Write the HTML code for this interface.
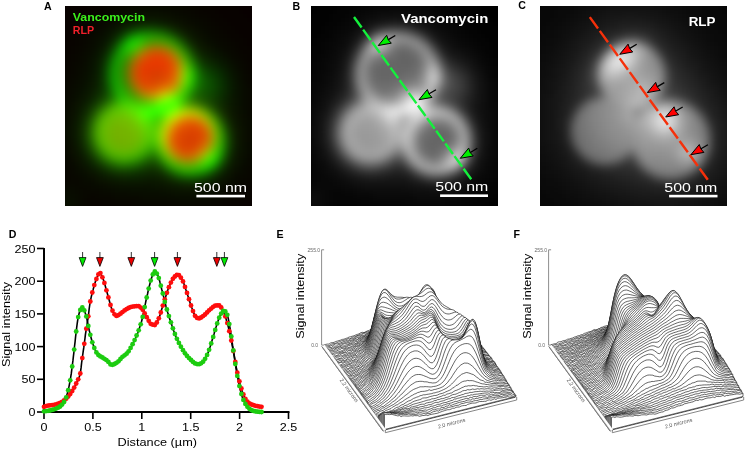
<!DOCTYPE html><html><head><meta charset="utf-8"><style>html,body{margin:0;padding:0;background:#fff;width:750px;height:450px;overflow:hidden}svg{display:block}</style></head><body>
<svg width="750" height="450" viewBox="0 0 750 450">
<defs><filter id="bl" x="-5%" y="-5%" width="110%" height="110%" color-interpolation-filters="sRGB"><feGaussianBlur stdDeviation="2.6"/></filter></defs>
<rect width="750" height="450" fill="#fff"/>
<svg x="65" y="6" width="187" height="200" viewBox="0 0 187 200" overflow="hidden"><rect width="187" height="200" fill="#000"/><g filter="url(#bl)"><path fill="#080000" d="M-8 -8h204v4h-204zM-8 -4h204v4h-204zM-8 0h204v4h-204zM-8 4h204v4h-204zM-8 8h84v4h-84zM108 8h88v4h-88zM-8 12h72v4h-72zM120 12h76v4h-76zM-8 16h64v4h-64zM128 16h68v4h-68zM-8 20h60v4h-60zM132 20h64v4h-64zM-8 24h56v4h-56zM136 24h60v4h-60zM-8 28h52v4h-52zM140 28h56v4h-56zM-8 32h52v4h-52zM140 32h56v4h-56zM-8 36h48v4h-48zM144 36h52v4h-52zM-8 40h44v4h-44zM148 40h48v4h-48zM-8 44h44v4h-44zM148 44h48v4h-48zM-8 48h44v4h-44zM148 48h48v4h-48zM-8 52h40v4h-40zM152 52h44v4h-44zM-8 56h40v4h-40zM152 56h44v4h-44zM-8 60h40v4h-40zM152 60h44v4h-44zM-8 64h40v4h-40zM152 64h44v4h-44zM-8 68h36v4h-36zM152 68h44v4h-44zM-8 72h36v4h-36zM156 72h40v4h-40zM-8 76h32v4h-32zM156 76h40v4h-40zM-8 80h32v4h-32zM160 80h36v4h-36zM-8 84h28v4h-28zM164 84h32v4h-32zM-8 88h24v4h-24zM168 88h28v4h-28zM-8 92h20v4h-20zM172 92h24v4h-24zM-8 96h16v4h-16zM172 96h24v4h-24zM-8 100h16v4h-16zM176 100h20v4h-20zM-8 104h12v4h-12zM176 104h20v4h-20zM-8 108h12v4h-12zM180 108h16v4h-16zM-8 112h12v4h-12zM180 112h16v4h-16zM-8 116h12v4h-12zM180 116h16v4h-16zM-8 120h12v4h-12zM180 120h16v4h-16zM-8 124h12v4h-12zM184 124h12v4h-12zM-8 128h12v4h-12zM184 128h12v4h-12zM-8 132h12v4h-12zM184 132h12v4h-12zM-8 136h12v4h-12zM180 136h16v4h-16zM-8 140h12v4h-12zM180 140h16v4h-16zM-8 144h12v4h-12zM180 144h16v4h-16zM-8 148h16v4h-16zM180 148h16v4h-16zM-8 152h16v4h-16zM176 152h20v4h-20zM-8 156h20v4h-20zM176 156h20v4h-20zM-8 160h24v4h-24zM172 160h24v4h-24zM-8 164h28v4h-28zM172 164h24v4h-24zM-8 168h32v4h-32zM168 168h28v4h-28zM-8 172h36v4h-36zM164 172h32v4h-32zM-8 176h44v4h-44zM160 176h36v4h-36zM-8 180h100v4h-100zM152 180h44v4h-44zM-8 184h112v4h-112zM144 184h52v4h-52zM-8 188h204v4h-204zM-8 192h204v4h-204zM-8 196h204v4h-204zM-8 200h204v4h-204zM-8 204h204v4h-204z"/><path fill="#0a0000" d="M76 8h32v4h-32zM64 12h56v4h-56zM56 16h16v4h-16zM112 16h16v4h-16zM52 20h12v4h-12zM120 20h12v4h-12zM48 24h12v4h-12zM124 24h12v4h-12zM44 28h12v4h-12zM128 28h12v4h-12zM44 32h8v4h-8zM132 32h8v4h-8zM40 36h8v4h-8zM136 36h8v4h-8zM36 40h8v4h-8zM140 40h8v4h-8zM36 44h8v4h-8zM140 44h8v4h-8zM36 48h8v4h-8zM140 48h8v4h-8zM32 52h8v4h-8zM144 52h8v4h-8zM32 56h8v4h-8zM144 56h8v4h-8zM32 60h8v4h-8zM144 60h8v4h-8zM32 64h8v4h-8zM144 64h8v4h-8zM28 68h12v4h-12zM144 68h8v4h-8zM28 72h8v4h-8zM148 72h8v4h-8zM24 76h12v4h-12zM148 76h8v4h-8zM24 80h8v4h-8zM152 80h8v4h-8zM20 84h8v4h-8zM152 84h12v4h-12zM16 88h8v4h-8zM156 88h12v4h-12zM12 92h12v4h-12zM160 92h12v4h-12zM8 96h12v4h-12zM164 96h8v4h-8zM8 100h8v4h-8zM168 100h8v4h-8zM4 104h12v4h-12zM168 104h8v4h-8zM4 108h8v4h-8zM172 108h8v4h-8zM4 112h8v4h-8zM172 112h8v4h-8zM4 116h8v4h-8zM172 116h8v4h-8zM4 120h8v4h-8zM176 120h4v4h-4zM4 124h8v4h-8zM176 124h8v4h-8zM4 128h8v4h-8zM176 128h8v4h-8zM4 132h8v4h-8zM176 132h8v4h-8zM4 136h8v4h-8zM176 136h4v4h-4zM4 140h8v4h-8zM172 140h8v4h-8zM4 144h12v4h-12zM172 144h8v4h-8zM8 148h8v4h-8zM172 148h8v4h-8zM8 152h12v4h-12zM168 152h8v4h-8zM12 156h12v4h-12zM168 156h8v4h-8zM16 160h12v4h-12zM164 160h8v4h-8zM20 164h12v4h-12zM160 164h12v4h-12zM24 168h16v4h-16zM156 168h12v4h-12zM28 172h28v4h-28zM60 172h32v4h-32zM152 172h12v4h-12zM36 176h64v4h-64zM144 176h16v4h-16zM92 180h24v4h-24zM128 180h24v4h-24zM104 184h40v4h-40z"/><path fill="#0c0000" d="M72 16h40v4h-40zM64 20h8v4h-8zM112 20h8v4h-8zM60 24h4v4h-4zM120 24h4v4h-4zM56 28h4v4h-4zM124 28h4v4h-4zM52 32h4v4h-4zM128 32h4v4h-4zM48 36h4v4h-4zM132 36h4v4h-4zM44 40h8v4h-8zM132 40h8v4h-8zM44 44h4v4h-4zM136 44h4v4h-4zM44 48h4v4h-4zM136 48h4v4h-4zM40 52h4v4h-4zM140 52h4v4h-4zM40 56h4v4h-4zM140 56h4v4h-4zM40 60h4v4h-4zM140 60h4v4h-4zM40 64h4v4h-4zM140 64h4v4h-4zM40 68h4v4h-4zM140 68h4v4h-4zM36 72h4v4h-4zM144 72h4v4h-4zM36 76h4v4h-4zM144 76h4v4h-4zM32 80h8v4h-8zM144 80h8v4h-8zM28 84h8v4h-8zM148 84h4v4h-4zM24 88h8v4h-8zM152 88h4v4h-4zM24 92h4v4h-4zM156 92h4v4h-4zM20 96h4v4h-4zM160 96h4v4h-4zM16 100h4v4h-4zM164 100h4v4h-4zM16 104h4v4h-4zM164 104h4v4h-4zM12 108h4v4h-4zM168 108h4v4h-4zM12 112h4v4h-4zM168 112h4v4h-4zM12 116h4v4h-4zM168 116h4v4h-4zM172 120h4v4h-4zM172 124h4v4h-4zM172 128h4v4h-4zM12 132h4v4h-4zM172 132h4v4h-4zM12 136h4v4h-4zM172 136h4v4h-4zM12 140h4v4h-4zM168 140h4v4h-4zM16 144h4v4h-4zM168 144h4v4h-4zM16 148h4v4h-4zM168 148h4v4h-4zM20 152h4v4h-4zM164 152h4v4h-4zM24 156h4v4h-4zM164 156h4v4h-4zM28 160h4v4h-4zM160 160h4v4h-4zM32 164h8v4h-8zM156 164h4v4h-4zM40 168h12v4h-12zM64 168h28v4h-28zM152 168h4v4h-4zM56 172h4v4h-4zM92 172h8v4h-8zM144 172h8v4h-8zM100 176h16v4h-16zM128 176h16v4h-16zM116 180h12v4h-12z"/><path fill="#0e0000" d="M72 20h8v4h-8zM104 20h8v4h-8zM64 24h8v4h-8zM112 24h8v4h-8zM60 28h4v4h-4zM120 28h4v4h-4zM56 32h4v4h-4zM124 32h4v4h-4zM52 36h4v4h-4zM128 36h4v4h-4zM48 44h4v4h-4zM132 44h4v4h-4zM44 52h4v4h-4zM136 52h4v4h-4zM44 56h4v4h-4zM136 56h4v4h-4zM136 60h4v4h-4zM40 72h4v4h-4zM140 72h4v4h-4zM40 76h4v4h-4zM140 76h4v4h-4zM40 80h4v4h-4zM140 80h4v4h-4zM36 84h4v4h-4zM144 84h4v4h-4zM32 88h4v4h-4zM148 88h4v4h-4zM28 92h4v4h-4zM152 92h4v4h-4zM24 96h4v4h-4zM156 96h4v4h-4zM20 100h4v4h-4zM160 100h4v4h-4zM16 108h4v4h-4zM164 108h4v4h-4zM164 112h4v4h-4zM12 120h4v4h-4zM168 120h4v4h-4zM12 124h4v4h-4zM168 124h4v4h-4zM12 128h4v4h-4zM168 128h4v4h-4zM168 132h4v4h-4zM168 136h4v4h-4zM16 140h4v4h-4zM164 144h4v4h-4zM20 148h4v4h-4zM164 148h4v4h-4zM24 152h4v4h-4zM28 156h4v4h-4zM160 156h4v4h-4zM32 160h4v4h-4zM156 160h4v4h-4zM40 164h4v4h-4zM72 164h20v4h-20zM152 164h4v4h-4zM52 168h12v4h-12zM92 168h8v4h-8zM144 168h8v4h-8zM100 172h8v4h-8zM136 172h8v4h-8zM116 176h12v4h-12z"/><path fill="#100000" d="M80 20h24v4h-24zM72 24h4v4h-4zM108 24h4v4h-4zM64 28h4v4h-4zM116 28h4v4h-4zM60 32h4v4h-4zM120 32h4v4h-4zM56 36h4v4h-4zM124 36h4v4h-4zM52 40h4v4h-4zM128 40h4v4h-4zM48 48h4v4h-4zM132 48h4v4h-4zM44 60h4v4h-4zM44 64h4v4h-4zM136 64h4v4h-4zM44 68h4v4h-4zM136 68h4v4h-4zM44 72h4v4h-4zM136 72h4v4h-4zM44 76h4v4h-4zM136 76h4v4h-4zM40 84h4v4h-4zM140 84h4v4h-4zM144 88h4v4h-4zM148 92h4v4h-4zM152 96h4v4h-4zM156 100h4v4h-4zM20 104h4v4h-4zM160 104h4v4h-4zM16 112h4v4h-4zM16 116h4v4h-4zM164 116h4v4h-4zM16 132h4v4h-4zM16 136h4v4h-4zM164 140h4v4h-4zM20 144h4v4h-4zM160 152h4v4h-4zM156 156h4v4h-4zM36 160h4v4h-4zM84 160h4v4h-4zM152 160h4v4h-4zM44 164h8v4h-8zM64 164h8v4h-8zM92 164h4v4h-4zM148 164h4v4h-4zM100 168h4v4h-4zM140 168h4v4h-4zM108 172h28v4h-28z"/><path fill="#120000" d="M76 24h4v4h-4zM104 24h4v4h-4zM68 28h4v4h-4zM112 28h4v4h-4zM52 44h4v4h-4zM128 44h4v4h-4zM48 52h4v4h-4zM132 52h4v4h-4zM48 56h4v4h-4zM132 56h4v4h-4zM44 80h4v4h-4zM136 80h4v4h-4zM136 84h4v4h-4zM36 88h4v4h-4zM140 88h4v4h-4zM32 92h4v4h-4zM28 96h4v4h-4zM24 100h4v4h-4zM20 108h4v4h-4zM160 108h4v4h-4zM16 120h4v4h-4zM164 120h4v4h-4zM16 124h4v4h-4zM164 124h4v4h-4zM16 128h4v4h-4zM164 128h4v4h-4zM164 132h4v4h-4zM164 136h4v4h-4zM20 140h4v4h-4zM24 148h4v4h-4zM160 148h4v4h-4zM28 152h4v4h-4zM32 156h4v4h-4zM40 160h4v4h-4zM76 160h8v4h-8zM88 160h4v4h-4zM52 164h12v4h-12zM96 164h4v4h-4zM144 164h4v4h-4zM104 168h4v4h-4zM136 168h4v4h-4z"/><path fill="#140000" d="M80 24h4v4h-4zM100 24h4v4h-4zM64 32h4v4h-4zM116 32h4v4h-4zM60 36h4v4h-4zM120 36h4v4h-4zM56 40h4v4h-4zM124 40h4v4h-4zM52 48h4v4h-4zM128 48h4v4h-4zM48 60h4v4h-4zM132 60h4v4h-4zM48 64h4v4h-4zM132 64h4v4h-4zM48 68h4v4h-4zM132 68h4v4h-4zM48 72h4v4h-4zM132 72h4v4h-4zM48 76h4v4h-4zM132 76h4v4h-4zM44 84h4v4h-4zM40 88h4v4h-4zM144 92h4v4h-4zM148 96h4v4h-4zM152 100h4v4h-4zM156 104h4v4h-4zM160 112h4v4h-4zM160 144h4v4h-4zM156 152h4v4h-4zM152 156h4v4h-4zM72 160h4v4h-4zM92 160h4v4h-4zM148 160h4v4h-4zM108 168h4v4h-4zM132 168h4v4h-4z"/><path fill="#160000" d="M84 24h16v4h-16zM72 28h4v4h-4zM108 28h4v4h-4zM48 80h4v4h-4zM132 80h4v4h-4zM132 84h4v4h-4zM136 88h4v4h-4zM36 92h4v4h-4zM24 104h4v4h-4zM20 112h4v4h-4zM160 116h4v4h-4zM20 136h4v4h-4zM160 140h4v4h-4zM24 144h4v4h-4zM36 156h4v4h-4zM80 156h12v4h-12zM44 160h4v4h-4zM68 160h4v4h-4zM100 164h4v4h-4zM140 164h4v4h-4zM112 168h4v4h-4zM128 168h4v4h-4z"/><path fill="#180000" d="M56 44h4v4h-4zM124 44h4v4h-4zM52 52h4v4h-4zM128 52h4v4h-4zM48 84h4v4h-4zM44 88h4v4h-4zM140 92h4v4h-4zM32 96h4v4h-4zM28 100h4v4h-4zM156 108h4v4h-4zM20 116h4v4h-4zM160 120h4v4h-4zM20 132h4v4h-4zM160 136h4v4h-4zM28 148h4v4h-4zM156 148h4v4h-4zM32 152h4v4h-4zM76 156h4v4h-4zM48 160h4v4h-4zM64 160h4v4h-4zM96 160h4v4h-4zM104 164h4v4h-4zM116 168h12v4h-12z"/><path fill="#1a0000" d="M76 28h4v4h-4zM104 28h4v4h-4zM68 32h4v4h-4zM112 32h4v4h-4zM132 88h4v4h-4zM144 96h4v4h-4zM152 104h4v4h-4zM24 108h4v4h-4zM20 120h4v4h-4zM20 124h4v4h-4zM160 124h4v4h-4zM20 128h4v4h-4zM160 132h4v4h-4zM24 140h4v4h-4zM152 152h4v4h-4zM40 156h4v4h-4zM92 156h4v4h-4zM52 160h12v4h-12zM144 160h4v4h-4zM136 164h4v4h-4z"/><path fill="#1c0000" d="M64 36h4v4h-4zM116 36h4v4h-4zM60 40h4v4h-4zM120 40h4v4h-4zM52 56h4v4h-4zM128 56h4v4h-4zM52 76h4v4h-4zM128 76h4v4h-4zM52 80h4v4h-4zM128 80h4v4h-4zM52 84h4v4h-4zM128 84h4v4h-4zM40 92h4v4h-4zM148 100h4v4h-4zM156 112h4v4h-4zM160 128h4v4h-4zM156 144h4v4h-4zM84 152h8v4h-8zM72 156h4v4h-4zM148 156h4v4h-4z"/><path fill="#1e0000" d="M80 28h4v4h-4zM100 28h4v4h-4zM52 60h4v4h-4zM128 60h4v4h-4zM52 72h4v4h-4zM128 72h4v4h-4zM48 88h4v4h-4zM136 92h4v4h-4zM80 152h4v4h-4zM100 160h4v4h-4zM108 164h4v4h-4z"/><path fill="#200000" d="M56 48h4v4h-4zM124 48h4v4h-4zM52 64h4v4h-4zM128 64h4v4h-4zM52 68h4v4h-4zM128 68h4v4h-4zM128 88h4v4h-4zM36 96h4v4h-4zM28 104h4v4h-4zM24 112h4v4h-4zM24 136h4v4h-4zM28 144h4v4h-4zM32 148h4v4h-4zM36 152h4v4h-4zM44 156h4v4h-4zM68 156h4v4h-4zM132 164h4v4h-4z"/><path fill="#220000" d="M84 28h4v4h-4zM96 28h4v4h-4zM72 32h4v4h-4zM108 32h4v4h-4zM52 88h4v4h-4zM44 92h4v4h-4zM32 100h4v4h-4zM156 116h4v4h-4zM156 140h4v4h-4zM76 152h4v4h-4zM96 156h4v4h-4zM140 160h4v4h-4zM112 164h4v4h-4z"/><path fill="#240000" d="M88 28h8v4h-8zM124 84h4v4h-4zM132 92h4v4h-4zM140 96h4v4h-4zM152 108h4v4h-4zM24 116h4v4h-4zM24 132h4v4h-4zM84 148h4v4h-4zM152 148h4v4h-4zM92 152h4v4h-4zM48 156h4v4h-4zM64 156h4v4h-4zM128 164h4v4h-4z"/><path fill="#260000" d="M68 36h4v4h-4zM112 36h4v4h-4zM60 44h4v4h-4zM120 44h4v4h-4zM56 52h4v4h-4zM124 52h4v4h-4zM56 84h4v4h-4zM124 88h4v4h-4zM88 148h4v4h-4zM144 156h4v4h-4zM116 164h4v4h-4z"/><path fill="#280000" d="M64 40h4v4h-4zM116 40h4v4h-4zM56 80h4v4h-4zM124 80h4v4h-4zM56 88h4v4h-4zM48 92h4v4h-4zM40 96h4v4h-4zM144 100h4v4h-4zM148 104h4v4h-4zM28 108h4v4h-4zM24 120h4v4h-4zM156 120h4v4h-4zM24 124h4v4h-4zM24 128h4v4h-4zM156 136h4v4h-4zM28 140h4v4h-4zM80 148h4v4h-4zM40 152h4v4h-4zM148 152h4v4h-4zM52 156h12v4h-12zM104 160h4v4h-4zM120 164h8v4h-8z"/><path fill="#2a0000" d="M76 32h4v4h-4zM104 32h4v4h-4zM72 152h4v4h-4z"/><path fill="#2c0000" d="M128 92h4v4h-4zM36 100h4v4h-4zM32 104h4v4h-4zM156 124h4v4h-4zM156 132h4v4h-4zM32 144h4v4h-4zM36 148h4v4h-4zM136 160h4v4h-4z"/><path fill="#2e0000" d="M56 56h4v4h-4zM124 56h4v4h-4zM56 76h4v4h-4zM124 76h4v4h-4zM52 92h4v4h-4zM136 96h4v4h-4zM156 128h4v4h-4zM84 144h4v4h-4zM152 144h4v4h-4z"/><path fill="#300000" d="M120 88h4v4h-4zM28 112h4v4h-4zM152 112h4v4h-4zM28 136h4v4h-4zM76 148h4v4h-4zM44 152h4v4h-4zM68 152h4v4h-4zM100 156h4v4h-4z"/><path fill="#320000" d="M60 88h4v4h-4zM56 92h4v4h-4zM124 92h4v4h-4zM44 96h4v4h-4zM88 144h4v4h-4zM92 148h4v4h-4zM108 160h4v4h-4z"/><path fill="#340000" d="M80 32h4v4h-4zM100 32h4v4h-4zM60 48h4v4h-4zM120 48h4v4h-4zM56 60h4v4h-4zM124 60h4v4h-4zM56 72h4v4h-4zM124 72h4v4h-4zM120 84h4v4h-4zM80 144h4v4h-4zM96 152h4v4h-4z"/><path fill="#360000" d="M72 36h4v4h-4zM108 36h4v4h-4zM56 68h4v4h-4zM124 68h4v4h-4zM60 84h4v4h-4zM28 116h4v4h-4zM28 132h4v4h-4zM48 152h4v4h-4zM64 152h4v4h-4zM140 156h4v4h-4zM132 160h4v4h-4z"/><path fill="#380000" d="M56 64h4v4h-4zM124 64h4v4h-4zM60 92h4v4h-4zM120 92h4v4h-4zM40 100h4v4h-4zM140 100h4v4h-4zM88 104h4v4h-4zM32 108h4v4h-4zM32 140h4v4h-4zM40 148h4v4h-4zM148 148h4v4h-4z"/><path fill="#3a0000" d="M48 96h4v4h-4zM132 96h4v4h-4zM36 104h4v4h-4zM84 104h4v4h-4zM88 108h4v4h-4zM148 108h4v4h-4zM28 120h4v4h-4zM28 128h4v4h-4zM84 140h4v4h-4zM36 144h4v4h-4zM72 148h4v4h-4zM52 152h4v4h-4zM60 152h4v4h-4z"/><path fill="#3c0000" d="M84 32h4v4h-4zM96 32h4v4h-4zM64 44h4v4h-4zM116 44h4v4h-4zM92 104h4v4h-4zM144 104h4v4h-4zM152 116h4v4h-4zM28 124h4v4h-4zM152 140h4v4h-4zM56 152h4v4h-4zM144 152h4v4h-4zM112 160h4v4h-4z"/><path fill="#3e0000" d="M68 40h4v4h-4zM112 40h4v4h-4zM64 92h4v4h-4zM84 108h4v4h-4z"/><path fill="#400000" d="M88 32h8v4h-8zM60 80h4v4h-4zM120 80h4v4h-4zM116 88h4v4h-4zM116 92h4v4h-4zM52 96h4v4h-4zM88 140h4v4h-4zM76 144h4v4h-4zM128 160h4v4h-4z"/><path fill="#420000" d="M60 52h4v4h-4zM120 52h4v4h-4zM64 88h4v4h-4zM84 100h8v4h-8zM80 104h4v4h-4zM92 108h4v4h-4zM32 112h4v4h-4zM88 112h4v4h-4zM32 136h4v4h-4zM80 140h4v4h-4zM44 148h4v4h-4zM104 156h4v4h-4z"/><path fill="#440000" d="M56 96h8v4h-8zM44 100h4v4h-4zM80 100h4v4h-4zM92 100h4v4h-4zM84 112h4v4h-4zM68 148h4v4h-4zM116 160h4v4h-4z"/><path fill="#460000" d="M64 96h4v4h-4zM128 96h4v4h-4zM76 100h4v4h-4zM84 136h4v4h-4zM92 144h4v4h-4zM124 160h4v4h-4z"/><path fill="#480000" d="M76 36h4v4h-4zM104 36h4v4h-4zM68 92h4v4h-4zM68 96h4v4h-4zM96 100h4v4h-4zM40 104h4v4h-4zM96 104h4v4h-4zM36 108h4v4h-4zM80 108h4v4h-4zM152 120h4v4h-4zM152 136h4v4h-4zM36 140h4v4h-4zM40 144h4v4h-4zM120 160h4v4h-4z"/><path fill="#4a0000" d="M72 96h4v4h-4zM32 116h4v4h-4zM32 132h4v4h-4zM48 148h4v4h-4zM64 148h4v4h-4zM100 152h4v4h-4zM136 156h4v4h-4z"/><path fill="#4c0000" d="M60 76h4v4h-4zM112 92h4v4h-4zM48 100h4v4h-4zM72 100h4v4h-4zM136 100h4v4h-4zM76 104h4v4h-4zM72 144h4v4h-4zM96 148h4v4h-4z"/><path fill="#4e0000" d="M120 76h4v4h-4zM124 96h4v4h-4zM148 112h4v4h-4zM84 116h8v4h-8zM32 120h4v4h-4zM32 128h4v4h-4zM80 136h4v4h-4zM88 136h4v4h-4zM76 140h4v4h-4zM148 144h4v4h-4zM52 148h4v4h-4zM60 148h4v4h-4z"/><path fill="#500000" d="M64 84h4v4h-4zM116 84h4v4h-4zM76 96h4v4h-4zM68 100h4v4h-4zM100 100h4v4h-4zM80 112h4v4h-4zM92 112h4v4h-4zM32 124h4v4h-4zM152 124h4v4h-4zM84 132h4v4h-4zM152 132h4v4h-4zM56 148h4v4h-4z"/><path fill="#520000" d="M60 56h4v4h-4zM120 56h4v4h-4zM120 96h4v4h-4zM52 100h4v4h-4zM152 128h4v4h-4z"/><path fill="#540000" d="M64 48h4v4h-4zM116 48h4v4h-4zM108 96h12v4h-12zM64 100h4v4h-4zM44 104h4v4h-4zM72 104h4v4h-4zM76 108h4v4h-4zM36 112h4v4h-4zM84 120h4v4h-4zM36 136h4v4h-4zM44 144h4v4h-4zM108 156h4v4h-4z"/><path fill="#560000" d="M80 96h4v4h-4zM104 96h4v4h-4zM56 100h8v4h-8zM40 108h4v4h-4zM84 128h4v4h-4zM40 140h4v4h-4zM68 144h4v4h-4zM140 152h4v4h-4z"/><path fill="#580000" d="M80 36h4v4h-4zM100 36h4v4h-4zM72 40h4v4h-4zM108 40h4v4h-4zM60 72h4v4h-4zM120 72h4v4h-4zM68 88h4v4h-4zM72 92h4v4h-4zM140 104h4v4h-4zM96 108h4v4h-4zM144 108h4v4h-4zM80 116h4v4h-4zM88 120h4v4h-4zM84 124h4v4h-4zM80 132h4v4h-4zM88 132h4v4h-4zM144 148h4v4h-4z"/><path fill="#5a0000" d="M112 88h4v4h-4zM108 92h4v4h-4zM100 96h4v4h-4zM104 100h4v4h-4zM36 116h4v4h-4zM36 132h4v4h-4zM76 136h4v4h-4zM72 140h4v4h-4zM92 140h4v4h-4zM48 144h4v4h-4z"/><path fill="#5c0000" d="M68 44h4v4h-4zM112 44h4v4h-4zM60 60h4v4h-4zM120 60h4v4h-4zM84 96h4v4h-4zM48 104h4v4h-4zM68 104h4v4h-4zM100 104h4v4h-4zM80 120h4v4h-4zM80 128h4v4h-4zM64 144h4v4h-4zM132 156h4v4h-4z"/><path fill="#5e0000" d="M96 96h4v4h-4zM76 112h4v4h-4zM36 120h4v4h-4zM80 124h4v4h-4zM88 124h4v4h-4zM36 128h4v4h-4zM88 128h4v4h-4zM52 144h4v4h-4z"/><path fill="#600000" d="M60 64h4v4h-4zM120 64h4v4h-4zM60 68h4v4h-4zM120 68h4v4h-4zM88 96h4v4h-4zM132 100h4v4h-4zM52 104h4v4h-4zM44 108h4v4h-4zM72 108h4v4h-4zM40 112h4v4h-4zM36 124h4v4h-4zM40 136h4v4h-4zM44 140h4v4h-4zM56 144h8v4h-8z"/><path fill="#620000" d="M92 96h4v4h-4zM64 104h4v4h-4zM92 116h4v4h-4zM76 132h4v4h-4zM68 140h4v4h-4z"/><path fill="#640000" d="M64 80h4v4h-4zM116 80h4v4h-4zM56 104h8v4h-8zM76 116h4v4h-4zM148 116h4v4h-4zM72 136h4v4h-4zM148 140h4v4h-4zM112 156h4v4h-4z"/><path fill="#660000" d="M84 36h4v4h-4zM96 36h4v4h-4zM48 108h4v4h-4zM68 108h4v4h-4zM40 116h4v4h-4zM76 128h4v4h-4zM40 132h4v4h-4zM48 140h4v4h-4zM96 144h4v4h-4zM104 152h4v4h-4z"/><path fill="#680000" d="M108 100h4v4h-4zM44 112h4v4h-4zM72 112h4v4h-4zM76 120h4v4h-4zM76 124h4v4h-4zM40 128h4v4h-4zM44 136h4v4h-4zM64 140h4v4h-4z"/><path fill="#6a0000" d="M76 92h4v4h-4zM52 108h4v4h-4zM64 108h4v4h-4zM40 120h4v4h-4zM40 124h4v4h-4zM72 132h4v4h-4zM68 136h4v4h-4zM92 136h4v4h-4zM52 140h12v4h-12z"/><path fill="#6c0000" d="M88 36h8v4h-8zM64 52h4v4h-4zM116 52h4v4h-4zM104 92h4v4h-4zM56 108h8v4h-8zM44 116h4v4h-4zM72 116h4v4h-4zM44 132h4v4h-4zM48 136h4v4h-4zM100 148h4v4h-4zM128 156h4v4h-4z"/><path fill="#6e0000" d="M48 112h4v4h-4zM68 112h4v4h-4zM44 120h4v4h-4zM72 120h4v4h-4zM44 128h4v4h-4zM72 128h4v4h-4zM52 136h4v4h-4zM64 136h4v4h-4z"/><path fill="#700000" d="M128 100h4v4h-4zM52 112h4v4h-4zM64 112h4v4h-4zM96 112h4v4h-4zM48 116h4v4h-4zM68 116h4v4h-4zM92 120h4v4h-4zM44 124h4v4h-4zM72 124h4v4h-4zM48 132h4v4h-4zM68 132h4v4h-4zM56 136h8v4h-8zM116 156h4v4h-4z"/><path fill="#720000" d="M76 40h4v4h-4zM104 40h4v4h-4zM68 84h4v4h-4zM56 112h8v4h-8zM52 116h4v4h-4zM64 116h4v4h-4zM48 120h4v4h-4zM68 120h4v4h-4zM48 124h4v4h-4zM68 124h4v4h-4zM48 128h4v4h-4zM68 128h4v4h-4zM52 132h16v4h-16zM136 152h4v4h-4z"/><path fill="#740000" d="M112 84h4v4h-4zM72 88h4v4h-4zM112 100h4v4h-4zM104 104h4v4h-4zM136 104h4v4h-4zM56 116h8v4h-8zM52 120h16v4h-16zM148 120h4v4h-4zM52 124h16v4h-16zM52 128h16v4h-16zM148 136h4v4h-4zM124 156h4v4h-4z"/><path fill="#760000" d="M108 88h4v4h-4zM144 112h4v4h-4zM144 144h4v4h-4zM120 156h4v4h-4z"/><path fill="#780000" d="M100 108h4v4h-4zM92 132h4v4h-4z"/><path fill="#7a0000" d="M64 76h4v4h-4zM116 76h4v4h-4zM80 92h4v4h-4zM124 100h4v4h-4zM92 124h4v4h-4z"/><path fill="#7c0000" d="M68 48h4v4h-4zM112 48h4v4h-4zM100 92h4v4h-4zM116 100h4v4h-4zM140 108h4v4h-4zM92 128h4v4h-4zM140 148h4v4h-4z"/><path fill="#7e0000" d="M72 44h4v4h-4zM108 44h4v4h-4zM120 100h4v4h-4z"/><path fill="#810000" d="M64 56h4v4h-4zM116 56h4v4h-4zM148 124h4v4h-4zM148 132h4v4h-4zM96 140h4v4h-4zM108 152h4v4h-4z"/><path fill="#850000" d="M148 128h4v4h-4z"/><path fill="#870000" d="M84 92h4v4h-4zM96 116h4v4h-4z"/><path fill="#890000" d="M80 40h4v4h-4zM100 40h4v4h-4zM96 92h4v4h-4z"/><path fill="#8b0000" d="M64 72h4v4h-4zM116 72h4v4h-4zM132 152h4v4h-4z"/><path fill="#8d0000" d="M108 104h4v4h-4z"/><path fill="#8f0000" d="M64 60h4v4h-4zM116 60h4v4h-4zM88 92h8v4h-8zM132 104h4v4h-4zM100 144h4v4h-4zM104 148h4v4h-4z"/><path fill="#910000" d="M68 80h4v4h-4zM112 80h4v4h-4zM76 88h4v4h-4zM104 88h4v4h-4zM144 116h4v4h-4zM144 140h4v4h-4z"/><path fill="#930000" d="M64 68h4v4h-4zM116 68h4v4h-4z"/><path fill="#950000" d="M64 64h4v4h-4zM116 64h4v4h-4zM96 136h4v4h-4zM112 152h4v4h-4z"/><path fill="#970000" d="M72 84h4v4h-4zM100 112h4v4h-4z"/><path fill="#990000" d="M84 40h4v4h-4zM96 40h4v4h-4zM108 84h4v4h-4zM104 108h4v4h-4zM96 120h4v4h-4z"/><path fill="#9b0000" d="M68 52h4v4h-4zM112 52h4v4h-4zM136 148h4v4h-4zM128 152h4v4h-4z"/><path fill="#9d0000" d="M140 144h4v4h-4z"/><path fill="#9f0000" d="M76 44h4v4h-4zM104 44h4v4h-4zM112 104h4v4h-4zM136 108h4v4h-4zM140 112h4v4h-4z"/><path fill="#a10000" d="M88 40h8v4h-8zM128 104h4v4h-4zM116 152h4v4h-4z"/><path fill="#a30000" d="M96 132h4v4h-4zM144 136h4v4h-4z"/><path fill="#a50000" d="M72 48h4v4h-4zM108 48h4v4h-4zM80 88h4v4h-4zM144 120h4v4h-4zM96 124h4v4h-4zM124 152h4v4h-4z"/><path fill="#a70000" d="M68 76h4v4h-4zM112 76h4v4h-4zM100 88h4v4h-4zM96 128h4v4h-4zM120 152h4v4h-4z"/><path fill="#a90000" d="M100 140h4v4h-4z"/><path fill="#ab0000" d="M116 104h4v4h-4zM124 104h4v4h-4zM108 148h4v4h-4z"/><path fill="#ad0000" d="M120 104h4v4h-4z"/><path fill="#af0000" d="M68 56h4v4h-4zM112 56h4v4h-4zM100 116h4v4h-4zM144 124h4v4h-4zM144 132h4v4h-4z"/><path fill="#b10000" d="M144 128h4v4h-4zM104 144h4v4h-4z"/><path fill="#b30000" d="M84 88h4v4h-4zM108 108h4v4h-4zM132 148h4v4h-4z"/><path fill="#b50000" d="M80 44h4v4h-4zM100 44h4v4h-4zM72 80h4v4h-4zM108 80h4v4h-4zM76 84h4v4h-4zM104 84h4v4h-4zM96 88h4v4h-4zM132 108h4v4h-4z"/><path fill="#b70000" d="M68 72h4v4h-4zM112 72h4v4h-4zM104 112h4v4h-4zM140 116h4v4h-4zM140 140h4v4h-4z"/><path fill="#b90000" d="M88 88h4v4h-4z"/><path fill="#bb0000" d="M68 60h4v4h-4zM112 60h4v4h-4zM92 88h4v4h-4zM136 144h4v4h-4zM112 148h4v4h-4z"/><path fill="#bd0000" d="M136 112h4v4h-4zM100 136h4v4h-4z"/><path fill="#bf0000" d="M72 52h4v4h-4zM108 52h4v4h-4zM68 68h4v4h-4zM112 68h4v4h-4zM100 120h4v4h-4z"/><path fill="#c10000" d="M76 48h4v4h-4zM104 48h4v4h-4zM68 64h4v4h-4zM112 64h4v4h-4zM128 148h4v4h-4z"/><path fill="#c30000" d="M84 44h4v4h-4zM96 44h4v4h-4zM112 108h4v4h-4z"/><path fill="#c50000" d="M128 108h4v4h-4zM140 136h4v4h-4zM116 148h4v4h-4z"/><path fill="#c70000" d="M80 84h4v4h-4zM100 84h4v4h-4zM140 120h4v4h-4zM100 124h4v4h-4zM100 132h4v4h-4zM104 140h4v4h-4zM108 144h4v4h-4zM124 148h4v4h-4z"/><path fill="#c90000" d="M88 44h8v4h-8zM72 76h4v4h-4zM108 76h4v4h-4zM120 148h4v4h-4z"/><path fill="#cb0000" d="M104 116h4v4h-4zM100 128h4v4h-4zM132 144h4v4h-4z"/><path fill="#cd0000" d="M76 80h4v4h-4zM104 80h4v4h-4zM116 108h4v4h-4zM124 108h4v4h-4zM108 112h4v4h-4zM140 124h4v4h-4zM140 132h4v4h-4zM136 140h4v4h-4z"/><path fill="#cf0000" d="M72 56h4v4h-4zM108 56h4v4h-4zM120 108h4v4h-4zM132 112h4v4h-4zM136 116h4v4h-4zM140 128h4v4h-4z"/><path fill="#d10000" d="M84 84h4v4h-4zM96 84h4v4h-4zM112 144h4v4h-4z"/><path fill="#d30000" d="M80 48h4v4h-4zM100 48h4v4h-4zM72 72h4v4h-4zM108 72h4v4h-4zM104 136h4v4h-4zM128 144h4v4h-4z"/><path fill="#d50000" d="M88 84h8v4h-8zM136 136h4v4h-4zM108 140h4v4h-4z"/><path fill="#d70000" d="M76 52h4v4h-4zM104 52h4v4h-4zM72 60h4v4h-4zM108 60h4v4h-4zM104 120h4v4h-4zM136 120h4v4h-4zM132 140h4v4h-4zM116 144h12v4h-12z"/><path fill="#d90000" d="M72 64h4v4h-4zM108 64h4v4h-4zM72 68h4v4h-4zM108 68h4v4h-4zM76 76h4v4h-4zM104 76h4v4h-4zM80 80h4v4h-4zM100 80h4v4h-4zM112 112h4v4h-4zM128 112h4v4h-4zM120 128h8v4h-8zM104 132h4v4h-4zM120 132h12v4h-12zM136 132h4v4h-4zM120 136h12v4h-12zM128 140h4v4h-4z"/><path fill="#db0000" d="M84 48h4v4h-4zM96 48h4v4h-4zM88 68h8v4h-8zM88 72h8v4h-8zM108 116h4v4h-4zM132 116h4v4h-4zM104 124h4v4h-4zM136 124h4v4h-4zM128 128h4v4h-4zM136 128h4v4h-4zM116 132h4v4h-4zM132 132h4v4h-4zM116 136h4v4h-4zM132 136h4v4h-4zM112 140h16v4h-16z"/><path fill="#dd0000" d="M88 64h8v4h-8zM84 68h4v4h-4zM96 68h4v4h-4zM84 72h4v4h-4zM96 72h4v4h-4zM88 76h8v4h-8zM84 80h16v4h-16zM116 112h4v4h-4zM124 112h4v4h-4zM120 124h16v4h-16zM104 128h4v4h-4zM116 128h4v4h-4zM132 128h4v4h-4zM108 136h8v4h-8z"/><path fill="#df0000" d="M88 48h8v4h-8zM76 56h4v4h-4zM104 56h4v4h-4zM84 64h4v4h-4zM96 64h4v4h-4zM76 72h4v4h-4zM104 72h4v4h-4zM80 76h8v4h-8zM96 76h8v4h-8zM120 112h4v4h-4zM128 116h4v4h-4zM124 120h12v4h-12zM116 124h4v4h-4zM112 128h4v4h-4zM108 132h8v4h-8z"/><path fill="#e10000" d="M80 52h4v4h-4zM100 52h4v4h-4zM76 68h8v4h-8zM100 68h8v4h-8zM80 72h4v4h-4zM100 72h4v4h-4zM112 116h4v4h-4zM124 116h4v4h-4zM108 120h4v4h-4zM120 120h4v4h-4zM112 124h4v4h-4zM108 128h4v4h-4z"/><path fill="#e30000" d="M76 60h4v4h-4zM84 60h16v4h-16zM104 60h4v4h-4zM76 64h8v4h-8zM100 64h8v4h-8zM116 116h8v4h-8zM112 120h8v4h-8zM108 124h4v4h-4z"/><path fill="#e50000" d="M84 52h4v4h-4zM96 52h4v4h-4zM80 56h4v4h-4zM100 56h4v4h-4zM80 60h4v4h-4zM100 60h4v4h-4z"/><path fill="#e70000" d="M88 52h8v4h-8zM84 56h16v4h-16z"/></g><g filter="url(#bl)" style="mix-blend-mode:screen"><path fill="#000000" d="M-8 -8h16v4h-16zM164 -8h32v4h-32zM-8 -4h16v4h-16zM168 -4h28v4h-28zM-8 0h12v4h-12zM172 0h24v4h-24zM-8 4h8v4h-8zM176 4h20v4h-20zM-8 8h4v4h-4zM180 8h16v4h-16zM-8 12h4v4h-4zM184 12h12v4h-12zM188 16h8v4h-8zM192 20h4v4h-4zM192 24h4v4h-4z"/><path fill="#000200" d="M8 -8h28v4h-28zM136 -8h28v4h-28zM8 -4h24v4h-24zM144 -4h24v4h-24zM4 0h20v4h-20zM148 0h24v4h-24zM0 4h24v4h-24zM152 4h24v4h-24zM-4 8h24v4h-24zM156 8h24v4h-24zM-4 12h20v4h-20zM160 12h24v4h-24zM-8 16h20v4h-20zM164 16h24v4h-24zM-8 20h16v4h-16zM168 20h24v4h-24zM-8 24h16v4h-16zM172 24h20v4h-20zM-8 28h12v4h-12zM176 28h20v4h-20zM-8 32h12v4h-12zM180 32h16v4h-16zM-8 36h8v4h-8zM180 36h16v4h-16zM-8 40h8v4h-8zM184 40h12v4h-12zM-8 44h4v4h-4zM188 44h8v4h-8zM-8 48h4v4h-4zM188 48h8v4h-8zM-8 52h4v4h-4zM192 52h4v4h-4zM192 56h4v4h-4zM192 180h4v4h-4zM188 184h8v4h-8zM188 188h8v4h-8zM184 192h12v4h-12zM176 196h20v4h-20zM172 200h24v4h-24zM168 204h28v4h-28z"/><path fill="#000400" d="M36 -8h16v4h-16zM116 -8h20v4h-20zM32 -4h16v4h-16zM124 -4h20v4h-20zM24 0h16v4h-16zM132 0h16v4h-16zM24 4h12v4h-12zM136 4h16v4h-16zM20 8h12v4h-12zM144 8h12v4h-12zM16 12h12v4h-12zM148 12h12v4h-12zM12 16h12v4h-12zM152 16h12v4h-12zM8 20h12v4h-12zM156 20h12v4h-12zM8 24h8v4h-8zM160 24h12v4h-12zM4 28h12v4h-12zM164 28h12v4h-12zM4 32h8v4h-8zM168 32h12v4h-12zM0 36h12v4h-12zM172 36h8v4h-8zM0 40h8v4h-8zM172 40h12v4h-12zM-4 44h12v4h-12zM176 44h12v4h-12zM-4 48h8v4h-8zM180 48h8v4h-8zM-4 52h8v4h-8zM180 52h12v4h-12zM-8 56h12v4h-12zM184 56h8v4h-8zM-8 60h8v4h-8zM184 60h12v4h-12zM-8 64h8v4h-8zM188 64h8v4h-8zM-8 68h4v4h-4zM188 68h8v4h-8zM-8 72h4v4h-4zM188 72h8v4h-8zM-8 76h4v4h-4zM192 76h4v4h-4zM192 80h4v4h-4zM192 84h4v4h-4zM192 88h4v4h-4zM192 160h4v4h-4zM-8 164h4v4h-4zM192 164h4v4h-4zM-8 168h4v4h-4zM188 168h8v4h-8zM188 172h8v4h-8zM184 176h12v4h-12zM180 180h12v4h-12zM176 184h12v4h-12zM172 188h16v4h-16zM168 192h16v4h-16zM28 196h8v4h-8zM160 196h16v4h-16zM24 200h28v4h-28zM156 200h16v4h-16zM20 204h60v4h-60zM144 204h24v4h-24z"/><path fill="#000600" d="M52 -8h64v4h-64zM48 -4h12v4h-12zM108 -4h16v4h-16zM40 0h12v4h-12zM120 0h12v4h-12zM36 4h8v4h-8zM128 4h8v4h-8zM32 8h8v4h-8zM132 8h12v4h-12zM28 12h8v4h-8zM140 12h8v4h-8zM24 16h8v4h-8zM144 16h8v4h-8zM20 20h8v4h-8zM148 20h8v4h-8zM16 24h8v4h-8zM152 24h8v4h-8zM16 28h8v4h-8zM156 28h8v4h-8zM12 32h8v4h-8zM160 32h8v4h-8zM12 36h8v4h-8zM164 36h8v4h-8zM8 40h8v4h-8zM168 40h4v4h-4zM8 44h8v4h-8zM172 44h4v4h-4zM4 48h8v4h-8zM172 48h8v4h-8zM4 52h8v4h-8zM176 52h4v4h-4zM4 56h4v4h-4zM180 56h4v4h-4zM0 60h8v4h-8zM180 60h4v4h-4zM0 64h8v4h-8zM180 64h8v4h-8zM-4 68h8v4h-8zM184 68h4v4h-4zM-4 72h8v4h-8zM184 72h4v4h-4zM-4 76h4v4h-4zM184 76h8v4h-8zM-8 80h8v4h-8zM188 80h4v4h-4zM-8 84h8v4h-8zM188 84h4v4h-4zM-8 88h4v4h-4zM188 88h4v4h-4zM-8 92h4v4h-4zM188 92h8v4h-8zM-8 96h4v4h-4zM188 96h8v4h-8zM-8 100h4v4h-4zM188 100h8v4h-8zM192 104h4v4h-4zM192 108h4v4h-4zM192 112h4v4h-4zM192 116h4v4h-4zM192 120h4v4h-4zM192 124h4v4h-4zM192 128h4v4h-4zM192 132h4v4h-4zM192 136h4v4h-4zM192 140h4v4h-4zM-8 144h4v4h-4zM192 144h4v4h-4zM-8 148h4v4h-4zM192 148h4v4h-4zM-8 152h4v4h-4zM188 152h8v4h-8zM-8 156h8v4h-8zM188 156h8v4h-8zM-8 160h8v4h-8zM188 160h4v4h-4zM-4 164h8v4h-8zM184 164h8v4h-8zM-4 168h8v4h-8zM184 168h4v4h-4zM-8 172h12v4h-12zM180 172h8v4h-8zM-8 176h8v4h-8zM176 176h8v4h-8zM172 180h8v4h-8zM168 184h8v4h-8zM24 188h8v4h-8zM164 188h8v4h-8zM20 192h28v4h-28zM156 192h12v4h-12zM20 196h8v4h-8zM36 196h32v4h-32zM148 196h12v4h-12zM16 200h8v4h-8zM52 200h52v4h-52zM128 200h28v4h-28zM12 204h8v4h-8zM80 204h64v4h-64z"/><path fill="#000800" d="M60 -4h48v4h-48zM52 0h12v4h-12zM104 0h16v4h-16zM44 4h12v4h-12zM116 4h12v4h-12zM40 8h8v4h-8zM124 8h8v4h-8zM36 12h8v4h-8zM132 12h8v4h-8zM32 16h8v4h-8zM136 16h8v4h-8zM28 20h8v4h-8zM140 20h8v4h-8zM24 24h8v4h-8zM144 24h8v4h-8zM24 28h4v4h-4zM148 28h8v4h-8zM20 32h4v4h-4zM152 32h8v4h-8zM20 36h4v4h-4zM156 36h8v4h-8zM16 40h4v4h-4zM160 40h8v4h-8zM16 44h4v4h-4zM164 44h8v4h-8zM12 48h4v4h-4zM168 48h4v4h-4zM12 52h4v4h-4zM172 52h4v4h-4zM8 56h8v4h-8zM176 56h4v4h-4zM8 60h4v4h-4zM176 60h4v4h-4zM8 64h4v4h-4zM4 68h8v4h-8zM180 68h4v4h-4zM4 72h4v4h-4zM180 72h4v4h-4zM0 76h8v4h-8zM180 76h4v4h-4zM0 80h4v4h-4zM184 80h4v4h-4zM0 84h4v4h-4zM184 84h4v4h-4zM-4 88h8v4h-8zM184 88h4v4h-4zM-4 92h4v4h-4zM184 92h4v4h-4zM-4 96h4v4h-4zM184 96h4v4h-4zM-4 100h4v4h-4zM184 100h4v4h-4zM-8 104h4v4h-4zM184 104h8v4h-8zM-8 108h4v4h-4zM184 108h8v4h-8zM-8 112h4v4h-4zM188 112h4v4h-4zM-8 116h4v4h-4zM188 116h4v4h-4zM-8 120h4v4h-4zM188 120h4v4h-4zM-8 124h4v4h-4zM188 124h4v4h-4zM-8 128h4v4h-4zM188 128h4v4h-4zM-8 132h4v4h-4zM188 132h4v4h-4zM-8 136h4v4h-4zM188 136h4v4h-4zM-8 140h8v4h-8zM188 140h4v4h-4zM-4 144h4v4h-4zM188 144h4v4h-4zM-4 148h4v4h-4zM184 148h8v4h-8zM-4 152h8v4h-8zM184 152h4v4h-4zM0 156h4v4h-4zM184 156h4v4h-4zM0 160h8v4h-8zM180 160h8v4h-8zM4 164h4v4h-4zM180 164h4v4h-4zM4 168h8v4h-8zM176 168h8v4h-8zM4 172h12v4h-12zM172 172h8v4h-8zM0 176h16v4h-16zM172 176h4v4h-4zM-8 180h8v4h-8zM12 180h12v4h-12zM168 180h4v4h-4zM-8 184h4v4h-4zM16 184h20v4h-20zM160 184h8v4h-8zM16 188h8v4h-8zM32 188h16v4h-16zM156 188h8v4h-8zM16 192h4v4h-4zM48 192h28v4h-28zM144 192h12v4h-12zM16 196h4v4h-4zM68 196h80v4h-80zM12 200h4v4h-4zM104 200h24v4h-24zM-8 204h8v4h-8zM8 204h4v4h-4z"/><path fill="#000a00" d="M64 0h40v4h-40zM56 4h8v4h-8zM108 4h8v4h-8zM48 8h4v4h-4zM116 8h8v4h-8zM44 12h4v4h-4zM124 12h8v4h-8zM40 16h4v4h-4zM128 16h8v4h-8zM36 20h4v4h-4zM136 20h4v4h-4zM32 24h4v4h-4zM140 24h4v4h-4zM28 28h4v4h-4zM144 28h4v4h-4zM24 32h4v4h-4zM148 32h4v4h-4zM24 36h4v4h-4zM152 36h4v4h-4zM20 40h4v4h-4zM156 40h4v4h-4zM20 44h4v4h-4zM160 44h4v4h-4zM16 48h4v4h-4zM164 48h4v4h-4zM16 52h4v4h-4zM168 52h4v4h-4zM16 56h4v4h-4zM172 56h4v4h-4zM12 60h4v4h-4zM172 60h4v4h-4zM12 64h4v4h-4zM176 64h4v4h-4zM12 68h4v4h-4zM176 68h4v4h-4zM8 72h4v4h-4zM176 72h4v4h-4zM8 76h4v4h-4zM4 80h4v4h-4zM180 80h4v4h-4zM4 84h4v4h-4zM180 84h4v4h-4zM4 88h4v4h-4zM180 88h4v4h-4zM0 92h4v4h-4zM180 92h4v4h-4zM0 96h4v4h-4zM180 96h4v4h-4zM0 100h4v4h-4zM180 100h4v4h-4zM-4 104h4v4h-4zM180 104h4v4h-4zM-4 108h4v4h-4zM180 108h4v4h-4zM-4 112h4v4h-4zM184 112h4v4h-4zM-4 116h4v4h-4zM184 116h4v4h-4zM-4 120h4v4h-4zM184 120h4v4h-4zM-4 124h4v4h-4zM184 124h4v4h-4zM-4 128h4v4h-4zM184 128h4v4h-4zM-4 132h4v4h-4zM184 132h4v4h-4zM-4 136h4v4h-4zM184 136h4v4h-4zM184 140h4v4h-4zM0 144h4v4h-4zM184 144h4v4h-4zM0 148h4v4h-4zM4 152h4v4h-4zM180 152h4v4h-4zM4 156h4v4h-4zM180 156h4v4h-4zM8 160h4v4h-4zM176 160h4v4h-4zM8 164h4v4h-4zM176 164h4v4h-4zM12 168h4v4h-4zM172 168h4v4h-4zM16 172h4v4h-4zM168 172h4v4h-4zM16 176h12v4h-12zM164 176h8v4h-8zM0 180h12v4h-12zM24 180h12v4h-12zM160 180h8v4h-8zM-4 184h4v4h-4zM8 184h8v4h-8zM36 184h12v4h-12zM156 184h4v4h-4zM-8 188h4v4h-4zM12 188h4v4h-4zM48 188h28v4h-28zM144 188h12v4h-12zM-8 192h4v4h-4zM12 192h4v4h-4zM76 192h36v4h-36zM128 192h16v4h-16zM-8 196h4v4h-4zM12 196h4v4h-4zM-8 200h4v4h-4zM8 200h4v4h-4zM0 204h8v4h-8z"/><path fill="#000c00" d="M64 4h12v4h-12zM96 4h12v4h-12zM52 8h8v4h-8zM108 8h8v4h-8zM48 12h4v4h-4zM120 12h4v4h-4zM44 16h4v4h-4zM124 16h4v4h-4zM40 20h4v4h-4zM132 20h4v4h-4zM36 24h4v4h-4zM136 24h4v4h-4zM32 28h4v4h-4zM140 28h4v4h-4zM28 32h4v4h-4zM144 32h4v4h-4zM28 36h4v4h-4zM148 36h4v4h-4zM24 40h4v4h-4zM152 40h4v4h-4zM24 44h4v4h-4zM156 44h4v4h-4zM20 48h4v4h-4zM20 52h4v4h-4zM164 52h4v4h-4zM168 56h4v4h-4zM16 60h4v4h-4zM16 64h4v4h-4zM172 64h4v4h-4zM12 72h4v4h-4zM12 76h4v4h-4zM176 76h4v4h-4zM8 80h4v4h-4zM176 80h4v4h-4zM8 84h4v4h-4zM176 84h4v4h-4zM176 88h4v4h-4zM4 92h4v4h-4zM176 92h4v4h-4zM4 96h4v4h-4zM176 96h4v4h-4zM176 100h4v4h-4zM0 104h4v4h-4zM0 108h4v4h-4zM0 112h4v4h-4zM180 112h4v4h-4zM0 116h4v4h-4zM180 116h4v4h-4zM180 120h4v4h-4zM180 124h4v4h-4zM180 128h4v4h-4zM0 132h4v4h-4zM180 132h4v4h-4zM0 136h4v4h-4zM180 136h4v4h-4zM0 140h4v4h-4zM180 140h4v4h-4zM180 144h4v4h-4zM4 148h4v4h-4zM180 148h4v4h-4zM8 156h4v4h-4zM176 156h4v4h-4zM12 164h4v4h-4zM172 164h4v4h-4zM16 168h4v4h-4zM168 168h4v4h-4zM20 172h8v4h-8zM28 176h4v4h-4zM160 176h4v4h-4zM36 180h8v4h-8zM156 180h4v4h-4zM0 184h8v4h-8zM48 184h16v4h-16zM148 184h8v4h-8zM-4 188h16v4h-16zM76 188h28v4h-28zM136 188h8v4h-8zM-4 192h4v4h-4zM8 192h4v4h-4zM112 192h16v4h-16zM-4 196h4v4h-4zM8 196h4v4h-4zM-4 200h12v4h-12z"/><path fill="#000e00" d="M76 4h20v4h-20zM60 8h4v4h-4zM104 8h4v4h-4zM52 12h4v4h-4zM112 12h8v4h-8zM120 16h4v4h-4zM128 20h4v4h-4zM132 24h4v4h-4zM36 28h4v4h-4zM136 28h4v4h-4zM32 32h4v4h-4zM140 32h4v4h-4zM144 36h4v4h-4zM28 40h4v4h-4zM148 40h4v4h-4zM24 48h4v4h-4zM160 48h4v4h-4zM20 56h4v4h-4zM20 60h4v4h-4zM168 60h4v4h-4zM20 64h4v4h-4zM16 68h4v4h-4zM172 68h4v4h-4zM16 72h4v4h-4zM172 72h4v4h-4zM16 76h4v4h-4zM12 80h4v4h-4zM12 84h4v4h-4zM8 88h4v4h-4zM8 92h4v4h-4zM4 100h4v4h-4zM4 104h4v4h-4zM176 104h4v4h-4zM176 108h4v4h-4zM176 112h4v4h-4zM176 116h4v4h-4zM0 120h4v4h-4zM0 124h4v4h-4zM0 128h4v4h-4zM4 140h4v4h-4zM4 144h4v4h-4zM176 148h4v4h-4zM8 152h4v4h-4zM176 152h4v4h-4zM12 160h4v4h-4zM172 160h4v4h-4zM16 164h4v4h-4zM168 164h4v4h-4zM20 168h4v4h-4zM28 172h4v4h-4zM164 172h4v4h-4zM32 176h8v4h-8zM44 180h8v4h-8zM152 180h4v4h-4zM64 184h32v4h-32zM144 184h4v4h-4zM104 188h32v4h-32zM0 192h8v4h-8zM0 196h8v4h-8z"/><path fill="#001000" d="M64 8h8v4h-8zM96 8h8v4h-8zM56 12h4v4h-4zM108 12h4v4h-4zM48 16h4v4h-4zM116 16h4v4h-4zM44 20h4v4h-4zM124 20h4v4h-4zM40 24h4v4h-4zM128 24h4v4h-4zM132 28h4v4h-4zM136 32h4v4h-4zM32 36h4v4h-4zM140 36h4v4h-4zM28 44h4v4h-4zM152 44h4v4h-4zM156 48h4v4h-4zM24 52h4v4h-4zM160 52h4v4h-4zM24 56h4v4h-4zM164 56h4v4h-4zM168 64h4v4h-4zM20 68h4v4h-4zM20 72h4v4h-4zM172 76h4v4h-4zM16 80h4v4h-4zM172 80h4v4h-4zM172 84h4v4h-4zM12 88h4v4h-4zM172 88h4v4h-4zM172 92h4v4h-4zM8 96h4v4h-4zM172 96h4v4h-4zM172 100h4v4h-4zM172 104h4v4h-4zM4 108h4v4h-4zM172 108h4v4h-4zM4 112h4v4h-4zM176 120h4v4h-4zM176 124h4v4h-4zM176 128h4v4h-4zM4 132h4v4h-4zM176 132h4v4h-4zM4 136h4v4h-4zM176 136h4v4h-4zM176 140h4v4h-4zM176 144h4v4h-4zM8 148h4v4h-4zM12 156h4v4h-4zM172 156h4v4h-4zM16 160h4v4h-4zM20 164h4v4h-4zM24 168h4v4h-4zM164 168h4v4h-4zM160 172h4v4h-4zM40 176h4v4h-4zM156 176h4v4h-4zM52 180h32v4h-32zM148 180h4v4h-4zM96 184h12v4h-12zM136 184h8v4h-8z"/><path fill="#001200" d="M72 8h24v4h-24zM60 12h4v4h-4zM104 12h4v4h-4zM52 16h4v4h-4zM120 20h4v4h-4zM40 28h4v4h-4zM36 32h4v4h-4zM32 40h4v4h-4zM144 40h4v4h-4zM148 44h4v4h-4zM28 48h4v4h-4zM24 60h4v4h-4zM164 60h4v4h-4zM24 64h4v4h-4zM168 68h4v4h-4zM20 76h4v4h-4zM16 84h4v4h-4zM12 92h4v4h-4zM8 100h4v4h-4zM8 104h4v4h-4zM172 112h4v4h-4zM4 116h4v4h-4zM4 120h4v4h-4zM4 124h4v4h-4zM4 128h4v4h-4zM8 144h4v4h-4zM172 148h4v4h-4zM12 152h4v4h-4zM172 152h4v4h-4zM168 160h4v4h-4zM28 168h4v4h-4zM32 172h4v4h-4zM44 176h4v4h-4zM152 176h4v4h-4zM84 180h16v4h-16zM144 180h4v4h-4zM108 184h28v4h-28z"/><path fill="#001400" d="M64 12h4v4h-4zM100 12h4v4h-4zM112 16h4v4h-4zM48 20h4v4h-4zM44 24h4v4h-4zM124 24h4v4h-4zM128 28h4v4h-4zM132 32h4v4h-4zM36 36h4v4h-4zM136 36h4v4h-4zM140 40h4v4h-4zM152 48h4v4h-4zM28 52h4v4h-4zM156 52h4v4h-4zM160 56h4v4h-4zM24 68h4v4h-4zM168 72h4v4h-4zM168 76h4v4h-4zM20 80h4v4h-4zM168 84h4v4h-4zM16 88h4v4h-4zM168 88h4v4h-4zM168 92h4v4h-4zM12 96h4v4h-4zM168 96h4v4h-4zM168 100h4v4h-4zM168 104h4v4h-4zM8 108h4v4h-4zM172 116h4v4h-4zM172 120h4v4h-4zM8 140h4v4h-4zM172 144h4v4h-4zM12 148h4v4h-4zM16 156h4v4h-4zM168 156h4v4h-4zM20 160h4v4h-4zM24 164h4v4h-4zM164 164h4v4h-4zM160 168h4v4h-4zM36 172h4v4h-4zM156 172h4v4h-4zM48 176h8v4h-8zM80 176h8v4h-8zM100 180h4v4h-4zM140 180h4v4h-4z"/><path fill="#001600" d="M96 12h4v4h-4zM56 16h4v4h-4zM108 16h4v4h-4zM116 20h4v4h-4zM32 44h4v4h-4zM144 44h4v4h-4zM148 48h4v4h-4zM28 56h4v4h-4zM164 64h4v4h-4zM24 72h4v4h-4zM24 76h4v4h-4zM168 80h4v4h-4zM20 84h4v4h-4zM16 92h4v4h-4zM12 100h4v4h-4zM168 108h4v4h-4zM8 112h4v4h-4zM172 124h4v4h-4zM172 128h4v4h-4zM172 132h4v4h-4zM8 136h4v4h-4zM172 136h4v4h-4zM172 140h4v4h-4zM32 168h4v4h-4zM40 172h4v4h-4zM56 176h24v4h-24zM88 176h8v4h-8zM148 176h4v4h-4zM104 180h8v4h-8zM136 180h4v4h-4z"/><path fill="#001800" d="M68 12h8v4h-8zM92 12h4v4h-4zM52 20h4v4h-4zM120 24h4v4h-4zM40 32h4v4h-4zM132 36h4v4h-4zM36 40h4v4h-4zM136 40h4v4h-4zM32 48h4v4h-4zM152 52h4v4h-4zM156 56h4v4h-4zM28 60h4v4h-4zM160 60h4v4h-4zM28 64h4v4h-4zM164 68h4v4h-4zM24 80h4v4h-4zM20 88h4v4h-4zM164 96h4v4h-4zM168 112h4v4h-4zM8 116h4v4h-4zM8 120h4v4h-4zM8 124h4v4h-4zM8 128h4v4h-4zM8 132h4v4h-4zM12 144h4v4h-4zM16 152h4v4h-4zM168 152h4v4h-4zM164 160h4v4h-4zM28 164h4v4h-4zM44 172h4v4h-4zM152 172h4v4h-4zM96 176h4v4h-4zM112 180h4v4h-4zM132 180h4v4h-4z"/><path fill="#001a00" d="M76 12h16v4h-16zM60 16h4v4h-4zM104 16h4v4h-4zM48 24h4v4h-4zM44 28h4v4h-4zM124 28h4v4h-4zM128 32h4v4h-4zM140 44h4v4h-4zM144 48h4v4h-4zM28 68h4v4h-4zM28 72h4v4h-4zM164 72h4v4h-4zM164 88h4v4h-4zM164 92h4v4h-4zM16 96h4v4h-4zM164 100h4v4h-4zM12 104h4v4h-4zM164 104h4v4h-4zM168 116h4v4h-4zM168 148h4v4h-4zM20 156h4v4h-4zM24 160h4v4h-4zM160 164h4v4h-4zM36 168h4v4h-4zM156 168h4v4h-4zM48 172h4v4h-4zM80 172h12v4h-12zM100 176h4v4h-4zM144 176h4v4h-4zM116 180h16v4h-16z"/><path fill="#001c00" d="M112 20h4v4h-4zM32 52h4v4h-4zM148 52h4v4h-4zM160 64h4v4h-4zM28 76h4v4h-4zM164 76h4v4h-4zM164 80h4v4h-4zM24 84h4v4h-4zM164 84h4v4h-4zM20 92h4v4h-4zM12 108h4v4h-4zM164 108h4v4h-4zM168 120h4v4h-4zM12 140h4v4h-4zM16 148h4v4h-4zM52 172h4v4h-4zM72 172h8v4h-8zM92 172h4v4h-4zM104 176h4v4h-4z"/><path fill="#001e00" d="M100 16h4v4h-4zM40 36h4v4h-4zM36 44h4v4h-4zM136 44h4v4h-4zM32 56h4v4h-4zM152 56h4v4h-4zM156 60h4v4h-4zM28 80h4v4h-4zM24 88h4v4h-4zM16 100h4v4h-4zM12 112h4v4h-4zM12 136h4v4h-4zM168 144h4v4h-4zM164 156h4v4h-4zM32 164h4v4h-4zM40 168h4v4h-4zM56 172h16v4h-16zM96 172h4v4h-4zM140 176h4v4h-4z"/><path fill="#002000" d="M64 16h4v4h-4zM56 20h4v4h-4zM116 24h4v4h-4zM44 32h4v4h-4zM132 40h4v4h-4zM140 48h4v4h-4zM32 60h4v4h-4zM160 68h4v4h-4zM160 92h4v4h-4zM160 96h4v4h-4zM160 100h4v4h-4zM164 112h4v4h-4zM12 116h4v4h-4zM168 124h4v4h-4zM168 128h4v4h-4zM12 132h4v4h-4zM168 140h4v4h-4zM20 152h4v4h-4zM28 160h4v4h-4zM84 168h4v4h-4zM148 172h4v4h-4zM108 176h4v4h-4z"/><path fill="#002200" d="M96 16h4v4h-4zM108 20h4v4h-4zM120 28h4v4h-4zM124 32h4v4h-4zM128 36h4v4h-4zM144 52h4v4h-4zM32 64h4v4h-4zM160 72h4v4h-4zM28 84h4v4h-4zM160 88h4v4h-4zM20 96h4v4h-4zM16 104h4v4h-4zM160 104h4v4h-4zM12 120h4v4h-4zM12 124h4v4h-4zM12 128h4v4h-4zM168 132h4v4h-4zM168 136h4v4h-4zM16 144h4v4h-4zM24 156h4v4h-4zM160 160h4v4h-4zM44 168h4v4h-4zM80 168h4v4h-4zM88 168h4v4h-4zM136 176h4v4h-4z"/><path fill="#002400" d="M68 16h4v4h-4zM52 24h4v4h-4zM48 28h4v4h-4zM40 40h4v4h-4zM36 48h4v4h-4zM148 56h4v4h-4zM152 60h4v4h-4zM156 64h4v4h-4zM32 68h4v4h-4zM160 76h4v4h-4zM160 80h4v4h-4zM160 84h4v4h-4zM24 92h4v4h-4zM164 152h4v4h-4zM36 164h4v4h-4zM76 168h4v4h-4zM92 168h4v4h-4zM152 168h4v4h-4zM100 172h4v4h-4zM112 176h4v4h-4z"/><path fill="#002600" d="M72 16h4v4h-4zM92 16h4v4h-4zM136 48h4v4h-4zM32 72h4v4h-4zM32 76h4v4h-4zM16 108h4v4h-4zM164 116h4v4h-4zM16 140h4v4h-4zM20 148h4v4h-4zM156 164h4v4h-4zM48 168h4v4h-4zM72 168h4v4h-4zM116 176h4v4h-4zM132 176h4v4h-4z"/><path fill="#002800" d="M60 20h4v4h-4zM112 24h4v4h-4zM132 44h4v4h-4zM140 52h4v4h-4zM156 68h4v4h-4zM32 80h4v4h-4zM28 88h4v4h-4zM156 92h4v4h-4zM156 96h4v4h-4zM20 100h4v4h-4zM160 108h4v4h-4zM32 160h4v4h-4zM52 168h4v4h-4zM68 168h4v4h-4zM144 172h4v4h-4zM120 176h4v4h-4zM128 176h4v4h-4z"/><path fill="#002a00" d="M76 16h16v4h-16zM104 20h4v4h-4zM36 52h4v4h-4zM144 56h4v4h-4zM156 88h4v4h-4zM156 100h4v4h-4zM164 148h4v4h-4zM24 152h4v4h-4zM40 164h4v4h-4zM84 164h4v4h-4zM56 168h12v4h-12zM96 168h4v4h-4zM104 172h4v4h-4zM124 176h4v4h-4z"/><path fill="#002c00" d="M44 36h4v4h-4zM128 40h4v4h-4zM148 60h4v4h-4zM152 64h4v4h-4zM156 72h4v4h-4zM32 84h4v4h-4zM156 84h4v4h-4zM24 96h4v4h-4zM16 112h4v4h-4zM164 120h4v4h-4zM16 136h4v4h-4zM28 156h4v4h-4zM80 164h4v4h-4zM88 164h4v4h-4z"/><path fill="#002e00" d="M116 28h4v4h-4zM124 36h4v4h-4zM40 44h4v4h-4zM36 56h4v4h-4zM156 76h4v4h-4zM156 80h4v4h-4zM28 92h4v4h-4zM20 104h4v4h-4zM160 156h4v4h-4z"/><path fill="#003000" d="M120 32h4v4h-4zM136 52h4v4h-4zM140 56h4v4h-4zM156 104h4v4h-4zM16 116h4v4h-4zM16 132h4v4h-4zM20 144h4v4h-4zM164 144h4v4h-4zM76 164h4v4h-4zM92 164h4v4h-4zM148 168h4v4h-4zM140 172h4v4h-4z"/><path fill="#003200" d="M64 20h4v4h-4zM100 20h4v4h-4zM56 24h4v4h-4zM48 32h4v4h-4zM144 60h4v4h-4zM152 68h4v4h-4zM32 88h4v4h-4zM152 92h4v4h-4zM152 96h4v4h-4zM160 112h4v4h-4zM16 120h4v4h-4zM16 124h4v4h-4zM164 124h4v4h-4zM16 128h4v4h-4zM36 160h4v4h-4zM44 164h4v4h-4zM108 172h4v4h-4z"/><path fill="#003400" d="M108 24h4v4h-4zM52 28h4v4h-4zM132 48h4v4h-4zM36 60h4v4h-4zM148 64h4v4h-4zM152 88h4v4h-4zM72 164h4v4h-4zM100 168h4v4h-4z"/><path fill="#003600" d="M36 64h4v4h-4zM152 72h4v4h-4zM152 84h4v4h-4zM24 100h4v4h-4zM152 100h4v4h-4zM20 108h4v4h-4zM164 128h4v4h-4zM164 140h4v4h-4zM24 148h4v4h-4zM156 160h4v4h-4zM152 164h4v4h-4z"/><path fill="#003800" d="M44 40h4v4h-4zM40 48h4v4h-4zM36 68h4v4h-4zM36 72h4v4h-4zM36 76h4v4h-4zM152 76h4v4h-4zM36 80h4v4h-4zM152 80h4v4h-4zM164 132h4v4h-4zM164 136h4v4h-4zM20 140h4v4h-4zM28 152h4v4h-4zM32 156h4v4h-4zM84 160h8v4h-8zM48 164h4v4h-4zM68 164h4v4h-4zM136 172h4v4h-4z"/><path fill="#003a00" d="M68 20h4v4h-4zM96 20h4v4h-4zM128 44h4v4h-4zM84 56h12v4h-12zM80 60h16v4h-16zM80 64h8v4h-8zM148 68h4v4h-4zM36 84h4v4h-4zM148 92h4v4h-4zM28 96h4v4h-4zM160 152h4v4h-4zM80 160h4v4h-4zM112 172h4v4h-4z"/><path fill="#003c00" d="M88 52h8v4h-8zM96 56h4v4h-4zM136 56h4v4h-4zM96 60h4v4h-4zM140 60h4v4h-4zM88 64h8v4h-8zM144 64h4v4h-4zM148 88h4v4h-4zM32 92h4v4h-4zM156 108h4v4h-4zM160 116h4v4h-4zM52 164h4v4h-4zM64 164h4v4h-4zM96 164h4v4h-4z"/><path fill="#003e00" d="M112 28h4v4h-4zM84 52h4v4h-4zM80 56h4v4h-4zM76 60h4v4h-4zM76 64h4v4h-4zM80 68h12v4h-12zM148 96h4v4h-4zM20 112h4v4h-4zM40 160h4v4h-4zM56 164h8v4h-8z"/><path fill="#004000" d="M92 20h4v4h-4zM124 40h4v4h-4zM96 52h4v4h-4zM96 64h4v4h-4zM76 68h4v4h-4zM92 68h4v4h-4zM148 72h4v4h-4zM148 84h4v4h-4zM36 88h4v4h-4zM24 104h4v4h-4zM124 128h4v4h-4zM120 132h8v4h-8zM20 136h4v4h-4zM104 168h4v4h-4zM144 168h4v4h-4zM116 172h4v4h-4zM132 172h4v4h-4z"/><path fill="#004200" d="M72 20h4v4h-4zM60 24h4v4h-4zM104 24h4v4h-4zM40 52h4v4h-4zM132 52h4v4h-4zM100 56h4v4h-4zM100 60h4v4h-4zM80 72h8v4h-8zM148 76h4v4h-4zM148 80h4v4h-4zM120 128h4v4h-4zM128 128h4v4h-4zM128 132h4v4h-4zM120 136h8v4h-8zM24 144h4v4h-4zM76 160h4v4h-4zM92 160h4v4h-4z"/><path fill="#004400" d="M88 20h4v4h-4zM116 32h4v4h-4zM48 36h4v4h-4zM120 36h4v4h-4zM76 56h4v4h-4zM100 64h4v4h-4zM96 68h4v4h-4zM144 68h4v4h-4zM76 72h4v4h-4zM88 72h4v4h-4zM144 92h4v4h-4zM152 104h4v4h-4zM20 116h4v4h-4zM124 124h8v4h-8zM116 132h4v4h-4zM116 136h4v4h-4zM120 172h4v4h-4zM128 172h4v4h-4z"/><path fill="#004600" d="M76 20h4v4h-4zM88 48h8v4h-8zM80 52h4v4h-4zM72 64h4v4h-4zM140 64h4v4h-4zM144 88h4v4h-4zM120 124h4v4h-4zM116 128h4v4h-4zM132 128h4v4h-4zM20 132h4v4h-4zM128 136h4v4h-4zM120 140h4v4h-4zM36 156h4v4h-4zM124 172h4v4h-4z"/><path fill="#004800" d="M80 20h8v4h-8zM44 44h4v4h-4zM100 52h4v4h-4zM136 60h4v4h-4zM72 68h4v4h-4zM92 72h4v4h-4zM144 84h4v4h-4zM28 100h4v4h-4zM148 100h4v4h-4zM20 120h4v4h-4zM160 120h4v4h-4zM132 124h4v4h-4zM132 132h4v4h-4zM124 140h4v4h-4zM160 148h4v4h-4zM84 156h4v4h-4zM44 160h4v4h-4z"/><path fill="#004a00" d="M56 28h4v4h-4zM52 32h4v4h-4zM128 48h4v4h-4zM72 60h4v4h-4zM100 68h4v4h-4zM144 72h4v4h-4zM80 76h8v4h-8zM32 96h4v4h-4zM144 96h4v4h-4zM124 120h4v4h-4zM20 124h4v4h-4zM116 124h4v4h-4zM20 128h4v4h-4zM112 132h4v4h-4zM116 140h4v4h-4zM28 148h4v4h-4zM156 156h4v4h-4zM72 160h4v4h-4z"/><path fill="#004c00" d="M84 48h4v4h-4zM96 48h4v4h-4zM40 56h4v4h-4zM96 72h4v4h-4zM144 76h4v4h-4zM144 80h4v4h-4zM36 92h4v4h-4zM24 108h4v4h-4zM156 112h4v4h-4zM128 120h4v4h-4zM112 128h4v4h-4zM112 136h4v4h-4zM32 152h4v4h-4zM88 156h4v4h-4zM148 164h4v4h-4z"/><path fill="#004e00" d="M104 60h4v4h-4zM140 68h4v4h-4zM72 72h4v4h-4zM76 76h4v4h-4zM88 76h4v4h-4zM140 88h4v4h-4zM140 92h4v4h-4zM120 120h4v4h-4zM100 164h4v4h-4z"/><path fill="#005000" d="M100 24h4v4h-4zM104 56h4v4h-4zM104 64h4v4h-4zM40 84h4v4h-4zM140 84h4v4h-4zM132 136h4v4h-4zM24 140h4v4h-4zM128 140h4v4h-4zM80 156h4v4h-4zM48 160h4v4h-4zM108 168h4v4h-4zM140 168h4v4h-4z"/><path fill="#005200" d="M64 24h4v4h-4zM108 28h4v4h-4zM76 52h4v4h-4zM72 56h4v4h-4zM132 56h4v4h-4zM40 60h4v4h-4zM40 80h4v4h-4zM160 124h4v4h-4zM136 128h4v4h-4zM120 144h4v4h-4zM160 144h4v4h-4zM68 160h4v4h-4zM152 160h4v4h-4z"/><path fill="#005400" d="M124 44h4v4h-4zM136 64h4v4h-4zM100 72h4v4h-4zM140 72h4v4h-4zM40 76h4v4h-4zM92 76h4v4h-4zM140 80h4v4h-4zM40 88h4v4h-4zM116 120h4v4h-4zM132 120h4v4h-4zM112 124h4v4h-4zM112 140h4v4h-4z"/><path fill="#005600" d="M80 48h4v4h-4zM100 48h4v4h-4zM68 64h4v4h-4zM140 76h4v4h-4zM136 88h4v4h-4zM152 108h4v4h-4zM136 124h4v4h-4zM136 132h4v4h-4zM116 144h4v4h-4zM124 144h4v4h-4zM40 156h4v4h-4zM96 160h4v4h-4z"/><path fill="#005800" d="M48 40h4v4h-4zM44 48h4v4h-4zM40 64h4v4h-4zM40 68h4v4h-4zM68 68h4v4h-4zM104 68h4v4h-4zM40 72h4v4h-4zM136 84h4v4h-4zM136 92h4v4h-4zM28 104h4v4h-4zM24 112h4v4h-4zM52 160h4v4h-4zM64 160h4v4h-4z"/><path fill="#005a00" d="M112 32h4v4h-4zM88 44h8v4h-8zM104 52h4v4h-4zM68 60h4v4h-4zM72 76h4v4h-4zM80 80h8v4h-8zM140 96h4v4h-4zM160 128h4v4h-4zM108 132h4v4h-4zM24 136h4v4h-4zM160 140h4v4h-4zM76 156h4v4h-4zM92 156h4v4h-4zM56 160h8v4h-8z"/><path fill="#005c00" d="M96 24h4v4h-4zM120 40h4v4h-4zM96 76h4v4h-4zM144 100h4v4h-4zM148 104h4v4h-4zM124 116h4v4h-4zM108 136h4v4h-4zM28 144h4v4h-4z"/><path fill="#005e00" d="M116 36h4v4h-4zM128 52h4v4h-4zM136 68h4v4h-4zM68 72h4v4h-4zM76 80h4v4h-4zM136 80h4v4h-4zM32 100h4v4h-4zM128 116h4v4h-4zM156 116h4v4h-4zM108 128h4v4h-4zM160 132h4v4h-4zM160 136h4v4h-4zM112 168h4v4h-4zM136 168h4v4h-4z"/><path fill="#006000" d="M84 44h4v4h-4zM96 44h4v4h-4zM88 80h4v4h-4zM132 88h4v4h-4zM40 92h4v4h-4zM36 96h4v4h-4zM120 116h4v4h-4zM132 140h4v4h-4zM36 152h4v4h-4zM84 152h4v4h-4zM156 152h4v4h-4z"/><path fill="#006200" d="M68 24h4v4h-4zM72 52h4v4h-4zM132 60h4v4h-4zM104 72h4v4h-4zM136 72h4v4h-4zM136 76h4v4h-4zM24 116h4v4h-4zM112 120h4v4h-4zM136 136h4v4h-4zM128 144h4v4h-4zM32 148h4v4h-4zM88 152h4v4h-4zM104 164h4v4h-4z"/><path fill="#006400" d="M92 24h4v4h-4zM104 28h4v4h-4zM68 56h4v4h-4zM132 92h4v4h-4zM24 132h4v4h-4zM112 144h4v4h-4zM44 156h4v4h-4z"/><path fill="#006600" d="M60 28h4v4h-4zM52 36h4v4h-4zM76 48h4v4h-4zM44 52h4v4h-4zM100 76h4v4h-4zM132 84h4v4h-4zM136 120h4v4h-4zM72 156h4v4h-4zM144 164h4v4h-4z"/><path fill="#006800" d="M108 60h4v4h-4zM136 96h4v4h-4zM28 108h4v4h-4zM24 120h4v4h-4zM108 124h4v4h-4zM108 140h4v4h-4zM120 148h4v4h-4zM80 152h4v4h-4zM116 168h4v4h-4zM132 168h4v4h-4z"/><path fill="#006a00" d="M88 24h4v4h-4zM104 48h4v4h-4zM124 48h4v4h-4zM108 56h4v4h-4zM64 64h4v4h-4zM108 64h4v4h-4zM64 68h4v4h-4zM68 76h4v4h-4zM72 80h4v4h-4zM116 116h4v4h-4zM132 116h4v4h-4zM24 124h4v4h-4zM24 128h4v4h-4zM140 128h4v4h-4z"/><path fill="#006c00" d="M72 24h4v4h-4zM56 32h4v4h-4zM48 44h4v4h-4zM100 44h4v4h-4zM64 60h4v4h-4zM92 80h4v4h-4zM28 140h4v4h-4z"/><path fill="#006e00" d="M84 24h4v4h-4zM80 44h4v4h-4zM132 80h4v4h-4zM152 112h4v4h-4zM140 132h4v4h-4zM116 148h4v4h-4zM124 148h4v4h-4zM120 168h4v4h-4zM128 168h4v4h-4z"/><path fill="#007000" d="M76 24h8v4h-8zM44 56h4v4h-4zM132 64h4v4h-4zM64 72h4v4h-4zM44 84h4v4h-4zM44 88h4v4h-4zM128 88h4v4h-4zM156 120h4v4h-4zM140 124h4v4h-4zM48 156h4v4h-4zM68 156h4v4h-4zM100 160h4v4h-4z"/><path fill="#007200" d="M108 32h4v4h-4zM88 40h4v4h-4zM108 52h4v4h-4zM128 56h4v4h-4zM108 68h4v4h-4zM80 84h4v4h-4zM128 92h4v4h-4zM140 100h4v4h-4zM152 156h4v4h-4zM124 168h4v4h-4z"/><path fill="#007400" d="M100 28h4v4h-4zM92 40h4v4h-4zM120 44h4v4h-4zM68 52h4v4h-4zM64 56h4v4h-4zM104 76h4v4h-4zM44 80h4v4h-4zM84 84h4v4h-4zM32 104h4v4h-4zM156 148h4v4h-4zM40 152h4v4h-4zM96 156h4v4h-4zM148 160h4v4h-4z"/><path fill="#007600" d="M132 76h4v4h-4zM68 80h4v4h-4zM76 84h4v4h-4zM40 96h4v4h-4zM132 96h4v4h-4zM36 100h4v4h-4zM136 140h4v4h-4zM76 152h4v4h-4zM92 152h4v4h-4z"/><path fill="#007800" d="M112 36h4v4h-4zM116 40h4v4h-4zM44 60h4v4h-4zM132 68h4v4h-4zM64 76h4v4h-4zM96 80h4v4h-4zM44 92h4v4h-4zM144 104h4v4h-4zM148 108h4v4h-4zM28 112h4v4h-4zM104 132h4v4h-4zM32 144h4v4h-4zM132 144h4v4h-4zM64 156h4v4h-4zM108 164h4v4h-4z"/><path fill="#007a00" d="M84 40h4v4h-4zM96 40h4v4h-4zM72 48h4v4h-4zM60 64h4v4h-4zM60 68h4v4h-4zM132 72h4v4h-4zM44 76h4v4h-4zM128 84h4v4h-4zM108 144h4v4h-4zM36 148h4v4h-4zM84 148h4v4h-4zM52 156h4v4h-4z"/><path fill="#007c00" d="M48 48h4v4h-4zM60 60h4v4h-4zM44 64h4v4h-4zM108 72h4v4h-4zM124 112h4v4h-4zM108 120h4v4h-4zM28 136h4v4h-4zM104 136h4v4h-4zM140 136h4v4h-4zM88 148h4v4h-4zM112 148h4v4h-4zM128 148h4v4h-4zM60 156h4v4h-4z"/><path fill="#007e00" d="M96 28h4v4h-4zM52 40h4v4h-4zM104 44h4v4h-4zM44 68h4v4h-4zM44 72h4v4h-4zM60 72h4v4h-4zM72 84h4v4h-4zM88 84h4v4h-4zM112 116h4v4h-4zM136 116h4v4h-4zM156 124h4v4h-4zM104 128h4v4h-4zM56 156h4v4h-4zM140 164h4v4h-4z"/><path fill="#008100" d="M64 28h4v4h-4zM76 44h4v4h-4zM108 48h4v4h-4zM124 52h4v4h-4zM120 112h4v4h-4zM128 112h4v4h-4zM140 120h4v4h-4z"/><path fill="#008300" d="M104 32h4v4h-4zM60 56h4v4h-4zM156 144h4v4h-4z"/><path fill="#008500" d="M100 40h4v4h-4zM64 52h4v4h-4zM64 80h4v4h-4zM100 80h4v4h-4zM28 116h4v4h-4zM152 116h4v4h-4zM80 148h4v4h-4zM44 152h4v4h-4zM120 152h4v4h-4z"/><path fill="#008700" d="M92 28h4v4h-4zM128 60h4v4h-4zM60 76h4v4h-4zM68 84h4v4h-4zM128 96h4v4h-4zM136 100h4v4h-4zM32 108h4v4h-4zM156 128h4v4h-4zM28 132h4v4h-4zM72 152h4v4h-4zM112 164h4v4h-4z"/><path fill="#008900" d="M80 40h4v4h-4zM48 52h4v4h-4zM56 64h4v4h-4zM124 92h4v4h-4zM104 140h4v4h-4zM124 152h4v4h-4zM104 160h4v4h-4z"/><path fill="#008b00" d="M88 36h8v4h-8zM108 36h4v4h-4zM120 48h4v4h-4zM112 56h4v4h-4zM56 60h4v4h-4zM56 68h4v4h-4zM128 80h4v4h-4zM132 112h4v4h-4zM28 120h4v4h-4zM104 124h4v4h-4zM144 128h4v4h-4zM156 132h4v4h-4zM32 140h4v4h-4zM156 140h4v4h-4zM116 152h4v4h-4z"/><path fill="#008d00" d="M88 28h4v4h-4zM100 32h4v4h-4zM56 36h4v4h-4zM112 40h4v4h-4zM116 44h4v4h-4zM68 48h4v4h-4zM112 60h4v4h-4zM108 76h4v4h-4zM124 88h4v4h-4zM44 96h4v4h-4zM28 128h4v4h-4zM144 132h4v4h-4zM156 136h4v4h-4z"/><path fill="#008f00" d="M60 32h4v4h-4zM96 36h4v4h-4zM104 40h4v4h-4zM52 44h4v4h-4zM108 44h4v4h-4zM112 52h4v4h-4zM48 56h4v4h-4zM56 72h4v4h-4zM92 84h4v4h-4zM48 88h4v4h-4zM40 100h4v4h-4zM36 104h4v4h-4zM116 112h4v4h-4zM28 124h4v4h-4zM136 164h4v4h-4z"/><path fill="#009100" d="M84 28h4v4h-4zM84 36h4v4h-4zM60 52h4v4h-4zM56 56h4v4h-4zM112 64h4v4h-4zM60 80h4v4h-4zM48 84h4v4h-4zM76 88h8v4h-8zM148 112h4v4h-4zM144 124h4v4h-4zM40 148h4v4h-4zM108 148h4v4h-4zM48 152h4v4h-4zM68 152h4v4h-4zM152 152h4v4h-4zM100 156h4v4h-4z"/><path fill="#009300" d="M68 28h4v4h-4zM96 32h4v4h-4zM100 36h8v4h-8zM48 60h4v4h-4zM104 80h4v4h-4zM64 84h4v4h-4zM140 104h4v4h-4zM140 140h4v4h-4zM36 144h4v4h-4zM136 144h4v4h-4zM92 148h4v4h-4zM132 148h4v4h-4zM96 152h4v4h-4zM116 164h4v4h-4z"/><path fill="#009500" d="M92 32h4v4h-4zM108 40h4v4h-4zM112 48h4v4h-4zM48 64h4v4h-4zM56 76h4v4h-4zM48 80h4v4h-4zM72 88h4v4h-4zM48 92h4v4h-4zM144 108h4v4h-4zM152 120h4v4h-4zM84 144h4v4h-4zM76 148h4v4h-4zM112 152h4v4h-4z"/><path fill="#009700" d="M80 28h4v4h-4zM88 32h4v4h-4zM72 44h4v4h-4zM112 44h4v4h-4zM124 56h4v4h-4zM52 60h4v4h-4zM52 64h4v4h-4zM128 64h4v4h-4zM48 68h8v4h-8zM48 72h4v4h-4zM48 76h4v4h-4zM128 76h4v4h-4zM84 88h4v4h-4zM124 96h4v4h-4zM132 100h4v4h-4zM32 112h4v4h-4zM140 116h4v4h-4zM88 144h4v4h-4zM104 144h4v4h-4zM128 152h4v4h-4zM144 160h4v4h-4zM132 164h4v4h-4z"/><path fill="#009900" d="M52 48h4v4h-4zM64 48h4v4h-4zM56 52h4v4h-4zM52 56h4v4h-4zM112 68h4v4h-4zM144 136h4v4h-4zM52 152h4v4h-4zM64 152h4v4h-4zM120 164h4v4h-4z"/><path fill="#009b00" d="M72 28h8v4h-8zM76 40h4v4h-4zM116 48h4v4h-4zM52 52h4v4h-4zM52 72h4v4h-4zM124 84h4v4h-4zM68 88h4v4h-4zM136 112h4v4h-4zM108 116h4v4h-4zM32 136h4v4h-4zM108 160h4v4h-4zM124 164h8v4h-8z"/><path fill="#009d00" d="M84 32h4v4h-4zM80 36h4v4h-4zM120 52h4v4h-4zM144 120h4v4h-4zM56 152h8v4h-8zM148 156h4v4h-4z"/><path fill="#009f00" d="M128 68h4v4h-4zM128 72h4v4h-4zM52 76h4v4h-4zM56 80h4v4h-4zM60 84h4v4h-4zM96 84h4v4h-4zM152 124h4v4h-4zM80 144h4v4h-4zM44 148h4v4h-4zM120 156h4v4h-4z"/><path fill="#00a100" d="M56 40h4v4h-4zM60 48h4v4h-4zM116 52h4v4h-4zM112 72h4v4h-4zM148 116h4v4h-4zM104 120h4v4h-4zM72 148h4v4h-4z"/><path fill="#00a300" d="M56 48h4v4h-4zM52 80h4v4h-4zM88 88h4v4h-4zM48 96h4v4h-4zM44 100h4v4h-4zM128 100h4v4h-4zM136 104h4v4h-4zM36 108h4v4h-4zM124 108h4v4h-4zM32 116h4v4h-4zM32 132h4v4h-4zM100 132h4v4h-4zM36 140h4v4h-4zM116 156h4v4h-4zM124 156h4v4h-4z"/><path fill="#00a500" d="M80 32h4v4h-4zM64 88h4v4h-4zM40 104h4v4h-4zM128 108h4v4h-4zM112 112h4v4h-4zM144 112h4v4h-4zM148 124h4v4h-4zM148 128h8v4h-8zM100 136h4v4h-4zM40 144h4v4h-4zM108 152h4v4h-4zM104 156h4v4h-4zM112 160h4v4h-4z"/><path fill="#00a700" d="M68 44h4v4h-4zM116 56h4v4h-4zM108 80h4v4h-4zM52 84h4v4h-4zM120 92h4v4h-4zM140 108h4v4h-4zM140 112h4v4h-4zM144 116h4v4h-4zM32 120h4v4h-4zM148 120h4v4h-4zM148 132h4v4h-4zM104 148h4v4h-4zM152 148h4v4h-4zM112 156h4v4h-4z"/><path fill="#00a900" d="M56 44h4v4h-4zM56 84h4v4h-4zM52 88h4v4h-4zM132 108h4v4h-4zM32 124h4v4h-4zM32 128h4v4h-4zM100 128h4v4h-4zM152 132h4v4h-4zM92 144h4v4h-4zM48 148h4v4h-4zM68 148h4v4h-4zM96 148h4v4h-4zM100 152h4v4h-4zM116 160h4v4h-4z"/><path fill="#00ab00" d="M64 32h4v4h-4zM124 60h4v4h-4zM124 80h4v4h-4zM120 108h4v4h-4zM84 140h4v4h-4zM100 140h4v4h-4zM76 144h4v4h-4zM132 152h4v4h-4zM108 156h4v4h-4zM128 156h4v4h-4zM120 160h4v4h-4z"/><path fill="#00ad00" d="M120 56h4v4h-4zM112 76h4v4h-4zM120 88h4v4h-4zM76 92h4v4h-4zM120 96h4v4h-4zM132 104h4v4h-4zM136 108h4v4h-4zM152 136h4v4h-4zM88 140h4v4h-4zM144 140h4v4h-4zM52 148h4v4h-4zM64 148h4v4h-4zM104 152h4v4h-4zM124 160h4v4h-4zM140 160h4v4h-4z"/><path fill="#00af00" d="M60 36h4v4h-4zM76 36h4v4h-4zM72 40h4v4h-4zM116 60h4v4h-4zM100 84h4v4h-4zM60 88h4v4h-4zM52 92h4v4h-4zM72 92h4v4h-4zM124 100h4v4h-4zM36 112h4v4h-4zM36 136h4v4h-4zM148 136h4v4h-4zM44 144h4v4h-4zM140 144h4v4h-4zM152 144h4v4h-4zM56 148h8v4h-8zM136 148h4v4h-4z"/><path fill="#00b100" d="M76 32h4v4h-4zM64 44h4v4h-4zM80 92h4v4h-4zM48 128h8v4h-8zM48 132h12v4h-12zM52 136h8v4h-8zM40 140h4v4h-4zM80 140h4v4h-4zM152 140h4v4h-4zM72 144h4v4h-4zM100 144h4v4h-4zM128 160h4v4h-4z"/><path fill="#00b300" d="M60 44h4v4h-4zM56 88h4v4h-4zM68 92h4v4h-4zM128 104h4v4h-4zM40 108h4v4h-4zM48 120h8v4h-8zM48 124h12v4h-12zM100 124h4v4h-4zM44 128h4v4h-4zM56 128h8v4h-8zM36 132h4v4h-4zM60 132h4v4h-4zM48 136h4v4h-4zM60 136h8v4h-8zM52 140h12v4h-12zM48 144h4v4h-4zM100 148h4v4h-4z"/><path fill="#00b500" d="M48 100h4v4h-4zM44 104h4v4h-4zM36 116h4v4h-4zM56 120h4v4h-4zM44 124h4v4h-4zM60 124h4v4h-4zM36 128h4v4h-4zM64 128h4v4h-4zM44 132h4v4h-4zM64 132h4v4h-4zM40 136h8v4h-8zM44 140h8v4h-8zM64 140h4v4h-4zM52 144h20v4h-20z"/><path fill="#00b700" d="M116 64h4v4h-4zM92 88h4v4h-4zM52 96h4v4h-4zM48 116h8v4h-8zM36 120h4v4h-4zM44 120h4v4h-4zM60 120h4v4h-4zM36 124h8v4h-8zM64 124h4v4h-4zM40 128h4v4h-4zM40 132h4v4h-4zM68 132h4v4h-4zM68 136h4v4h-4zM68 140h4v4h-4zM76 140h4v4h-4zM96 144h4v4h-4zM132 160h8v4h-8z"/><path fill="#00b900" d="M68 32h4v4h-4zM104 84h4v4h-4zM120 84h4v4h-4zM84 92h4v4h-4zM124 104h4v4h-4zM116 108h4v4h-4zM40 112h4v4h-4zM44 116h4v4h-4zM56 116h4v4h-4zM40 120h4v4h-4zM68 128h4v4h-4zM72 140h4v4h-4z"/><path fill="#00bb00" d="M72 32h4v4h-4zM60 40h4v4h-4zM124 76h4v4h-4zM112 80h4v4h-4zM64 92h4v4h-4zM44 108h4v4h-4zM44 112h12v4h-12zM40 116h4v4h-4zM60 116h4v4h-4zM104 116h4v4h-4zM64 120h4v4h-4zM68 124h4v4h-4zM72 132h4v4h-4zM72 136h4v4h-4zM84 136h4v4h-4zM92 140h4v4h-4zM148 140h4v4h-4zM132 156h4v4h-4z"/><path fill="#00bd00" d="M120 60h4v4h-4zM124 64h4v4h-4zM56 92h4v4h-4zM56 112h4v4h-4zM72 128h4v4h-4zM80 136h4v4h-4zM96 140h4v4h-4zM148 152h4v4h-4z"/><path fill="#00bf00" d="M72 36h4v4h-4zM68 40h4v4h-4zM116 68h4v4h-4zM120 100h4v4h-4zM48 104h4v4h-4zM48 108h4v4h-4zM64 116h4v4h-4zM76 136h4v4h-4zM88 136h4v4h-4zM144 156h4v4h-4z"/><path fill="#00c100" d="M60 92h4v4h-4zM52 100h4v4h-4zM52 108h4v4h-4zM60 112h4v4h-4zM108 112h4v4h-4zM68 120h4v4h-4zM100 120h4v4h-4zM72 124h4v4h-4zM76 132h4v4h-4zM96 136h4v4h-4z"/><path fill="#00c300" d="M64 40h4v4h-4zM108 84h4v4h-4zM120 104h4v4h-4zM56 108h4v4h-4zM144 144h4v4h-4zM136 152h4v4h-4z"/><path fill="#00c500" d="M64 36h4v4h-4zM124 68h4v4h-4zM116 72h4v4h-4zM124 72h4v4h-4zM120 80h4v4h-4zM52 104h4v4h-4zM76 128h4v4h-4zM80 132h8v4h-8zM96 132h4v4h-4zM92 136h4v4h-4z"/><path fill="#00c700" d="M116 76h4v4h-4zM88 92h4v4h-4zM116 92h4v4h-4zM56 96h4v4h-4zM64 112h4v4h-4zM68 116h4v4h-4zM72 120h4v4h-4zM148 144h4v4h-4z"/><path fill="#00c900" d="M68 36h4v4h-4zM120 64h4v4h-4zM116 80h4v4h-4zM116 88h4v4h-4zM116 96h4v4h-4zM56 104h4v4h-4zM60 108h4v4h-4zM76 124h4v4h-4zM80 128h4v4h-4zM96 128h4v4h-4zM88 132h4v4h-4zM140 148h4v4h-4zM136 156h4v4h-4z"/><path fill="#00cb00" d="M112 84h8v4h-8zM96 88h4v4h-4zM72 96h4v4h-4zM56 100h4v4h-4zM84 128h4v4h-4zM148 148h4v4h-4z"/><path fill="#00cd00" d="M60 96h4v4h-4zM68 96h4v4h-4zM76 96h4v4h-4zM112 108h4v4h-4zM96 124h4v4h-4zM88 128h4v4h-4zM92 132h4v4h-4zM140 156h4v4h-4z"/><path fill="#00cf00" d="M120 76h4v4h-4zM64 96h4v4h-4zM92 116h4v4h-4zM88 120h4v4h-4zM80 124h12v4h-12z"/><path fill="#00d100" d="M80 96h4v4h-4zM116 100h4v4h-4zM60 104h4v4h-4zM116 104h4v4h-4zM64 108h4v4h-4zM68 112h4v4h-4zM72 116h4v4h-4zM88 116h4v4h-4zM100 116h4v4h-4zM76 120h4v4h-4zM92 120h8v4h-8zM92 128h4v4h-4z"/><path fill="#00d300" d="M120 68h4v4h-4zM120 72h4v4h-4zM60 100h4v4h-4zM84 120h4v4h-4zM92 124h4v4h-4z"/><path fill="#00d500" d="M92 112h4v4h-4zM96 116h4v4h-4zM80 120h4v4h-4zM144 148h4v4h-4zM140 152h8v4h-8z"/><path fill="#00d700" d="M104 112h4v4h-4z"/><path fill="#00d900" d="M100 88h4v4h-4zM112 88h4v4h-4zM84 96h4v4h-4zM64 100h4v4h-4zM64 104h4v4h-4zM88 112h4v4h-4zM84 116h4v4h-4z"/><path fill="#00db00" d="M92 92h4v4h-4zM68 108h4v4h-4zM96 112h4v4h-4zM76 116h4v4h-4z"/><path fill="#00dd00" d="M72 112h4v4h-4zM80 116h4v4h-4z"/><path fill="#00df00" d="M68 100h4v4h-4z"/><path fill="#00e100" d="M104 88h8v4h-8zM108 108h4v4h-4zM100 112h4v4h-4z"/><path fill="#00e300" d="M112 92h4v4h-4zM72 100h4v4h-4zM68 104h4v4h-4zM112 104h4v4h-4zM84 112h4v4h-4z"/><path fill="#00e500" d="M88 96h4v4h-4zM92 108h4v4h-4z"/><path fill="#00e700" d="M112 96h4v4h-4zM76 112h4v4h-4z"/><path fill="#00e900" d="M76 100h4v4h-4zM112 100h4v4h-4zM72 108h4v4h-4zM88 108h4v4h-4zM96 108h4v4h-4zM80 112h4v4h-4z"/><path fill="#00ed00" d="M96 92h4v4h-4zM80 100h4v4h-4zM72 104h4v4h-4z"/><path fill="#00ef00" d="M100 108h8v4h-8z"/><path fill="#00f100" d="M84 100h4v4h-4zM84 108h4v4h-4z"/><path fill="#00f300" d="M76 108h4v4h-4z"/><path fill="#00f500" d="M108 92h4v4h-4zM92 96h4v4h-4zM76 104h4v4h-4zM108 104h4v4h-4z"/><path fill="#00f700" d="M88 100h4v4h-4zM80 108h4v4h-4z"/><path fill="#00f900" d="M88 104h8v4h-8z"/><path fill="#00fb00" d="M100 92h4v4h-4zM80 104h8v4h-8z"/><path fill="#00fd00" d="M104 92h4v4h-4zM108 96h4v4h-4zM108 100h4v4h-4zM96 104h4v4h-4z"/><path fill="#00ff00" d="M96 96h12v4h-12zM92 100h16v4h-16zM100 104h8v4h-8z"/></g></svg>
<text x="72.8" y="21.2" font-size="11.6" font-weight="bold" fill="#3cf01c" textLength="72.2" lengthAdjust="spacingAndGlyphs" font-family='"Liberation Sans", sans-serif'>Vancomycin</text>
<text x="72.8" y="33.5" font-size="11.6" font-weight="bold" fill="#f0202a" textLength="21.4" lengthAdjust="spacingAndGlyphs" font-family='"Liberation Sans", sans-serif'>RLP</text>
<rect x="196.4" y="194.8" width="48.6" height="2.6" fill="#fff"/><text x="247" y="192" text-anchor="end" font-size="13.6" fill="#fff" textLength="53" lengthAdjust="spacingAndGlyphs" font-family='"Liberation Sans", sans-serif'>500 nm</text>
<svg x="311" y="6" width="187" height="200" viewBox="0 0 187 200" overflow="hidden"><rect width="187" height="200" fill="#000"/><g filter="url(#bl)"><path fill="#000000" d="M-8 -8h20v4h-20zM160 -8h36v4h-36zM-8 -4h16v4h-16zM164 -4h32v4h-32zM-8 0h12v4h-12zM168 0h28v4h-28zM-8 4h12v4h-12zM172 4h24v4h-24zM-8 8h8v4h-8zM176 8h20v4h-20zM-8 12h4v4h-4zM180 12h16v4h-16zM-8 16h4v4h-4zM184 16h12v4h-12zM188 20h8v4h-8zM192 24h4v4h-4zM192 28h4v4h-4zM192 204h4v4h-4z"/><path fill="#020202" d="M12 -8h28v4h-28zM132 -8h28v4h-28zM8 -4h28v4h-28zM140 -4h24v4h-24zM4 0h24v4h-24zM144 0h24v4h-24zM4 4h20v4h-20zM148 4h24v4h-24zM0 8h20v4h-20zM152 8h24v4h-24zM-4 12h24v4h-24zM156 12h24v4h-24zM-4 16h20v4h-20zM160 16h24v4h-24zM-8 20h20v4h-20zM164 20h24v4h-24zM-8 24h20v4h-20zM168 24h24v4h-24zM-8 28h16v4h-16zM172 28h20v4h-20zM-8 32h12v4h-12zM176 32h20v4h-20zM-8 36h12v4h-12zM180 36h16v4h-16zM-8 40h8v4h-8zM180 40h16v4h-16zM-8 44h8v4h-8zM184 44h12v4h-12zM-8 48h8v4h-8zM184 48h12v4h-12zM-8 52h4v4h-4zM188 52h8v4h-8zM-8 56h4v4h-4zM188 56h8v4h-8zM192 60h4v4h-4zM192 64h4v4h-4zM192 176h4v4h-4zM192 180h4v4h-4zM188 184h8v4h-8zM184 188h12v4h-12zM180 192h16v4h-16zM176 196h20v4h-20zM168 200h28v4h-28zM28 204h8v4h-8zM164 204h28v4h-28z"/><path fill="#040404" d="M40 -8h20v4h-20zM108 -8h24v4h-24zM36 -4h16v4h-16zM120 -4h20v4h-20zM28 0h16v4h-16zM128 0h16v4h-16zM24 4h16v4h-16zM132 4h16v4h-16zM20 8h16v4h-16zM140 8h12v4h-12zM20 12h12v4h-12zM144 12h12v4h-12zM16 16h12v4h-12zM148 16h12v4h-12zM12 20h12v4h-12zM152 20h12v4h-12zM12 24h8v4h-8zM156 24h12v4h-12zM8 28h12v4h-12zM160 28h12v4h-12zM4 32h12v4h-12zM164 32h12v4h-12zM4 36h8v4h-8zM168 36h12v4h-12zM0 40h12v4h-12zM172 40h8v4h-8zM0 44h12v4h-12zM172 44h12v4h-12zM0 48h8v4h-8zM176 48h8v4h-8zM-4 52h12v4h-12zM180 52h8v4h-8zM-4 56h8v4h-8zM180 56h8v4h-8zM-8 60h12v4h-12zM184 60h8v4h-8zM-8 64h12v4h-12zM184 64h8v4h-8zM-8 68h8v4h-8zM184 68h12v4h-12zM-8 72h8v4h-8zM188 72h8v4h-8zM-8 76h4v4h-4zM188 76h8v4h-8zM-8 80h4v4h-4zM188 80h8v4h-8zM-8 84h4v4h-4zM192 84h4v4h-4zM192 88h4v4h-4zM192 92h4v4h-4zM192 96h4v4h-4zM192 100h4v4h-4zM192 152h4v4h-4zM-8 156h4v4h-4zM192 156h4v4h-4zM-8 160h4v4h-4zM192 160h4v4h-4zM-8 164h8v4h-8zM188 164h8v4h-8zM-8 168h8v4h-8zM188 168h8v4h-8zM-8 172h4v4h-4zM184 172h12v4h-12zM180 176h12v4h-12zM176 180h16v4h-16zM172 184h16v4h-16zM168 188h16v4h-16zM164 192h16v4h-16zM24 196h24v4h-24zM156 196h20v4h-20zM20 200h48v4h-48zM148 200h20v4h-20zM16 204h12v4h-12zM36 204h68v4h-68zM132 204h32v4h-32z"/><path fill="#060606" d="M60 -8h48v4h-48zM52 -4h20v4h-20zM96 -4h24v4h-24zM44 0h16v4h-16zM112 0h16v4h-16zM40 4h12v4h-12zM120 4h12v4h-12zM36 8h8v4h-8zM128 8h12v4h-12zM32 12h8v4h-8zM132 12h12v4h-12zM28 16h8v4h-8zM140 16h8v4h-8zM24 20h8v4h-8zM144 20h8v4h-8zM20 24h8v4h-8zM148 24h8v4h-8zM20 28h4v4h-4zM152 28h8v4h-8zM16 32h8v4h-8zM156 32h8v4h-8zM12 36h8v4h-8zM160 36h8v4h-8zM12 40h8v4h-8zM164 40h8v4h-8zM12 44h4v4h-4zM168 44h4v4h-4zM8 48h8v4h-8zM172 48h4v4h-4zM8 52h4v4h-4zM172 52h8v4h-8zM4 56h8v4h-8zM176 56h4v4h-4zM4 60h8v4h-8zM176 60h8v4h-8zM4 64h4v4h-4zM180 64h4v4h-4zM0 68h8v4h-8zM180 68h4v4h-4zM0 72h8v4h-8zM180 72h8v4h-8zM-4 76h8v4h-8zM184 76h4v4h-4zM-4 80h8v4h-8zM184 80h4v4h-4zM-4 84h4v4h-4zM184 84h8v4h-8zM-8 88h8v4h-8zM184 88h8v4h-8zM-8 92h8v4h-8zM184 92h8v4h-8zM-8 96h4v4h-4zM188 96h4v4h-4zM-8 100h4v4h-4zM188 100h4v4h-4zM-8 104h4v4h-4zM188 104h8v4h-8zM-8 108h4v4h-4zM188 108h8v4h-8zM-8 112h4v4h-4zM188 112h8v4h-8zM-8 116h4v4h-4zM188 116h8v4h-8zM188 120h8v4h-8zM188 124h8v4h-8zM-8 128h4v4h-4zM192 128h4v4h-4zM-8 132h4v4h-4zM192 132h4v4h-4zM-8 136h4v4h-4zM188 136h8v4h-8zM-8 140h4v4h-4zM188 140h8v4h-8zM-8 144h4v4h-4zM188 144h8v4h-8zM-8 148h8v4h-8zM188 148h8v4h-8zM-8 152h8v4h-8zM188 152h4v4h-4zM-4 156h8v4h-8zM184 156h8v4h-8zM-4 160h8v4h-8zM184 160h8v4h-8zM0 164h8v4h-8zM180 164h8v4h-8zM0 168h8v4h-8zM180 168h8v4h-8zM-4 172h12v4h-12zM176 172h8v4h-8zM-8 176h12v4h-12zM172 176h8v4h-8zM-8 180h4v4h-4zM168 180h8v4h-8zM20 184h12v4h-12zM164 184h8v4h-8zM20 188h24v4h-24zM156 188h12v4h-12zM20 192h40v4h-40zM148 192h16v4h-16zM16 196h8v4h-8zM48 196h44v4h-44zM136 196h20v4h-20zM16 200h4v4h-4zM68 200h80v4h-80zM-8 204h4v4h-4zM12 204h4v4h-4zM104 204h28v4h-28z"/><path fill="#080808" d="M72 -4h24v4h-24zM60 0h52v4h-52zM52 4h12v4h-12zM108 4h12v4h-12zM44 8h8v4h-8zM116 8h12v4h-12zM40 12h8v4h-8zM124 12h8v4h-8zM36 16h8v4h-8zM132 16h8v4h-8zM32 20h8v4h-8zM136 20h8v4h-8zM28 24h8v4h-8zM140 24h8v4h-8zM24 28h8v4h-8zM144 28h8v4h-8zM24 32h4v4h-4zM148 32h8v4h-8zM20 36h8v4h-8zM152 36h8v4h-8zM20 40h4v4h-4zM160 40h4v4h-4zM16 44h8v4h-8zM164 44h4v4h-4zM16 48h4v4h-4zM168 48h4v4h-4zM12 52h8v4h-8zM168 52h4v4h-4zM12 56h4v4h-4zM172 56h4v4h-4zM12 60h4v4h-4zM8 64h8v4h-8zM176 64h4v4h-4zM8 68h4v4h-4zM176 68h4v4h-4zM8 72h4v4h-4zM4 76h8v4h-8zM180 76h4v4h-4zM4 80h4v4h-4zM180 80h4v4h-4zM0 84h8v4h-8zM180 84h4v4h-4zM0 88h4v4h-4zM180 88h4v4h-4zM0 92h4v4h-4zM180 92h4v4h-4zM-4 96h8v4h-8zM180 96h8v4h-8zM-4 100h4v4h-4zM180 100h8v4h-8zM-4 104h4v4h-4zM184 104h4v4h-4zM-4 108h4v4h-4zM184 108h4v4h-4zM-4 112h4v4h-4zM184 112h4v4h-4zM-4 116h4v4h-4zM184 116h4v4h-4zM-8 120h8v4h-8zM184 120h4v4h-4zM-8 124h8v4h-8zM184 124h4v4h-4zM-4 128h4v4h-4zM184 128h8v4h-8zM-4 132h4v4h-4zM184 132h8v4h-8zM-4 136h4v4h-4zM184 136h4v4h-4zM-4 140h4v4h-4zM184 140h4v4h-4zM-4 144h8v4h-8zM184 144h4v4h-4zM0 148h4v4h-4zM184 148h4v4h-4zM0 152h4v4h-4zM180 152h8v4h-8zM4 156h4v4h-4zM180 156h4v4h-4zM4 160h4v4h-4zM176 160h8v4h-8zM8 164h4v4h-4zM176 164h4v4h-4zM8 168h8v4h-8zM172 168h8v4h-8zM8 172h12v4h-12zM168 172h8v4h-8zM4 176h20v4h-20zM168 176h4v4h-4zM-4 180h36v4h-36zM160 180h8v4h-8zM-8 184h4v4h-4zM12 184h8v4h-8zM32 184h12v4h-12zM156 184h8v4h-8zM-8 188h4v4h-4zM12 188h8v4h-8zM44 188h20v4h-20zM148 188h8v4h-8zM12 192h8v4h-8zM60 192h44v4h-44zM132 192h16v4h-16zM12 196h4v4h-4zM92 196h44v4h-44zM-8 200h4v4h-4zM12 200h4v4h-4zM-4 204h16v4h-16z"/><path fill="#0a0a0a" d="M64 4h16v4h-16zM92 4h16v4h-16zM52 8h8v4h-8zM108 8h8v4h-8zM48 12h4v4h-4zM116 12h8v4h-8zM44 16h4v4h-4zM124 16h8v4h-8zM40 20h4v4h-4zM128 20h8v4h-8zM36 24h4v4h-4zM136 24h4v4h-4zM32 28h4v4h-4zM140 28h4v4h-4zM28 32h4v4h-4zM144 32h4v4h-4zM28 36h4v4h-4zM148 36h4v4h-4zM24 40h4v4h-4zM152 40h8v4h-8zM24 44h4v4h-4zM160 44h4v4h-4zM20 48h4v4h-4zM164 48h4v4h-4zM20 52h4v4h-4zM16 56h4v4h-4zM168 56h4v4h-4zM16 60h4v4h-4zM172 60h4v4h-4zM16 64h4v4h-4zM172 64h4v4h-4zM12 68h4v4h-4zM12 72h4v4h-4zM176 72h4v4h-4zM12 76h4v4h-4zM176 76h4v4h-4zM8 80h4v4h-4zM176 80h4v4h-4zM8 84h4v4h-4zM176 84h4v4h-4zM4 88h4v4h-4zM176 88h4v4h-4zM4 92h4v4h-4zM176 92h4v4h-4zM4 96h4v4h-4zM176 96h4v4h-4zM0 100h4v4h-4zM176 100h4v4h-4zM0 104h4v4h-4zM180 104h4v4h-4zM0 108h4v4h-4zM180 108h4v4h-4zM0 112h4v4h-4zM180 112h4v4h-4zM0 116h4v4h-4zM180 116h4v4h-4zM180 120h4v4h-4zM180 124h4v4h-4zM180 128h4v4h-4zM0 132h4v4h-4zM180 132h4v4h-4zM0 136h4v4h-4zM180 136h4v4h-4zM0 140h4v4h-4zM180 140h4v4h-4zM180 144h4v4h-4zM4 148h4v4h-4zM180 148h4v4h-4zM4 152h4v4h-4zM176 152h4v4h-4zM8 156h4v4h-4zM176 156h4v4h-4zM8 160h8v4h-8zM12 164h4v4h-4zM172 164h4v4h-4zM16 168h4v4h-4zM168 168h4v4h-4zM20 172h8v4h-8zM164 172h4v4h-4zM24 176h8v4h-8zM160 176h8v4h-8zM32 180h12v4h-12zM156 180h4v4h-4zM-4 184h16v4h-16zM44 184h16v4h-16zM148 184h8v4h-8zM-4 188h4v4h-4zM8 188h4v4h-4zM64 188h40v4h-40zM132 188h16v4h-16zM-8 192h4v4h-4zM8 192h4v4h-4zM104 192h28v4h-28zM-8 196h4v4h-4zM8 196h4v4h-4zM-4 200h16v4h-16z"/><path fill="#0c0c0c" d="M80 4h12v4h-12zM60 8h8v4h-8zM100 8h8v4h-8zM52 12h4v4h-4zM112 12h4v4h-4zM48 16h4v4h-4zM120 16h4v4h-4zM44 20h4v4h-4zM124 20h4v4h-4zM40 24h4v4h-4zM132 24h4v4h-4zM36 28h4v4h-4zM136 28h4v4h-4zM32 32h4v4h-4zM140 32h4v4h-4zM32 36h4v4h-4zM144 36h4v4h-4zM28 40h4v4h-4zM148 40h4v4h-4zM156 44h4v4h-4zM24 48h4v4h-4zM160 48h4v4h-4zM24 52h4v4h-4zM164 52h4v4h-4zM20 56h4v4h-4zM20 60h4v4h-4zM168 60h4v4h-4zM20 64h4v4h-4zM16 68h4v4h-4zM172 68h4v4h-4zM16 72h4v4h-4zM172 72h4v4h-4zM16 76h4v4h-4zM12 80h4v4h-4zM12 84h4v4h-4zM8 88h4v4h-4zM8 92h4v4h-4zM4 100h4v4h-4zM4 104h4v4h-4zM176 104h4v4h-4zM176 108h4v4h-4zM176 112h4v4h-4zM176 116h4v4h-4zM0 120h4v4h-4zM176 120h4v4h-4zM0 124h4v4h-4zM0 128h4v4h-4zM4 140h4v4h-4zM176 140h4v4h-4zM4 144h4v4h-4zM176 144h4v4h-4zM176 148h4v4h-4zM8 152h4v4h-4zM12 156h4v4h-4zM172 156h4v4h-4zM172 160h4v4h-4zM16 164h4v4h-4zM168 164h4v4h-4zM20 168h4v4h-4zM164 168h4v4h-4zM28 172h4v4h-4zM160 172h4v4h-4zM32 176h8v4h-8zM156 176h4v4h-4zM44 180h8v4h-8zM148 180h8v4h-8zM60 184h40v4h-40zM140 184h8v4h-8zM0 188h8v4h-8zM104 188h28v4h-28zM-4 192h12v4h-12zM-4 196h12v4h-12z"/><path fill="#0e0e0e" d="M68 8h32v4h-32zM56 12h8v4h-8zM108 12h4v4h-4zM52 16h4v4h-4zM116 16h4v4h-4zM120 20h4v4h-4zM128 24h4v4h-4zM132 28h4v4h-4zM36 32h4v4h-4zM136 32h4v4h-4zM140 36h4v4h-4zM32 40h4v4h-4zM144 40h4v4h-4zM28 44h4v4h-4zM152 44h4v4h-4zM28 48h4v4h-4zM156 48h4v4h-4zM160 52h4v4h-4zM24 56h4v4h-4zM164 56h4v4h-4zM24 60h4v4h-4zM168 64h4v4h-4zM20 68h4v4h-4zM20 72h4v4h-4zM172 76h4v4h-4zM16 80h4v4h-4zM172 80h4v4h-4zM172 84h4v4h-4zM12 88h4v4h-4zM172 88h4v4h-4zM172 92h4v4h-4zM8 96h4v4h-4zM172 96h4v4h-4zM8 100h4v4h-4zM172 100h4v4h-4zM172 104h4v4h-4zM4 108h4v4h-4zM172 108h4v4h-4zM4 112h4v4h-4zM172 112h4v4h-4zM4 116h4v4h-4zM4 120h4v4h-4zM4 124h4v4h-4zM176 124h4v4h-4zM4 128h4v4h-4zM176 128h4v4h-4zM4 132h4v4h-4zM176 132h4v4h-4zM4 136h4v4h-4zM176 136h4v4h-4zM8 144h4v4h-4zM8 148h4v4h-4zM12 152h4v4h-4zM172 152h4v4h-4zM16 160h4v4h-4zM168 160h4v4h-4zM20 164h4v4h-4zM24 168h4v4h-4zM32 172h4v4h-4zM40 176h4v4h-4zM152 176h4v4h-4zM52 180h40v4h-40zM144 180h4v4h-4zM100 184h20v4h-20zM124 184h16v4h-16z"/><path fill="#101010" d="M64 12h4v4h-4zM100 12h8v4h-8zM112 16h4v4h-4zM48 20h4v4h-4zM44 24h4v4h-4zM124 24h4v4h-4zM40 28h4v4h-4zM128 28h4v4h-4zM132 32h4v4h-4zM36 36h4v4h-4zM136 36h4v4h-4zM140 40h4v4h-4zM32 44h4v4h-4zM148 44h4v4h-4zM152 48h4v4h-4zM28 52h4v4h-4zM164 60h4v4h-4zM24 64h4v4h-4zM24 68h4v4h-4zM168 68h4v4h-4zM20 76h4v4h-4zM20 80h4v4h-4zM16 84h4v4h-4zM16 88h4v4h-4zM12 92h4v4h-4zM12 96h4v4h-4zM168 96h4v4h-4zM168 100h4v4h-4zM8 104h4v4h-4zM168 104h4v4h-4zM172 116h4v4h-4zM172 120h4v4h-4zM8 140h4v4h-4zM172 144h4v4h-4zM172 148h4v4h-4zM16 156h4v4h-4zM168 156h4v4h-4zM20 160h4v4h-4zM24 164h4v4h-4zM164 164h4v4h-4zM28 168h4v4h-4zM160 168h4v4h-4zM36 172h4v4h-4zM156 172h4v4h-4zM44 176h8v4h-8zM92 180h12v4h-12zM140 180h4v4h-4zM120 184h4v4h-4z"/><path fill="#121212" d="M68 12h4v4h-4zM96 12h4v4h-4zM56 16h4v4h-4zM108 16h4v4h-4zM116 20h4v4h-4zM40 32h4v4h-4zM144 44h4v4h-4zM156 52h4v4h-4zM28 56h4v4h-4zM160 56h4v4h-4zM28 60h4v4h-4zM164 64h4v4h-4zM24 72h4v4h-4zM168 72h4v4h-4zM24 76h4v4h-4zM168 76h4v4h-4zM168 80h4v4h-4zM20 84h4v4h-4zM168 84h4v4h-4zM168 88h4v4h-4zM16 92h4v4h-4zM168 92h4v4h-4zM12 100h4v4h-4zM8 108h4v4h-4zM168 108h4v4h-4zM8 112h4v4h-4zM172 124h4v4h-4zM172 128h4v4h-4zM172 132h4v4h-4zM8 136h4v4h-4zM172 136h4v4h-4zM172 140h4v4h-4zM12 148h4v4h-4zM168 152h4v4h-4zM32 168h4v4h-4zM40 172h4v4h-4zM52 176h44v4h-44zM148 176h4v4h-4zM104 180h8v4h-8zM136 180h4v4h-4z"/><path fill="#141414" d="M72 12h8v4h-8zM88 12h8v4h-8zM52 20h4v4h-4zM48 24h4v4h-4zM120 24h4v4h-4zM44 28h4v4h-4zM124 28h4v4h-4zM128 32h4v4h-4zM132 36h4v4h-4zM36 40h4v4h-4zM136 40h4v4h-4zM140 44h4v4h-4zM32 48h4v4h-4zM148 48h4v4h-4zM152 52h4v4h-4zM160 60h4v4h-4zM28 64h4v4h-4zM24 80h4v4h-4zM20 88h4v4h-4zM164 96h4v4h-4zM164 100h4v4h-4zM12 104h4v4h-4zM168 112h4v4h-4zM8 116h4v4h-4zM168 116h4v4h-4zM8 120h4v4h-4zM8 124h4v4h-4zM8 128h4v4h-4zM8 132h4v4h-4zM12 144h4v4h-4zM16 152h4v4h-4zM164 160h4v4h-4zM28 164h4v4h-4zM44 172h4v4h-4zM152 172h4v4h-4zM96 176h4v4h-4zM144 176h4v4h-4zM112 180h8v4h-8zM128 180h8v4h-8z"/><path fill="#161616" d="M80 12h8v4h-8zM60 16h4v4h-4zM104 16h4v4h-4zM112 20h4v4h-4zM144 48h4v4h-4zM32 52h4v4h-4zM156 56h4v4h-4zM28 68h4v4h-4zM164 68h4v4h-4zM28 72h4v4h-4zM164 72h4v4h-4zM24 84h4v4h-4zM164 88h4v4h-4zM164 92h4v4h-4zM16 96h4v4h-4zM164 104h4v4h-4zM12 140h4v4h-4zM168 148h4v4h-4zM20 156h4v4h-4zM24 160h4v4h-4zM160 164h4v4h-4zM36 168h4v4h-4zM156 168h4v4h-4zM48 172h4v4h-4zM76 172h20v4h-20zM100 176h4v4h-4zM120 180h8v4h-8z"/><path fill="#181818" d="M40 36h4v4h-4zM36 44h4v4h-4zM136 44h4v4h-4zM148 52h4v4h-4zM32 56h4v4h-4zM160 64h4v4h-4zM28 76h4v4h-4zM164 76h4v4h-4zM28 80h4v4h-4zM164 80h4v4h-4zM164 84h4v4h-4zM20 92h4v4h-4zM16 100h4v4h-4zM12 108h4v4h-4zM164 108h4v4h-4zM168 120h4v4h-4zM168 144h4v4h-4zM16 148h4v4h-4zM164 156h4v4h-4zM52 172h8v4h-8zM64 172h12v4h-12zM104 176h4v4h-4zM140 176h4v4h-4z"/><path fill="#1a1a1a" d="M64 16h4v4h-4zM100 16h4v4h-4zM56 20h4v4h-4zM116 24h4v4h-4zM44 32h4v4h-4zM128 36h4v4h-4zM132 40h4v4h-4zM140 48h4v4h-4zM152 56h4v4h-4zM32 60h4v4h-4zM156 60h4v4h-4zM24 88h4v4h-4zM160 96h4v4h-4zM160 100h4v4h-4zM12 112h4v4h-4zM164 112h4v4h-4zM168 124h4v4h-4zM168 128h4v4h-4zM12 136h4v4h-4zM168 140h4v4h-4zM20 152h4v4h-4zM32 164h4v4h-4zM40 168h4v4h-4zM60 172h4v4h-4zM96 172h4v4h-4zM148 172h4v4h-4zM108 176h4v4h-4z"/><path fill="#1c1c1c" d="M68 16h4v4h-4zM96 16h4v4h-4zM108 20h4v4h-4zM52 24h4v4h-4zM48 28h4v4h-4zM120 28h4v4h-4zM124 32h4v4h-4zM36 48h4v4h-4zM144 52h4v4h-4zM32 64h4v4h-4zM160 68h4v4h-4zM28 84h4v4h-4zM160 92h4v4h-4zM20 96h4v4h-4zM16 104h4v4h-4zM160 104h4v4h-4zM12 116h4v4h-4zM12 120h4v4h-4zM12 128h4v4h-4zM12 132h4v4h-4zM168 132h4v4h-4zM168 136h4v4h-4zM16 144h4v4h-4zM164 152h4v4h-4zM24 156h4v4h-4zM28 160h4v4h-4zM160 160h4v4h-4zM44 168h4v4h-4zM80 168h12v4h-12zM136 176h4v4h-4z"/><path fill="#1e1e1e" d="M40 40h4v4h-4zM148 56h4v4h-4zM156 64h4v4h-4zM32 68h4v4h-4zM32 72h4v4h-4zM160 72h4v4h-4zM160 84h4v4h-4zM160 88h4v4h-4zM24 92h4v4h-4zM12 124h4v4h-4zM36 164h4v4h-4zM156 164h4v4h-4zM76 168h4v4h-4zM92 168h4v4h-4zM152 168h4v4h-4zM100 172h4v4h-4zM112 176h4v4h-4zM132 176h4v4h-4z"/><path fill="#202020" d="M72 16h4v4h-4zM92 16h4v4h-4zM132 44h4v4h-4zM136 48h4v4h-4zM140 52h4v4h-4zM152 60h4v4h-4zM32 76h4v4h-4zM160 76h4v4h-4zM32 80h4v4h-4zM160 80h4v4h-4zM28 88h4v4h-4zM16 108h4v4h-4zM164 116h4v4h-4zM16 140h4v4h-4zM20 148h4v4h-4zM48 168h4v4h-4zM72 168h4v4h-4zM144 172h4v4h-4zM116 176h4v4h-4z"/><path fill="#222222" d="M76 16h4v4h-4zM88 16h4v4h-4zM60 20h4v4h-4zM104 20h4v4h-4zM112 24h4v4h-4zM36 52h4v4h-4zM156 92h4v4h-4zM156 96h4v4h-4zM20 100h4v4h-4zM156 100h4v4h-4zM160 108h4v4h-4zM164 148h4v4h-4zM32 160h4v4h-4zM84 164h4v4h-4zM52 168h4v4h-4zM68 168h4v4h-4zM96 168h4v4h-4zM104 172h4v4h-4zM120 176h12v4h-12z"/><path fill="#242424" d="M80 16h8v4h-8zM44 36h4v4h-4zM128 40h4v4h-4zM144 56h4v4h-4zM156 68h4v4h-4zM32 84h4v4h-4zM156 88h4v4h-4zM24 96h4v4h-4zM16 112h4v4h-4zM164 120h4v4h-4zM16 136h4v4h-4zM24 152h4v4h-4zM28 156h4v4h-4zM40 164h4v4h-4zM80 164h4v4h-4zM88 164h4v4h-4zM56 168h12v4h-12z"/><path fill="#262626" d="M116 28h4v4h-4zM40 44h4v4h-4zM148 60h4v4h-4zM152 64h4v4h-4zM156 72h4v4h-4zM28 92h4v4h-4zM160 156h4v4h-4z"/><path fill="#282828" d="M56 24h4v4h-4zM120 32h4v4h-4zM124 36h4v4h-4zM136 52h4v4h-4zM36 56h4v4h-4zM156 76h4v4h-4zM156 80h4v4h-4zM156 84h4v4h-4zM32 88h4v4h-4zM20 104h4v4h-4zM156 104h4v4h-4zM160 112h4v4h-4zM16 116h4v4h-4zM16 132h4v4h-4zM20 144h4v4h-4zM164 144h4v4h-4zM76 164h4v4h-4zM92 164h4v4h-4zM148 168h4v4h-4zM140 172h4v4h-4z"/><path fill="#2a2a2a" d="M64 20h4v4h-4zM100 20h4v4h-4zM48 32h4v4h-4zM132 48h4v4h-4zM140 56h4v4h-4zM152 92h4v4h-4zM152 96h4v4h-4zM16 120h4v4h-4zM164 124h4v4h-4zM16 128h4v4h-4zM36 160h4v4h-4zM44 164h4v4h-4zM108 172h4v4h-4z"/><path fill="#2c2c2c" d="M108 24h4v4h-4zM52 28h4v4h-4zM36 60h4v4h-4zM144 60h4v4h-4zM148 64h4v4h-4zM152 68h4v4h-4zM152 88h4v4h-4zM16 124h4v4h-4zM164 140h4v4h-4zM156 160h4v4h-4zM72 164h4v4h-4zM100 168h4v4h-4z"/><path fill="#2e2e2e" d="M36 64h4v4h-4zM36 76h4v4h-4zM36 80h4v4h-4zM24 100h4v4h-4zM152 100h4v4h-4zM20 108h4v4h-4zM164 128h4v4h-4zM24 148h4v4h-4zM84 160h8v4h-8zM152 164h4v4h-4z"/><path fill="#303030" d="M44 40h4v4h-4zM128 44h4v4h-4zM40 48h4v4h-4zM36 68h4v4h-4zM36 72h4v4h-4zM152 72h4v4h-4zM36 84h4v4h-4zM152 84h4v4h-4zM28 96h4v4h-4zM164 132h4v4h-4zM164 136h4v4h-4zM20 140h4v4h-4zM28 152h4v4h-4zM32 156h4v4h-4zM48 164h4v4h-4zM68 164h4v4h-4zM112 172h4v4h-4zM136 172h4v4h-4z"/><path fill="#323232" d="M68 20h4v4h-4zM96 20h4v4h-4zM136 56h4v4h-4zM140 60h4v4h-4zM152 76h4v4h-4zM152 80h4v4h-4zM32 92h4v4h-4zM148 92h4v4h-4zM156 108h4v4h-4zM160 152h4v4h-4zM80 160h4v4h-4zM96 164h4v4h-4z"/><path fill="#343434" d="M144 64h4v4h-4zM148 68h4v4h-4zM36 88h4v4h-4zM148 88h4v4h-4zM148 96h4v4h-4zM160 116h4v4h-4zM40 160h4v4h-4zM52 164h4v4h-4zM64 164h4v4h-4z"/><path fill="#363636" d="M112 28h4v4h-4zM124 40h4v4h-4zM20 112h4v4h-4zM20 136h4v4h-4zM56 164h8v4h-8zM144 168h4v4h-4zM132 172h4v4h-4z"/><path fill="#383838" d="M72 20h4v4h-4zM92 20h4v4h-4zM60 24h4v4h-4zM40 52h4v4h-4zM132 52h4v4h-4zM148 72h4v4h-4zM148 84h4v4h-4zM24 104h4v4h-4zM152 104h4v4h-4zM76 160h4v4h-4zM92 160h4v4h-4zM104 168h4v4h-4zM116 172h4v4h-4z"/><path fill="#3a3a3a" d="M104 24h4v4h-4zM116 32h4v4h-4zM48 36h4v4h-4zM120 36h4v4h-4zM148 76h4v4h-4zM148 80h4v4h-4zM144 92h4v4h-4zM20 116h4v4h-4zM24 144h4v4h-4zM128 172h4v4h-4z"/><path fill="#3c3c3c" d="M76 20h4v4h-4zM88 20h4v4h-4zM140 64h4v4h-4zM144 68h4v4h-4zM144 88h4v4h-4zM148 100h4v4h-4zM20 132h4v4h-4zM160 148h4v4h-4zM36 156h4v4h-4zM84 156h4v4h-4zM120 172h8v4h-8z"/><path fill="#3e3e3e" d="M80 20h8v4h-8zM44 44h4v4h-4zM136 60h4v4h-4zM144 84h4v4h-4zM28 100h4v4h-4zM20 120h4v4h-4zM160 120h4v4h-4zM88 156h4v4h-4zM156 156h4v4h-4zM44 160h4v4h-4z"/><path fill="#404040" d="M56 28h4v4h-4zM52 32h4v4h-4zM128 48h4v4h-4zM144 72h4v4h-4zM36 92h4v4h-4zM32 96h4v4h-4zM144 96h4v4h-4zM20 124h4v4h-4zM20 128h4v4h-4zM28 148h4v4h-4zM32 152h4v4h-4zM72 160h4v4h-4z"/><path fill="#424242" d="M40 56h4v4h-4zM144 76h4v4h-4zM144 80h4v4h-4zM140 88h4v4h-4zM140 92h4v4h-4zM24 108h4v4h-4zM156 112h4v4h-4zM80 156h4v4h-4zM100 164h4v4h-4zM148 164h4v4h-4z"/><path fill="#444444" d="M140 68h4v4h-4zM40 84h4v4h-4zM140 84h4v4h-4zM24 140h4v4h-4zM108 168h4v4h-4zM140 168h4v4h-4z"/><path fill="#464646" d="M100 24h4v4h-4zM132 56h4v4h-4zM40 80h4v4h-4zM40 88h4v4h-4zM48 160h4v4h-4zM68 160h4v4h-4zM152 160h4v4h-4z"/><path fill="#484848" d="M64 24h4v4h-4zM108 28h4v4h-4zM40 60h4v4h-4zM136 64h4v4h-4zM140 72h4v4h-4zM140 80h4v4h-4zM136 88h4v4h-4zM160 124h4v4h-4zM160 144h4v4h-4z"/><path fill="#4a4a4a" d="M124 44h4v4h-4zM40 76h4v4h-4zM140 76h4v4h-4zM136 84h4v4h-4zM136 92h4v4h-4zM40 156h4v4h-4zM96 160h4v4h-4z"/><path fill="#4c4c4c" d="M48 40h4v4h-4zM44 48h4v4h-4zM40 64h4v4h-4zM40 72h4v4h-4zM140 96h4v4h-4zM28 104h4v4h-4zM152 108h4v4h-4zM24 112h4v4h-4zM52 160h4v4h-4zM64 160h4v4h-4z"/><path fill="#4e4e4e" d="M40 68h4v4h-4zM160 128h4v4h-4zM160 140h4v4h-4zM76 156h4v4h-4zM92 156h4v4h-4z"/><path fill="#505050" d="M96 24h4v4h-4zM112 32h4v4h-4zM120 40h4v4h-4zM136 68h4v4h-4zM136 80h4v4h-4zM132 88h4v4h-4zM144 100h4v4h-4zM148 104h4v4h-4zM24 136h4v4h-4zM28 144h4v4h-4zM84 152h4v4h-4zM56 160h8v4h-8z"/><path fill="#525252" d="M128 52h4v4h-4zM40 92h4v4h-4zM36 96h4v4h-4zM32 100h4v4h-4zM156 116h4v4h-4zM160 132h4v4h-4zM160 136h4v4h-4zM112 168h4v4h-4zM136 168h4v4h-4z"/><path fill="#545454" d="M116 36h4v4h-4zM132 60h4v4h-4zM136 72h4v4h-4zM136 76h4v4h-4zM132 92h4v4h-4zM36 152h4v4h-4zM88 152h4v4h-4zM156 152h4v4h-4z"/><path fill="#565656" d="M68 24h4v4h-4zM132 84h4v4h-4zM24 116h4v4h-4zM32 148h4v4h-4zM104 164h4v4h-4z"/><path fill="#585858" d="M92 24h4v4h-4zM104 28h4v4h-4zM52 36h4v4h-4zM24 132h4v4h-4zM44 156h4v4h-4zM72 156h4v4h-4z"/><path fill="#5a5a5a" d="M60 28h4v4h-4zM44 52h4v4h-4zM136 96h4v4h-4zM80 152h4v4h-4zM144 164h4v4h-4z"/><path fill="#5c5c5c" d="M28 108h4v4h-4zM24 120h4v4h-4zM24 128h4v4h-4zM116 168h4v4h-4zM132 168h4v4h-4z"/><path fill="#5e5e5e" d="M72 24h4v4h-4zM88 24h4v4h-4zM124 48h4v4h-4zM132 80h4v4h-4zM128 88h4v4h-4zM24 124h4v4h-4z"/><path fill="#606060" d="M56 32h4v4h-4zM48 44h4v4h-4zM132 64h4v4h-4zM44 84h4v4h-4zM44 88h4v4h-4zM128 92h4v4h-4zM28 140h4v4h-4z"/><path fill="#626262" d="M76 24h4v4h-4zM84 24h4v4h-4zM152 112h4v4h-4zM156 120h4v4h-4zM100 160h4v4h-4zM120 168h4v4h-4zM128 168h4v4h-4z"/><path fill="#646464" d="M80 24h4v4h-4zM88 48h8v4h-8zM88 52h12v4h-12zM44 56h4v4h-4zM84 56h16v4h-16zM128 56h4v4h-4zM140 100h4v4h-4zM48 156h4v4h-4zM68 156h4v4h-4zM152 156h4v4h-4zM124 168h4v4h-4z"/><path fill="#666666" d="M100 28h4v4h-4zM108 32h4v4h-4zM120 44h4v4h-4zM96 48h4v4h-4zM84 52h4v4h-4zM100 52h4v4h-4zM76 56h8v4h-8zM68 60h32v4h-32zM68 64h24v4h-24zM68 68h12v4h-12zM132 76h4v4h-4zM44 80h4v4h-4zM40 96h4v4h-4zM132 96h4v4h-4zM32 104h4v4h-4zM124 128h12v4h-12zM120 132h12v4h-12zM116 136h12v4h-12zM120 140h4v4h-4zM156 148h4v4h-4zM40 152h4v4h-4zM92 152h4v4h-4zM96 156h4v4h-4zM148 160h4v4h-4z"/><path fill="#686868" d="M88 44h8v4h-8zM84 48h4v4h-4zM80 52h4v4h-4zM72 56h4v4h-4zM100 56h4v4h-4zM64 60h4v4h-4zM64 64h4v4h-4zM92 64h4v4h-4zM64 68h4v4h-4zM80 68h8v4h-8zM132 68h4v4h-4zM68 72h12v4h-12zM128 84h4v4h-4zM44 92h4v4h-4zM36 100h4v4h-4zM124 124h12v4h-12zM120 128h4v4h-4zM116 132h4v4h-4zM132 132h4v4h-4zM128 136h4v4h-4zM116 140h4v4h-4zM124 140h4v4h-4zM120 144h4v4h-4zM84 148h4v4h-4zM76 152h4v4h-4z"/><path fill="#6a6a6a" d="M96 44h4v4h-4zM100 48h4v4h-4zM76 52h4v4h-4zM68 56h4v4h-4zM100 60h4v4h-4zM96 64h4v4h-4zM88 68h4v4h-4zM64 72h4v4h-4zM80 72h4v4h-4zM132 72h4v4h-4zM144 104h4v4h-4zM148 108h4v4h-4zM28 112h4v4h-4zM120 124h4v4h-4zM116 128h4v4h-4zM136 128h4v4h-4zM112 136h4v4h-4zM32 144h4v4h-4zM116 144h4v4h-4zM52 156h4v4h-4zM64 156h4v4h-4zM108 164h4v4h-4z"/><path fill="#6c6c6c" d="M112 36h4v4h-4zM116 40h4v4h-4zM84 44h4v4h-4zM80 48h4v4h-4zM104 52h4v4h-4zM104 56h4v4h-4zM44 60h4v4h-4zM60 64h4v4h-4zM100 64h4v4h-4zM92 68h4v4h-4zM84 72h4v4h-4zM44 76h4v4h-4zM68 76h12v4h-12zM112 132h4v4h-4zM136 132h4v4h-4zM28 136h4v4h-4zM132 136h4v4h-4zM112 140h4v4h-4zM128 140h4v4h-4zM124 144h4v4h-4zM36 148h4v4h-4zM88 148h4v4h-4z"/><path fill="#6e6e6e" d="M48 48h4v4h-4zM72 52h4v4h-4zM64 56h4v4h-4zM60 60h4v4h-4zM104 60h4v4h-4zM60 68h4v4h-4zM96 68h4v4h-4zM88 72h4v4h-4zM64 76h4v4h-4zM80 76h4v4h-4zM124 120h8v4h-8zM116 124h4v4h-4zM136 124h4v4h-4zM112 128h4v4h-4zM120 148h4v4h-4zM56 156h8v4h-8zM140 164h4v4h-4z"/><path fill="#707070" d="M52 40h4v4h-4zM88 40h8v4h-8zM100 44h4v4h-4zM104 48h4v4h-4zM44 64h4v4h-4zM44 68h4v4h-4zM100 68h4v4h-4zM44 72h4v4h-4zM60 72h4v4h-4zM68 80h12v4h-12zM120 120h4v4h-4zM132 120h4v4h-4zM156 124h4v4h-4zM112 144h4v4h-4z"/><path fill="#727272" d="M64 28h4v4h-4zM96 28h4v4h-4zM76 48h4v4h-4zM68 52h4v4h-4zM124 52h4v4h-4zM104 64h4v4h-4zM92 72h4v4h-4zM84 76h4v4h-4zM128 96h4v4h-4zM128 144h4v4h-4zM80 148h4v4h-4zM116 148h4v4h-4zM124 148h4v4h-4z"/><path fill="#747474" d="M96 40h4v4h-4zM80 44h4v4h-4zM60 56h4v4h-4zM96 72h4v4h-4zM64 80h4v4h-4zM80 80h4v4h-4zM124 92h4v4h-4zM28 116h4v4h-4zM112 124h4v4h-4zM140 128h4v4h-4zM108 132h4v4h-4zM108 136h4v4h-4zM136 136h4v4h-4zM132 140h4v4h-4zM156 144h4v4h-4z"/><path fill="#767676" d="M104 32h4v4h-4zM84 40h4v4h-4zM108 56h4v4h-4zM128 60h4v4h-4zM60 76h4v4h-4zM88 76h4v4h-4zM128 80h4v4h-4zM72 84h4v4h-4zM124 88h4v4h-4zM136 100h4v4h-4zM152 116h4v4h-4zM116 120h4v4h-4zM28 132h4v4h-4zM140 132h4v4h-4zM108 140h4v4h-4zM44 152h4v4h-4zM72 152h4v4h-4z"/><path fill="#787878" d="M92 28h4v4h-4zM104 44h4v4h-4zM64 52h4v4h-4zM108 52h4v4h-4zM56 64h4v4h-4zM104 68h4v4h-4zM100 72h4v4h-4zM84 80h4v4h-4zM68 84h4v4h-4zM76 84h4v4h-4zM32 108h4v4h-4zM136 120h4v4h-4zM108 128h4v4h-4zM156 128h4v4h-4zM112 164h4v4h-4z"/><path fill="#7a7a7a" d="M72 48h4v4h-4zM120 48h4v4h-4zM48 52h4v4h-4zM56 60h4v4h-4zM108 60h4v4h-4zM56 68h4v4h-4zM92 76h4v4h-4zM44 96h4v4h-4zM124 116h8v4h-8zM28 120h4v4h-4zM140 124h4v4h-4zM156 140h4v4h-4zM112 148h4v4h-4zM104 160h4v4h-4z"/><path fill="#7c7c7c" d="M56 36h4v4h-4zM108 36h4v4h-4zM100 40h4v4h-4zM108 48h4v4h-4zM56 72h4v4h-4zM80 84h4v4h-4zM48 88h4v4h-4zM120 116h4v4h-4zM28 128h4v4h-4zM156 132h4v4h-4zM32 140h4v4h-4zM108 144h4v4h-4zM128 148h4v4h-4zM120 152h4v4h-4z"/><path fill="#7e7e7e" d="M88 28h4v4h-4zM100 32h4v4h-4zM88 36h8v4h-8zM80 40h4v4h-4zM112 40h4v4h-4zM76 44h4v4h-4zM116 44h4v4h-4zM60 52h4v4h-4zM108 64h4v4h-4zM104 72h4v4h-4zM60 80h4v4h-4zM48 84h4v4h-4zM40 100h4v4h-4zM36 104h4v4h-4zM132 116h4v4h-4zM28 124h4v4h-4zM140 136h4v4h-4zM156 136h4v4h-4zM132 144h4v4h-4zM92 148h4v4h-4zM136 164h4v4h-4z"/><path fill="#818181" d="M60 32h4v4h-4zM96 36h4v4h-4zM52 44h4v4h-4zM48 56h4v4h-4zM56 56h4v4h-4zM96 76h4v4h-4zM88 80h4v4h-4zM64 84h4v4h-4zM112 120h4v4h-4zM136 140h4v4h-4zM84 144h4v4h-4zM40 148h4v4h-4zM48 152h4v4h-4zM68 152h4v4h-4zM116 152h4v4h-4zM124 152h4v4h-4zM152 152h4v4h-4zM100 156h4v4h-4z"/><path fill="#838383" d="M68 28h4v4h-4zM84 28h4v4h-4zM84 36h4v4h-4zM104 40h4v4h-4zM108 44h4v4h-4zM68 48h4v4h-4zM56 76h4v4h-4zM48 92h4v4h-4zM124 96h4v4h-4zM140 104h4v4h-4zM148 112h4v4h-4zM108 124h4v4h-4zM36 144h4v4h-4zM88 144h4v4h-4zM76 148h4v4h-4zM96 152h4v4h-4zM116 164h4v4h-4z"/><path fill="#858585" d="M96 32h4v4h-4zM100 36h8v4h-8zM48 60h4v4h-4zM128 64h4v4h-4zM108 68h4v4h-4zM100 76h4v4h-4zM128 76h4v4h-4zM48 80h4v4h-4zM84 84h4v4h-4zM72 88h8v4h-8zM132 100h4v4h-4zM116 116h4v4h-4zM140 120h4v4h-4zM144 128h4v4h-4z"/><path fill="#878787" d="M80 28h4v4h-4zM92 32h4v4h-4zM108 40h4v4h-4zM112 52h4v4h-4zM124 56h4v4h-4zM52 60h4v4h-4zM48 64h8v4h-8zM48 68h8v4h-8zM48 76h4v4h-4zM124 84h4v4h-4zM68 88h4v4h-4zM144 108h4v4h-4zM32 112h4v4h-4zM136 116h4v4h-4zM152 120h4v4h-4zM104 132h4v4h-4zM144 132h4v4h-4zM104 136h4v4h-4zM144 160h4v4h-4zM132 164h4v4h-4z"/><path fill="#898989" d="M88 32h4v4h-4zM112 44h4v4h-4zM52 48h4v4h-4zM64 48h4v4h-4zM112 48h4v4h-4zM56 52h4v4h-4zM52 56h4v4h-4zM112 56h4v4h-4zM48 72h8v4h-8zM104 76h4v4h-4zM80 88h4v4h-4zM32 136h4v4h-4zM104 140h4v4h-4zM108 148h4v4h-4zM52 152h4v4h-4zM64 152h4v4h-4zM120 164h4v4h-4z"/><path fill="#8b8b8b" d="M72 28h8v4h-8zM72 44h4v4h-4zM116 48h4v4h-4zM52 52h4v4h-4zM108 72h4v4h-4zM56 80h4v4h-4zM92 80h4v4h-4zM60 84h4v4h-4zM144 124h4v4h-4zM80 144h4v4h-4zM56 152h8v4h-8zM112 152h4v4h-4zM128 152h4v4h-4zM108 160h4v4h-4zM124 164h8v4h-8z"/><path fill="#8d8d8d" d="M84 32h4v4h-4zM120 52h4v4h-4zM112 60h4v4h-4zM128 72h4v4h-4zM52 76h4v4h-4zM104 128h4v4h-4zM132 148h4v4h-4zM148 156h4v4h-4z"/><path fill="#8f8f8f" d="M80 36h4v4h-4zM76 40h4v4h-4zM60 48h4v4h-4zM128 68h4v4h-4zM120 92h4v4h-4zM48 96h4v4h-4zM124 112h8v4h-8zM144 136h4v4h-4zM140 140h4v4h-4zM44 148h4v4h-4zM72 148h4v4h-4zM120 156h4v4h-4z"/><path fill="#919191" d="M56 40h4v4h-4zM56 48h4v4h-4zM52 80h4v4h-4zM88 84h4v4h-4zM64 88h4v4h-4zM44 100h4v4h-4zM128 100h4v4h-4zM36 108h4v4h-4zM32 116h4v4h-4zM108 120h4v4h-4zM152 124h4v4h-4zM32 132h4v4h-4zM36 140h4v4h-4zM104 144h4v4h-4zM136 144h4v4h-4zM124 156h4v4h-4z"/><path fill="#939393" d="M116 52h4v4h-4zM112 64h4v4h-4zM108 76h4v4h-4zM96 80h4v4h-4zM52 84h4v4h-4zM84 88h4v4h-4zM40 104h4v4h-4zM120 112h4v4h-4zM132 112h4v4h-4zM112 116h4v4h-4zM140 116h4v4h-4zM148 116h4v4h-4zM144 120h4v4h-4zM40 144h4v4h-4zM104 156h4v4h-4zM116 156h4v4h-4z"/><path fill="#959595" d="M80 32h4v4h-4zM56 84h4v4h-4zM52 88h4v4h-4zM120 88h4v4h-4zM136 104h4v4h-4zM32 120h4v4h-4zM32 128h4v4h-4zM152 128h4v4h-4zM84 140h4v4h-4zM92 144h4v4h-4zM152 148h4v4h-4zM108 152h4v4h-4zM112 160h4v4h-4z"/><path fill="#979797" d="M56 44h4v4h-4zM68 44h4v4h-4zM100 80h4v4h-4zM124 80h4v4h-4zM120 96h4v4h-4zM144 112h4v4h-4zM32 124h4v4h-4zM104 124h4v4h-4zM148 124h4v4h-4zM148 128h4v4h-4zM148 132h4v4h-4zM76 144h4v4h-4zM48 148h4v4h-4zM68 148h4v4h-4zM96 148h4v4h-4zM100 152h4v4h-4zM112 156h4v4h-4zM116 160h4v4h-4z"/><path fill="#999999" d="M116 56h4v4h-4zM112 68h4v4h-4zM52 92h4v4h-4zM72 92h8v4h-8zM140 108h4v4h-4zM136 112h4v4h-4zM148 120h4v4h-4zM52 128h4v4h-4zM52 132h8v4h-8zM152 132h4v4h-4zM88 140h4v4h-4zM104 148h4v4h-4zM120 160h4v4h-4z"/><path fill="#9b9b9b" d="M64 32h4v4h-4zM124 60h4v4h-4zM104 80h4v4h-4zM60 88h4v4h-4zM36 112h4v4h-4zM144 116h4v4h-4zM48 124h12v4h-12zM48 128h4v4h-4zM56 128h8v4h-8zM48 132h4v4h-4zM60 132h4v4h-4zM36 136h4v4h-4zM52 136h12v4h-12zM152 136h4v4h-4zM80 140h4v4h-4zM52 148h16v4h-16zM108 156h4v4h-4zM128 156h4v4h-4zM124 160h4v4h-4z"/><path fill="#9d9d9d" d="M76 36h4v4h-4zM120 56h4v4h-4zM112 72h4v4h-4zM92 84h4v4h-4zM68 92h4v4h-4zM80 92h4v4h-4zM124 100h4v4h-4zM116 112h4v4h-4zM140 112h4v4h-4zM48 120h12v4h-12zM44 124h4v4h-4zM60 124h4v4h-4zM44 128h4v4h-4zM64 128h4v4h-4zM64 132h4v4h-4zM48 136h4v4h-4zM64 136h4v4h-4zM40 140h4v4h-4zM52 140h12v4h-12zM44 144h4v4h-4zM72 144h4v4h-4zM104 152h4v4h-4zM132 152h4v4h-4zM140 160h4v4h-4z"/><path fill="#9f9f9f" d="M76 32h4v4h-4zM60 36h4v4h-4zM72 40h4v4h-4zM60 44h8v4h-8zM56 88h4v4h-4zM48 100h4v4h-4zM132 104h4v4h-4zM40 108h4v4h-4zM48 116h12v4h-12zM44 120h4v4h-4zM60 120h4v4h-4zM64 124h4v4h-4zM36 132h4v4h-4zM44 132h4v4h-4zM68 132h4v4h-4zM44 136h4v4h-4zM68 136h4v4h-4zM100 136h4v4h-4zM148 136h4v4h-4zM48 140h4v4h-4zM64 140h4v4h-4zM100 140h4v4h-4zM144 140h4v4h-4zM152 140h4v4h-4zM48 144h16v4h-16zM152 144h4v4h-4zM128 160h4v4h-4z"/><path fill="#a1a1a1" d="M108 80h4v4h-4zM88 88h4v4h-4zM52 96h4v4h-4zM44 104h4v4h-4zM136 108h4v4h-4zM36 116h4v4h-4zM60 116h4v4h-4zM64 120h4v4h-4zM40 124h4v4h-4zM36 128h8v4h-8zM68 128h4v4h-4zM40 132h4v4h-4zM100 132h4v4h-4zM40 136h4v4h-4zM44 140h4v4h-4zM68 140h4v4h-4zM76 140h4v4h-4zM64 144h8v4h-8zM100 144h4v4h-4zM100 148h4v4h-4zM136 148h4v4h-4z"/><path fill="#a3a3a3" d="M116 60h4v4h-4zM112 76h4v4h-4zM120 84h4v4h-4zM128 108h8v4h-8zM52 112h8v4h-8zM44 116h4v4h-4zM36 120h8v4h-8zM36 124h4v4h-4zM68 124h4v4h-4zM72 132h4v4h-4zM72 136h4v4h-4zM84 136h4v4h-4zM72 140h4v4h-4zM140 144h4v4h-4z"/><path fill="#a5a5a5" d="M64 92h4v4h-4zM124 108h4v4h-4zM40 112h12v4h-12zM40 116h4v4h-4zM108 116h4v4h-4zM104 120h4v4h-4zM72 128h4v4h-4zM100 128h4v4h-4zM92 140h4v4h-4zM96 144h4v4h-4zM132 160h8v4h-8z"/><path fill="#a7a7a7" d="M60 40h4v4h-4zM124 76h4v4h-4zM56 92h4v4h-4zM84 92h4v4h-4zM48 104h4v4h-4zM128 104h4v4h-4zM44 108h4v4h-4zM60 112h4v4h-4zM64 116h4v4h-4zM68 120h4v4h-4zM72 124h4v4h-4zM76 136h8v4h-8zM88 136h4v4h-4z"/><path fill="#a9a9a9" d="M68 32h8v4h-8zM124 64h4v4h-4zM96 84h4v4h-4zM60 92h4v4h-4zM120 100h4v4h-4zM48 108h8v4h-8zM76 132h4v4h-4zM148 140h4v4h-4zM132 156h4v4h-4z"/><path fill="#ababab" d="M120 60h4v4h-4zM116 64h4v4h-4zM112 80h4v4h-4zM52 100h4v4h-4zM56 108h4v4h-4zM120 108h4v4h-4zM76 128h4v4h-4zM96 140h4v4h-4zM148 152h4v4h-4z"/><path fill="#adadad" d="M72 36h4v4h-4zM68 40h4v4h-4zM116 92h4v4h-4zM52 104h4v4h-4zM124 104h4v4h-4zM64 112h4v4h-4zM112 112h4v4h-4zM68 116h4v4h-4zM72 120h4v4h-4zM100 124h4v4h-4zM80 132h8v4h-8zM144 156h4v4h-4z"/><path fill="#afafaf" d="M120 80h4v4h-4zM56 96h4v4h-4zM60 108h4v4h-4zM76 124h4v4h-4zM96 136h4v4h-4z"/><path fill="#b1b1b1" d="M64 40h4v4h-4zM124 68h4v4h-4zM124 72h4v4h-4zM100 84h4v4h-4zM116 88h4v4h-4zM116 96h4v4h-4zM56 104h4v4h-4zM80 128h8v4h-8zM88 132h4v4h-4zM92 136h4v4h-4zM136 152h4v4h-4z"/><path fill="#b3b3b3" d="M64 36h4v4h-4zM116 68h4v4h-4zM104 84h8v4h-8zM116 84h4v4h-4zM92 88h4v4h-4zM68 96h12v4h-12zM56 100h4v4h-4zM88 120h4v4h-4zM96 132h4v4h-4zM144 144h4v4h-4z"/><path fill="#b5b5b5" d="M116 72h4v4h-4zM116 76h4v4h-4zM116 80h4v4h-4zM112 84h4v4h-4zM88 92h4v4h-4zM60 96h4v4h-4zM120 104h4v4h-4zM64 108h4v4h-4zM68 112h4v4h-4zM72 116h4v4h-4zM88 116h8v4h-8zM76 120h4v4h-4zM80 124h12v4h-12zM88 128h4v4h-4zM148 144h4v4h-4zM136 156h4v4h-4z"/><path fill="#b7b7b7" d="M68 36h4v4h-4zM120 64h4v4h-4zM64 96h4v4h-4zM80 96h4v4h-4zM60 104h4v4h-4zM116 108h4v4h-4zM104 116h4v4h-4zM84 120h4v4h-4zM92 120h4v4h-4zM100 120h4v4h-4zM96 128h4v4h-4zM92 132h4v4h-4zM140 148h4v4h-4zM148 148h4v4h-4z"/><path fill="#b9b9b9" d="M120 76h4v4h-4zM92 112h4v4h-4zM80 120h4v4h-4z"/><path fill="#bbbbbb" d="M60 100h4v4h-4zM116 100h4v4h-4zM88 112h4v4h-4zM92 124h8v4h-8zM92 128h4v4h-4zM140 156h4v4h-4z"/><path fill="#bdbdbd" d="M108 112h4v4h-4zM84 116h4v4h-4zM96 116h4v4h-4zM96 120h4v4h-4z"/><path fill="#bfbfbf" d="M120 68h4v4h-4zM120 72h4v4h-4zM84 96h4v4h-4zM64 100h4v4h-4zM64 104h4v4h-4zM96 112h4v4h-4zM76 116h4v4h-4z"/><path fill="#c1c1c1" d="M112 88h4v4h-4zM116 104h4v4h-4zM68 108h4v4h-4zM72 112h4v4h-4zM100 116h4v4h-4zM144 148h4v4h-4zM140 152h8v4h-8z"/><path fill="#c3c3c3" d="M96 88h4v4h-4zM112 108h4v4h-4zM80 116h4v4h-4z"/><path fill="#c5c5c5" d="M68 100h4v4h-4z"/><path fill="#c7c7c7" d="M92 92h4v4h-4zM112 92h4v4h-4zM68 104h4v4h-4zM92 108h4v4h-4zM84 112h4v4h-4z"/><path fill="#c9c9c9" d="M108 88h4v4h-4zM72 100h4v4h-4zM100 112h8v4h-8z"/><path fill="#cbcbcb" d="M100 88h4v4h-4zM88 96h4v4h-4zM112 96h4v4h-4zM88 108h4v4h-4zM76 112h4v4h-4z"/><path fill="#cdcdcd" d="M104 88h4v4h-4zM76 100h4v4h-4zM72 108h4v4h-4zM96 108h4v4h-4zM80 112h4v4h-4z"/><path fill="#cfcfcf" d="M112 100h4v4h-4zM112 104h4v4h-4z"/><path fill="#d1d1d1" d="M80 100h4v4h-4zM72 104h4v4h-4zM108 108h4v4h-4z"/><path fill="#d5d5d5" d="M84 100h4v4h-4zM84 108h4v4h-4zM100 108h4v4h-4z"/><path fill="#d7d7d7" d="M76 108h4v4h-4zM104 108h4v4h-4z"/><path fill="#d9d9d9" d="M96 92h4v4h-4zM108 92h4v4h-4zM92 96h4v4h-4zM76 104h4v4h-4zM80 108h4v4h-4z"/><path fill="#dbdbdb" d="M88 100h4v4h-4zM88 104h8v4h-8z"/><path fill="#dddddd" d="M80 104h8v4h-8zM108 104h4v4h-4z"/><path fill="#dfdfdf" d="M96 104h4v4h-4z"/><path fill="#e1e1e1" d="M108 96h4v4h-4zM92 100h4v4h-4zM108 100h4v4h-4z"/><path fill="#e3e3e3" d="M100 92h8v4h-8zM100 104h8v4h-8z"/><path fill="#e7e7e7" d="M96 96h4v4h-4z"/><path fill="#ebebeb" d="M96 100h4v4h-4z"/><path fill="#ededed" d="M104 100h4v4h-4z"/><path fill="#efefef" d="M100 96h8v4h-8zM100 100h4v4h-4z"/></g></svg>
<line x1="354" y1="17" x2="471.8" y2="180.1" stroke="#14f03c" stroke-width="2.4" stroke-dasharray="13 2.6"/>
<line x1="388.0" y1="39.9" x2="395.3" y2="35.5" stroke="#000" stroke-width="1.3"/><path d="M378.3,45.5 L386.7,35.3 L388.2,39.6 L391.3,43.2 Z" fill="#00f000" stroke="#000" stroke-width="1" stroke-linejoin="miter"/>
<line x1="428.7" y1="94.0" x2="436.0" y2="89.7" stroke="#000" stroke-width="1.3"/><path d="M419.0,99.7 L427.4,89.5 L428.9,93.9 L432.0,97.4 Z" fill="#00f000" stroke="#000" stroke-width="1" stroke-linejoin="miter"/>
<line x1="470.0" y1="152.7" x2="477.3" y2="148.3" stroke="#000" stroke-width="1.3"/><path d="M460.3,158.3 L468.7,148.1 L470.2,152.5 L473.3,156.0 Z" fill="#00f000" stroke="#000" stroke-width="1" stroke-linejoin="miter"/>
<text x="401" y="22.9" font-size="13.2" font-weight="bold" fill="#fff" textLength="87.3" lengthAdjust="spacingAndGlyphs" font-family='"Liberation Sans", sans-serif'>Vancomycin</text>
<rect x="440.1" y="194.4" width="47.9" height="2.6" fill="#fff"/><text x="488.3" y="190.9" text-anchor="end" font-size="13.6" fill="#fff" textLength="53" lengthAdjust="spacingAndGlyphs" font-family='"Liberation Sans", sans-serif'>500 nm</text>
<svg x="540" y="6" width="187" height="200" viewBox="0 0 187 200" overflow="hidden"><rect width="187" height="200" fill="#0e0e0e"/><g filter="url(#bl)"><path fill="#060606" d="M-8 -8h16v4h-16zM172 -8h24v4h-24zM-8 -4h12v4h-12zM176 -4h20v4h-20zM-8 0h8v4h-8zM180 0h16v4h-16zM-8 4h4v4h-4zM184 4h12v4h-12zM-8 8h4v4h-4zM188 8h8v4h-8zM188 12h8v4h-8zM192 16h4v4h-4zM-8 200h4v4h-4zM-8 204h8v4h-8z"/><path fill="#080808" d="M8 -8h20v4h-20zM148 -8h24v4h-24zM4 -4h20v4h-20zM156 -4h20v4h-20zM0 0h20v4h-20zM160 0h20v4h-20zM-4 4h20v4h-20zM164 4h20v4h-20zM-4 8h20v4h-20zM164 8h24v4h-24zM-8 12h20v4h-20zM168 12h20v4h-20zM-8 16h16v4h-16zM172 16h20v4h-20zM-8 20h12v4h-12zM176 20h20v4h-20zM-8 24h12v4h-12zM180 24h16v4h-16zM-8 28h8v4h-8zM184 28h12v4h-12zM-8 32h8v4h-8zM184 32h12v4h-12zM-8 36h4v4h-4zM188 36h8v4h-8zM-8 40h4v4h-4zM192 40h4v4h-4zM-8 176h4v4h-4zM-8 180h8v4h-8zM-8 184h12v4h-12zM-8 188h16v4h-16zM-8 192h20v4h-20zM-8 196h24v4h-24zM-4 200h28v4h-28zM0 204h28v4h-28z"/><path fill="#0a0a0a" d="M28 -8h16v4h-16zM136 -8h12v4h-12zM24 -4h16v4h-16zM140 -4h16v4h-16zM20 0h16v4h-16zM144 0h16v4h-16zM16 4h16v4h-16zM148 4h16v4h-16zM16 8h12v4h-12zM152 8h12v4h-12zM12 12h12v4h-12zM156 12h12v4h-12zM8 16h12v4h-12zM160 16h12v4h-12zM4 20h12v4h-12zM164 20h12v4h-12zM4 24h8v4h-8zM168 24h12v4h-12zM0 28h12v4h-12zM172 28h12v4h-12zM0 32h8v4h-8zM172 32h12v4h-12zM-4 36h12v4h-12zM176 36h12v4h-12zM-4 40h8v4h-8zM180 40h12v4h-12zM-8 44h12v4h-12zM184 44h12v4h-12zM-8 48h8v4h-8zM184 48h12v4h-12zM-8 52h8v4h-8zM188 52h8v4h-8zM-8 56h4v4h-4zM192 56h4v4h-4zM-8 60h4v4h-4zM-8 64h4v4h-4zM-8 156h4v4h-4zM-8 160h4v4h-4zM-8 164h8v4h-8zM-8 168h12v4h-12zM-8 172h16v4h-16zM-4 176h12v4h-12zM0 180h12v4h-12zM4 184h16v4h-16zM8 188h16v4h-16zM12 192h16v4h-16zM16 196h20v4h-20zM192 196h4v4h-4zM24 200h16v4h-16zM188 200h8v4h-8zM28 204h20v4h-20zM184 204h12v4h-12z"/><path fill="#0c0c0c" d="M44 -8h16v4h-16zM120 -8h16v4h-16zM40 -4h12v4h-12zM128 -4h12v4h-12zM36 0h12v4h-12zM132 0h12v4h-12zM32 4h8v4h-8zM140 4h8v4h-8zM28 8h8v4h-8zM144 8h8v4h-8zM24 12h8v4h-8zM148 12h8v4h-8zM20 16h8v4h-8zM152 16h8v4h-8zM16 20h8v4h-8zM156 20h8v4h-8zM12 24h8v4h-8zM160 24h8v4h-8zM12 28h8v4h-8zM164 28h8v4h-8zM8 32h8v4h-8zM164 32h8v4h-8zM8 36h8v4h-8zM168 36h8v4h-8zM4 40h8v4h-8zM172 40h8v4h-8zM4 44h8v4h-8zM176 44h8v4h-8zM0 48h8v4h-8zM176 48h8v4h-8zM0 52h8v4h-8zM180 52h8v4h-8zM-4 56h8v4h-8zM184 56h8v4h-8zM-4 60h8v4h-8zM188 60h8v4h-8zM-4 64h4v4h-4zM188 64h8v4h-8zM-8 68h8v4h-8zM192 68h4v4h-4zM-8 72h8v4h-8zM-8 76h8v4h-8zM-8 80h4v4h-4zM-8 84h4v4h-4zM-8 88h4v4h-4zM-8 92h4v4h-4zM-8 132h4v4h-4zM-8 136h4v4h-4zM-8 140h4v4h-4zM-8 144h4v4h-4zM-8 148h8v4h-8zM-8 152h8v4h-8zM-4 156h8v4h-8zM-4 160h12v4h-12zM0 164h8v4h-8zM4 168h8v4h-8zM8 172h8v4h-8zM8 176h12v4h-12zM12 180h12v4h-12zM20 184h8v4h-8zM24 188h12v4h-12zM192 188h4v4h-4zM28 192h12v4h-12zM188 192h8v4h-8zM36 196h12v4h-12zM180 196h12v4h-12zM40 200h16v4h-16zM176 200h12v4h-12zM48 204h20v4h-20zM172 204h12v4h-12z"/><path fill="#0e0e0e" d="M60 -8h20v4h-20zM96 -8h24v4h-24zM52 -4h12v4h-12zM112 -4h16v4h-16zM48 0h8v4h-8zM124 0h8v4h-8zM40 4h8v4h-8zM128 4h12v4h-12zM36 8h8v4h-8zM136 8h8v4h-8zM32 12h8v4h-8zM140 12h8v4h-8zM28 16h8v4h-8zM144 16h8v4h-8zM24 20h8v4h-8zM148 20h8v4h-8zM20 24h8v4h-8zM152 24h8v4h-8zM20 28h4v4h-4zM156 28h8v4h-8zM16 32h8v4h-8zM160 32h4v4h-4zM16 36h4v4h-4zM164 36h4v4h-4zM12 40h4v4h-4zM164 40h8v4h-8zM12 44h4v4h-4zM168 44h8v4h-8zM8 48h4v4h-4zM172 48h4v4h-4zM8 52h4v4h-4zM176 52h4v4h-4zM4 56h8v4h-8zM176 56h8v4h-8zM4 60h4v4h-4zM180 60h8v4h-8zM0 64h8v4h-8zM184 64h4v4h-4zM0 68h8v4h-8zM184 68h8v4h-8zM0 72h4v4h-4zM188 72h8v4h-8zM0 76h4v4h-4zM192 76h4v4h-4zM-4 80h8v4h-8zM192 80h4v4h-4zM-4 84h4v4h-4zM-4 88h4v4h-4zM-4 92h4v4h-4zM-8 96h8v4h-8zM-8 100h8v4h-8zM-8 104h8v4h-8zM-8 108h8v4h-8zM-8 112h8v4h-8zM-8 116h8v4h-8zM-8 120h8v4h-8zM-8 124h8v4h-8zM-8 128h8v4h-8zM-4 132h4v4h-4zM-4 136h4v4h-4zM-4 140h8v4h-8zM-4 144h8v4h-8zM0 148h8v4h-8zM0 152h8v4h-8zM4 156h8v4h-8zM8 160h4v4h-4zM8 164h8v4h-8zM12 168h8v4h-8zM16 172h8v4h-8zM20 176h8v4h-8zM24 180h8v4h-8zM192 180h4v4h-4zM28 184h12v4h-12zM188 184h8v4h-8zM36 188h8v4h-8zM184 188h8v4h-8zM40 192h12v4h-12zM176 192h12v4h-12zM48 196h16v4h-16zM172 196h8v4h-8zM56 200h16v4h-16zM164 200h12v4h-12zM68 204h16v4h-16zM156 204h16v4h-16z"/><path fill="#101010" d="M80 -8h16v4h-16zM64 -4h48v4h-48zM56 0h12v4h-12zM112 0h12v4h-12zM48 4h12v4h-12zM120 4h8v4h-8zM44 8h8v4h-8zM128 8h8v4h-8zM40 12h8v4h-8zM132 12h8v4h-8zM36 16h4v4h-4zM140 16h4v4h-4zM32 20h4v4h-4zM144 20h4v4h-4zM28 24h4v4h-4zM148 24h4v4h-4zM24 28h8v4h-8zM152 28h4v4h-4zM24 32h4v4h-4zM152 32h8v4h-8zM20 36h4v4h-4zM156 36h8v4h-8zM16 40h8v4h-8zM160 40h4v4h-4zM16 44h4v4h-4zM164 44h4v4h-4zM12 48h8v4h-8zM164 48h8v4h-8zM12 52h4v4h-4zM168 52h8v4h-8zM12 56h4v4h-4zM172 56h4v4h-4zM8 60h4v4h-4zM176 60h4v4h-4zM8 64h4v4h-4zM176 64h8v4h-8zM8 68h4v4h-4zM180 68h4v4h-4zM4 72h4v4h-4zM184 72h4v4h-4zM4 76h4v4h-4zM184 76h8v4h-8zM4 80h4v4h-4zM188 80h4v4h-4zM0 84h8v4h-8zM192 84h4v4h-4zM0 88h4v4h-4zM192 88h4v4h-4zM0 92h4v4h-4zM0 96h4v4h-4zM0 100h4v4h-4zM0 104h4v4h-4zM0 108h4v4h-4zM0 112h4v4h-4zM0 116h4v4h-4zM0 120h4v4h-4zM0 124h4v4h-4zM0 128h4v4h-4zM0 132h4v4h-4zM0 136h8v4h-8zM4 140h4v4h-4zM4 144h4v4h-4zM8 148h4v4h-4zM8 152h4v4h-4zM12 156h4v4h-4zM12 160h8v4h-8zM16 164h8v4h-8zM20 168h4v4h-4zM24 172h8v4h-8zM192 172h4v4h-4zM28 176h8v4h-8zM188 176h8v4h-8zM32 180h8v4h-8zM184 180h8v4h-8zM40 184h8v4h-8zM180 184h8v4h-8zM44 188h12v4h-12zM176 188h8v4h-8zM52 192h12v4h-12zM168 192h8v4h-8zM64 196h12v4h-12zM160 196h12v4h-12zM72 200h20v4h-20zM152 200h12v4h-12zM84 204h24v4h-24zM140 204h16v4h-16z"/><path fill="#121212" d="M68 0h44v4h-44zM60 4h8v4h-8zM108 4h12v4h-12zM52 8h8v4h-8zM120 8h8v4h-8zM48 12h4v4h-4zM128 12h4v4h-4zM40 16h8v4h-8zM132 16h8v4h-8zM36 20h8v4h-8zM136 20h8v4h-8zM32 24h8v4h-8zM140 24h8v4h-8zM32 28h4v4h-4zM144 28h8v4h-8zM28 32h4v4h-4zM148 32h4v4h-4zM24 36h4v4h-4zM152 36h4v4h-4zM24 40h4v4h-4zM156 40h4v4h-4zM20 44h4v4h-4zM160 44h4v4h-4zM20 48h4v4h-4zM160 48h4v4h-4zM16 52h4v4h-4zM164 52h4v4h-4zM16 56h4v4h-4zM168 56h4v4h-4zM12 60h4v4h-4zM168 60h8v4h-8zM12 64h4v4h-4zM172 64h4v4h-4zM12 68h4v4h-4zM176 68h4v4h-4zM8 72h8v4h-8zM176 72h8v4h-8zM8 76h4v4h-4zM180 76h4v4h-4zM8 80h4v4h-4zM184 80h4v4h-4zM8 84h4v4h-4zM184 84h8v4h-8zM4 88h8v4h-8zM188 88h4v4h-4zM4 92h4v4h-4zM192 92h4v4h-4zM4 96h4v4h-4zM192 96h4v4h-4zM4 100h4v4h-4zM4 104h4v4h-4zM4 108h4v4h-4zM4 112h4v4h-4zM4 116h4v4h-4zM4 120h4v4h-4zM4 124h4v4h-4zM4 128h4v4h-4zM4 132h4v4h-4zM8 136h4v4h-4zM8 140h4v4h-4zM8 144h8v4h-8zM12 148h4v4h-4zM12 152h8v4h-8zM16 156h4v4h-4zM20 160h4v4h-4zM192 160h4v4h-4zM24 164h4v4h-4zM192 164h4v4h-4zM24 168h8v4h-8zM188 168h8v4h-8zM32 172h4v4h-4zM184 172h8v4h-8zM36 176h8v4h-8zM180 176h8v4h-8zM40 180h8v4h-8zM176 180h8v4h-8zM48 184h8v4h-8zM172 184h8v4h-8zM56 188h12v4h-12zM168 188h8v4h-8zM64 192h16v4h-16zM160 192h8v4h-8zM76 196h16v4h-16zM152 196h8v4h-8zM92 200h20v4h-20zM136 200h16v4h-16zM108 204h32v4h-32z"/><path fill="#141414" d="M68 4h40v4h-40zM60 8h8v4h-8zM112 8h8v4h-8zM52 12h8v4h-8zM120 12h8v4h-8zM48 16h4v4h-4zM128 16h4v4h-4zM44 20h4v4h-4zM132 20h4v4h-4zM40 24h4v4h-4zM136 24h4v4h-4zM36 28h4v4h-4zM140 28h4v4h-4zM32 32h4v4h-4zM144 32h4v4h-4zM28 36h4v4h-4zM148 36h4v4h-4zM28 40h4v4h-4zM152 40h4v4h-4zM24 44h4v4h-4zM152 44h8v4h-8zM24 48h4v4h-4zM156 48h4v4h-4zM20 52h4v4h-4zM160 52h4v4h-4zM20 56h4v4h-4zM164 56h4v4h-4zM16 60h4v4h-4zM164 60h4v4h-4zM16 64h4v4h-4zM168 64h4v4h-4zM16 68h4v4h-4zM172 68h4v4h-4zM172 72h4v4h-4zM12 76h4v4h-4zM176 76h4v4h-4zM12 80h4v4h-4zM180 80h4v4h-4zM12 84h4v4h-4zM180 84h4v4h-4zM184 88h4v4h-4zM8 92h4v4h-4zM184 92h8v4h-8zM8 96h4v4h-4zM188 96h4v4h-4zM8 100h4v4h-4zM188 100h8v4h-8zM8 104h4v4h-4zM192 104h4v4h-4zM8 108h4v4h-4zM192 108h4v4h-4zM8 112h4v4h-4zM8 116h4v4h-4zM8 120h4v4h-4zM8 124h4v4h-4zM8 128h4v4h-4zM8 132h4v4h-4zM12 136h4v4h-4zM12 140h4v4h-4zM16 144h4v4h-4zM16 148h4v4h-4zM20 152h4v4h-4zM192 152h4v4h-4zM20 156h4v4h-4zM192 156h4v4h-4zM24 160h4v4h-4zM188 160h4v4h-4zM28 164h4v4h-4zM188 164h4v4h-4zM32 168h4v4h-4zM184 168h4v4h-4zM36 172h8v4h-8zM180 172h4v4h-4zM44 176h4v4h-4zM176 176h4v4h-4zM48 180h8v4h-8zM172 180h4v4h-4zM56 184h12v4h-12zM168 184h4v4h-4zM68 188h8v4h-8zM160 188h8v4h-8zM80 192h12v4h-12zM152 192h8v4h-8zM92 196h20v4h-20zM136 196h16v4h-16zM112 200h24v4h-24z"/><path fill="#161616" d="M68 8h16v4h-16zM96 8h16v4h-16zM60 12h8v4h-8zM112 12h8v4h-8zM52 16h8v4h-8zM120 16h8v4h-8zM48 20h4v4h-4zM128 20h4v4h-4zM44 24h4v4h-4zM132 24h4v4h-4zM40 28h4v4h-4zM136 28h4v4h-4zM36 32h4v4h-4zM140 32h4v4h-4zM32 36h4v4h-4zM144 36h4v4h-4zM32 40h4v4h-4zM148 40h4v4h-4zM28 44h4v4h-4zM148 44h4v4h-4zM28 48h4v4h-4zM152 48h4v4h-4zM24 52h4v4h-4zM156 52h4v4h-4zM24 56h4v4h-4zM160 56h4v4h-4zM20 60h4v4h-4zM160 60h4v4h-4zM20 64h4v4h-4zM164 64h4v4h-4zM20 68h4v4h-4zM168 68h4v4h-4zM16 72h4v4h-4zM168 72h4v4h-4zM16 76h4v4h-4zM172 76h4v4h-4zM16 80h4v4h-4zM176 80h4v4h-4zM176 84h4v4h-4zM12 88h4v4h-4zM180 88h4v4h-4zM12 92h4v4h-4zM12 96h4v4h-4zM184 96h4v4h-4zM12 100h4v4h-4zM12 104h4v4h-4zM188 104h4v4h-4zM12 108h4v4h-4zM188 108h4v4h-4zM12 112h4v4h-4zM192 112h4v4h-4zM12 116h4v4h-4zM192 116h4v4h-4zM12 120h4v4h-4zM192 120h4v4h-4zM12 124h4v4h-4zM192 124h4v4h-4zM12 128h4v4h-4zM192 128h4v4h-4zM12 132h4v4h-4zM192 132h4v4h-4zM16 136h4v4h-4zM192 136h4v4h-4zM16 140h4v4h-4zM192 140h4v4h-4zM192 144h4v4h-4zM20 148h4v4h-4zM192 148h4v4h-4zM24 152h4v4h-4zM188 152h4v4h-4zM24 156h4v4h-4zM188 156h4v4h-4zM28 160h4v4h-4zM184 160h4v4h-4zM32 164h4v4h-4zM184 164h4v4h-4zM36 168h8v4h-8zM180 168h4v4h-4zM44 172h4v4h-4zM176 172h4v4h-4zM48 176h8v4h-8zM172 176h4v4h-4zM56 180h8v4h-8zM168 180h4v4h-4zM68 184h8v4h-8zM160 184h8v4h-8zM76 188h12v4h-12zM152 188h8v4h-8zM92 192h16v4h-16zM140 192h12v4h-12zM112 196h24v4h-24z"/><path fill="#181818" d="M84 8h12v4h-12zM68 12h8v4h-8zM104 12h8v4h-8zM60 16h4v4h-4zM116 16h4v4h-4zM52 20h8v4h-8zM124 20h4v4h-4zM48 24h4v4h-4zM128 24h4v4h-4zM44 28h4v4h-4zM132 28h4v4h-4zM40 32h4v4h-4zM136 32h4v4h-4zM36 36h4v4h-4zM140 36h4v4h-4zM36 40h4v4h-4zM144 40h4v4h-4zM32 44h4v4h-4zM148 48h4v4h-4zM28 52h4v4h-4zM152 52h4v4h-4zM156 56h4v4h-4zM24 60h4v4h-4zM24 64h4v4h-4zM160 64h4v4h-4zM164 68h4v4h-4zM20 72h4v4h-4zM20 76h4v4h-4zM168 76h4v4h-4zM172 80h4v4h-4zM16 84h4v4h-4zM16 88h4v4h-4zM176 88h4v4h-4zM16 92h4v4h-4zM180 92h4v4h-4zM16 96h4v4h-4zM180 96h4v4h-4zM16 100h4v4h-4zM184 100h4v4h-4zM184 104h4v4h-4zM184 108h4v4h-4zM188 112h4v4h-4zM188 116h4v4h-4zM188 120h4v4h-4zM16 124h4v4h-4zM188 124h4v4h-4zM16 128h4v4h-4zM188 128h4v4h-4zM16 132h4v4h-4zM188 132h4v4h-4zM188 136h4v4h-4zM20 140h4v4h-4zM188 140h4v4h-4zM20 144h4v4h-4zM188 144h4v4h-4zM24 148h4v4h-4zM188 148h4v4h-4zM184 152h4v4h-4zM28 156h4v4h-4zM184 156h4v4h-4zM32 160h4v4h-4zM180 160h4v4h-4zM36 164h8v4h-8zM180 164h4v4h-4zM44 168h4v4h-4zM176 168h4v4h-4zM48 172h8v4h-8zM172 172h4v4h-4zM56 176h8v4h-8zM168 176h4v4h-4zM64 180h8v4h-8zM160 180h8v4h-8zM76 184h12v4h-12zM152 184h8v4h-8zM88 188h12v4h-12zM144 188h8v4h-8zM108 192h32v4h-32z"/><path fill="#1a1a1a" d="M76 12h28v4h-28zM64 16h8v4h-8zM112 16h4v4h-4zM60 20h4v4h-4zM120 20h4v4h-4zM52 24h4v4h-4zM124 24h4v4h-4zM48 28h4v4h-4zM128 28h4v4h-4zM44 32h4v4h-4zM132 32h4v4h-4zM40 36h4v4h-4zM136 36h4v4h-4zM140 40h4v4h-4zM36 44h4v4h-4zM144 44h4v4h-4zM32 48h4v4h-4zM32 52h4v4h-4zM148 52h4v4h-4zM28 56h4v4h-4zM152 56h4v4h-4zM28 60h4v4h-4zM156 60h4v4h-4zM156 64h4v4h-4zM24 68h4v4h-4zM160 68h4v4h-4zM24 72h4v4h-4zM164 72h4v4h-4zM164 76h4v4h-4zM20 80h4v4h-4zM168 80h4v4h-4zM20 84h4v4h-4zM172 84h4v4h-4zM20 88h4v4h-4zM172 88h4v4h-4zM20 92h4v4h-4zM176 92h4v4h-4zM176 96h4v4h-4zM180 100h4v4h-4zM16 104h4v4h-4zM180 104h4v4h-4zM16 108h4v4h-4zM16 112h4v4h-4zM184 112h4v4h-4zM16 116h4v4h-4zM184 116h4v4h-4zM16 120h4v4h-4zM184 120h4v4h-4zM20 136h4v4h-4zM184 140h4v4h-4zM24 144h4v4h-4zM184 144h4v4h-4zM184 148h4v4h-4zM28 152h4v4h-4zM180 152h4v4h-4zM32 156h4v4h-4zM180 156h4v4h-4zM36 160h4v4h-4zM176 160h4v4h-4zM44 164h4v4h-4zM176 164h4v4h-4zM48 168h4v4h-4zM172 168h4v4h-4zM56 172h4v4h-4zM168 172h4v4h-4zM64 176h8v4h-8zM164 176h4v4h-4zM72 180h12v4h-12zM156 180h4v4h-4zM88 184h8v4h-8zM148 184h4v4h-4zM100 188h44v4h-44z"/><path fill="#1c1c1c" d="M72 16h8v4h-8zM104 16h8v4h-8zM64 20h4v4h-4zM116 20h4v4h-4zM56 24h4v4h-4zM120 24h4v4h-4zM52 28h4v4h-4zM124 28h4v4h-4zM48 32h4v4h-4zM128 32h4v4h-4zM44 36h4v4h-4zM132 36h4v4h-4zM40 40h4v4h-4zM136 40h4v4h-4zM140 44h4v4h-4zM36 48h4v4h-4zM144 48h4v4h-4zM144 52h4v4h-4zM32 56h4v4h-4zM148 56h4v4h-4zM152 60h4v4h-4zM28 64h4v4h-4zM28 68h4v4h-4zM156 68h4v4h-4zM160 72h4v4h-4zM24 76h4v4h-4zM24 80h4v4h-4zM164 80h4v4h-4zM24 84h4v4h-4zM168 84h4v4h-4zM172 92h4v4h-4zM20 96h4v4h-4zM20 100h4v4h-4zM176 100h4v4h-4zM20 104h4v4h-4zM20 108h4v4h-4zM180 108h4v4h-4zM180 112h4v4h-4zM184 124h4v4h-4zM20 128h4v4h-4zM184 128h4v4h-4zM20 132h4v4h-4zM184 132h4v4h-4zM184 136h4v4h-4zM24 140h4v4h-4zM180 144h4v4h-4zM28 148h4v4h-4zM180 148h4v4h-4zM176 156h4v4h-4zM40 160h4v4h-4zM172 164h4v4h-4zM52 168h8v4h-8zM168 168h4v4h-4zM60 172h8v4h-8zM164 172h4v4h-4zM72 176h8v4h-8zM160 176h4v4h-4zM84 180h8v4h-8zM152 180h4v4h-4zM96 184h16v4h-16zM136 184h12v4h-12z"/><path fill="#1e1e1e" d="M80 16h24v4h-24zM68 20h8v4h-8zM112 20h4v4h-4zM60 24h4v4h-4zM116 24h4v4h-4zM56 28h4v4h-4zM52 32h4v4h-4zM48 36h4v4h-4zM128 36h4v4h-4zM44 40h4v4h-4zM132 40h4v4h-4zM40 44h4v4h-4zM136 44h4v4h-4zM140 48h4v4h-4zM36 52h4v4h-4zM144 56h4v4h-4zM32 60h4v4h-4zM148 60h4v4h-4zM152 64h4v4h-4zM28 72h4v4h-4zM156 72h4v4h-4zM28 76h4v4h-4zM160 76h4v4h-4zM164 84h4v4h-4zM24 88h4v4h-4zM168 88h4v4h-4zM24 92h4v4h-4zM168 92h4v4h-4zM24 96h4v4h-4zM172 96h4v4h-4zM176 104h4v4h-4zM176 108h4v4h-4zM20 112h4v4h-4zM20 116h4v4h-4zM180 116h4v4h-4zM20 120h4v4h-4zM180 120h4v4h-4zM20 124h4v4h-4zM180 124h4v4h-4zM180 128h4v4h-4zM180 132h4v4h-4zM180 136h4v4h-4zM180 140h4v4h-4zM32 152h4v4h-4zM176 152h4v4h-4zM36 156h4v4h-4zM172 160h4v4h-4zM48 164h4v4h-4zM168 164h4v4h-4zM60 168h4v4h-4zM164 168h4v4h-4zM68 172h8v4h-8zM160 172h4v4h-4zM80 176h8v4h-8zM156 176h4v4h-4zM92 180h12v4h-12zM144 180h8v4h-8zM112 184h24v4h-24z"/><path fill="#202020" d="M76 20h4v4h-4zM108 20h4v4h-4zM64 24h4v4h-4zM60 28h4v4h-4zM120 28h4v4h-4zM124 32h4v4h-4zM44 44h4v4h-4zM132 44h4v4h-4zM40 48h4v4h-4zM136 48h4v4h-4zM140 52h4v4h-4zM36 56h4v4h-4zM144 60h4v4h-4zM32 64h4v4h-4zM148 64h4v4h-4zM32 68h4v4h-4zM152 68h4v4h-4zM156 76h4v4h-4zM28 80h4v4h-4zM160 80h4v4h-4zM28 84h4v4h-4zM28 88h4v4h-4zM164 88h4v4h-4zM168 96h4v4h-4zM24 100h4v4h-4zM172 100h4v4h-4zM24 104h4v4h-4zM172 104h4v4h-4zM176 112h4v4h-4zM24 136h4v4h-4zM28 144h4v4h-4zM176 148h4v4h-4zM172 156h4v4h-4zM44 160h4v4h-4zM52 164h4v4h-4zM64 168h8v4h-8zM76 172h8v4h-8zM88 176h8v4h-8zM152 176h4v4h-4zM104 180h8v4h-8zM140 180h4v4h-4z"/><path fill="#222222" d="M80 20h8v4h-8zM100 20h8v4h-8zM68 24h4v4h-4zM112 24h4v4h-4zM116 28h4v4h-4zM56 32h4v4h-4zM120 32h4v4h-4zM52 36h4v4h-4zM124 36h4v4h-4zM48 40h4v4h-4zM128 40h4v4h-4zM40 52h4v4h-4zM136 52h4v4h-4zM140 56h4v4h-4zM36 60h4v4h-4zM148 68h4v4h-4zM32 72h4v4h-4zM152 72h4v4h-4zM32 76h4v4h-4zM32 80h4v4h-4zM156 80h4v4h-4zM160 84h4v4h-4zM28 92h4v4h-4zM164 92h4v4h-4zM28 96h4v4h-4zM168 100h4v4h-4zM24 108h4v4h-4zM172 108h4v4h-4zM176 116h4v4h-4zM176 120h4v4h-4zM176 144h4v4h-4zM168 160h4v4h-4zM56 164h4v4h-4zM72 168h4v4h-4zM84 172h8v4h-8zM156 172h4v4h-4zM96 176h8v4h-8zM148 176h4v4h-4zM112 180h12v4h-12zM132 180h8v4h-8z"/><path fill="#242424" d="M88 20h12v4h-12zM72 24h4v4h-4zM108 24h4v4h-4zM64 28h4v4h-4zM128 44h4v4h-4zM44 48h4v4h-4zM132 48h4v4h-4zM40 56h4v4h-4zM136 56h4v4h-4zM140 60h4v4h-4zM36 64h4v4h-4zM144 64h4v4h-4zM36 68h4v4h-4zM148 72h4v4h-4zM152 76h4v4h-4zM32 84h4v4h-4zM156 84h4v4h-4zM32 88h4v4h-4zM160 88h4v4h-4zM164 96h4v4h-4zM176 124h4v4h-4zM176 128h4v4h-4zM24 132h4v4h-4zM176 132h4v4h-4zM176 136h4v4h-4zM176 140h4v4h-4zM32 148h4v4h-4zM36 152h4v4h-4zM172 152h4v4h-4zM40 156h4v4h-4zM60 164h4v4h-4zM164 164h4v4h-4zM76 168h8v4h-8zM160 168h4v4h-4zM92 172h4v4h-4zM104 176h4v4h-4zM124 180h8v4h-8z"/><path fill="#262626" d="M76 24h4v4h-4zM68 28h4v4h-4zM112 28h4v4h-4zM60 32h4v4h-4zM116 32h4v4h-4zM56 36h4v4h-4zM120 36h4v4h-4zM52 40h4v4h-4zM124 40h4v4h-4zM48 44h4v4h-4zM44 52h4v4h-4zM132 52h4v4h-4zM40 60h4v4h-4zM140 64h4v4h-4zM144 68h4v4h-4zM36 72h4v4h-4zM36 76h4v4h-4zM148 76h4v4h-4zM152 80h4v4h-4zM156 88h4v4h-4zM32 92h4v4h-4zM160 92h4v4h-4zM28 100h4v4h-4zM168 104h4v4h-4zM24 112h4v4h-4zM172 112h4v4h-4zM24 128h4v4h-4zM48 160h4v4h-4zM64 164h4v4h-4zM84 168h8v4h-8zM96 172h4v4h-4zM108 176h4v4h-4zM144 176h4v4h-4z"/><path fill="#282828" d="M80 24h4v4h-4zM104 24h4v4h-4zM128 48h4v4h-4zM136 60h4v4h-4zM40 64h4v4h-4zM140 68h4v4h-4zM144 72h4v4h-4zM36 80h4v4h-4zM148 80h4v4h-4zM36 84h4v4h-4zM152 84h4v4h-4zM36 88h4v4h-4zM164 100h4v4h-4zM24 116h4v4h-4zM24 120h4v4h-4zM24 124h4v4h-4zM28 140h4v4h-4zM172 148h4v4h-4zM168 156h4v4h-4zM68 164h16v4h-16zM92 168h4v4h-4zM100 172h4v4h-4zM152 172h4v4h-4zM112 176h4v4h-4z"/><path fill="#2a2a2a" d="M100 24h4v4h-4zM64 32h4v4h-4zM124 44h4v4h-4zM48 48h4v4h-4zM44 56h4v4h-4zM132 56h4v4h-4zM136 64h4v4h-4zM40 68h4v4h-4zM40 72h4v4h-4zM140 72h4v4h-4zM144 76h4v4h-4zM152 88h4v4h-4zM156 92h4v4h-4zM32 96h4v4h-4zM160 96h4v4h-4zM28 104h4v4h-4zM168 108h4v4h-4zM172 116h4v4h-4zM52 160h4v4h-4zM84 164h8v4h-8zM96 168h4v4h-4zM104 172h4v4h-4zM140 176h4v4h-4z"/><path fill="#2c2c2c" d="M84 24h8v4h-8zM96 24h4v4h-4zM72 28h4v4h-4zM108 28h4v4h-4zM60 36h4v4h-4zM56 40h4v4h-4zM120 40h4v4h-4zM52 44h4v4h-4zM128 52h4v4h-4zM132 60h4v4h-4zM136 68h4v4h-4zM40 76h4v4h-4zM40 80h4v4h-4zM144 80h4v4h-4zM40 84h4v4h-4zM148 84h4v4h-4zM36 92h4v4h-4zM44 156h4v4h-4zM92 164h4v4h-4zM156 168h4v4h-4zM116 176h4v4h-4z"/><path fill="#2e2e2e" d="M92 24h4v4h-4zM112 32h4v4h-4zM116 36h4v4h-4zM48 52h4v4h-4zM44 60h4v4h-4zM136 72h4v4h-4zM140 76h4v4h-4zM40 88h4v4h-4zM172 120h4v4h-4zM32 144h4v4h-4zM172 144h4v4h-4zM84 160h4v4h-4zM164 160h4v4h-4zM160 164h4v4h-4zM148 172h4v4h-4zM120 176h4v4h-4zM136 176h4v4h-4z"/><path fill="#303030" d="M76 28h4v4h-4zM44 64h4v4h-4zM132 64h4v4h-4zM136 76h4v4h-4zM44 80h4v4h-4zM140 80h4v4h-4zM144 84h4v4h-4zM148 88h4v4h-4zM164 104h4v4h-4zM28 108h4v4h-4zM28 136h4v4h-4zM56 160h4v4h-4zM80 160h4v4h-4zM88 160h4v4h-4zM100 168h4v4h-4zM108 172h4v4h-4zM124 176h4v4h-4zM132 176h4v4h-4z"/><path fill="#323232" d="M104 28h4v4h-4zM68 32h4v4h-4zM52 48h4v4h-4zM124 48h4v4h-4zM128 56h4v4h-4zM44 68h4v4h-4zM132 68h4v4h-4zM44 72h4v4h-4zM44 76h4v4h-4zM44 84h4v4h-4zM152 92h4v4h-4zM156 96h4v4h-4zM32 100h4v4h-4zM160 100h4v4h-4zM168 112h4v4h-4zM172 124h4v4h-4zM172 140h4v4h-4zM36 148h4v4h-4zM40 152h4v4h-4zM168 152h4v4h-4zM76 160h4v4h-4zM96 164h4v4h-4zM128 176h4v4h-4z"/><path fill="#343434" d="M48 56h4v4h-4zM132 72h4v4h-4zM136 80h4v4h-4zM140 84h4v4h-4zM172 128h4v4h-4zM172 136h4v4h-4zM60 160h4v4h-4zM72 160h4v4h-4zM92 160h4v4h-4z"/><path fill="#363636" d="M80 28h4v4h-4zM64 36h4v4h-4zM56 44h4v4h-4zM132 76h4v4h-4zM44 88h4v4h-4zM144 88h4v4h-4zM36 96h4v4h-4zM172 132h4v4h-4zM64 160h8v4h-8z"/><path fill="#383838" d="M100 28h4v4h-4zM108 32h4v4h-4zM60 40h4v4h-4zM120 44h4v4h-4zM48 60h4v4h-4zM128 60h4v4h-4zM48 80h4v4h-4zM132 80h4v4h-4zM48 84h4v4h-4zM136 84h4v4h-4zM40 92h4v4h-4zM28 112h4v4h-4zM28 132h4v4h-4zM48 156h4v4h-4zM84 156h8v4h-8zM104 168h4v4h-4zM152 168h4v4h-4zM112 172h4v4h-4zM144 172h4v4h-4z"/><path fill="#3a3a3a" d="M112 36h4v4h-4zM116 40h4v4h-4zM48 76h4v4h-4zM148 92h4v4h-4z"/><path fill="#3c3c3c" d="M84 28h4v4h-4zM96 28h4v4h-4zM72 32h4v4h-4zM52 52h4v4h-4zM124 52h4v4h-4zM48 64h4v4h-4zM48 68h4v4h-4zM48 72h4v4h-4zM132 84h4v4h-4zM140 88h4v4h-4zM32 104h4v4h-4zM164 108h4v4h-4zM168 116h4v4h-4zM32 140h4v4h-4zM168 148h4v4h-4zM164 156h4v4h-4z"/><path fill="#3e3e3e" d="M88 28h4v4h-4zM128 64h4v4h-4zM28 116h4v4h-4zM28 128h4v4h-4zM80 156h4v4h-4zM100 164h4v4h-4z"/><path fill="#404040" d="M92 28h4v4h-4zM128 68h4v4h-4zM152 96h4v4h-4zM28 120h4v4h-4zM28 124h4v4h-4zM92 156h4v4h-4zM96 160h4v4h-4zM160 160h4v4h-4zM156 164h4v4h-4zM116 172h4v4h-4zM140 172h4v4h-4z"/><path fill="#424242" d="M128 72h4v4h-4zM128 76h4v4h-4zM128 80h4v4h-4zM52 84h4v4h-4zM48 88h4v4h-4zM156 100h4v4h-4zM160 104h4v4h-4zM44 152h4v4h-4zM52 156h4v4h-4z"/><path fill="#444444" d="M104 32h4v4h-4zM56 48h4v4h-4zM52 80h4v4h-4zM128 84h4v4h-4zM136 88h4v4h-4zM36 100h4v4h-4zM168 120h4v4h-4zM36 144h4v4h-4zM108 168h4v4h-4z"/><path fill="#464646" d="M68 36h4v4h-4zM120 48h4v4h-4zM52 56h4v4h-4zM44 92h4v4h-4zM144 92h4v4h-4zM168 144h4v4h-4zM40 148h4v4h-4zM88 152h4v4h-4zM76 156h4v4h-4zM148 168h4v4h-4zM120 172h4v4h-4z"/><path fill="#484848" d="M76 32h4v4h-4zM124 56h4v4h-4zM52 76h4v4h-4zM40 96h4v4h-4zM32 108h4v4h-4zM136 172h4v4h-4z"/><path fill="#4a4a4a" d="M60 44h4v4h-4zM132 88h4v4h-4zM164 112h4v4h-4zM32 136h4v4h-4zM56 156h4v4h-4z"/><path fill="#4c4c4c" d="M108 36h4v4h-4zM64 40h4v4h-4zM52 60h4v4h-4zM52 88h4v4h-4zM168 124h4v4h-4zM84 152h4v4h-4zM164 152h4v4h-4zM72 156h4v4h-4zM124 172h12v4h-12z"/><path fill="#4e4e4e" d="M116 44h4v4h-4zM52 72h4v4h-4zM168 140h4v4h-4z"/><path fill="#505050" d="M100 32h4v4h-4zM112 40h4v4h-4zM128 88h4v4h-4zM148 96h4v4h-4zM168 128h4v4h-4zM48 152h4v4h-4zM92 152h4v4h-4zM60 156h4v4h-4zM68 156h4v4h-4zM104 164h4v4h-4z"/><path fill="#525252" d="M124 60h4v4h-4zM52 64h4v4h-4zM52 68h4v4h-4zM124 84h4v4h-4zM140 92h4v4h-4zM32 112h4v4h-4zM32 132h4v4h-4zM168 132h4v4h-4zM168 136h4v4h-4zM64 156h4v4h-4zM152 164h4v4h-4zM112 168h4v4h-4z"/><path fill="#545454" d="M80 32h4v4h-4zM56 84h4v4h-4zM36 104h4v4h-4zM160 108h4v4h-4zM36 140h4v4h-4zM96 156h4v4h-4zM100 160h4v4h-4zM144 168h4v4h-4z"/><path fill="#565656" d="M56 52h4v4h-4zM124 80h4v4h-4zM48 92h4v4h-4zM152 100h4v4h-4zM80 152h4v4h-4zM160 156h4v4h-4z"/><path fill="#585858" d="M120 52h4v4h-4zM124 64h4v4h-4zM156 104h4v4h-4zM32 116h4v4h-4zM164 116h4v4h-4zM32 128h4v4h-4zM44 148h4v4h-4zM156 160h4v4h-4z"/><path fill="#5a5a5a" d="M72 36h4v4h-4zM124 76h4v4h-4zM56 80h4v4h-4zM124 88h4v4h-4zM40 144h4v4h-4z"/><path fill="#5c5c5c" d="M96 32h4v4h-4zM124 68h4v4h-4zM56 88h4v4h-4zM44 96h4v4h-4zM40 100h4v4h-4zM32 120h4v4h-4zM32 124h4v4h-4zM88 148h4v4h-4zM164 148h4v4h-4zM52 152h4v4h-4zM116 168h4v4h-4z"/><path fill="#5e5e5e" d="M84 32h4v4h-4zM124 72h4v4h-4zM136 92h4v4h-4zM140 168h4v4h-4z"/><path fill="#606060" d="M104 36h4v4h-4zM36 136h4v4h-4zM76 152h4v4h-4zM108 164h4v4h-4z"/><path fill="#626262" d="M88 32h8v4h-8zM116 48h4v4h-4zM52 92h4v4h-4zM144 96h4v4h-4zM36 108h4v4h-4zM164 120h4v4h-4zM84 148h4v4h-4z"/><path fill="#646464" d="M60 48h4v4h-4zM160 112h4v4h-4zM48 148h4v4h-4zM92 148h4v4h-4zM56 152h4v4h-4zM148 164h4v4h-4zM120 168h4v4h-4z"/><path fill="#666666" d="M68 40h4v4h-4zM56 56h4v4h-4zM120 56h4v4h-4zM56 76h4v4h-4zM132 92h4v4h-4zM40 140h4v4h-4zM72 152h4v4h-4zM96 152h4v4h-4zM136 168h4v4h-4z"/><path fill="#686868" d="M108 40h4v4h-4zM112 44h4v4h-4zM36 112h4v4h-4zM36 132h4v4h-4zM44 144h4v4h-4zM164 144h4v4h-4zM60 152h4v4h-4zM104 160h4v4h-4zM124 168h4v4h-4z"/><path fill="#6a6a6a" d="M64 44h4v4h-4zM120 88h4v4h-4zM40 104h4v4h-4zM164 124h4v4h-4zM36 128h4v4h-4zM64 152h8v4h-8zM100 156h4v4h-4zM128 168h8v4h-8z"/><path fill="#6c6c6c" d="M120 84h4v4h-4zM48 96h4v4h-4zM44 100h4v4h-4zM148 100h4v4h-4zM156 108h4v4h-4zM36 116h4v4h-4zM36 124h4v4h-4zM52 148h4v4h-4zM160 152h4v4h-4zM112 164h4v4h-4z"/><path fill="#6e6e6e" d="M76 36h4v4h-4zM60 84h4v4h-4zM60 88h4v4h-4zM56 92h4v4h-4zM128 92h4v4h-4zM152 104h4v4h-4zM36 120h4v4h-4zM164 128h4v4h-4zM40 136h4v4h-4zM164 140h4v4h-4zM80 148h4v4h-4zM152 160h4v4h-4z"/><path fill="#707070" d="M120 60h4v4h-4zM56 72h4v4h-4zM160 116h4v4h-4zM40 132h4v4h-4zM164 132h4v4h-4zM164 136h4v4h-4zM44 140h4v4h-4zM48 144h4v4h-4zM56 148h4v4h-4zM144 164h4v4h-4z"/><path fill="#727272" d="M56 60h4v4h-4zM124 92h4v4h-4zM140 96h4v4h-4zM40 108h4v4h-4zM40 128h4v4h-4zM44 136h4v4h-4zM88 144h4v4h-4zM156 156h4v4h-4z"/><path fill="#747474" d="M100 36h4v4h-4zM116 52h4v4h-4zM120 80h4v4h-4zM40 112h4v4h-4zM40 120h4v4h-4zM40 124h4v4h-4zM44 132h4v4h-4zM48 140h4v4h-4zM52 144h4v4h-4zM60 148h4v4h-4zM76 148h4v4h-4zM116 164h4v4h-4z"/><path fill="#767676" d="M56 68h4v4h-4zM52 96h4v4h-4zM44 104h4v4h-4zM40 116h4v4h-4zM44 128h4v4h-4zM48 136h4v4h-4zM52 140h4v4h-4zM56 144h4v4h-4zM92 144h4v4h-4zM64 148h4v4h-4zM108 160h4v4h-4zM140 164h4v4h-4z"/><path fill="#787878" d="M56 64h4v4h-4zM120 64h4v4h-4zM60 80h4v4h-4zM120 92h4v4h-4zM48 100h4v4h-4zM156 112h4v4h-4zM44 120h4v4h-4zM160 120h4v4h-4zM44 124h4v4h-4zM48 132h4v4h-4zM60 144h4v4h-4zM84 144h4v4h-4zM68 148h8v4h-8zM96 148h4v4h-4z"/><path fill="#7a7a7a" d="M112 48h4v4h-4zM120 76h4v4h-4zM60 92h4v4h-4zM44 108h4v4h-4zM44 112h4v4h-4zM44 116h4v4h-4zM48 128h4v4h-4zM52 136h4v4h-4zM56 140h4v4h-4zM64 144h4v4h-4zM160 148h4v4h-4zM100 152h4v4h-4zM104 156h4v4h-4zM120 164h8v4h-8zM136 164h4v4h-4z"/><path fill="#7c7c7c" d="M60 52h4v4h-4zM120 68h4v4h-4zM120 72h4v4h-4zM144 100h4v4h-4zM48 104h4v4h-4zM48 120h4v4h-4zM48 124h4v4h-4zM160 124h4v4h-4zM52 128h4v4h-4zM52 132h4v4h-4zM56 136h4v4h-4zM60 140h4v4h-4zM68 144h4v4h-4zM80 144h4v4h-4zM148 160h4v4h-4zM128 164h8v4h-8z"/><path fill="#7e7e7e" d="M116 56h4v4h-4zM56 96h4v4h-4zM48 108h4v4h-4zM152 108h4v4h-4zM48 112h4v4h-4zM48 116h4v4h-4zM52 124h4v4h-4zM160 128h4v4h-4zM56 132h4v4h-4zM60 136h4v4h-4zM64 140h4v4h-4zM72 144h8v4h-8zM112 160h4v4h-4z"/><path fill="#818181" d="M80 36h4v4h-4zM104 40h4v4h-4zM108 44h4v4h-4zM136 96h4v4h-4zM52 100h4v4h-4zM148 104h4v4h-4zM52 116h4v4h-4zM156 116h4v4h-4zM52 120h4v4h-4zM56 128h4v4h-4zM60 132h4v4h-4zM64 136h4v4h-4zM68 140h4v4h-4zM116 160h4v4h-4z"/><path fill="#838383" d="M72 40h4v4h-4zM64 88h4v4h-4zM116 88h4v4h-4zM52 104h4v4h-4zM52 108h4v4h-4zM52 112h4v4h-4zM56 120h4v4h-4zM156 120h4v4h-4zM56 124h4v4h-4zM60 128h4v4h-4zM64 132h4v4h-4zM160 132h4v4h-4zM68 136h4v4h-4zM72 140h4v4h-4zM88 140h4v4h-4zM160 144h4v4h-4zM108 156h4v4h-4zM120 160h8v4h-8z"/><path fill="#858585" d="M96 36h4v4h-4zM116 92h4v4h-4zM60 96h4v4h-4zM56 100h4v4h-4zM56 104h4v4h-4zM56 108h4v4h-4zM56 112h4v4h-4zM152 112h4v4h-4zM56 116h4v4h-4zM60 124h4v4h-4zM156 124h4v4h-4zM72 136h4v4h-4zM160 136h4v4h-4zM76 140h12v4h-12zM160 140h4v4h-4zM96 144h4v4h-4zM128 160h12v4h-12zM144 160h4v4h-4z"/><path fill="#878787" d="M112 52h4v4h-4zM116 60h4v4h-4zM60 76h4v4h-4zM64 92h4v4h-4zM60 116h4v4h-4zM60 120h4v4h-4zM64 124h4v4h-4zM64 128h4v4h-4zM156 128h4v4h-4zM68 132h4v4h-4zM76 136h4v4h-4zM92 140h4v4h-4zM100 148h4v4h-4zM104 152h4v4h-4zM156 152h4v4h-4zM112 156h8v4h-8zM152 156h4v4h-4zM140 160h4v4h-4z"/><path fill="#898989" d="M64 84h4v4h-4zM60 100h4v4h-4zM60 104h4v4h-4zM60 108h4v4h-4zM60 112h4v4h-4zM152 116h4v4h-4zM64 120h4v4h-4zM152 120h4v4h-4zM68 128h4v4h-4zM72 132h4v4h-4zM80 136h4v4h-4zM120 156h12v4h-12z"/><path fill="#8b8b8b" d="M64 48h4v4h-4zM116 64h4v4h-4zM116 84h4v4h-4zM64 96h4v4h-4zM132 96h4v4h-4zM148 108h4v4h-4zM64 112h4v4h-4zM64 116h4v4h-4zM68 124h4v4h-4zM152 124h4v4h-4zM72 128h4v4h-4zM76 132h4v4h-4zM84 136h8v4h-8zM108 152h16v4h-16zM132 156h4v4h-4z"/><path fill="#8d8d8d" d="M84 36h4v4h-4zM68 44h4v4h-4zM108 48h4v4h-4zM112 56h4v4h-4zM64 100h4v4h-4zM140 100h4v4h-4zM64 104h4v4h-4zM144 104h4v4h-4zM64 108h4v4h-4zM68 116h4v4h-4zM68 120h4v4h-4zM72 124h4v4h-4zM76 128h4v4h-4zM80 132h8v4h-8zM156 132h4v4h-4zM96 140h4v4h-4zM100 144h4v4h-4zM104 148h4v4h-4zM124 152h8v4h-8z"/><path fill="#8f8f8f" d="M92 36h4v4h-4zM112 60h4v4h-4zM116 68h4v4h-4zM68 100h4v4h-4zM68 104h4v4h-4zM68 108h4v4h-4zM68 112h4v4h-4zM148 112h4v4h-4zM148 116h4v4h-4zM72 120h4v4h-4zM148 120h4v4h-4zM76 124h4v4h-4zM80 128h4v4h-4zM152 128h4v4h-4zM88 132h4v4h-4zM92 136h4v4h-4zM108 148h16v4h-16zM136 156h4v4h-4z"/><path fill="#919191" d="M88 36h4v4h-4zM108 52h4v4h-4zM116 72h4v4h-4zM64 80h4v4h-4zM116 80h4v4h-4zM68 92h4v4h-4zM68 96h4v4h-4zM72 112h4v4h-4zM72 116h4v4h-4zM76 120h4v4h-4zM80 124h4v4h-4zM148 124h4v4h-4zM84 128h4v4h-4zM156 136h4v4h-4zM104 144h4v4h-4zM124 148h4v4h-4zM132 152h4v4h-4zM140 156h4v4h-4zM148 156h4v4h-4z"/><path fill="#939393" d="M100 40h4v4h-4zM104 44h4v4h-4zM60 56h4v4h-4zM108 56h4v4h-4zM112 64h4v4h-4zM60 72h4v4h-4zM116 76h4v4h-4zM68 88h4v4h-4zM128 96h4v4h-4zM72 104h4v4h-4zM72 108h4v4h-4zM76 116h4v4h-4zM80 120h4v4h-4zM84 124h4v4h-4zM88 128h4v4h-4zM148 128h4v4h-4zM92 132h4v4h-4zM152 132h4v4h-4zM96 136h4v4h-4zM100 140h4v4h-4zM108 144h16v4h-16zM128 148h4v4h-4zM156 148h4v4h-4zM144 156h4v4h-4z"/><path fill="#959595" d="M108 60h4v4h-4zM112 92h4v4h-4zM72 96h4v4h-4zM72 100h4v4h-4zM144 108h4v4h-4zM76 112h4v4h-4zM104 140h8v4h-8zM156 140h4v4h-4zM124 144h4v4h-4z"/><path fill="#979797" d="M108 64h4v4h-4zM112 68h4v4h-4zM68 84h4v4h-4zM116 96h12v4h-12zM76 104h4v4h-4zM96 104h4v4h-4zM76 108h4v4h-4zM80 116h4v4h-4zM84 120h4v4h-4zM88 124h4v4h-4zM144 124h4v4h-4zM92 128h4v4h-4zM96 132h4v4h-4zM100 136h4v4h-4zM112 140h12v4h-12zM128 144h4v4h-4zM156 144h4v4h-4zM132 148h4v4h-4zM136 152h4v4h-4zM152 152h4v4h-4z"/><path fill="#999999" d="M104 48h4v4h-4zM104 52h4v4h-4zM104 56h4v4h-4zM104 60h4v4h-4zM112 88h4v4h-4zM72 92h4v4h-4zM76 100h4v4h-4zM80 112h4v4h-4zM144 112h4v4h-4zM144 116h4v4h-4zM88 120h4v4h-4zM144 120h4v4h-4zM92 124h4v4h-4zM144 128h4v4h-4zM104 136h8v4h-8zM124 140h8v4h-8z"/><path fill="#9b9b9b" d="M104 64h4v4h-4zM60 68h4v4h-4zM108 68h4v4h-4zM112 72h4v4h-4zM64 76h4v4h-4zM72 88h4v4h-4zM76 96h4v4h-4zM112 96h4v4h-4zM136 100h4v4h-4zM92 104h4v4h-4zM140 104h4v4h-4zM96 108h4v4h-4zM84 116h4v4h-4zM96 128h4v4h-4zM100 132h4v4h-4zM148 132h4v4h-4zM112 136h4v4h-4zM152 136h4v4h-4zM132 144h4v4h-4z"/><path fill="#9d9d9d" d="M76 40h4v4h-4zM60 60h4v4h-4zM68 80h4v4h-4zM72 84h4v4h-4zM80 104h4v4h-4zM100 104h4v4h-4zM80 108h4v4h-4zM92 108h4v4h-4zM88 116h4v4h-4zM92 120h4v4h-4zM96 124h4v4h-4zM100 128h4v4h-4zM104 132h4v4h-4zM144 132h4v4h-4zM116 136h8v4h-8zM132 140h4v4h-4zM140 152h4v4h-4z"/><path fill="#9f9f9f" d="M100 60h4v4h-4zM60 64h4v4h-4zM100 64h4v4h-4zM104 68h4v4h-4zM112 76h4v4h-4zM112 84h4v4h-4zM76 88h4v4h-4zM76 92h4v4h-4zM80 100h4v4h-4zM84 112h4v4h-4zM92 112h4v4h-4zM92 116h4v4h-4zM140 128h4v4h-4zM108 132h4v4h-4zM140 132h4v4h-4zM124 136h12v4h-12zM136 148h4v4h-4zM148 152h4v4h-4z"/><path fill="#a1a1a1" d="M100 56h4v4h-4zM108 72h4v4h-4zM72 80h8v4h-8zM112 80h4v4h-4zM76 84h4v4h-4zM80 96h4v4h-4zM108 96h4v4h-4zM100 100h4v4h-4zM84 108h8v4h-8zM88 112h4v4h-4zM96 112h4v4h-4zM96 120h4v4h-4zM100 124h4v4h-4zM140 124h4v4h-4zM104 128h4v4h-4zM136 132h4v4h-4zM136 136h4v4h-4zM152 148h4v4h-4zM144 152h4v4h-4z"/><path fill="#a3a3a3" d="M96 40h4v4h-4zM100 44h4v4h-4zM100 52h4v4h-4zM100 68h4v4h-4zM68 76h4v4h-4zM80 80h4v4h-4zM80 84h4v4h-4zM80 88h4v4h-4zM80 92h4v4h-4zM108 92h4v4h-4zM96 100h4v4h-4zM104 100h4v4h-4zM84 104h8v4h-8zM100 108h4v4h-4zM140 108h4v4h-4zM96 116h4v4h-4zM140 120h4v4h-4zM112 132h4v4h-4zM132 132h4v4h-4zM148 136h4v4h-4zM136 140h4v4h-4zM152 140h4v4h-4zM136 144h4v4h-4z"/><path fill="#a5a5a5" d="M100 48h4v4h-4zM96 64h4v4h-4zM96 68h4v4h-4zM104 72h4v4h-4zM72 76h12v4h-12zM84 80h4v4h-4zM84 100h4v4h-4zM92 100h4v4h-4zM108 100h4v4h-4zM140 112h4v4h-4zM140 116h4v4h-4zM108 128h4v4h-4zM136 128h4v4h-4zM116 132h4v4h-4zM128 132h4v4h-4zM140 136h8v4h-8zM152 144h4v4h-4z"/><path fill="#a7a7a7" d="M64 52h4v4h-4zM96 60h4v4h-4zM92 68h4v4h-4zM64 72h4v4h-4zM92 72h4v4h-4zM100 72h4v4h-4zM84 76h8v4h-8zM108 76h4v4h-4zM84 84h4v4h-4zM84 88h4v4h-4zM104 96h4v4h-4zM88 100h4v4h-4zM132 100h4v4h-4zM104 104h4v4h-4zM100 120h4v4h-4zM104 124h4v4h-4zM120 132h8v4h-8zM140 148h4v4h-4z"/><path fill="#a9a9a9" d="M84 72h8v4h-8zM96 72h4v4h-4zM88 80h4v4h-4zM108 88h4v4h-4zM84 92h4v4h-4zM84 96h4v4h-4zM136 104h4v4h-4zM100 112h4v4h-4zM140 140h4v4h-4z"/><path fill="#ababab" d="M72 44h4v4h-4zM96 56h4v4h-4zM92 64h4v4h-4zM88 68h4v4h-4zM80 72h4v4h-4zM92 76h4v4h-4zM104 76h4v4h-4zM108 80h4v4h-4zM88 84h4v4h-4zM108 84h4v4h-4zM112 100h4v4h-4zM100 116h4v4h-4zM136 124h4v4h-4zM112 128h4v4h-4zM132 128h4v4h-4zM148 140h4v4h-4zM140 144h4v4h-4zM144 148h8v4h-8z"/><path fill="#adadad" d="M80 40h4v4h-4zM68 72h4v4h-4zM76 72h4v4h-4zM96 76h8v4h-8zM92 80h4v4h-4zM88 88h4v4h-4zM104 92h4v4h-4zM88 96h4v4h-4zM100 96h4v4h-4zM104 120h4v4h-4zM108 124h4v4h-4zM144 140h4v4h-4z"/><path fill="#afafaf" d="M92 40h4v4h-4zM68 48h4v4h-4zM84 68h4v4h-4zM72 72h4v4h-4zM92 84h4v4h-4zM88 92h4v4h-4zM96 96h4v4h-4zM104 108h4v4h-4zM116 128h4v4h-4zM148 144h4v4h-4z"/><path fill="#b1b1b1" d="M96 44h4v4h-4zM96 52h4v4h-4zM92 60h4v4h-4zM88 64h4v4h-4zM64 68h4v4h-4zM96 80h4v4h-4zM104 80h4v4h-4zM92 88h4v4h-4zM104 88h4v4h-4zM92 96h4v4h-4zM116 100h4v4h-4zM128 100h4v4h-4zM108 104h4v4h-4zM104 116h4v4h-4zM136 120h4v4h-4zM128 128h4v4h-4zM144 144h4v4h-4z"/><path fill="#b3b3b3" d="M96 48h4v4h-4zM100 80h4v4h-4zM96 84h4v4h-4zM104 84h4v4h-4zM92 92h4v4h-4zM100 92h4v4h-4zM136 108h4v4h-4zM104 112h4v4h-4zM120 128h8v4h-8z"/><path fill="#b5b5b5" d="M84 40h8v4h-8zM80 68h4v4h-4zM100 84h4v4h-4zM96 88h8v4h-8zM96 92h4v4h-4zM120 100h8v4h-8zM136 116h4v4h-4zM108 120h4v4h-4zM112 124h4v4h-4zM132 124h4v4h-4z"/><path fill="#b7b7b7" d="M64 56h4v4h-4zM132 104h4v4h-4zM136 112h4v4h-4z"/><path fill="#b9b9b9" d="M92 56h4v4h-4zM64 64h4v4h-4zM84 64h4v4h-4zM68 68h4v4h-4zM76 68h4v4h-4z"/><path fill="#bbbbbb" d="M88 60h4v4h-4zM72 68h4v4h-4zM112 104h4v4h-4zM108 108h4v4h-4zM108 116h4v4h-4z"/><path fill="#bdbdbd" d="M64 60h4v4h-4zM108 112h4v4h-4zM116 124h4v4h-4zM128 124h4v4h-4z"/><path fill="#bfbfbf" d="M92 44h4v4h-4zM92 52h4v4h-4zM112 120h4v4h-4zM132 120h4v4h-4z"/><path fill="#c1c1c1" d="M76 44h4v4h-4zM80 64h4v4h-4z"/><path fill="#c3c3c3" d="M92 48h4v4h-4zM128 104h4v4h-4zM132 108h4v4h-4zM120 124h8v4h-8z"/><path fill="#c5c5c5" d="M68 52h4v4h-4zM68 64h4v4h-4zM116 104h4v4h-4zM112 108h4v4h-4z"/><path fill="#c7c7c7" d="M72 48h4v4h-4zM88 56h4v4h-4zM84 60h4v4h-4zM76 64h4v4h-4zM112 116h4v4h-4zM132 116h4v4h-4z"/><path fill="#c9c9c9" d="M88 44h4v4h-4zM72 64h4v4h-4zM112 112h4v4h-4zM132 112h4v4h-4zM116 120h4v4h-4z"/><path fill="#cbcbcb" d="M80 44h4v4h-4zM120 104h8v4h-8zM128 120h4v4h-4z"/><path fill="#cdcdcd" d="M84 44h4v4h-4zM68 56h4v4h-4zM68 60h4v4h-4z"/><path fill="#cfcfcf" d="M88 52h4v4h-4z"/><path fill="#d1d1d1" d="M88 48h4v4h-4zM80 60h4v4h-4zM116 108h4v4h-4zM128 108h4v4h-4zM120 120h4v4h-4z"/><path fill="#d3d3d3" d="M84 56h4v4h-4zM116 116h4v4h-4zM124 120h4v4h-4z"/><path fill="#d5d5d5" d="M72 60h8v4h-8zM116 112h4v4h-4zM128 116h4v4h-4z"/><path fill="#d7d7d7" d="M76 48h4v4h-4zM72 52h4v4h-4zM128 112h4v4h-4z"/><path fill="#d9d9d9" d="M84 48h4v4h-4zM120 108h8v4h-8z"/><path fill="#dbdbdb" d="M80 48h4v4h-4zM84 52h4v4h-4zM72 56h4v4h-4zM120 116h4v4h-4z"/><path fill="#dddddd" d="M80 56h4v4h-4zM124 116h4v4h-4z"/><path fill="#dfdfdf" d="M76 52h4v4h-4zM76 56h4v4h-4zM120 112h8v4h-8z"/><path fill="#e1e1e1" d="M80 52h4v4h-4z"/></g></svg>
<line x1="589.8" y1="17.1" x2="708" y2="180.1" stroke="#f5300a" stroke-width="2.4" stroke-dasharray="14 3"/>
<line x1="629.4" y1="48.6" x2="636.7" y2="44.3" stroke="#000" stroke-width="1.3"/><path d="M619.7,54.3 L628.1,44.1 L629.6,48.4 L632.7,52.0 Z" fill="#ff0000" stroke="#000" stroke-width="1" stroke-linejoin="miter"/>
<line x1="657.0" y1="86.9" x2="664.3" y2="82.6" stroke="#000" stroke-width="1.3"/><path d="M647.3,92.6 L655.7,82.4 L657.2,86.8 L660.3,90.3 Z" fill="#ff0000" stroke="#000" stroke-width="1" stroke-linejoin="miter"/>
<line x1="675.4" y1="111.3" x2="682.7" y2="107.0" stroke="#000" stroke-width="1.3"/><path d="M665.7,117.0 L674.1,106.8 L675.6,111.2 L678.7,114.7 Z" fill="#ff0000" stroke="#000" stroke-width="1" stroke-linejoin="miter"/>
<line x1="700.6" y1="149.0" x2="707.9" y2="144.7" stroke="#000" stroke-width="1.3"/><path d="M690.9,154.7 L699.3,144.5 L700.8,148.8 L703.9,152.4 Z" fill="#ff0000" stroke="#000" stroke-width="1" stroke-linejoin="miter"/>
<text x="688.7" y="26.1" font-size="13.6" font-weight="bold" fill="#fff" textLength="26.8" lengthAdjust="spacingAndGlyphs" font-family='"Liberation Sans", sans-serif'>RLP</text>
<rect x="669.1" y="194.8" width="48.4" height="2.6" fill="#fff"/><text x="717.3" y="192" text-anchor="end" font-size="13.6" fill="#fff" textLength="53" lengthAdjust="spacingAndGlyphs" font-family='"Liberation Sans", sans-serif'>500 nm</text>
<text x="44" y="9.6" font-size="10.6" font-weight="bold" font-family='"Liberation Sans", sans-serif'>A</text>
<text x="292.6" y="9.8" font-size="10.6" font-weight="bold" font-family='"Liberation Sans", sans-serif'>B</text>
<text x="518.2" y="9.2" font-size="10.6" font-weight="bold" font-family='"Liberation Sans", sans-serif'>C</text>
<text x="8.8" y="237.8" font-size="10.6" font-weight="bold" font-family='"Liberation Sans", sans-serif'>D</text>
<text x="276.4" y="238" font-size="10.6" font-weight="bold" font-family='"Liberation Sans", sans-serif'>E</text>
<text x="513.6" y="238" font-size="10.6" font-weight="bold" font-family='"Liberation Sans", sans-serif'>F</text>
<path d="M44.0,248.0 V412.0 H289.5" fill="none" stroke="#000" stroke-width="2"/>
<line x1="37.0" x2="44.0" y1="412.0" y2="412.0" stroke="#000" stroke-width="1.6"/>
<text x="35.4" y="416.0" text-anchor="end" font-size="11" textLength="7.0" lengthAdjust="spacingAndGlyphs" font-family='"Liberation Sans", sans-serif'>0</text>
<line x1="37.0" x2="44.0" y1="379.3" y2="379.3" stroke="#000" stroke-width="1.6"/>
<text x="35.4" y="383.3" text-anchor="end" font-size="11" textLength="14.0" lengthAdjust="spacingAndGlyphs" font-family='"Liberation Sans", sans-serif'>50</text>
<line x1="37.0" x2="44.0" y1="346.6" y2="346.6" stroke="#000" stroke-width="1.6"/>
<text x="35.4" y="350.6" text-anchor="end" font-size="11" textLength="21.0" lengthAdjust="spacingAndGlyphs" font-family='"Liberation Sans", sans-serif'>100</text>
<line x1="37.0" x2="44.0" y1="313.9" y2="313.9" stroke="#000" stroke-width="1.6"/>
<text x="35.4" y="317.9" text-anchor="end" font-size="11" textLength="21.0" lengthAdjust="spacingAndGlyphs" font-family='"Liberation Sans", sans-serif'>150</text>
<line x1="37.0" x2="44.0" y1="281.2" y2="281.2" stroke="#000" stroke-width="1.6"/>
<text x="35.4" y="285.2" text-anchor="end" font-size="11" textLength="21.0" lengthAdjust="spacingAndGlyphs" font-family='"Liberation Sans", sans-serif'>200</text>
<line x1="37.0" x2="44.0" y1="248.5" y2="248.5" stroke="#000" stroke-width="1.6"/>
<text x="35.4" y="252.5" text-anchor="end" font-size="11" textLength="21.0" lengthAdjust="spacingAndGlyphs" font-family='"Liberation Sans", sans-serif'>250</text>
<line x1="44.0" x2="44.0" y1="412.0" y2="419.0" stroke="#000" stroke-width="1.6"/>
<text x="44.0" y="430.5" text-anchor="middle" font-size="11" textLength="7.0" lengthAdjust="spacingAndGlyphs" font-family='"Liberation Sans", sans-serif'>0</text>
<line x1="92.9" x2="92.9" y1="412.0" y2="419.0" stroke="#000" stroke-width="1.6"/>
<text x="92.9" y="430.5" text-anchor="middle" font-size="11" textLength="17.5" lengthAdjust="spacingAndGlyphs" font-family='"Liberation Sans", sans-serif'>0.5</text>
<line x1="141.8" x2="141.8" y1="412.0" y2="419.0" stroke="#000" stroke-width="1.6"/>
<text x="141.8" y="430.5" text-anchor="middle" font-size="11" textLength="7.0" lengthAdjust="spacingAndGlyphs" font-family='"Liberation Sans", sans-serif'>1</text>
<line x1="190.7" x2="190.7" y1="412.0" y2="419.0" stroke="#000" stroke-width="1.6"/>
<text x="190.7" y="430.5" text-anchor="middle" font-size="11" textLength="17.5" lengthAdjust="spacingAndGlyphs" font-family='"Liberation Sans", sans-serif'>1.5</text>
<line x1="239.6" x2="239.6" y1="412.0" y2="419.0" stroke="#000" stroke-width="1.6"/>
<text x="239.6" y="430.5" text-anchor="middle" font-size="11" textLength="7.0" lengthAdjust="spacingAndGlyphs" font-family='"Liberation Sans", sans-serif'>2</text>
<line x1="288.5" x2="288.5" y1="412.0" y2="419.0" stroke="#000" stroke-width="1.6"/>
<text x="288.5" y="430.5" text-anchor="middle" font-size="11" textLength="17.5" lengthAdjust="spacingAndGlyphs" font-family='"Liberation Sans", sans-serif'>2.5</text>
<text x="157.3" y="446.3" text-anchor="middle" font-size="11.2" textLength="79.5" lengthAdjust="spacingAndGlyphs" font-family='"Liberation Sans", sans-serif'>Distance (µm)</text>
<text transform="translate(9.6,324.5) rotate(-90)" text-anchor="middle" font-size="11.8" textLength="85" lengthAdjust="spacingAndGlyphs" font-family='"Liberation Sans", sans-serif'>Signal intensity</text>
<path d="M44.0,411.3 L44.5,411.3 L45.1,411.3 L45.6,411.2 L46.2,411.1 L46.7,411.0 L47.3,411.0 L47.8,410.9 L48.4,410.8 L48.9,410.7 L49.5,410.6 L50.0,410.5 L50.5,410.3 L51.1,410.2 L51.6,410.0 L52.2,409.9 L52.7,409.7 L53.3,409.5 L53.8,409.4 L54.4,409.2 L54.9,409.0 L55.4,408.8 L56.0,408.6 L56.5,408.4 L57.1,408.2 L57.6,408.0 L58.2,407.7 L58.7,407.4 L59.3,407.1 L59.8,406.7 L60.4,406.3 L60.9,405.8 L61.4,405.3 L62.0,404.8 L62.5,404.1 L63.1,403.5 L63.6,402.8 L64.2,401.9 L64.7,400.8 L65.3,399.6 L65.8,398.2 L66.4,396.7 L66.9,395.1 L67.4,393.1 L68.0,391.0 L68.5,388.6 L69.1,386.1 L69.6,383.3 L70.2,380.4 L70.7,377.1 L71.3,373.4 L71.8,369.4 L72.3,365.3 L72.9,360.9 L73.4,356.3 L74.0,351.5 L74.5,346.7 L75.1,341.6 L75.6,336.7 L76.2,332.0 L76.7,327.3 L77.3,322.9 L77.8,319.4 L78.3,316.6 L78.9,314.2 L79.4,312.2 L80.0,310.7 L80.5,309.4 L81.1,308.3 L81.6,307.6 L82.2,307.4 L82.7,307.7 L83.2,308.5 L83.8,309.5 L84.3,310.5 L84.9,311.8 L85.4,313.4 L86.0,315.2 L86.5,317.3 L87.1,319.9 L87.6,322.6 L88.2,325.2 L88.7,327.8 L89.2,330.2 L89.8,332.6 L90.3,334.9 L90.9,337.0 L91.4,339.1 L92.0,341.1 L92.5,342.9 L93.1,344.4 L93.6,345.9 L94.2,347.3 L94.7,348.7 L95.2,350.0 L95.8,351.2 L96.3,352.3 L96.9,353.3 L97.4,354.0 L98.0,354.6 L98.5,355.1 L99.1,355.5 L99.6,355.9 L100.1,356.2 L100.7,356.6 L101.2,356.9 L101.8,357.2 L102.3,357.5 L102.9,357.8 L103.4,358.2 L104.0,358.5 L104.5,358.9 L105.1,359.2 L105.6,359.6 L106.1,359.9 L106.7,360.3 L107.2,360.7 L107.8,361.2 L108.3,361.8 L108.9,362.5 L109.4,363.2 L110.0,363.9 L110.5,364.4 L111.1,364.8 L111.6,364.9 L112.1,364.9 L112.7,364.8 L113.2,364.6 L113.8,364.4 L114.3,364.1 L114.9,363.8 L115.4,363.5 L116.0,363.2 L116.5,362.8 L117.0,362.5 L117.6,362.1 L118.1,361.7 L118.7,361.1 L119.2,360.5 L119.8,359.9 L120.3,359.2 L120.9,358.5 L121.4,357.9 L122.0,357.3 L122.5,356.8 L123.0,356.4 L123.6,356.0 L124.1,355.6 L124.7,355.2 L125.2,354.8 L125.8,354.4 L126.3,353.9 L126.9,353.4 L127.4,352.8 L128.0,352.2 L128.5,351.4 L129.0,350.6 L129.6,349.7 L130.1,348.7 L130.7,347.8 L131.2,346.8 L131.8,345.8 L132.3,344.8 L132.9,343.7 L133.4,342.6 L133.9,341.5 L134.5,340.4 L135.0,339.2 L135.6,338.0 L136.1,336.7 L136.7,335.4 L137.2,334.1 L137.8,332.7 L138.3,331.2 L138.9,329.8 L139.4,328.2 L139.9,326.6 L140.5,324.9 L141.0,323.1 L141.6,321.2 L142.1,319.2 L142.7,317.0 L143.2,314.5 L143.8,311.9 L144.3,309.1 L144.8,306.4 L145.4,303.6 L145.9,301.0 L146.5,298.5 L147.0,296.1 L147.6,293.7 L148.1,291.2 L148.7,288.8 L149.2,286.5 L149.8,284.2 L150.3,282.1 L150.8,280.2 L151.4,278.5 L151.9,276.9 L152.5,275.2 L153.0,273.7 L153.6,272.4 L154.1,271.6 L154.7,271.4 L155.2,271.6 L155.8,272.2 L156.3,272.9 L156.8,273.7 L157.4,274.6 L157.9,275.6 L158.5,277.1 L159.0,278.9 L159.6,280.8 L160.1,282.9 L160.7,285.1 L161.2,287.2 L161.7,289.2 L162.3,291.3 L162.8,293.5 L163.4,295.8 L163.9,298.1 L164.5,300.4 L165.0,302.6 L165.6,304.8 L166.1,306.9 L166.7,308.8 L167.2,310.7 L167.7,312.5 L168.3,314.3 L168.8,316.0 L169.4,317.7 L169.9,319.4 L170.5,321.0 L171.0,322.7 L171.6,324.3 L172.1,326.0 L172.7,327.6 L173.2,329.2 L173.7,330.8 L174.3,332.3 L174.8,333.8 L175.4,335.2 L175.9,336.5 L176.5,337.8 L177.0,339.0 L177.6,340.2 L178.1,341.3 L178.6,342.4 L179.2,343.4 L179.7,344.5 L180.3,345.5 L180.8,346.4 L181.4,347.4 L181.9,348.4 L182.5,349.3 L183.0,350.2 L183.6,351.1 L184.1,352.0 L184.6,352.8 L185.2,353.6 L185.7,354.3 L186.3,355.0 L186.8,355.7 L187.4,356.3 L187.9,356.9 L188.5,357.5 L189.0,358.1 L189.5,358.6 L190.1,359.1 L190.6,359.6 L191.2,360.1 L191.7,360.7 L192.3,361.2 L192.8,361.7 L193.4,362.2 L193.9,362.6 L194.5,363.0 L195.0,363.4 L195.5,363.6 L196.1,363.8 L196.6,363.9 L197.2,364.1 L197.7,364.2 L198.3,364.3 L198.8,364.2 L199.4,364.1 L199.9,363.9 L200.5,363.7 L201.0,363.3 L201.5,363.0 L202.1,362.6 L202.6,362.1 L203.2,361.6 L203.7,360.9 L204.3,360.2 L204.8,359.3 L205.4,358.3 L205.9,357.3 L206.4,356.2 L207.0,355.1 L207.5,354.0 L208.1,352.7 L208.6,351.3 L209.2,349.7 L209.7,348.1 L210.3,346.3 L210.8,344.6 L211.4,342.8 L211.9,341.1 L212.4,339.3 L213.0,337.5 L213.5,335.7 L214.1,333.8 L214.6,331.8 L215.2,329.9 L215.7,328.1 L216.3,326.3 L216.8,324.6 L217.4,323.0 L217.9,321.4 L218.4,319.9 L219.0,318.4 L219.5,316.9 L220.1,315.7 L220.6,314.6 L221.2,313.7 L221.7,312.8 L222.3,312.0 L222.8,311.3 L223.3,310.8 L223.9,310.6 L224.4,310.7 L225.0,311.1 L225.5,311.7 L226.1,312.5 L226.6,313.4 L227.2,314.5 L227.7,316.3 L228.3,318.7 L228.8,321.4 L229.3,324.4 L229.9,327.4 L230.4,330.6 L231.0,334.2 L231.5,338.0 L232.1,341.9 L232.6,345.7 L233.2,349.4 L233.7,353.1 L234.3,356.9 L234.8,360.6 L235.3,364.1 L235.9,367.4 L236.4,370.6 L237.0,373.8 L237.5,376.9 L238.1,379.9 L238.6,382.7 L239.2,385.2 L239.7,387.6 L240.2,389.8 L240.8,391.9 L241.3,393.8 L241.9,395.7 L242.4,397.4 L243.0,398.9 L243.5,400.2 L244.1,401.4 L244.6,402.5 L245.2,403.5 L245.7,404.4 L246.2,405.3 L246.8,406.0 L247.3,406.7 L247.9,407.3 L248.4,407.8 L249.0,408.3 L249.5,408.8 L250.1,409.3 L250.6,409.6 L251.1,409.9 L251.7,410.2 L252.2,410.4 L252.8,410.7 L253.3,410.9 L253.9,411.0 L254.4,411.2 L255.0,411.3 L255.5,411.4 L256.1,411.5 L256.6,411.6 L257.1,411.6 L257.7,411.7 L258.2,411.8 L258.8,411.8 L259.3,411.9 L259.9,411.9 L260.4,412.0 L261.0,412.0 L261.5,412.0" fill="none" stroke="#000" stroke-width="1.6"/>
<path d="M44.0,406.8 L44.5,406.6 L45.1,406.4 L45.6,406.2 L46.2,406.1 L46.7,405.9 L47.3,405.8 L47.8,405.7 L48.4,405.6 L48.9,405.5 L49.5,405.4 L50.0,405.3 L50.5,405.2 L51.1,405.2 L51.6,405.1 L52.2,405.0 L52.7,405.0 L53.3,404.9 L53.8,404.8 L54.4,404.7 L54.9,404.6 L55.4,404.5 L56.0,404.3 L56.5,404.2 L57.1,404.0 L57.6,403.8 L58.2,403.7 L58.7,403.5 L59.3,403.3 L59.8,403.0 L60.4,402.8 L60.9,402.5 L61.4,402.2 L62.0,401.9 L62.5,401.6 L63.1,401.2 L63.6,400.8 L64.2,400.4 L64.7,400.0 L65.3,399.6 L65.8,399.1 L66.4,398.5 L66.9,398.0 L67.4,397.4 L68.0,396.8 L68.5,396.2 L69.1,395.6 L69.6,394.9 L70.2,394.1 L70.7,393.3 L71.3,392.5 L71.8,391.7 L72.3,390.8 L72.9,389.9 L73.4,388.9 L74.0,388.0 L74.5,386.9 L75.1,385.9 L75.6,384.8 L76.2,383.6 L76.7,382.4 L77.3,381.3 L77.8,380.1 L78.3,379.1 L78.9,377.9 L79.4,376.5 L80.0,374.8 L80.5,371.9 L81.1,367.7 L81.6,363.0 L82.2,358.9 L82.7,355.0 L83.2,351.3 L83.8,347.4 L84.3,343.4 L84.9,339.0 L85.4,334.7 L86.0,330.8 L86.5,327.4 L87.1,324.2 L87.6,321.0 L88.2,317.5 L88.7,313.1 L89.2,308.6 L89.8,304.5 L90.3,301.4 L90.9,298.7 L91.4,296.2 L92.0,293.9 L92.5,291.8 L93.1,289.8 L93.6,287.7 L94.2,285.8 L94.7,283.9 L95.2,282.2 L95.8,280.6 L96.3,279.1 L96.9,277.8 L97.4,276.5 L98.0,275.2 L98.5,274.0 L99.1,273.1 L99.6,272.7 L100.1,272.9 L100.7,273.5 L101.2,274.5 L101.8,275.8 L102.3,277.1 L102.9,278.4 L103.4,279.8 L104.0,281.5 L104.5,283.3 L105.1,285.2 L105.6,287.2 L106.1,289.2 L106.7,291.2 L107.2,293.1 L107.8,295.0 L108.3,297.0 L108.9,299.0 L109.4,301.1 L110.0,303.1 L110.5,305.1 L111.1,307.0 L111.6,308.6 L112.1,310.0 L112.7,311.1 L113.2,312.1 L113.8,313.1 L114.3,314.0 L114.9,314.8 L115.4,315.4 L116.0,315.8 L116.5,315.9 L117.0,315.8 L117.6,315.6 L118.1,315.3 L118.7,315.0 L119.2,314.6 L119.8,314.2 L120.3,313.9 L120.9,313.5 L121.4,313.1 L122.0,312.6 L122.5,312.1 L123.0,311.7 L123.6,311.2 L124.1,310.7 L124.7,310.3 L125.2,309.9 L125.8,309.6 L126.3,309.3 L126.9,309.0 L127.4,308.6 L128.0,308.3 L128.5,308.0 L129.0,307.7 L129.6,307.5 L130.1,307.3 L130.7,307.1 L131.2,306.9 L131.8,306.8 L132.3,306.7 L132.9,306.6 L133.4,306.5 L133.9,306.4 L134.5,306.3 L135.0,306.2 L135.6,306.2 L136.1,306.1 L136.7,306.1 L137.2,306.1 L137.8,306.1 L138.3,306.1 L138.9,306.3 L139.4,306.6 L139.9,307.0 L140.5,307.4 L141.0,307.9 L141.6,308.5 L142.1,309.0 L142.7,309.7 L143.2,310.6 L143.8,311.6 L144.3,312.6 L144.8,313.7 L145.4,314.8 L145.9,315.9 L146.5,316.8 L147.0,317.7 L147.6,318.7 L148.1,319.7 L148.7,320.7 L149.2,321.6 L149.8,322.5 L150.3,323.3 L150.8,323.9 L151.4,324.3 L151.9,324.5 L152.5,324.7 L153.0,324.8 L153.6,324.9 L154.1,325.0 L154.7,325.0 L155.2,324.7 L155.8,324.2 L156.3,323.3 L156.8,322.4 L157.4,321.3 L157.9,320.1 L158.5,319.0 L159.0,317.8 L159.6,316.3 L160.1,314.7 L160.7,313.0 L161.2,311.1 L161.7,309.3 L162.3,307.4 L162.8,305.6 L163.4,303.9 L163.9,302.2 L164.5,300.4 L165.0,298.7 L165.6,296.9 L166.1,295.2 L166.7,293.4 L167.2,291.8 L167.7,290.2 L168.3,288.7 L168.8,287.3 L169.4,286.0 L169.9,284.7 L170.5,283.5 L171.0,282.3 L171.6,281.2 L172.1,280.1 L172.7,279.2 L173.2,278.3 L173.7,277.6 L174.3,277.1 L174.8,276.5 L175.4,276.0 L175.9,275.6 L176.5,275.2 L177.0,274.9 L177.6,274.7 L178.1,274.7 L178.6,274.9 L179.2,275.3 L179.7,275.9 L180.3,276.6 L180.8,277.5 L181.4,278.4 L181.9,279.3 L182.5,280.3 L183.0,281.5 L183.6,282.8 L184.1,284.3 L184.6,285.9 L185.2,287.5 L185.7,289.2 L186.3,290.8 L186.8,292.4 L187.4,294.0 L187.9,295.7 L188.5,297.5 L189.0,299.2 L189.5,301.0 L190.1,302.7 L190.6,304.4 L191.2,306.0 L191.7,307.5 L192.3,309.0 L192.8,310.5 L193.4,312.0 L193.9,313.4 L194.5,314.7 L195.0,315.7 L195.5,316.5 L196.1,317.0 L196.6,317.5 L197.2,318.0 L197.7,318.3 L198.3,318.5 L198.8,318.5 L199.4,318.4 L199.9,318.2 L200.5,317.9 L201.0,317.6 L201.5,317.2 L202.1,316.8 L202.6,316.4 L203.2,316.0 L203.7,315.6 L204.3,315.2 L204.8,314.7 L205.4,314.2 L205.9,313.7 L206.4,313.1 L207.0,312.5 L207.5,311.9 L208.1,311.4 L208.6,310.8 L209.2,310.3 L209.7,309.8 L210.3,309.3 L210.8,308.9 L211.4,308.4 L211.9,307.9 L212.4,307.4 L213.0,307.0 L213.5,306.5 L214.1,306.1 L214.6,305.8 L215.2,305.6 L215.7,305.4 L216.3,305.4 L216.8,305.4 L217.4,305.4 L217.9,305.4 L218.4,305.4 L219.0,305.4 L219.5,305.5 L220.1,305.9 L220.6,306.6 L221.2,307.4 L221.7,308.3 L222.3,309.3 L222.8,310.3 L223.3,311.4 L223.9,312.6 L224.4,314.0 L225.0,315.6 L225.5,317.3 L226.1,319.0 L226.6,320.9 L227.2,322.7 L227.7,324.7 L228.3,326.8 L228.8,329.1 L229.3,331.4 L229.9,333.8 L230.4,336.3 L231.0,339.0 L231.5,341.7 L232.1,344.5 L232.6,347.3 L233.2,350.2 L233.7,353.0 L234.3,355.9 L234.8,358.9 L235.3,362.0 L235.9,365.1 L236.4,368.0 L237.0,370.9 L237.5,373.5 L238.1,375.9 L238.6,378.3 L239.2,380.5 L239.7,382.7 L240.2,384.7 L240.8,386.6 L241.3,388.4 L241.9,390.1 L242.4,391.7 L243.0,393.3 L243.5,394.7 L244.1,396.1 L244.6,397.3 L245.2,398.4 L245.7,399.3 L246.2,400.1 L246.8,400.9 L247.3,401.6 L247.9,402.2 L248.4,402.8 L249.0,403.2 L249.5,403.6 L250.1,403.9 L250.6,404.2 L251.1,404.4 L251.7,404.6 L252.2,404.8 L252.8,405.0 L253.3,405.2 L253.9,405.4 L254.4,405.5 L255.0,405.6 L255.5,405.8 L256.1,405.9 L256.6,406.0 L257.1,406.1 L257.7,406.3 L258.2,406.4 L258.8,406.5 L259.3,406.5 L259.9,406.6 L260.4,406.7 L261.0,406.7 L261.5,406.8" fill="none" stroke="#000" stroke-width="1.6"/>
<g fill="#ff0d0d"><circle cx="44.0" cy="406.8" r="2.4"/><circle cx="46.0" cy="406.1" r="2.4"/><circle cx="48.0" cy="405.6" r="2.4"/><circle cx="50.0" cy="405.3" r="2.4"/><circle cx="52.1" cy="405.1" r="2.4"/><circle cx="54.1" cy="404.8" r="2.4"/><circle cx="56.1" cy="404.3" r="2.4"/><circle cx="58.1" cy="403.7" r="2.4"/><circle cx="60.1" cy="402.9" r="2.4"/><circle cx="62.1" cy="401.8" r="2.4"/><circle cx="64.1" cy="400.5" r="2.4"/><circle cx="66.2" cy="398.7" r="2.4"/><circle cx="68.2" cy="396.6" r="2.4"/><circle cx="70.2" cy="394.1" r="2.4"/><circle cx="72.2" cy="391.0" r="2.4"/><circle cx="74.2" cy="387.6" r="2.4"/><circle cx="76.2" cy="383.5" r="2.4"/><circle cx="78.2" cy="379.3" r="2.4"/><circle cx="80.3" cy="373.5" r="2.4"/><circle cx="82.3" cy="358.1" r="2.4"/><circle cx="84.3" cy="343.8" r="2.4"/><circle cx="86.3" cy="328.7" r="2.4"/><circle cx="88.3" cy="316.3" r="2.4"/><circle cx="90.3" cy="301.5" r="2.4"/><circle cx="92.3" cy="292.5" r="2.4"/><circle cx="94.3" cy="285.1" r="2.4"/><circle cx="96.4" cy="279.0" r="2.4"/><circle cx="98.4" cy="274.3" r="2.4"/><circle cx="100.4" cy="273.1" r="2.4"/><circle cx="102.4" cy="277.3" r="2.4"/><circle cx="104.4" cy="283.0" r="2.4"/><circle cx="106.4" cy="290.3" r="2.4"/><circle cx="108.4" cy="297.4" r="2.4"/><circle cx="110.5" cy="305.0" r="2.4"/><circle cx="112.5" cy="310.7" r="2.4"/><circle cx="114.5" cy="314.3" r="2.4"/><circle cx="116.5" cy="315.9" r="2.4"/><circle cx="118.5" cy="315.1" r="2.4"/><circle cx="120.5" cy="313.7" r="2.4"/><circle cx="122.5" cy="312.1" r="2.4"/><circle cx="124.6" cy="310.4" r="2.4"/><circle cx="126.6" cy="309.1" r="2.4"/><circle cx="128.6" cy="308.0" r="2.4"/><circle cx="130.6" cy="307.1" r="2.4"/><circle cx="132.6" cy="306.6" r="2.4"/><circle cx="134.6" cy="306.3" r="2.4"/><circle cx="136.6" cy="306.1" r="2.4"/><circle cx="138.7" cy="306.2" r="2.4"/><circle cx="140.7" cy="307.6" r="2.4"/><circle cx="142.7" cy="309.8" r="2.4"/><circle cx="144.7" cy="313.4" r="2.4"/><circle cx="146.7" cy="317.2" r="2.4"/><circle cx="148.7" cy="320.8" r="2.4"/><circle cx="150.7" cy="323.8" r="2.4"/><circle cx="152.8" cy="324.7" r="2.4"/><circle cx="154.8" cy="325.0" r="2.4"/><circle cx="156.8" cy="322.5" r="2.4"/><circle cx="158.8" cy="318.3" r="2.4"/><circle cx="160.8" cy="312.5" r="2.4"/><circle cx="162.8" cy="305.6" r="2.4"/><circle cx="164.8" cy="299.3" r="2.4"/><circle cx="166.9" cy="292.8" r="2.4"/><circle cx="168.9" cy="287.2" r="2.4"/><circle cx="170.9" cy="282.6" r="2.4"/><circle cx="172.9" cy="278.8" r="2.4"/><circle cx="174.9" cy="276.5" r="2.4"/><circle cx="176.9" cy="274.9" r="2.4"/><circle cx="178.9" cy="275.1" r="2.4"/><circle cx="180.9" cy="277.7" r="2.4"/><circle cx="183.0" cy="281.4" r="2.4"/><circle cx="185.0" cy="286.9" r="2.4"/><circle cx="187.0" cy="292.9" r="2.4"/><circle cx="189.0" cy="299.2" r="2.4"/><circle cx="191.0" cy="305.5" r="2.4"/><circle cx="193.0" cy="311.1" r="2.4"/><circle cx="195.0" cy="315.8" r="2.4"/><circle cx="197.1" cy="317.9" r="2.4"/><circle cx="199.1" cy="318.4" r="2.4"/><circle cx="201.1" cy="317.5" r="2.4"/><circle cx="203.1" cy="316.1" r="2.4"/><circle cx="205.1" cy="314.5" r="2.4"/><circle cx="207.1" cy="312.4" r="2.4"/><circle cx="209.1" cy="310.3" r="2.4"/><circle cx="211.2" cy="308.6" r="2.4"/><circle cx="213.2" cy="306.8" r="2.4"/><circle cx="215.2" cy="305.6" r="2.4"/><circle cx="217.2" cy="305.4" r="2.4"/><circle cx="219.2" cy="305.4" r="2.4"/><circle cx="221.2" cy="307.5" r="2.4"/><circle cx="223.2" cy="311.1" r="2.4"/><circle cx="225.3" cy="316.4" r="2.4"/><circle cx="227.3" cy="323.1" r="2.4"/><circle cx="229.3" cy="331.2" r="2.4"/><circle cx="231.3" cy="340.5" r="2.4"/><circle cx="233.3" cy="351.0" r="2.4"/><circle cx="235.3" cy="361.9" r="2.4"/><circle cx="237.3" cy="372.7" r="2.4"/><circle cx="239.4" cy="381.3" r="2.4"/><circle cx="241.4" cy="388.5" r="2.4"/><circle cx="243.4" cy="394.4" r="2.4"/><circle cx="245.4" cy="398.8" r="2.4"/><circle cx="247.4" cy="401.7" r="2.4"/><circle cx="249.4" cy="403.5" r="2.4"/><circle cx="251.4" cy="404.5" r="2.4"/><circle cx="253.5" cy="405.2" r="2.4"/><circle cx="255.5" cy="405.8" r="2.4"/><circle cx="257.5" cy="406.2" r="2.4"/><circle cx="259.5" cy="406.6" r="2.4"/><circle cx="261.5" cy="406.8" r="2.4"/></g>
<g fill="#1ccc10"><circle cx="44.0" cy="411.3" r="2.4"/><circle cx="46.0" cy="411.1" r="2.4"/><circle cx="48.0" cy="410.8" r="2.4"/><circle cx="50.0" cy="410.5" r="2.4"/><circle cx="52.1" cy="409.9" r="2.4"/><circle cx="54.1" cy="409.3" r="2.4"/><circle cx="56.1" cy="408.6" r="2.4"/><circle cx="58.1" cy="407.7" r="2.4"/><circle cx="60.1" cy="406.5" r="2.4"/><circle cx="62.1" cy="404.6" r="2.4"/><circle cx="64.1" cy="401.9" r="2.4"/><circle cx="66.2" cy="397.3" r="2.4"/><circle cx="68.2" cy="390.2" r="2.4"/><circle cx="70.2" cy="380.3" r="2.4"/><circle cx="72.2" cy="366.5" r="2.4"/><circle cx="74.2" cy="349.6" r="2.4"/><circle cx="76.2" cy="331.5" r="2.4"/><circle cx="78.2" cy="317.1" r="2.4"/><circle cx="80.3" cy="310.0" r="2.4"/><circle cx="82.3" cy="307.4" r="2.4"/><circle cx="84.3" cy="310.4" r="2.4"/><circle cx="86.3" cy="316.4" r="2.4"/><circle cx="88.3" cy="325.9" r="2.4"/><circle cx="90.3" cy="334.8" r="2.4"/><circle cx="92.3" cy="342.3" r="2.4"/><circle cx="94.3" cy="347.9" r="2.4"/><circle cx="96.4" cy="352.4" r="2.4"/><circle cx="98.4" cy="355.0" r="2.4"/><circle cx="100.4" cy="356.4" r="2.4"/><circle cx="102.4" cy="357.5" r="2.4"/><circle cx="104.4" cy="358.8" r="2.4"/><circle cx="106.4" cy="360.1" r="2.4"/><circle cx="108.4" cy="361.9" r="2.4"/><circle cx="110.5" cy="364.4" r="2.4"/><circle cx="112.5" cy="364.8" r="2.4"/><circle cx="114.5" cy="364.0" r="2.4"/><circle cx="116.5" cy="362.8" r="2.4"/><circle cx="118.5" cy="361.3" r="2.4"/><circle cx="120.5" cy="359.0" r="2.4"/><circle cx="122.5" cy="356.8" r="2.4"/><circle cx="124.6" cy="355.3" r="2.4"/><circle cx="126.6" cy="353.7" r="2.4"/><circle cx="128.6" cy="351.3" r="2.4"/><circle cx="130.6" cy="347.9" r="2.4"/><circle cx="132.6" cy="344.2" r="2.4"/><circle cx="134.6" cy="340.1" r="2.4"/><circle cx="136.6" cy="335.5" r="2.4"/><circle cx="138.7" cy="330.3" r="2.4"/><circle cx="140.7" cy="324.3" r="2.4"/><circle cx="142.7" cy="316.9" r="2.4"/><circle cx="144.7" cy="307.1" r="2.4"/><circle cx="146.7" cy="297.5" r="2.4"/><circle cx="148.7" cy="288.6" r="2.4"/><circle cx="150.7" cy="280.6" r="2.4"/><circle cx="152.8" cy="274.4" r="2.4"/><circle cx="154.8" cy="271.4" r="2.4"/><circle cx="156.8" cy="273.6" r="2.4"/><circle cx="158.8" cy="278.1" r="2.4"/><circle cx="160.8" cy="285.7" r="2.4"/><circle cx="162.8" cy="293.5" r="2.4"/><circle cx="164.8" cy="301.9" r="2.4"/><circle cx="166.9" cy="309.5" r="2.4"/><circle cx="168.9" cy="316.1" r="2.4"/><circle cx="170.9" cy="322.3" r="2.4"/><circle cx="172.9" cy="328.3" r="2.4"/><circle cx="174.9" cy="334.0" r="2.4"/><circle cx="176.9" cy="338.8" r="2.4"/><circle cx="178.9" cy="342.9" r="2.4"/><circle cx="180.9" cy="346.7" r="2.4"/><circle cx="183.0" cy="350.2" r="2.4"/><circle cx="185.0" cy="353.3" r="2.4"/><circle cx="187.0" cy="355.9" r="2.4"/><circle cx="189.0" cy="358.1" r="2.4"/><circle cx="191.0" cy="360.0" r="2.4"/><circle cx="193.0" cy="361.9" r="2.4"/><circle cx="195.0" cy="363.4" r="2.4"/><circle cx="197.1" cy="364.1" r="2.4"/><circle cx="199.1" cy="364.2" r="2.4"/><circle cx="201.1" cy="363.3" r="2.4"/><circle cx="203.1" cy="361.7" r="2.4"/><circle cx="205.1" cy="358.8" r="2.4"/><circle cx="207.1" cy="354.9" r="2.4"/><circle cx="209.1" cy="349.8" r="2.4"/><circle cx="211.2" cy="343.4" r="2.4"/><circle cx="213.2" cy="336.9" r="2.4"/><circle cx="215.2" cy="329.9" r="2.4"/><circle cx="217.2" cy="323.4" r="2.4"/><circle cx="219.2" cy="317.7" r="2.4"/><circle cx="221.2" cy="313.6" r="2.4"/><circle cx="223.2" cy="310.9" r="2.4"/><circle cx="225.3" cy="311.4" r="2.4"/><circle cx="227.3" cy="314.8" r="2.4"/><circle cx="229.3" cy="324.1" r="2.4"/><circle cx="231.3" cy="336.4" r="2.4"/><circle cx="233.3" cy="350.4" r="2.4"/><circle cx="235.3" cy="364.0" r="2.4"/><circle cx="237.3" cy="375.9" r="2.4"/><circle cx="239.4" cy="386.1" r="2.4"/><circle cx="241.4" cy="394.0" r="2.4"/><circle cx="243.4" cy="399.9" r="2.4"/><circle cx="245.4" cy="403.9" r="2.4"/><circle cx="247.4" cy="406.8" r="2.4"/><circle cx="249.4" cy="408.8" r="2.4"/><circle cx="251.4" cy="410.1" r="2.4"/><circle cx="253.5" cy="410.9" r="2.4"/><circle cx="255.5" cy="411.4" r="2.4"/><circle cx="257.5" cy="411.7" r="2.4"/><circle cx="259.5" cy="411.9" r="2.4"/><circle cx="261.5" cy="412.0" r="2.4"/></g>
<line x1="82.6" x2="82.6" y1="252" y2="258" stroke="#333" stroke-width="1"/>
<path d="M79.19999999999999,257.6 L86.0,257.6 L82.6,266.4 Z" fill="#00ee00" stroke="#000" stroke-width="0.8" stroke-linejoin="round"/>
<line x1="99.9" x2="99.9" y1="252" y2="258" stroke="#333" stroke-width="1"/>
<path d="M96.5,257.6 L103.30000000000001,257.6 L99.9,266.4 Z" fill="#ee0000" stroke="#000" stroke-width="0.8" stroke-linejoin="round"/>
<line x1="131.3" x2="131.3" y1="252" y2="258" stroke="#333" stroke-width="1"/>
<path d="M127.9,257.6 L134.70000000000002,257.6 L131.3,266.4 Z" fill="#ee0000" stroke="#000" stroke-width="0.8" stroke-linejoin="round"/>
<line x1="154.6" x2="154.6" y1="252" y2="258" stroke="#333" stroke-width="1"/>
<path d="M151.2,257.6 L158.0,257.6 L154.6,266.4 Z" fill="#00ee00" stroke="#000" stroke-width="0.8" stroke-linejoin="round"/>
<line x1="177.4" x2="177.4" y1="252" y2="258" stroke="#333" stroke-width="1"/>
<path d="M174.0,257.6 L180.8,257.6 L177.4,266.4 Z" fill="#ee0000" stroke="#000" stroke-width="0.8" stroke-linejoin="round"/>
<line x1="216.8" x2="216.8" y1="252" y2="258" stroke="#333" stroke-width="1"/>
<path d="M213.4,257.6 L220.20000000000002,257.6 L216.8,266.4 Z" fill="#ee0000" stroke="#000" stroke-width="0.8" stroke-linejoin="round"/>
<line x1="224.4" x2="224.4" y1="252" y2="258" stroke="#333" stroke-width="1"/>
<path d="M221.0,257.6 L227.8,257.6 L224.4,266.4 Z" fill="#00ee00" stroke="#000" stroke-width="0.8" stroke-linejoin="round"/>
<path d="M324.1,249.8 H321.6 V345.1 H324.1" fill="none" stroke="#808080" stroke-width="0.9"/><text x="320.1" y="251.6" text-anchor="end" font-size="5" fill="#666" font-family='"Liberation Sans", sans-serif'>255.0</text><text x="318.1" y="346.9" text-anchor="end" font-size="5" fill="#666" font-family='"Liberation Sans", sans-serif'>0.0</text><line x1="321.8" y1="346.5" x2="383.3" y2="431.3" stroke="#777" stroke-width="0.9"/><path d="M385.3,429.5 L385.3,432.7 L516.7,400 L516.7,397" fill="none" stroke="#777" stroke-width="0.9"/><text transform="translate(347.6,391.5) rotate(54.2)" text-anchor="middle" font-size="5.4" fill="#555" font-family='"Liberation Sans", sans-serif'>2.2 microns</text><text transform="translate(452,425) rotate(-14.1)" text-anchor="middle" font-size="5.4" fill="#555" font-family='"Liberation Sans", sans-serif'>2.0 microns</text><text transform="translate(303.6,296.3) rotate(-90)" text-anchor="middle" font-size="11.6" textLength="85" lengthAdjust="spacingAndGlyphs" font-family='"Liberation Sans", sans-serif'>Signal intensity</text>
<g fill="#fff" stroke="#000" stroke-width="0.6" stroke-linejoin="round"><path d="M324.0 347.5V345.0l1.7 -0.6 1.6 -0.3 1.7 0 1.7 -1.2 1.6 -0.3 1.7 -0.2 1.7 -0.9 1.6 -0.4 1.7 -0.5 1.6 -0.5 1.7 -0.7 1.7 -0.2 1.6 -0.7 1.7 -0.5 1.7 -0.9 1.6 -0.4 1.7 -0.5 1.7 -0.4 1.6 -0.8 1.7 -0.6 1.7 -0.5 1.6 -1.1 1.7 -0.5 1.6 0.4 1.7 -0.8 1.7 -1 1.6 -0.5 1.7 -0.7 1.7 -0.6 1.6 -1 1.7 0.4 1.7 -0.7 1.6 -1.1 1.7 -0.1 1.7 -0.5 1.6 -0.1 1.7 -0.1 1.7 -0.8 1.6 -0.4 1.7 0 1.6 -0.5 1.7 -0.5 1.7 0 1.6 -0.6 1.7 -0.3 1.7 -0.3 1.6 -0.1 1.7 -0.6 1.7 -0.3 1.6 -0.1 1.7 0.1 1.7 -0.7 1.6 0.1 1.7 -0.7 1.7 0.3 1.6 -0.8 1.7 0 1.6 0 1.7 -0.5 1.7 -0.4 1.6 -0.3 1.7 0 1.7 -0.2 1.6 -0.7 1.7 -0.1 1.7 -0.6 1.6 -0.5 1.7 0.4 1.7 -0.9 1.6 -0.6 1.7 0.1 1.6 -0.2 1.7 -0.9 1.7 -0.2 1.6 -0.5 1.7 -0.1 1.7 -0.2 1.6 -0.6 1.7 -0.3V314.5z"/><path d="M324.9 348.7V346.0l1.6 -0.3 1.7 0.1 1.6 -0.6 1.7 -1.1 1.7 -0.5 1.6 -0.1 1.7 -0.7 1.7 -0.7 1.6 -0.5 1.7 -0.7 1.7 -0.4 1.6 -0.5 1.7 -0.5 1.7 -1 1.6 0.4 1.7 -1.2 1.6 -0.7 1.7 -0.2 1.7 -1.1 1.6 -0.3 1.7 -1.1 1.7 -0.3 1.6 -0.9 1.7 -0.7 1.7 -0.4 1.6 -0.3 1.7 -0.4 1.7 -1.4 1.6 -0.1 1.7 -0.4 1.7 -0.7 1.6 -0.4 1.7 -0.8 1.6 -0.2 1.7 -0.5 1.7 -0.2 1.6 -0.7 1.7 0 1.7 -0.8 1.6 -0.6 1.7 0.5 1.7 -0.1 1.6 -1.1 1.7 -0.7 1.7 0.6 1.6 -0.2 1.7 -0.7 1.7 0.1 1.6 -0.3 1.7 -0.3 1.6 -0.4 1.7 0 1.7 -0.4 1.6 -0.2 1.7 0 1.7 -0.4 1.6 -0.1 1.7 -0.5 1.7 0.1 1.6 -0.3 1.7 -1 1.7 0.2 1.6 -0.3 1.7 -0.5 1.6 0 1.7 -0.4 1.7 -0.5 1.6 -0.3 1.7 0.1 1.7 -0.9 1.6 0.1 1.7 -0.3 1.7 -0.4 1.6 -0.5 1.7 -0.9 1.7 0.4 1.6 -0.7 1.7 -0.1 1.7 -0.7V315.7z"/><path d="M325.7 349.9V347.1l1.7 -0.1 1.6 -0.4 1.7 -0.7 1.7 -0.7 1.6 -0.5 1.7 -0.9 1.7 0 1.6 -0.3 1.7 -0.7 1.6 -0.6 1.7 -0.7 1.7 -0.5 1.6 -0.7 1.7 -0.1 1.7 -1.3 1.6 -0.2 1.7 -0.5 1.7 -1.1 1.6 -0.9 1.7 -0.4 1.7 -0.5 1.6 -0.4 1.7 -1.6 1.7 -0.2 1.6 -0.1 1.7 -0.7 1.6 -0.9 1.7 -0.1 1.7 -1.1 1.6 -0.4 1.7 -0.9 1.7 -0.5 1.6 0.4 1.7 -1.1 1.7 -0.1 1.6 -1.1 1.7 -0.1 1.7 -0.5 1.6 0 1.7 -1 1.7 -0.3 1.6 0.4 1.7 -0.6 1.6 0 1.7 -0.4 1.7 0.1 1.6 -1 1.7 0.5 1.7 -0.4 1.6 -0.4 1.7 0.1 1.7 -0.3 1.6 -0.1 1.7 -0.4 1.7 0.1 1.6 -0.4 1.7 -0.3 1.6 -0.2 1.7 -0.4 1.7 -0.1 1.6 -0.5 1.7 0 1.7 -0.3 1.6 -0.2 1.7 -0.3 1.7 -0.1 1.6 -0.8 1.7 0.2 1.7 -0.4 1.6 -0.7 1.7 -0.3 1.7 -0.1 1.6 0.1 1.7 -1.1 1.6 -0.3 1.7 0.1 1.7 -1 1.6 0.1 1.7 -0.3V316.9z"/><path d="M326.6 351.0V348.5l1.6 -0.4 1.7 -0.6 1.7 0 1.6 -1.5 1.7 0.2 1.6 -0.3 1.7 -1.2 1.7 -0.3 1.6 -0.8 1.7 -0.4 1.7 -0.6 1.6 -0.7 1.7 -0.4 1.7 -1 1.6 -0.3 1.7 -0.6 1.7 -0.9 1.6 -0.8 1.7 -0.5 1.6 -0.5 1.7 -1.1 1.7 0 1.6 -0.9 1.7 -1 1.7 -0.3 1.6 -1.1 1.7 -0.6 1.7 -0.9 1.6 -0.2 1.7 -0.6 1.7 -0.9 1.6 0.2 1.7 -1.9 1.7 0.4 1.6 -0.4 1.7 -0.8 1.6 -0.2 1.7 0.1 1.7 -0.9 1.6 -0.4 1.7 0.1 1.7 -0.3 1.6 -0.4 1.7 0.1 1.7 -0.5 1.6 -0.2 1.7 0.1 1.7 0 1.6 -0.5 1.7 0 1.6 -0.7 1.7 0.1 1.7 -0.4 1.6 0 1.7 -0.2 1.7 0.1 1.6 -0.6 1.7 -0.5 1.7 0.3 1.6 -0.1 1.7 -0.4 1.7 -0.1 1.6 -0.2 1.7 -0.5 1.7 -0.1 1.6 -0.8 1.7 0.1 1.6 -0.4 1.7 -0.5 1.7 0.1 1.6 -0.9 1.7 0.3 1.7 -0.3 1.6 -0.4 1.7 -0.5 1.7 0 1.6 -0.7 1.7 0 1.7 -1.2V318.0z"/><path d="M327.4 352.2V349.7l1.7 -0.4 1.6 -0.4 1.7 -0.7 1.7 -0.5 1.6 -0.4 1.7 -0.5 1.7 -0.8 1.6 -0.5 1.7 -1 1.7 -0.7 1.6 -0.3 1.7 -0.8 1.6 -0.1 1.7 -1.2 1.7 -0.5 1.6 -0.8 1.7 -1 1.7 0.3 1.6 -1.4 1.7 -0.4 1.7 -1.1 1.6 -0.3 1.7 -0.9 1.7 -1 1.6 -0.8 1.7 -0.6 1.7 -0.6 1.6 -0.8 1.7 -1 1.6 -0.4 1.7 -0.3 1.7 -1.2 1.6 -0.4 1.7 -0.6 1.7 -0.2 1.6 -0.7 1.7 0 1.7 -0.7 1.6 0 1.7 -0.5 1.7 -0.3 1.6 0.2 1.7 -0.3 1.6 -0.2 1.7 -0.4 1.7 0 1.6 0.3 1.7 -0.5 1.7 -0.2 1.6 -0.5 1.7 0.8 1.7 -0.4 1.6 -0.6 1.7 0.5 1.7 -0.2 1.6 -0.6 1.7 -0.3 1.7 0.3 1.6 -0.6 1.7 0 1.6 -0.6 1.7 0.2 1.7 -0.5 1.6 0.3 1.7 -0.5 1.7 -0.3 1.6 -0.6 1.7 -0.1 1.7 0.1 1.6 -0.8 1.7 -0.3 1.7 -0.1 1.6 -0.2 1.7 -0.4 1.7 0.1 1.6 -0.9 1.7 -0.4 1.6 0 1.7 -0.9V319.2z"/><path d="M328.3 353.4V351.2l1.6 -0.8 1.7 -0.5 1.7 -1.3 1.6 0.5 1.7 -1.2 1.6 -0.6 1.7 -0.5 1.7 -0.8 1.6 0 1.7 -0.3 1.7 -1.5 1.6 -0.1 1.7 -0.9 1.7 -0.5 1.6 -1.3 1.7 -0.6 1.7 -0.3 1.6 -1.2 1.7 -0.6 1.7 -0.7 1.6 -0.8 1.7 -0.8 1.6 -1 1.7 -0.8 1.7 -0.7 1.6 -1.2 1.7 -0.5 1.7 -1 1.6 -0.9 1.7 -1 1.7 -0.3 1.6 -1.1 1.7 -0.3 1.7 -0.5 1.6 -0.4 1.7 -0.7 1.6 -0.2 1.7 0 1.7 -0.3 1.6 -0.2 1.7 -0.1 1.7 -0.5 1.6 -0.1 1.7 0.1 1.7 0.1 1.6 0.1 1.7 -0.1 1.7 -0.3 1.6 -0.3 1.7 0.2 1.7 0.2 1.6 -0.2 1.7 0.1 1.6 -0.1 1.7 -0.3 1.7 -0.2 1.6 -0.6 1.7 0.4 1.7 -0.6 1.6 -0.2 1.7 0.2 1.7 -0.6 1.6 0.1 1.7 0.1 1.7 -0.5 1.6 -0.1 1.7 -0.2 1.7 -0.3 1.6 -0.4 1.7 -0.3 1.6 0.1 1.7 -0.6 1.7 0.1 1.6 -0.8 1.7 -0.5 1.7 -0.2 1.6 -0.4 1.7 -0.4 1.7 0V320.4z"/><path d="M329.1 354.6V352.0l1.7 -0.8 1.6 -0.7 1.7 -0.3 1.7 -1.2 1.6 0.2 1.7 -0.9 1.7 -0.7 1.6 -0.2 1.7 -0.5 1.7 -0.5 1.6 -1.1 1.7 -0.9 1.7 -0.5 1.6 -0.7 1.7 -0.6 1.6 -1 1.7 0 1.7 -1.5 1.6 -0.7 1.7 -0.5 1.7 -1.8 1.6 -0.1 1.7 -1 1.7 -1 1.6 -1.5 1.7 -0.7 1.7 -1.4 1.6 -1 1.7 -1 1.6 -0.7 1.7 -1 1.7 -1.3 1.6 -0.1 1.7 -0.8 1.7 -0.6 1.6 -0.6 1.7 -0.3 1.7 -0.3 1.6 0.3 1.7 -0.4 1.7 0.1 1.6 0.6 1.7 -0.5 1.7 0 1.6 0.9 1.7 -0.1 1.6 -0.1 1.7 0.7 1.7 0.2 1.6 -0.1 1.7 -0.2 1.7 0 1.6 -0.4 1.7 0.1 1.7 0.3 1.6 -0.6 1.7 -0.4 1.7 0 1.6 -0.1 1.7 0.2 1.7 -0.5 1.6 0.4 1.7 -0.7 1.6 0.1 1.7 -0.6 1.7 0 1.6 0.2 1.7 -0.6 1.7 -0.6 1.6 0.4 1.7 -0.4 1.7 -0.2 1.6 -0.1 1.7 -1.1 1.7 -0.4 1.6 -0.2 1.7 -0.1 1.6 -0.3 1.7 -0.4V321.6z"/><path d="M330.0 355.8V353.2l1.6 -1 1.7 -0.6 1.7 -0.5 1.6 -0.2 1.7 -0.7 1.7 -0.6 1.6 -1.1 1.7 -0.2 1.6 -0.1 1.7 -1.3 1.7 -1.1 1.6 -0.4 1.7 -0.8 1.7 -0.5 1.6 -0.3 1.7 -0.8 1.7 -1 1.6 -1.1 1.7 -1.1 1.7 -1 1.6 -0.8 1.7 -1.3 1.6 -0.9 1.7 -1.2 1.7 -1.7 1.6 -1.1 1.7 -1.1 1.7 -1.8 1.6 -1.6 1.7 -0.8 1.7 -1.7 1.6 -1.1 1.7 -0.7 1.7 -0.8 1.6 -0.7 1.7 -0.4 1.7 -0.5 1.6 0 1.7 0.4 1.6 0.1 1.7 0.2 1.7 0.2 1.6 0.8 1.7 0.6 1.7 0.2 1.6 0.8 1.7 0.5 1.7 0.6 1.6 0 1.7 -0.4 1.7 1 1.6 -0.3 1.7 0.4 1.7 -0.4 1.6 -0.2 1.7 0.3 1.6 -0.4 1.7 0 1.7 -0.1 1.6 -0.4 1.7 0.1 1.7 0.2 1.6 -0.1 1.7 -0.1 1.7 -0.6 1.6 0.1 1.7 -1.1 1.7 0 1.6 0.4 1.7 -0.3 1.6 -0.8 1.7 0.7 1.7 -0.7 1.6 -0.7 1.7 0.3 1.7 -0.5 1.6 -0.4 1.7 -0.6 1.7 -0.2V322.8z"/><path d="M330.8 357.0V354.0l1.7 -0.6 1.6 -0.4 1.7 -0.9 1.7 0 1.6 -0.4 1.7 -0.6 1.7 -0.7 1.6 -0.9 1.7 -1.2 1.7 -0.4 1.6 -0.5 1.7 -0.7 1.7 -0.9 1.6 -0.8 1.7 -0.8 1.6 -0.6 1.7 -1.2 1.7 -1.3 1.6 -0.2 1.7 -1.5 1.7 -0.8 1.6 -1.9 1.7 -1.3 1.7 -1.4 1.6 -2.3 1.7 -2.4 1.7 -1.8 1.6 -2.3 1.7 -1.8 1.7 -1.6 1.6 -2 1.7 -1.2 1.6 -1 1.7 -1.1 1.7 -0.5 1.6 -0.4 1.7 -0.2 1.7 0.2 1.6 0.2 1.7 0.7 1.7 0.6 1.6 1.1 1.7 0.7 1.7 1.2 1.6 0.9 1.7 1.4 1.7 0.9 1.6 0.5 1.7 1.3 1.6 0.1 1.7 -0.1 1.7 0.3 1.6 0.1 1.7 0.4 1.7 -0.2 1.6 0.4 1.7 0.1 1.7 0.1 1.6 -0.4 1.7 -0.1 1.7 0 1.6 0.6 1.7 -0.5 1.6 -0.5 1.7 -0.4 1.7 0.1 1.6 -0.2 1.7 0.2 1.7 -1.4 1.6 0.7 1.7 -1.1 1.7 -0.2 1.6 0.1 1.7 -0.1 1.7 -0.5 1.6 0.1 1.7 -0.7 1.7 -0.3 1.6 -0.5V324.0z"/><path d="M331.7 358.1V354.9l1.6 -0.7 1.7 0 1.7 -1 1.6 -0.1 1.7 -0.6 1.7 -0.7 1.6 -0.6 1.7 -1.2 1.7 -0.7 1.6 -0.8 1.7 -0.4 1.6 -0.9 1.7 -0.5 1.7 -0.7 1.6 -1.3 1.7 -0.9 1.7 -0.6 1.6 -1.5 1.7 -0.6 1.7 -1.6 1.6 -1.4 1.7 -1.7 1.7 -2 1.6 -2.7 1.7 -2.7 1.6 -3 1.7 -3 1.7 -2.9 1.6 -2.8 1.7 -2.4 1.7 -2.1 1.6 -1.5 1.7 -1.1 1.7 -0.7 1.6 -0.5 1.7 -0.3 1.7 0.1 1.6 0.1 1.7 0.5 1.7 0.8 1.6 1.1 1.7 1.3 1.6 1.6 1.7 1.7 1.7 1.6 1.6 1.8 1.7 1.3 1.7 1.9 1.6 1.3 1.7 0.4 1.7 0.7 1.6 0.8 1.7 0.5 1.7 0 1.6 0.5 1.7 -0.2 1.6 0.5 1.7 -0.5 1.7 0.5 1.6 -0.5 1.7 -0.5 1.7 0.4 1.6 -0.4 1.7 0.2 1.7 0 1.6 0 1.7 -0.9 1.7 0.2 1.6 -0.7 1.7 0.6 1.7 -0.5 1.6 -0.3 1.7 -0.7 1.6 -0.4 1.7 0.4 1.7 -0.1 1.6 -0.1 1.7 -1.3 1.7 0.1V325.1z"/><path d="M332.5 359.3V356.5l1.7 -0.7 1.7 0.1 1.6 -0.8 1.7 -1.4 1.6 -0.5 1.7 -0.6 1.7 -0.3 1.6 -1.2 1.7 -1.1 1.7 0.1 1.6 -1.1 1.7 -0.7 1.7 -1.1 1.6 -0.8 1.7 -0.8 1.7 -0.8 1.6 -1.3 1.7 -1.1 1.6 -1.4 1.7 -1.6 1.7 -2 1.6 -2.1 1.7 -2.9 1.7 -3.6 1.6 -3.6 1.7 -4.2 1.7 -4.3 1.6 -3.9 1.7 -3.5 1.7 -2.8 1.6 -1.9 1.7 -1.4 1.7 -0.8 1.6 -0.3 1.7 -0.1 1.6 0 1.7 0.2 1.7 0.3 1.6 0.5 1.7 0.9 1.7 0.9 1.6 1.5 1.7 1.7 1.7 2.1 1.6 2.3 1.7 2.4 1.7 2.7 1.6 2 1.7 2.3 1.6 1.3 1.7 1.1 1.7 0.8 1.6 0.6 1.7 0.8 1.7 0.2 1.6 0.2 1.7 -0.1 1.7 0 1.6 0.5 1.7 -1.1 1.7 1 1.6 0 1.7 -0.3 1.7 -0.1 1.6 -0.1 1.7 0.2 1.6 -0.7 1.7 0.3 1.7 -0.6 1.6 -0.2 1.7 0.6 1.7 -0.3 1.6 -0.3 1.7 -0.6 1.7 -0.2 1.6 -0.4 1.7 0.1 1.7 -0.7 1.6 -0.6V326.3z"/><path d="M333.4 360.5V357.8l1.6 -0.9 1.7 -0.7 1.7 -0.5 1.6 -0.7 1.7 -1.2 1.7 -0.5 1.6 -0.6 1.7 -0.3 1.7 -1.6 1.6 -0.2 1.7 -0.6 1.6 -0.9 1.7 -0.9 1.7 -1.6 1.6 -0.5 1.7 -1 1.7 -0.7 1.6 -2 1.7 -1.2 1.7 -2 1.6 -2.8 1.7 -2.9 1.7 -4 1.6 -4.6 1.7 -5 1.7 -5.4 1.6 -5.2 1.7 -4.7 1.6 -3.8 1.7 -2.5 1.7 -1.7 1.6 -0.5 1.7 0.1 1.7 0.3 1.6 0.5 1.7 0.5 1.7 0.4 1.6 0.4 1.7 0.2 1.7 0.5 1.6 0.7 1.7 1 1.6 1.6 1.7 2 1.7 2.3 1.6 2.9 1.7 2.9 1.7 3.1 1.6 2.9 1.7 2.4 1.7 2 1.6 1.7 1.7 1.2 1.7 0.7 1.6 0.7 1.7 0 1.7 0.2 1.6 0.1 1.7 0.7 1.6 -0.6 1.7 0.2 1.7 0.4 1.6 -0.4 1.7 -0.2 1.7 0 1.6 -0.2 1.7 -0.2 1.7 -0.1 1.6 0.1 1.7 0.4 1.7 -0.5 1.6 -0.5 1.7 0 1.7 -0.6 1.6 -0.3 1.7 0 1.6 -0.8 1.7 0.5 1.7 -0.9V327.5z"/><path d="M334.2 361.7V358.6l1.7 -0.5 1.7 -1 1.6 -0.3 1.7 -1 1.6 -0.1 1.7 -1.1 1.7 -0.5 1.6 -0.9 1.7 -0.7 1.7 -0.6 1.6 -1.4 1.7 -0.4 1.7 -1 1.6 -1.4 1.7 -1.1 1.7 -1.1 1.6 -1.3 1.7 -2 1.7 -1.2 1.6 -2.6 1.7 -3.2 1.6 -4.4 1.7 -5 1.7 -5.8 1.6 -6.3 1.7 -6.2 1.7 -5.7 1.6 -4.7 1.7 -3.5 1.7 -1.8 1.6 -0.5 1.7 0.5 1.7 1.1 1.6 1.3 1.7 1.2 1.6 1 1.7 0.5 1.7 0.3 1.6 0 1.7 0 1.7 0.1 1.6 0.3 1.7 0.7 1.7 1.4 1.6 1.8 1.7 2.4 1.7 3.3 1.6 3.4 1.7 3.5 1.7 3.5 1.6 2.8 1.7 2.7 1.6 1.9 1.7 1.2 1.7 0.9 1.6 0.3 1.7 0.4 1.7 0.1 1.6 0.5 1.7 -0.7 1.7 0.7 1.6 0 1.7 -0.1 1.7 0.2 1.6 0 1.7 -0.2 1.7 -0.3 1.6 0 1.7 -0.2 1.6 0.3 1.7 -0.1 1.7 -1 1.6 0.4 1.7 -0.4 1.7 -0.3 1.6 -0.5 1.7 0.6 1.7 -0.6 1.6 -0.3V328.7z"/><path d="M335.1 362.9V359.7l1.6 0 1.7 -1.3 1.7 0.1 1.6 -1.5 1.7 -0.8 1.7 -0.7 1.6 -0.3 1.7 -1.3 1.7 -0.4 1.6 -0.7 1.7 -1 1.7 -1 1.6 -1.2 1.7 -1.2 1.6 -0.5 1.7 -1.7 1.7 -1.8 1.6 -1.8 1.7 -2.5 1.7 -2.9 1.6 -4.5 1.7 -4.9 1.7 -6.2 1.6 -6.8 1.7 -6.9 1.7 -6.4 1.6 -5.5 1.7 -3.9 1.6 -2.4 1.7 -0.7 1.7 0.6 1.6 1.6 1.7 2 1.7 2 1.6 1.7 1.7 1.3 1.7 0.8 1.6 0.1 1.7 -0.1 1.7 -0.4 1.6 -0.5 1.7 -0.6 1.7 -0.3 1.6 0.1 1.7 0.8 1.6 1.6 1.7 2.6 1.7 3.3 1.6 3.8 1.7 4.1 1.7 3.9 1.6 3.2 1.7 2.5 1.7 2.3 1.6 1.1 1.7 0.9 1.7 0.6 1.6 0.2 1.7 0.5 1.7 0.2 1.6 0 1.7 -0.1 1.6 0.3 1.7 -0.4 1.7 0.6 1.6 -0.5 1.7 0.5 1.7 -0.3 1.6 -0.2 1.7 -0.6 1.7 0.2 1.6 0.2 1.7 -0.6 1.7 0.2 1.6 0 1.7 -0.6 1.6 -0.2 1.7 -0.5 1.7 0.1V329.9z"/><path d="M335.9 364.1V360.6l1.7 -0.7 1.7 -0.6 1.6 -0.5 1.7 -0.5 1.7 -1.2 1.6 -0.5 1.7 -0.9 1.6 -0.6 1.7 -0.9 1.7 -0.6 1.6 -1.2 1.7 -1.2 1.7 -0.8 1.6 -1.4 1.7 -1.1 1.7 -1.7 1.6 -1.5 1.7 -2 1.7 -3.5 1.6 -3.9 1.7 -5.1 1.6 -6.2 1.7 -6.8 1.7 -7 1.6 -6.6 1.7 -5.8 1.7 -4.3 1.6 -2.9 1.7 -1 1.7 0.3 1.6 1.5 1.7 2.3 1.7 2.5 1.6 2.1 1.7 2.1 1.7 1.3 1.6 0.8 1.7 0.2 1.6 -0.2 1.7 -0.7 1.7 -1 1.6 -1 1.7 -1.2 1.7 -0.9 1.6 -0.5 1.7 0.4 1.7 1.3 1.6 2.4 1.7 3.6 1.7 4.2 1.6 4.2 1.7 4.4 1.7 3.5 1.6 2.5 1.7 1.9 1.6 1.7 1.7 0.7 1.7 0.6 1.6 0 1.7 0 1.7 1.2 1.6 -0.5 1.7 1 1.7 -0.6 1.6 0.4 1.7 -0.8 1.7 0.5 1.6 0.2 1.7 -0.1 1.6 -0.1 1.7 -0.3 1.7 0 1.6 -0.4 1.7 -0.4 1.7 0 1.6 0.4 1.7 -0.1 1.7 -0.6 1.6 -0.7V331.1z"/><path d="M336.8 365.2V361.8l1.6 -0.5 1.7 -0.9 1.7 -0.2 1.6 -0.8 1.7 -1.2 1.7 -0.5 1.6 -0.8 1.7 -1 1.7 -0.6 1.6 -0.9 1.7 -1 1.7 -1.3 1.6 -1 1.7 -0.9 1.7 -1.6 1.6 -2 1.7 -2.4 1.6 -2.2 1.7 -4.1 1.7 -4.8 1.6 -6 1.7 -6.6 1.7 -7 1.6 -6.5 1.7 -5.6 1.7 -4.3 1.6 -2.9 1.7 -1.5 1.7 -0.2 1.6 1.1 1.7 1.9 1.6 2.2 1.7 2.4 1.7 2.2 1.6 1.7 1.7 1.2 1.7 0.8 1.6 0.1 1.7 -0.2 1.7 -0.6 1.6 -1 1.7 -1.3 1.7 -1.4 1.6 -1.6 1.7 -1.4 1.7 -0.9 1.6 -0.1 1.7 1.2 1.6 2.4 1.7 3.6 1.7 4.6 1.6 4.6 1.7 4.3 1.7 3.7 1.6 2.6 1.7 1.6 1.7 1.4 1.6 0.6 1.7 0.6 1.7 0.5 1.6 0.5 1.7 0.4 1.6 0.2 1.7 -0.3 1.7 0.2 1.6 0.2 1.7 -0.2 1.7 0.4 1.6 -0.4 1.7 0.2 1.7 0 1.6 -0.1 1.7 -0.1 1.7 -0.9 1.6 1 1.7 -0.7 1.7 -0.5 1.6 -0.1 1.7 0V332.2z"/><path d="M337.6 366.4V362.3l1.7 0.2 1.7 -0.6 1.6 -1.2 1.7 -0.2 1.7 -0.5 1.6 -1.6 1.7 -0.8 1.7 -0.9 1.6 -0.5 1.7 -1.2 1.6 -0.7 1.7 -1.7 1.7 -1 1.6 -1.3 1.7 -0.9 1.7 -2.6 1.6 -2.7 1.7 -3.4 1.7 -4.5 1.6 -5.5 1.7 -6.5 1.7 -6.8 1.6 -6.4 1.7 -5.3 1.6 -4.1 1.7 -2.8 1.7 -1.2 1.6 -0.5 1.7 0.5 1.7 1.1 1.6 1.6 1.7 1.9 1.7 1.9 1.6 1.8 1.7 1.2 1.7 1.1 1.6 0.5 1.7 0.2 1.7 -0.2 1.6 -0.6 1.7 -0.8 1.6 -1.1 1.7 -1.4 1.7 -1.8 1.6 -2 1.7 -1.8 1.7 -1.2 1.6 -0.4 1.7 1.1 1.7 2.8 1.6 3.9 1.7 5 1.7 5 1.6 4.3 1.7 3.8 1.6 2.3 1.7 1.3 1.7 1.1 1.6 0.9 1.7 0.1 1.7 0.7 1.6 0.5 1.7 0 1.7 0.3 1.6 0 1.7 0.7 1.7 -0.5 1.6 0.5 1.7 -0.3 1.7 0.7 1.6 -0.4 1.7 -0.1 1.6 -0.3 1.7 0.4 1.7 -0.9 1.6 0.1 1.7 0.1 1.7 -0.7 1.6 0.1V333.4z"/><path d="M338.5 367.6V363.6l1.7 -1 1.6 -0.2 1.7 -0.4 1.6 -0.7 1.7 -1.1 1.7 -0.7 1.6 -0.5 1.7 -1 1.7 -1.2 1.6 -1.4 1.7 0.2 1.7 -2 1.6 -1 1.7 -1.7 1.7 -1.8 1.6 -2.1 1.7 -2.9 1.6 -4.1 1.7 -5.3 1.7 -6.5 1.6 -6.6 1.7 -6.4 1.7 -5.3 1.6 -3.8 1.7 -2.5 1.7 -1.1 1.6 -0.3 1.7 0.4 1.7 0.5 1.6 1 1.7 1.1 1.7 1.3 1.6 1.2 1.7 1.2 1.6 0.9 1.7 0.7 1.7 0.2 1.6 0 1.7 -0.1 1.7 -0.5 1.6 -0.6 1.7 -1 1.7 -1.1 1.6 -1.7 1.7 -1.9 1.7 -2.2 1.6 -2.1 1.7 -1.7 1.6 -0.1 1.7 1.4 1.7 3 1.6 4.7 1.7 5.1 1.7 5 1.6 4.2 1.7 3.3 1.7 2.1 1.6 1.4 1.7 0.9 1.7 0.9 1.6 0.5 1.7 0.4 1.7 0 1.6 0.4 1.7 0.2 1.6 0.2 1.7 -0.1 1.7 0.5 1.6 0 1.7 0.6 1.7 0 1.6 -0.2 1.7 0.2 1.7 -0.5 1.6 0.4 1.7 -0.5 1.7 0.5 1.6 -0.6 1.7 -0.4V334.6z"/><path d="M339.3 368.8V365.1l1.7 -0.3 1.7 -1.2 1.6 -1 1.7 -0.6 1.7 -0.5 1.6 -0.8 1.7 -0.7 1.7 -1.4 1.6 -1.1 1.7 -0.5 1.6 -0.9 1.7 -1.6 1.7 -1.4 1.6 -0.9 1.7 -2.6 1.7 -3 1.6 -3.3 1.7 -4.7 1.7 -5.9 1.6 -6.6 1.7 -6.5 1.7 -5.7 1.6 -4.1 1.7 -2.2 1.7 -0.9 1.6 0.2 1.7 0.3 1.6 0.5 1.7 0.5 1.7 0.5 1.6 0.6 1.7 0.8 1.7 0.6 1.6 0.7 1.7 0.4 1.7 0.3 1.6 0.1 1.7 -0.1 1.7 -0.2 1.6 -0.3 1.7 -0.7 1.6 -0.7 1.7 -0.9 1.7 -1.4 1.6 -1.8 1.7 -2.3 1.7 -2.5 1.6 -2.2 1.7 -1.5 1.7 0 1.6 2 1.7 3.7 1.7 5.2 1.6 5.5 1.7 4.9 1.7 3.9 1.6 2.6 1.7 2.1 1.6 0.9 1.7 0.9 1.7 0.4 1.6 0.2 1.7 0.3 1.7 0.7 1.6 0.9 1.7 0.2 1.7 0.1 1.6 -0.2 1.7 0.6 1.7 0 1.6 0.5 1.7 -0.2 1.7 0 1.6 0.3 1.7 -0.4 1.6 -0.2 1.7 0.2 1.7 -0.5 1.6 -0.4V335.8z"/><path d="M340.2 370.0V366.0l1.7 -0.6 1.6 -0.6 1.7 -0.7 1.6 -1 1.7 -0.6 1.7 -0.9 1.6 -0.8 1.7 -0.7 1.7 -1.1 1.6 -1.4 1.7 -0.8 1.7 -1.3 1.6 -2 1.7 -1.6 1.7 -1.8 1.6 -3.3 1.7 -3.9 1.7 -5.6 1.6 -6.2 1.7 -6.8 1.6 -6.2 1.7 -4.6 1.7 -2.9 1.6 -0.8 1.7 0.3 1.7 0.8 1.6 0.7 1.7 0.5 1.7 0.3 1.6 0.2 1.7 0.1 1.7 0.2 1.6 0.2 1.7 0.2 1.6 0.2 1.7 -0.1 1.7 -0.1 1.6 -0.1 1.7 -0.4 1.7 -0.4 1.6 -0.4 1.7 -0.6 1.7 -0.9 1.6 -1.2 1.7 -1.5 1.7 -2 1.6 -2.7 1.7 -2.8 1.7 -2.4 1.6 -1.3 1.7 0.9 1.6 2.8 1.7 4.7 1.7 5.7 1.6 5.4 1.7 4.5 1.7 3.6 1.6 2.3 1.7 1.6 1.7 0.8 1.6 0.6 1.7 0.7 1.7 0.4 1.6 0.4 1.7 0.5 1.7 0.8 1.6 0.3 1.7 0 1.6 0.8 1.7 0.1 1.7 0.3 1.6 0 1.7 0.3 1.7 0.1 1.6 -1.1 1.7 0.4 1.7 0.3 1.6 -0.3 1.7 -0.4V337.0z"/><path d="M341.0 371.2V367.2l1.7 -0.9 1.7 -0.4 1.6 -0.8 1.7 -0.9 1.7 -0.7 1.6 -0.4 1.7 -1.5 1.7 -1 1.6 -1.1 1.7 -0.7 1.7 -1.5 1.6 -1.3 1.7 -1 1.6 -1.9 1.7 -3 1.7 -3.1 1.6 -4.9 1.7 -5.8 1.7 -6.6 1.6 -6.7 1.7 -5.6 1.7 -3.8 1.6 -1.6 1.7 0.1 1.7 1 1.6 1.1 1.7 0.9 1.6 0.3 1.7 0.1 1.7 0 1.6 -0.3 1.7 -0.1 1.7 -0.1 1.6 -0.1 1.7 -0.2 1.7 -0.2 1.6 -0.2 1.7 -0.2 1.7 -0.5 1.6 -0.3 1.7 -0.5 1.7 -0.7 1.6 -0.7 1.7 -1.1 1.6 -1.3 1.7 -2.1 1.7 -2.6 1.6 -3.2 1.7 -3.1 1.7 -2.1 1.6 -0.4 1.7 2.1 1.7 4.2 1.6 5.6 1.7 5.8 1.7 5.2 1.6 3.9 1.7 2.6 1.7 1.9 1.6 1.2 1.7 1.1 1.6 0.8 1.7 0.5 1.7 0.6 1.6 0.6 1.7 0.5 1.7 0.7 1.6 0.9 1.7 0.2 1.7 0.3 1.6 -0.3 1.7 0.8 1.7 -0.2 1.6 -0.1 1.7 0.3 1.6 0.1 1.7 -0.1 1.7 0.1 1.6 -0.5V338.2z"/><path d="M341.9 372.3V367.9l1.7 -0.6 1.6 -0.8 1.7 -0.7 1.7 -1.2 1.6 -0.1 1.7 -1.1 1.6 -1 1.7 -1.1 1.7 -0.2 1.6 -1.5 1.7 -1.3 1.7 -1.2 1.6 -2 1.7 -1.9 1.7 -2.6 1.6 -3.5 1.7 -5.1 1.7 -6.3 1.6 -6.9 1.7 -6.5 1.7 -5.1 1.6 -2.9 1.7 -0.8 1.6 0.7 1.7 1.4 1.7 1.4 1.6 0.6 1.7 0.3 1.7 -0.1 1.6 -0.3 1.7 -0.3 1.7 -0.3 1.6 -0.3 1.7 -0.4 1.7 -0.4 1.6 -0.2 1.7 -0.5 1.6 -0.4 1.7 -0.5 1.7 -0.4 1.6 -0.5 1.7 -0.5 1.7 -0.8 1.6 -1.1 1.7 -1.3 1.7 -2 1.6 -2.8 1.7 -3.3 1.7 -3.4 1.6 -3.1 1.7 -1.3 1.7 1.2 1.6 3.6 1.7 5.5 1.6 6.2 1.7 5.7 1.7 4.5 1.6 3.3 1.7 2 1.7 1.5 1.6 0.9 1.7 1.1 1.7 0.9 1.6 0.2 1.7 1.3 1.7 0.7 1.6 0.7 1.7 0.6 1.6 0.7 1.7 0.3 1.7 0.5 1.6 0.3 1.7 0 1.7 0.1 1.6 0.1 1.7 0.3 1.7 -0.4 1.6 0.1 1.7 -0.2V339.3z"/><path d="M342.7 373.5V369.7l1.7 -1.3 1.7 -0.6 1.6 -1.3 1.7 -0.5 1.7 -0.4 1.6 -0.8 1.7 -1.6 1.7 -0.5 1.6 -1.4 1.7 -0.9 1.7 -1.8 1.6 -1 1.7 -1.9 1.7 -2.1 1.6 -2.5 1.7 -4.1 1.6 -5.5 1.7 -6.3 1.7 -6.9 1.6 -6.5 1.7 -4.6 1.7 -2.2 1.6 -0.2 1.7 1.3 1.7 1.5 1.6 1.3 1.7 0.6 1.7 0.2 1.6 -0.2 1.7 -0.5 1.6 -0.4 1.7 -0.4 1.7 -0.5 1.6 -0.5 1.7 -0.4 1.7 -0.6 1.6 -0.4 1.7 -0.5 1.7 -0.4 1.6 -0.6 1.7 -0.5 1.7 -0.7 1.6 -0.7 1.7 -1.1 1.7 -1.4 1.6 -2.1 1.7 -2.8 1.6 -3.5 1.7 -4 1.7 -3.5 1.6 -2.1 1.7 0.4 1.7 3.2 1.6 5.5 1.7 6.3 1.7 6.1 1.6 5 1.7 3.7 1.7 2.3 1.6 1.9 1.7 0.9 1.6 1 1.7 0.7 1.7 1.4 1.6 1.1 1.7 0.4 1.7 0.9 1.6 1.1 1.7 0.3 1.7 0.8 1.6 1 1.7 0.2 1.7 0.3 1.6 0.1 1.7 0.1 1.7 0.2 1.6 -0.1 1.7 -0.3 1.6 0V340.5z"/><path d="M343.6 374.7V370.4l1.7 -0.8 1.6 -0.8 1.7 -0.3 1.7 -1.4 1.6 -0.5 1.7 -1.3 1.7 -0.5 1.6 -1.6 1.7 -0.9 1.6 -0.8 1.7 -1.7 1.7 -1.2 1.6 -2.3 1.7 -1.9 1.7 -2.8 1.6 -4.3 1.7 -5.5 1.7 -6.7 1.6 -6.9 1.7 -6.3 1.7 -4.2 1.6 -1.9 1.7 0.2 1.6 1.5 1.7 1.7 1.7 1.2 1.6 0.6 1.7 0 1.7 -0.3 1.6 -0.5 1.7 -0.5 1.7 -0.6 1.6 -0.6 1.7 -0.5 1.7 -0.6 1.6 -0.4 1.7 -0.7 1.7 -0.5 1.6 -0.5 1.7 -0.6 1.6 -0.5 1.7 -0.7 1.7 -0.9 1.6 -1.1 1.7 -1.6 1.7 -2.1 1.6 -2.9 1.7 -3.8 1.7 -4.3 1.6 -3.9 1.7 -2.6 1.7 0 1.6 2.7 1.7 5.4 1.6 6.4 1.7 6.4 1.7 5.5 1.6 3.8 1.7 2.7 1.7 2 1.6 1.3 1.7 0.9 1.7 1.2 1.6 0.9 1.7 1.5 1.7 1 1.6 0.9 1.7 0.9 1.7 0.9 1.6 0.9 1.7 0.6 1.6 0.6 1.7 0.1 1.7 1.1 1.6 -0.9 1.7 0.6 1.7 0.3 1.6 -0.6 1.7 0.5V341.7z"/><path d="M344.5 375.9V371.2l1.6 -0.5 1.7 -1 1.6 -0.9 1.7 -1 1.7 -0.4 1.6 -1 1.7 -1.1 1.7 -0.7 1.6 -1.5 1.7 -1.1 1.7 -1 1.6 -2 1.7 -1.8 1.7 -1.8 1.6 -3.4 1.7 -4.3 1.6 -5.5 1.7 -6.6 1.7 -7 1.6 -6.2 1.7 -4.1 1.7 -1.7 1.6 0.4 1.7 1.5 1.7 1.7 1.6 1.2 1.7 0.4 1.7 0.1 1.6 -0.4 1.7 -0.4 1.7 -0.6 1.6 -0.6 1.7 -0.7 1.6 -0.6 1.7 -0.6 1.7 -0.7 1.6 -0.5 1.7 -0.6 1.7 -0.5 1.6 -0.6 1.7 -0.8 1.7 -0.6 1.6 -0.9 1.7 -1.3 1.7 -1.6 1.6 -2.2 1.7 -3.1 1.6 -4 1.7 -4.4 1.7 -4.2 1.6 -2.9 1.7 -0.4 1.7 2.7 1.6 5.2 1.7 6.6 1.7 6.6 1.6 5.6 1.7 4 1.7 2.9 1.6 1.9 1.7 1.5 1.7 1.3 1.6 1.3 1.7 0.9 1.6 1.3 1.7 1.3 1.7 1.3 1.6 1 1.7 1 1.7 0.5 1.6 1 1.7 0.9 1.7 0.6 1.6 0.2 1.7 0.4 1.7 -0.2 1.6 0 1.7 -0.1 1.7 0V342.9z"/><path d="M345.3 377.1V372.5l1.7 -1 1.6 -0.4 1.7 -1.1 1.7 -1.1 1.6 -0.7 1.7 -0.6 1.7 -1 1.6 -1 1.7 -1.9 1.6 -0.5 1.7 -1.6 1.7 -1.9 1.6 -1.7 1.7 -2.3 1.7 -2.7 1.6 -4.5 1.7 -5.7 1.7 -6.4 1.6 -7.1 1.7 -6.1 1.7 -4.2 1.6 -1.7 1.7 0.3 1.7 1.7 1.6 1.7 1.7 1.1 1.6 0.5 1.7 0 1.7 -0.3 1.6 -0.5 1.7 -0.7 1.7 -0.6 1.6 -0.7 1.7 -0.6 1.7 -0.7 1.6 -0.6 1.7 -0.6 1.7 -0.8 1.6 -0.6 1.7 -0.7 1.6 -0.8 1.7 -0.8 1.7 -1 1.6 -1.1 1.7 -1.8 1.7 -2.2 1.6 -3.1 1.7 -4.1 1.7 -4.5 1.6 -4.3 1.7 -2.9 1.7 -0.3 1.6 2.7 1.7 5.2 1.7 6.5 1.6 6.6 1.7 5.5 1.6 4.1 1.7 2.7 1.7 2 1.6 1.6 1.7 1.2 1.7 1.4 1.6 1.3 1.7 1.2 1.7 1.5 1.6 1.4 1.7 1.2 1.7 1.5 1.6 0.8 1.7 0.8 1.7 0.9 1.6 0.2 1.7 0.4 1.6 0.5 1.7 0.1 1.7 -0.2 1.6 -0.1 1.7 0.5V344.1z"/><path d="M346.2 378.3V373.4l1.6 -1 1.7 -0.5 1.6 -0.7 1.7 -0.9 1.7 -1 1.6 -0.8 1.7 -1.8 1.7 -0.5 1.6 -1.3 1.7 -1.2 1.7 -1.5 1.6 -1.3 1.7 -1.6 1.7 -2.8 1.6 -2.7 1.7 -4.2 1.7 -5.5 1.6 -6.6 1.7 -7 1.6 -6.3 1.7 -4.3 1.7 -2 1.6 0.2 1.7 1.5 1.7 1.7 1.6 1.2 1.7 0.6 1.7 -0.1 1.6 -0.2 1.7 -0.5 1.7 -0.5 1.6 -0.8 1.7 -0.6 1.6 -0.7 1.7 -0.8 1.7 -0.7 1.6 -0.9 1.7 -0.8 1.7 -0.9 1.6 -0.8 1.7 -0.8 1.7 -0.9 1.6 -0.9 1.7 -1.2 1.7 -1.5 1.6 -2.3 1.7 -3 1.7 -3.9 1.6 -4.3 1.7 -4.2 1.6 -2.7 1.7 -0.1 1.7 2.7 1.6 5.3 1.7 6.5 1.7 6.3 1.6 5.2 1.7 3.9 1.7 2.7 1.6 1.9 1.7 1.4 1.7 1.4 1.6 1.5 1.7 1.2 1.7 1.4 1.6 1.4 1.7 1.5 1.6 1.4 1.7 1.6 1.7 1 1.6 0.6 1.7 1.2 1.7 0.2 1.6 0.4 1.7 0.9 1.7 -0.2 1.6 0.3 1.7 -0.6 1.7 0.3V345.3z"/><path d="M347.0 379.4V374.6l1.7 -1 1.6 -0.5 1.7 -1.1 1.7 -1 1.6 -0.9 1.7 -1 1.7 -0.8 1.6 -0.9 1.7 -1.5 1.7 -1.2 1.6 -1.4 1.7 -2.1 1.6 -1.6 1.7 -1.9 1.7 -2.8 1.6 -4 1.7 -5.4 1.7 -6.5 1.6 -6.9 1.7 -6.4 1.7 -4.8 1.6 -2.4 1.7 -0.1 1.7 1.1 1.6 1.6 1.7 1.4 1.7 0.8 1.6 0.2 1.7 -0.2 1.6 -0.4 1.7 -0.7 1.7 -0.7 1.6 -0.8 1.7 -0.7 1.7 -0.8 1.6 -1.1 1.7 -0.9 1.7 -1.1 1.6 -1 1.7 -1 1.7 -1.1 1.6 -1 1.7 -0.9 1.6 -1 1.7 -1.6 1.7 -1.9 1.6 -2.8 1.7 -3.5 1.7 -4.1 1.6 -3.6 1.7 -2.1 1.7 0.3 1.6 3.2 1.7 5.3 1.7 6.1 1.6 5.9 1.7 4.7 1.7 3.7 1.6 2.3 1.7 1.8 1.6 1.4 1.7 1.3 1.7 1.4 1.6 1.3 1.7 1.5 1.7 1.3 1.6 1.8 1.7 2 1.7 1.1 1.6 0.9 1.7 1.1 1.7 1.3 1.6 0.2 1.7 0.6 1.6 0.3 1.7 0.2 1.7 -0.1 1.6 -0.1 1.7 0.2V346.4z"/><path d="M347.9 380.6V375.8l1.6 -0.8 1.7 -0.9 1.7 -1.1 1.6 -0.8 1.7 -1 1.6 -0.9 1.7 -1.6 1.7 -1.1 1.6 -1.2 1.7 -1.1 1.7 -1.5 1.6 -1.2 1.7 -1.8 1.7 -2.3 1.6 -2.9 1.7 -3.7 1.7 -4.8 1.6 -6.2 1.7 -6.9 1.7 -6.5 1.6 -5.2 1.7 -3.1 1.6 -0.9 1.7 0.9 1.7 1.5 1.6 1.4 1.7 0.9 1.7 0.5 1.6 -0.1 1.7 -0.3 1.7 -0.6 1.6 -0.7 1.7 -0.9 1.7 -0.7 1.6 -1.1 1.7 -1 1.6 -1.3 1.7 -1.5 1.7 -1.3 1.6 -1.3 1.7 -1.5 1.7 -1.1 1.6 -1 1.7 -1 1.7 -1 1.6 -1.8 1.7 -2.4 1.7 -3 1.6 -3.4 1.7 -2.9 1.7 -1.2 1.6 1.2 1.7 3.5 1.6 5.4 1.7 5.9 1.7 5.3 1.6 4.2 1.7 3.1 1.7 2.1 1.6 1.5 1.7 1.4 1.7 1.2 1.6 1.5 1.7 1.5 1.7 1.3 1.6 1.6 1.7 1.6 1.6 1.4 1.7 1.4 1.7 1.4 1.6 0.9 1.7 0.9 1.7 0.8 1.6 0.4 1.7 0.4 1.7 0.4 1.6 0.1 1.7 -0.1 1.7 -0.5V347.6z"/><path d="M348.7 381.8V376.8l1.7 -1.2 1.6 -0.4 1.7 -1.7 1.7 -0.4 1.6 -1.1 1.7 -1.4 1.7 -1 1.6 -0.6 1.7 -1.7 1.7 -1.2 1.6 -1.6 1.7 -1.5 1.7 -1.9 1.6 -2 1.7 -2.6 1.6 -3.6 1.7 -4.3 1.7 -5.8 1.6 -6.6 1.7 -6.7 1.7 -5.6 1.6 -3.9 1.7 -1.6 1.7 0.2 1.6 1.3 1.7 1.4 1.7 1.2 1.6 0.7 1.7 0.1 1.6 -0.2 1.7 -0.7 1.7 -0.6 1.6 -0.9 1.7 -0.9 1.7 -1.2 1.6 -1.4 1.7 -1.6 1.7 -1.7 1.6 -1.9 1.7 -1.8 1.7 -1.7 1.6 -1.3 1.7 -1.1 1.7 -1 1.6 -0.8 1.7 -1.3 1.6 -1.8 1.7 -2.4 1.7 -2.5 1.6 -1.6 1.7 0 1.7 2.1 1.6 4.3 1.7 5.2 1.7 5.6 1.6 4.7 1.7 3.6 1.7 2.4 1.6 1.8 1.7 1.3 1.6 1.2 1.7 1.1 1.7 1.5 1.6 1.3 1.7 1.5 1.7 1.6 1.6 1.7 1.7 1.2 1.7 1.3 1.6 1.4 1.7 1 1.7 1 1.6 0.5 1.7 0.9 1.7 0 1.6 0.3 1.7 0.7 1.6 0.4 1.7 -0.7V348.8z"/><path d="M349.6 383.0V377.6l1.6 -1.2 1.7 -0.6 1.7 -0.8 1.6 -0.7 1.7 -1.4 1.7 -1 1.6 -1 1.7 -1.5 1.6 -1.5 1.7 -1.2 1.7 -1.3 1.6 -1.9 1.7 -1.6 1.7 -2 1.6 -2.9 1.7 -3.1 1.7 -4.3 1.6 -5.2 1.7 -6.1 1.7 -6.6 1.6 -6 1.7 -4.5 1.6 -2.6 1.7 -0.7 1.7 0.8 1.6 1.3 1.7 1.4 1.7 0.8 1.6 0.4 1.7 0 1.7 -0.4 1.6 -0.7 1.7 -1 1.7 -1 1.6 -1.4 1.7 -1.7 1.7 -2 1.6 -2.2 1.7 -2.5 1.6 -2.3 1.7 -2.1 1.7 -1.7 1.6 -1.2 1.7 -0.7 1.7 -0.7 1.6 -0.8 1.7 -1.1 1.7 -1.5 1.6 -1.2 1.7 -0.1 1.7 1.3 1.6 3.4 1.7 4.6 1.6 5.3 1.7 5.1 1.7 4 1.6 3 1.7 1.9 1.7 1.6 1.6 1.1 1.7 1.1 1.7 1 1.6 1.2 1.7 1.4 1.7 1.5 1.6 1.6 1.7 1.6 1.7 1.1 1.6 1.5 1.7 1.4 1.6 1.1 1.7 0.8 1.7 0.2 1.6 0.5 1.7 0.3 1.7 0.9 1.6 0 1.7 -0.3 1.7 0.3V350.0z"/><path d="M350.4 384.2V378.4l1.7 -0.3 1.6 -1.2 1.7 -1 1.7 -1 1.6 -1 1.7 -0.9 1.7 -1.9 1.6 -1 1.7 -1 1.7 -2 1.6 -1.4 1.7 -1.9 1.7 -1.8 1.6 -2 1.7 -2.6 1.6 -3.2 1.7 -3.8 1.7 -4.8 1.6 -5.7 1.7 -6.2 1.7 -6.1 1.6 -5.2 1.7 -3.6 1.7 -1.5 1.6 -0.1 1.7 1 1.7 1.3 1.6 1.2 1.7 0.5 1.7 0.3 1.6 -0.2 1.7 -0.7 1.6 -0.9 1.7 -1.2 1.7 -1.6 1.6 -1.9 1.7 -2.4 1.7 -2.8 1.6 -2.9 1.7 -2.8 1.7 -2.7 1.6 -2.1 1.7 -1.4 1.7 -0.7 1.6 -0.5 1.7 -0.2 1.6 -0.3 1.7 -0.3 1.7 0.3 1.6 1.5 1.7 2.9 1.7 4.5 1.6 5 1.7 5 1.7 4.5 1.6 3.4 1.7 2.4 1.7 1.7 1.6 1.1 1.7 1.2 1.7 1 1.6 1 1.7 1.3 1.6 1.5 1.7 1.1 1.7 1.5 1.6 1.5 1.7 1.3 1.7 1.4 1.6 0.8 1.7 1.2 1.7 0.6 1.6 1.1 1.7 0.3 1.7 0.2 1.6 0.6 1.7 0.1 1.7 0 1.6 -0.3V351.2z"/><path d="M351.3 385.4V379.4l1.6 -0.9 1.7 -0.8 1.7 -1.2 1.6 -1.2 1.7 -0.7 1.7 -1.3 1.6 -1.3 1.7 -0.8 1.6 -1.9 1.7 -1.7 1.7 -1.8 1.6 -1.7 1.7 -2.3 1.7 -2 1.6 -2.7 1.7 -3.3 1.7 -3.4 1.6 -4.4 1.7 -5.2 1.7 -5.8 1.6 -6 1.7 -5.5 1.7 -4.1 1.6 -2.6 1.7 -1 1.6 0.3 1.7 0.9 1.7 1.2 1.6 0.9 1.7 0.4 1.7 0 1.6 -0.5 1.7 -0.9 1.7 -1.3 1.6 -1.6 1.7 -2.2 1.7 -2.5 1.6 -3.2 1.7 -3.3 1.6 -3.5 1.7 -3.1 1.7 -2.4 1.6 -1.7 1.7 -0.8 1.7 -0.1 1.6 0.3 1.7 0.5 1.7 1.2 1.6 2.1 1.7 3 1.7 4.2 1.6 5.1 1.7 5.1 1.7 4.9 1.6 3.7 1.7 2.9 1.6 2 1.7 1.4 1.7 1.2 1.6 1 1.7 1.1 1.7 1 1.6 1.4 1.7 1.2 1.7 1.4 1.6 1.4 1.7 1.2 1.7 1.3 1.6 1 1.7 1.1 1.7 1.2 1.6 0.6 1.7 0.7 1.6 0.7 1.7 0.4 1.7 -0.1 1.6 0.4 1.7 0.3 1.7 -0.3V352.4z"/><path d="M352.1 386.5V380.5l1.7 -0.8 1.6 -0.6 1.7 -1.2 1.7 -1.6 1.6 -0.7 1.7 -1.3 1.7 -1.9 1.6 -1.1 1.7 -1.4 1.7 -1.5 1.6 -2.3 1.7 -1.9 1.7 -2.5 1.6 -2.5 1.7 -2.8 1.7 -3.6 1.6 -3.5 1.7 -4.3 1.6 -4.8 1.7 -5.2 1.7 -5.6 1.6 -5.3 1.7 -4.6 1.7 -3.2 1.6 -1.8 1.7 -0.7 1.7 0.5 1.6 0.8 1.7 0.9 1.7 0.4 1.6 0.2 1.7 -0.4 1.7 -0.8 1.6 -1.3 1.7 -1.7 1.6 -2.2 1.7 -2.7 1.7 -3.1 1.6 -3.6 1.7 -3.5 1.7 -3.4 1.6 -2.8 1.7 -1.8 1.7 -0.8 1.6 -0.1 1.7 1 1.7 1.6 1.6 2.5 1.7 3.5 1.6 4.4 1.7 5.1 1.7 5.1 1.6 4.9 1.7 4.2 1.7 3.3 1.6 2.5 1.7 1.8 1.7 1.4 1.6 1.3 1.7 1.2 1.7 1.2 1.6 1.3 1.7 1.3 1.7 1.3 1.6 1.5 1.7 1.2 1.6 1.1 1.7 1.7 1.7 0.9 1.6 1.1 1.7 0.2 1.7 1.5 1.6 0.2 1.7 0.3 1.7 0.7 1.6 0.1 1.7 0.3 1.7 0.3 1.6 -0.3V353.5z"/><path d="M353.0 387.7V381.5l1.6 -0.7 1.7 -1.1 1.7 -1.2 1.6 -1.3 1.7 -0.6 1.7 -1.8 1.6 -1.2 1.7 -1.3 1.7 -2 1.6 -2.2 1.7 -2.1 1.6 -2.3 1.7 -3 1.7 -2.9 1.6 -3.2 1.7 -3.6 1.7 -4 1.6 -4.2 1.7 -4.6 1.7 -4.8 1.6 -5 1.7 -4.8 1.7 -4.3 1.6 -3.6 1.7 -2.3 1.7 -1.3 1.6 -0.4 1.7 0.3 1.6 0.3 1.7 0.4 1.7 -0.2 1.6 -0.3 1.7 -0.8 1.7 -1.2 1.6 -1.5 1.7 -2 1.7 -2.6 1.6 -3 1.7 -3.4 1.7 -3.5 1.6 -3.3 1.7 -2.8 1.6 -1.9 1.7 -0.6 1.7 0.4 1.6 1.4 1.7 2.6 1.7 3.5 1.6 4.3 1.7 5 1.7 4.9 1.6 4.9 1.7 4.1 1.7 3.7 1.6 2.7 1.7 2.3 1.7 1.9 1.6 1.6 1.7 1.7 1.6 1.7 1.7 1.6 1.7 1.8 1.6 1.6 1.7 1.5 1.7 1.4 1.6 1.2 1.7 1.6 1.7 0.8 1.6 1 1.7 1.1 1.7 1 1.6 1 1.7 0 1.6 0.6 1.7 0.1 1.7 0.5 1.6 -0.1 1.7 0.1 1.7 0V354.7z"/><path d="M353.8 388.9V382.6l1.7 -1 1.7 -1.2 1.6 -0.7 1.7 -1.5 1.6 -1.2 1.7 -1.3 1.7 -1.4 1.6 -2.3 1.7 -1.7 1.7 -2.1 1.6 -2.6 1.7 -2.8 1.7 -3.1 1.6 -3.5 1.7 -4 1.7 -4.1 1.6 -4.3 1.7 -4.4 1.7 -4.3 1.6 -4.4 1.7 -4.4 1.6 -4.1 1.7 -3.8 1.7 -3.2 1.6 -2.4 1.7 -1.9 1.7 -1 1.6 -0.6 1.7 -0.3 1.7 -0.3 1.6 -0.5 1.7 -0.7 1.7 -0.8 1.6 -1.1 1.7 -1.5 1.6 -1.8 1.7 -2.1 1.7 -2.6 1.6 -2.7 1.7 -3 1.7 -2.9 1.6 -2.5 1.7 -1.5 1.7 -0.4 1.6 0.6 1.7 1.8 1.7 3 1.6 3.8 1.7 4.3 1.7 4.6 1.6 4.5 1.7 3.9 1.6 3.4 1.7 2.9 1.7 2.3 1.6 2.1 1.7 2.1 1.7 2.2 1.6 2.3 1.7 2.3 1.7 2.5 1.6 2.1 1.7 2.2 1.7 2 1.6 1.8 1.7 1.3 1.6 1.8 1.7 1 1.7 0.7 1.6 1.1 1.7 0.3 1.7 0.9 1.6 0.7 1.7 0 1.7 0.6 1.6 0.1 1.7 0.4 1.7 0.1 1.6 -0.3V355.9z"/><path d="M354.7 390.1V383.6l1.6 -0.8 1.7 -1 1.7 -1.5 1.6 -1.5 1.7 -0.8 1.7 -1.9 1.6 -0.9 1.7 -2.3 1.7 -2.6 1.6 -2.7 1.7 -2.6 1.7 -3.4 1.6 -3.7 1.7 -4.2 1.6 -4.3 1.7 -4.7 1.7 -4.6 1.6 -4.5 1.7 -4.2 1.7 -3.8 1.6 -3.6 1.7 -3.3 1.7 -2.9 1.6 -2.8 1.7 -2.3 1.7 -1.8 1.6 -1.7 1.7 -1.3 1.6 -1.1 1.7 -1 1.7 -1.2 1.6 -1.2 1.7 -1.2 1.7 -1.2 1.6 -1.2 1.7 -1.5 1.7 -1.5 1.6 -1.7 1.7 -1.9 1.7 -2.3 1.6 -2.2 1.7 -1.8 1.7 -1.2 1.6 -0.2 1.7 0.7 1.6 1.9 1.7 2.7 1.7 3.4 1.6 3.8 1.7 3.5 1.7 3.6 1.6 2.8 1.7 2.6 1.7 2.1 1.6 1.9 1.7 2.1 1.7 2.2 1.6 2.5 1.7 2.9 1.6 3.1 1.7 3.2 1.7 3.1 1.6 3.1 1.7 2.5 1.7 2.3 1.6 1.6 1.7 1.9 1.7 1.3 1.6 1.1 1.7 1.1 1.7 0.3 1.6 0.4 1.7 0.9 1.7 0.2 1.6 0.5 1.7 0.1 1.6 0.1 1.7 0.6 1.7 -0.1V357.1z"/><path d="M355.5 391.3V384.4l1.7 -0.3 1.7 -1.5 1.6 -1.2 1.7 -1.1 1.7 -1.7 1.6 -1.7 1.7 -2 1.6 -1.5 1.7 -3.3 1.7 -2.6 1.6 -3.5 1.7 -3.8 1.7 -4.4 1.6 -4.7 1.7 -5.2 1.7 -4.9 1.6 -4.6 1.7 -4.4 1.7 -3.8 1.6 -3.2 1.7 -2.7 1.6 -2.4 1.7 -2.1 1.7 -2.1 1.6 -1.9 1.7 -1.9 1.7 -1.7 1.6 -1.9 1.7 -1.8 1.7 -1.9 1.6 -1.8 1.7 -1.8 1.7 -1.6 1.6 -1.4 1.7 -1.1 1.7 -0.8 1.6 -0.7 1.7 -1 1.6 -0.8 1.7 -1.4 1.7 -1.4 1.6 -1.4 1.7 -0.9 1.7 -0.3 1.6 0.5 1.7 1.3 1.7 2.2 1.6 2.6 1.7 2.9 1.7 2.7 1.6 2.5 1.7 2.1 1.6 1.8 1.7 1.5 1.7 1.4 1.6 1.7 1.7 2 1.7 2.5 1.6 3 1.7 3.5 1.7 3.8 1.6 4.1 1.7 3.8 1.7 3.8 1.6 3.1 1.7 2.4 1.7 2.2 1.6 1.2 1.7 1.5 1.6 0.8 1.7 1.2 1.7 0.2 1.6 0.5 1.7 0.2 1.7 0.6 1.6 0.1 1.7 0.3 1.7 -0.1 1.6 0.4V358.3z"/><path d="M356.4 392.5V385.6l1.6 -0.8 1.7 -1.5 1.7 -1 1.6 -1.3 1.7 -1.5 1.7 -2.3 1.6 -1.4 1.7 -2.5 1.7 -3.2 1.6 -3.1 1.7 -4 1.7 -4.5 1.6 -5.1 1.7 -5.1 1.6 -5.4 1.7 -5.1 1.7 -4.6 1.6 -3.8 1.7 -3.1 1.7 -2.5 1.6 -2 1.7 -1.5 1.7 -1.6 1.6 -1.4 1.7 -1.5 1.7 -1.7 1.6 -1.7 1.7 -2.3 1.7 -2.2 1.6 -2.4 1.7 -2.5 1.6 -2.1 1.7 -2 1.7 -1.5 1.6 -0.8 1.7 -0.2 1.7 0 1.6 0.2 1.7 -0.1 1.7 -0.5 1.6 -0.9 1.7 -1.3 1.7 -1.3 1.6 -0.6 1.7 -0.1 1.6 1 1.7 1.5 1.7 2.2 1.6 2.2 1.7 2.2 1.7 2 1.6 1.6 1.7 1.1 1.7 1 1.6 0.9 1.7 1 1.7 1.3 1.6 1.8 1.7 2.5 1.7 3.1 1.6 4 1.7 4.5 1.6 4.7 1.7 4.5 1.7 4.1 1.6 3.5 1.7 3 1.7 2 1.6 1.4 1.7 1.3 1.7 0.6 1.6 0.6 1.7 0.9 1.7 0.3 1.6 0.4 1.7 -0.2 1.7 0.2 1.6 -0.3 1.7 0.7V359.5z"/><path d="M357.2 393.6V387.0l1.7 -1.4 1.7 -1.1 1.6 -1.4 1.7 -1.7 1.7 -1.3 1.6 -2.1 1.7 -1.7 1.6 -3.3 1.7 -3 1.7 -3.7 1.6 -4.5 1.7 -5.1 1.7 -5.4 1.6 -5.8 1.7 -5.4 1.7 -4.9 1.6 -4.1 1.7 -3.2 1.7 -2.2 1.6 -1.7 1.7 -1.2 1.7 -1 1.6 -1 1.7 -1.2 1.6 -1.3 1.7 -1.4 1.7 -1.8 1.6 -2 1.7 -2.5 1.7 -2.6 1.6 -2.7 1.7 -2.5 1.7 -2.1 1.6 -1.4 1.7 -0.4 1.7 0.2 1.6 1 1.7 0.9 1.7 0.5 1.6 -0.3 1.7 -1.1 1.6 -1.5 1.7 -1.7 1.7 -1.1 1.6 -0.3 1.7 0.7 1.7 1.6 1.6 2 1.7 2.3 1.7 2.2 1.6 1.9 1.7 1.2 1.7 1 1.6 0.6 1.7 0.3 1.6 0.1 1.7 0.2 1.7 0.6 1.6 1.2 1.7 2.3 1.7 3.1 1.6 4.2 1.7 5 1.7 5.2 1.6 5 1.7 4.7 1.7 3.4 1.6 3.1 1.7 1.7 1.7 1.6 1.6 0.9 1.7 0.8 1.6 0.8 1.7 0.2 1.7 0.8 1.6 0.3 1.7 -0.1 1.7 -0.3 1.6 0.6V360.6z"/><path d="M358.1 394.8V387.9l1.6 -1.6 1.7 -0.8 1.7 -1.4 1.6 -1.3 1.7 -2 1.7 -2.2 1.6 -2.3 1.7 -3.1 1.7 -3.4 1.6 -4.3 1.7 -4.9 1.7 -5.5 1.6 -5.9 1.7 -5.9 1.7 -5.3 1.6 -4.3 1.7 -3.5 1.6 -2.4 1.7 -1.6 1.7 -0.9 1.6 -0.7 1.7 -0.7 1.7 -0.9 1.6 -0.8 1.7 -1.1 1.7 -1.4 1.6 -1.6 1.7 -2 1.7 -2.3 1.6 -2.5 1.7 -2.7 1.7 -2.5 1.6 -2.2 1.7 -1.3 1.6 -0.2 1.7 0.7 1.7 1.4 1.6 1.3 1.7 0.6 1.7 -0.3 1.6 -1.4 1.7 -2 1.7 -1.9 1.6 -1.1 1.7 0 1.7 1.2 1.6 1.9 1.7 2.6 1.6 2.3 1.7 2.3 1.7 1.8 1.6 1.2 1.7 0.7 1.7 0.3 1.6 -0.1 1.7 -0.5 1.7 -0.6 1.6 -0.6 1.7 -0.1 1.7 0.5 1.6 1.7 1.7 3 1.7 4.4 1.6 5.3 1.7 5.8 1.6 5.5 1.7 4.4 1.7 3.8 1.6 2.8 1.7 2.3 1.7 1 1.6 0.9 1.7 0.6 1.7 0.4 1.6 0.5 1.7 -0.1 1.7 0.8 1.6 -0.1 1.7 0.2V361.8z"/><path d="M358.9 396.0V388.7l1.7 -1 1.7 -1.4 1.6 -1.2 1.7 -2.4 1.7 -1.2 1.6 -1.9 1.7 -2.8 1.7 -3.2 1.6 -4 1.7 -4.6 1.6 -5.3 1.7 -5.9 1.7 -6.1 1.6 -5.9 1.7 -5.1 1.7 -3.6 1.6 -2.9 1.7 -1.6 1.7 -0.9 1.6 -0.6 1.7 -0.4 1.7 -0.5 1.6 -0.9 1.7 -0.7 1.7 -1.1 1.6 -1.3 1.7 -1.4 1.6 -1.7 1.7 -2.1 1.7 -2.4 1.6 -2.3 1.7 -2.5 1.7 -2.1 1.6 -1.3 1.7 -0.1 1.7 0.7 1.6 1.5 1.7 1.3 1.7 0.4 1.6 -0.6 1.7 -2 1.6 -2 1.7 -1.7 1.7 -0.4 1.6 0.9 1.7 2 1.7 2.6 1.6 2.9 1.7 2.5 1.7 2.2 1.6 1.6 1.7 1.1 1.7 0.6 1.6 0.1 1.7 -0.3 1.7 -0.7 1.6 -1.2 1.7 -1.3 1.6 -1.5 1.7 -0.8 1.7 -0.1 1.6 1.4 1.7 3.2 1.7 4.7 1.6 5.7 1.7 6.1 1.7 5.7 1.6 4.5 1.7 3.5 1.7 2.3 1.6 1.8 1.7 1.1 1.6 0.9 1.7 0.2 1.7 0.9 1.6 -0.3 1.7 0.1 1.7 0.1 1.6 0.7V363.0z"/><path d="M359.8 397.2V389.4l1.7 -0.9 1.6 -1.2 1.7 -2 1.6 -0.9 1.7 -2 1.7 -2 1.6 -2.7 1.7 -3.8 1.7 -4.2 1.6 -5 1.7 -5.6 1.7 -6.1 1.6 -6.3 1.7 -5.8 1.7 -4.6 1.6 -3.2 1.7 -2.1 1.7 -1.1 1.6 -0.5 1.7 -0.2 1.6 -0.4 1.7 -0.6 1.7 -0.6 1.6 -0.9 1.7 -1.1 1.7 -1.1 1.6 -1.4 1.7 -1.4 1.7 -1.8 1.6 -2 1.7 -2.2 1.7 -2.3 1.6 -2 1.7 -1.3 1.6 -0.4 1.7 0.7 1.7 1.1 1.6 0.9 1.7 0.1 1.7 -1 1.6 -2 1.7 -1.8 1.7 -0.8 1.6 0.6 1.7 1.9 1.7 2.9 1.6 3.2 1.7 2.9 1.7 2.5 1.6 1.7 1.7 1.3 1.6 0.9 1.7 0.5 1.7 0.1 1.6 -0.4 1.7 -0.6 1.7 -1.3 1.6 -1.6 1.7 -2 1.7 -2 1.6 -1.4 1.7 -0.3 1.7 1.5 1.6 3.5 1.7 5.2 1.6 6.3 1.7 6.2 1.7 5.3 1.6 4.7 1.7 3.1 1.7 1.9 1.6 1.4 1.7 1 1.7 1 1.6 -0.6 1.7 1 1.7 0.5 1.6 0.5 1.7 -0.9V364.2z"/><path d="M360.6 398.4V391.0l1.7 -1.1 1.7 -1 1.6 -1.7 1.7 -1.7 1.7 -1.6 1.6 -3.4 1.7 -2.5 1.7 -3.5 1.6 -4.3 1.7 -5.3 1.7 -6.1 1.6 -6.3 1.7 -6.1 1.6 -5.6 1.7 -4.3 1.7 -2.8 1.6 -1.5 1.7 -0.7 1.7 -0.3 1.6 -0.2 1.7 -0.3 1.7 -0.6 1.6 -0.8 1.7 -0.8 1.7 -1 1.6 -1.1 1.7 -1.2 1.6 -1.3 1.7 -1.4 1.7 -1.7 1.6 -2 1.7 -2.1 1.7 -1.8 1.6 -1.4 1.7 -0.7 1.7 0.3 1.6 0.6 1.7 0.3 1.7 -0.4 1.6 -1.4 1.7 -1.6 1.7 -1.1 1.6 0.4 1.7 1.9 1.6 2.9 1.7 3.3 1.7 3.2 1.6 2.8 1.7 1.9 1.7 1.5 1.6 1 1.7 0.6 1.7 0.3 1.6 0.1 1.7 -0.2 1.7 -0.7 1.6 -0.8 1.7 -1.5 1.6 -2.1 1.7 -2.4 1.7 -2.5 1.6 -1.6 1.7 -0.2 1.7 2 1.6 4.3 1.7 6.1 1.7 6.5 1.6 6.3 1.7 5.4 1.7 3.2 1.6 2.9 1.7 1.6 1.7 1 1.6 1 1.7 0.5 1.6 0.1 1.7 0.5 1.7 0 1.6 -0.2V365.4z"/><path d="M361.5 399.6V392.5l1.7 -1 1.6 -1.7 1.7 -1.6 1.7 -1.8 1.6 -1.7 1.7 -2.3 1.6 -3.6 1.7 -3.7 1.7 -4.5 1.6 -5.2 1.7 -6.2 1.7 -6.5 1.6 -6.1 1.7 -5.4 1.7 -4 1.6 -2.5 1.7 -1.2 1.7 -0.5 1.6 0 1.7 -0.2 1.6 -0.4 1.7 -0.6 1.7 -0.8 1.6 -0.9 1.7 -0.9 1.7 -1 1.6 -1 1.7 -1.2 1.7 -1.3 1.6 -1.5 1.7 -1.6 1.7 -1.9 1.6 -1.8 1.7 -1.5 1.7 -1 1.6 -0.2 1.7 0.2 1.6 -0.3 1.7 -0.8 1.7 -1.4 1.6 -1.1 1.7 -0.2 1.7 1.6 1.6 2.8 1.7 3.7 1.7 3.5 1.6 2.9 1.7 2.2 1.7 1.6 1.6 1 1.7 0.8 1.6 0.3 1.7 0.3 1.7 0 1.6 -0.1 1.7 -0.4 1.7 -0.7 1.6 -1.2 1.7 -1.8 1.7 -2.5 1.6 -2.8 1.7 -2.5 1.7 -1.5 1.6 0.6 1.7 3.2 1.7 5.3 1.6 6.7 1.7 6.6 1.6 5.9 1.7 4.3 1.7 2.8 1.6 2.2 1.7 1.2 1.7 1 1.6 0.2 1.7 0.6 1.7 0.3 1.6 0.5 1.7 0.1V366.6z"/><path d="M362.3 400.7V393.6l1.7 -1.3 1.7 -1.6 1.6 -0.9 1.7 -2 1.7 -2.1 1.6 -3 1.7 -2.6 1.7 -3.7 1.6 -4.8 1.7 -5.3 1.7 -6.3 1.6 -6.3 1.7 -6.3 1.6 -5.2 1.7 -3.8 1.7 -2.3 1.6 -1.1 1.7 -0.4 1.7 0 1.6 -0.3 1.7 -0.3 1.7 -0.6 1.6 -0.8 1.7 -0.9 1.7 -0.9 1.6 -0.9 1.7 -1 1.7 -1 1.6 -1.1 1.7 -1.4 1.6 -1.5 1.7 -1.6 1.7 -1.8 1.6 -1.5 1.7 -1.1 1.7 -0.5 1.6 -0.5 1.7 -0.6 1.7 -1.1 1.6 -1.3 1.7 -0.7 1.7 0.8 1.6 2.4 1.7 3.7 1.7 3.8 1.6 3.4 1.7 2.6 1.6 1.7 1.7 1.1 1.7 0.9 1.6 0.5 1.7 0.2 1.7 0.1 1.6 0.1 1.7 -0.2 1.7 -0.2 1.6 -0.5 1.7 -0.9 1.7 -1.6 1.6 -2.3 1.7 -2.7 1.6 -3.1 1.7 -2.4 1.7 -0.6 1.6 2 1.7 4.8 1.7 6.5 1.6 6.9 1.7 6.2 1.7 5.1 1.6 3.6 1.7 2.3 1.7 1.1 1.6 1.1 1.7 -0.1 1.7 0.7 1.6 1.4 1.7 -0.3 1.6 -0.2V367.7z"/><path d="M363.2 401.9V394.1l1.7 -0.1 1.6 -1.7 1.7 -1.9 1.7 -1.3 1.6 -2.2 1.7 -2.4 1.6 -3.2 1.7 -3.5 1.7 -4.7 1.6 -5.4 1.7 -6.2 1.7 -6.5 1.6 -6.1 1.7 -5.2 1.7 -3.9 1.6 -2.3 1.7 -1.1 1.7 -0.4 1.6 0 1.7 -0.1 1.7 -0.4 1.6 -0.6 1.7 -0.7 1.6 -0.9 1.7 -0.9 1.7 -0.8 1.6 -1 1.7 -0.9 1.7 -1 1.6 -1.2 1.7 -1.4 1.7 -1.7 1.6 -1.7 1.7 -1.4 1.7 -1.1 1.6 -0.7 1.7 -0.7 1.7 -1 1.6 -1.3 1.7 -1.2 1.6 -0.1 1.7 1.4 1.7 3.1 1.6 3.9 1.7 3.9 1.7 3.1 1.6 2.3 1.7 1.5 1.7 0.8 1.6 0.6 1.7 0.2 1.7 0.4 1.6 -0.1 1.7 0 1.6 -0.1 1.7 -0.3 1.7 -0.5 1.6 -0.7 1.7 -1.4 1.7 -2 1.6 -2.8 1.7 -3.2 1.7 -2.8 1.6 -1.6 1.7 1.4 1.7 4 1.6 6.3 1.7 7.1 1.7 6.7 1.6 5.4 1.7 3.8 1.6 2.3 1.7 1.6 1.7 1.2 1.6 0.5 1.7 0.5 1.7 0.3 1.6 0 1.7 -0.1V368.9z"/><path d="M364.0 403.1V396.1l1.7 -1.3 1.7 -1.1 1.6 -1.4 1.7 -2.2 1.7 -1.7 1.6 -2.6 1.7 -2.7 1.7 -3.8 1.6 -4.5 1.7 -5.3 1.7 -6 1.6 -6.4 1.7 -6.1 1.7 -5.4 1.6 -4 1.7 -2.5 1.6 -1.3 1.7 -0.4 1.7 -0.1 1.6 -0.1 1.7 -0.4 1.7 -0.3 1.6 -0.7 1.7 -0.8 1.7 -0.9 1.6 -0.8 1.7 -0.8 1.7 -0.9 1.6 -1.2 1.7 -1.1 1.7 -1.5 1.6 -1.5 1.7 -1.5 1.6 -1.4 1.7 -0.9 1.7 -0.6 1.6 -0.8 1.7 -1.2 1.7 -1.5 1.6 -1.2 1.7 0.2 1.7 1.7 1.6 3.4 1.7 4.1 1.7 3.8 1.6 2.9 1.7 2 1.6 1.3 1.7 0.7 1.7 0.5 1.6 0.1 1.7 0 1.7 0 1.6 -0.1 1.7 -0.2 1.7 -0.3 1.6 -0.6 1.7 -0.8 1.7 -1.1 1.6 -2 1.7 -2.5 1.7 -3.4 1.6 -3.1 1.7 -1.8 1.6 0.7 1.7 3.7 1.7 6.1 1.6 7.2 1.7 6.9 1.7 5.8 1.6 4 1.7 2.6 1.7 1.1 1.6 1.7 1.7 0.5 1.7 0.2 1.6 0.4 1.7 0.6 1.6 -0.5V370.1z"/><path d="M364.9 404.3V397.1l1.7 -1.4 1.6 -1 1.7 -1.5 1.7 -1.3 1.6 -2.4 1.7 -1.9 1.7 -3 1.6 -3.6 1.7 -4.1 1.6 -5.1 1.7 -5.7 1.7 -6.3 1.6 -6.1 1.7 -5.4 1.7 -4.4 1.6 -3 1.7 -1.4 1.7 -0.8 1.6 -0.2 1.7 0 1.7 -0.3 1.6 -0.4 1.7 -0.7 1.7 -0.6 1.6 -0.8 1.7 -0.8 1.6 -0.9 1.7 -0.8 1.7 -1.1 1.6 -1.2 1.7 -1.3 1.7 -1.5 1.6 -1.4 1.7 -1.1 1.7 -0.7 1.6 -0.4 1.7 -0.6 1.7 -1.3 1.6 -1.7 1.7 -1.3 1.6 0 1.7 1.8 1.7 3.6 1.6 3.9 1.7 3.9 1.7 2.7 1.6 2 1.7 1 1.7 0.6 1.6 0.3 1.7 0.2 1.7 0 1.6 -0.1 1.7 -0.3 1.7 -0.4 1.6 -0.5 1.7 -0.8 1.6 -0.8 1.7 -1.4 1.7 -1.9 1.6 -2.7 1.7 -3.1 1.7 -3.1 1.6 -1.9 1.7 0.7 1.7 3.6 1.6 6.2 1.7 7.3 1.7 7.1 1.6 5.8 1.7 4.1 1.6 2.6 1.7 2.1 1.7 1 1.6 0.2 1.7 0.9 1.7 0.1 1.6 0.6 1.7 -0.2V371.3z"/><path d="M365.8 405.5V398.3l1.6 -0.9 1.7 -1.2 1.6 -1.3 1.7 -1.7 1.7 -1.4 1.6 -2.3 1.7 -3 1.7 -3 1.6 -4.3 1.7 -4.7 1.7 -5.4 1.6 -5.9 1.7 -6.1 1.7 -5.7 1.6 -4.7 1.7 -3.4 1.7 -2.1 1.6 -1.2 1.7 -0.4 1.6 -0.1 1.7 -0.2 1.7 -0.3 1.6 -0.5 1.7 -0.6 1.7 -0.7 1.6 -0.9 1.7 -0.7 1.7 -1 1.6 -1.1 1.7 -1.2 1.7 -1.2 1.6 -1.3 1.7 -1 1.6 -0.7 1.7 -0.2 1.7 0 1.6 -0.6 1.7 -1.3 1.7 -1.8 1.6 -1.7 1.7 -0.4 1.7 1.6 1.6 3.2 1.7 4 1.7 3.5 1.6 2.9 1.7 1.8 1.7 1.2 1.6 0.5 1.7 0.4 1.6 0 1.7 -0.1 1.7 -0.4 1.6 -0.3 1.7 -0.6 1.7 -0.9 1.6 -1 1.7 -1.2 1.7 -1.6 1.6 -2.1 1.7 -2.7 1.7 -3.2 1.6 -2.7 1.7 -1.7 1.6 1.1 1.7 3.9 1.7 6.5 1.6 7.5 1.7 7.1 1.7 5.5 1.6 4.3 1.7 2.4 1.7 2 1.6 1.2 1.7 0.9 1.7 0.3 1.6 -0.2 1.7 0.8 1.7 0.4V372.5z"/><path d="M366.6 406.7V399.8l1.7 -1.3 1.6 -1.5 1.7 -1 1.7 -1.4 1.6 -1.2 1.7 -2.3 1.7 -2.5 1.6 -3.1 1.7 -3.5 1.7 -4.5 1.6 -5.1 1.7 -5.5 1.6 -5.9 1.7 -5.7 1.7 -5 1.6 -4 1.7 -2.7 1.7 -1.8 1.6 -0.8 1.7 -0.5 1.7 -0.3 1.6 -0.2 1.7 -0.5 1.7 -0.6 1.6 -0.5 1.7 -0.8 1.6 -0.8 1.7 -1 1.7 -1.1 1.6 -1 1.7 -1.1 1.7 -0.9 1.6 -0.4 1.7 -0.1 1.7 0.5 1.6 0.3 1.7 -0.2 1.7 -1.3 1.6 -2.3 1.7 -2.3 1.7 -1.1 1.6 0.9 1.7 2.7 1.6 3.7 1.7 3.6 1.7 2.9 1.6 1.9 1.7 1.1 1.7 0.8 1.6 0.2 1.7 0 1.7 -0.2 1.6 -0.5 1.7 -0.7 1.7 -0.9 1.6 -1.1 1.7 -1.5 1.6 -1.7 1.7 -1.9 1.7 -2.5 1.6 -2.8 1.7 -3.1 1.7 -2.3 1.6 -0.9 1.7 1.9 1.7 4.6 1.6 6.8 1.7 7.6 1.7 7.1 1.6 5.4 1.7 4.2 1.7 3.1 1.6 0.9 1.7 1.3 1.6 0.9 1.7 -0.1 1.7 0.6 1.6 0 1.7 0.5V373.7z"/><path d="M367.5 407.8V401.0l1.6 -0.7 1.7 -1.4 1.7 -1.3 1.6 -0.9 1.7 -2 1.6 -1.9 1.7 -2.2 1.7 -2.4 1.6 -3.6 1.7 -3.8 1.7 -4.7 1.6 -5 1.7 -5.7 1.7 -5.5 1.6 -5.3 1.7 -4.3 1.7 -3.5 1.6 -2.4 1.7 -1.5 1.6 -1 1.7 -0.6 1.7 -0.4 1.6 -0.4 1.7 -0.5 1.7 -0.7 1.6 -0.6 1.7 -0.9 1.7 -0.9 1.6 -0.8 1.7 -0.9 1.7 -0.7 1.6 -0.3 1.7 0.2 1.7 0.8 1.6 1 1.7 0.9 1.6 0 1.7 -1.5 1.7 -2.7 1.6 -3 1.7 -2 1.7 -0.2 1.6 2 1.7 3.2 1.7 3.4 1.6 3 1.7 2.2 1.7 1.3 1.6 0.9 1.7 0.2 1.7 0 1.6 -0.3 1.7 -0.7 1.6 -0.8 1.7 -1.4 1.7 -1.6 1.6 -2 1.7 -2.2 1.7 -2.6 1.6 -2.9 1.7 -3.1 1.7 -2.6 1.6 -1.8 1.7 0.2 1.7 3 1.6 5.6 1.7 7.4 1.6 7.7 1.7 7 1.7 5.1 1.6 4.1 1.7 2.4 1.7 1.4 1.6 1.1 1.7 0.6 1.7 0.2 1.6 0.2 1.7 0.6 1.7 -0.1V374.8z"/><path d="M368.3 409.0V402.7l1.7 -1.2 1.6 -1.1 1.7 -1.1 1.7 -1.3 1.6 -1.9 1.7 -1.1 1.7 -2.6 1.6 -2.1 1.7 -2.6 1.7 -3.7 1.6 -3.8 1.7 -4.8 1.6 -5 1.7 -5.4 1.7 -5.1 1.6 -4.8 1.7 -3.9 1.7 -3.2 1.6 -2.2 1.7 -1.6 1.7 -1.1 1.6 -0.8 1.7 -0.7 1.7 -0.6 1.6 -0.6 1.7 -0.5 1.7 -0.7 1.6 -0.7 1.7 -0.6 1.6 -0.5 1.7 -0.1 1.7 0.4 1.6 1 1.7 1.4 1.7 1.6 1.6 1.3 1.7 0 1.7 -1.5 1.6 -3.1 1.7 -3.7 1.7 -3.1 1.6 -1.4 1.7 0.8 1.7 2.3 1.6 3.1 1.7 3.1 1.6 2.3 1.7 1.6 1.7 1.1 1.6 0.3 1.7 0 1.7 -0.3 1.6 -0.8 1.7 -1.2 1.7 -1.7 1.6 -2.1 1.7 -2.6 1.7 -3 1.6 -3.2 1.7 -3.4 1.6 -3 1.7 -2.3 1.7 -0.7 1.6 1.7 1.7 4.4 1.7 6.6 1.6 7.9 1.7 7.7 1.7 6.6 1.6 5 1.7 3.2 1.7 2.4 1.6 1.2 1.7 1 1.7 0.6 1.6 0.6 1.7 0.2 1.6 0 1.7 0V376.0z"/><path d="M369.2 410.2V404.5l1.6 -1.4 1.7 -1.2 1.7 -1 1.6 -1 1.7 -1.4 1.6 -2.2 1.7 -1.1 1.7 -2.4 1.6 -2.7 1.7 -2.5 1.7 -3.8 1.6 -3.8 1.7 -4.7 1.7 -4.9 1.6 -4.7 1.7 -4.8 1.7 -4.3 1.6 -3.7 1.7 -2.9 1.7 -2.2 1.6 -1.7 1.7 -1.3 1.6 -1 1.7 -0.8 1.7 -0.7 1.6 -0.5 1.7 -0.5 1.7 -0.4 1.6 -0.1 1.7 0.1 1.7 0.5 1.6 1.1 1.7 1.6 1.7 2 1.6 2 1.7 1.4 1.7 0.1 1.6 -1.6 1.7 -3.3 1.6 -4.3 1.7 -4.2 1.7 -2.8 1.6 -0.8 1.7 1.3 1.7 2.2 1.6 2.8 1.7 2.5 1.7 1.9 1.6 1.3 1.7 0.6 1.7 0.3 1.6 -0.5 1.7 -0.8 1.6 -1.5 1.7 -2.1 1.7 -2.7 1.6 -3.1 1.7 -3.7 1.7 -3.8 1.6 -3.5 1.7 -2.9 1.7 -1.5 1.6 0.8 1.7 3.2 1.7 5.8 1.6 7.6 1.7 8.2 1.7 7.4 1.6 6 1.7 4.5 1.6 3.1 1.7 1.8 1.7 1.3 1.6 0.4 1.7 1.1 1.7 -0.1 1.6 0.3 1.7 0.4 1.7 -0.4V377.2z"/><path d="M370.0 411.4V405.5l1.7 -1.5 1.6 -0.8 1.7 -0.7 1.7 -1.1 1.6 -1.2 1.7 -1.4 1.7 -1.8 1.6 -1.6 1.7 -2.6 1.7 -2.4 1.6 -2.8 1.7 -3.5 1.7 -4 1.6 -4 1.7 -4.4 1.6 -4.4 1.7 -4.3 1.7 -3.9 1.6 -3.2 1.7 -3 1.7 -2.1 1.6 -1.7 1.7 -1.4 1.7 -1 1.6 -0.8 1.7 -0.6 1.7 -0.2 1.6 -0.1 1.7 0.3 1.7 0.7 1.6 1.2 1.7 1.4 1.6 2.1 1.7 2.2 1.7 1.9 1.6 1.4 1.7 0.1 1.7 -1.5 1.6 -3.4 1.7 -4.7 1.7 -4.9 1.6 -4.1 1.7 -2.3 1.7 -0.5 1.6 1.1 1.7 2 1.6 2.4 1.7 1.9 1.7 1.5 1.6 0.9 1.7 0.3 1.7 -0.4 1.6 -0.8 1.7 -1.6 1.7 -2.3 1.6 -3.2 1.7 -3.6 1.7 -4 1.6 -4 1.7 -3.4 1.7 -2.1 1.6 -0.3 1.7 2.3 1.6 4.9 1.7 7 1.7 8 1.6 7.9 1.7 7 1.7 5.3 1.6 4.1 1.7 2.1 1.7 1.6 1.6 1.3 1.7 0.1 1.7 0.8 1.6 0.1 1.7 0.2 1.6 0.5 1.7 -0.2V378.4z"/><path d="M370.9 412.6V406.4l1.6 -0.2 1.7 -0.9 1.7 -1 1.6 -1.5 1.7 -0.9 1.7 -1.4 1.6 -1.7 1.7 -1.1 1.6 -2.4 1.7 -1.9 1.7 -2.4 1.6 -3 1.7 -3 1.7 -3.3 1.6 -3.9 1.7 -3.9 1.7 -4 1.6 -3.7 1.7 -3.4 1.7 -3.1 1.6 -2.4 1.7 -2.2 1.7 -1.6 1.6 -1.2 1.7 -0.7 1.6 -0.6 1.7 -0.1 1.7 0.1 1.6 0.7 1.7 1 1.7 1.4 1.6 1.7 1.7 2.1 1.7 2 1.6 1.8 1.7 1 1.7 0.1 1.6 -1.6 1.7 -3.2 1.6 -4.4 1.7 -5.1 1.7 -5 1.6 -4 1.7 -2.1 1.7 -0.5 1.6 0.7 1.7 1.4 1.7 1.6 1.6 1.4 1.7 1 1.7 0.5 1.6 -0.2 1.7 -0.8 1.7 -1.7 1.6 -2.5 1.7 -3.1 1.6 -3.7 1.7 -3.9 1.7 -3.5 1.6 -2.6 1.7 -0.9 1.7 1.4 1.6 3.8 1.7 6.1 1.7 7.5 1.6 7.9 1.7 7.4 1.7 5.8 1.6 4.6 1.7 2.9 1.6 1.8 1.7 1.7 1.7 0.9 1.6 0.3 1.7 0.2 1.7 0.2 1.6 0.9 1.7 -0.7 1.7 0.5V379.6z"/><path d="M371.7 413.8V408.1l1.7 -0.4 1.6 -0.9 1.7 -1.3 1.7 -0.4 1.6 -1.8 1.7 -0.8 1.7 -1.5 1.6 -1.4 1.7 -1.4 1.7 -2.2 1.6 -2.2 1.7 -2 1.7 -2.2 1.6 -3.1 1.7 -3.1 1.7 -3.4 1.6 -3.3 1.7 -3.4 1.6 -3.1 1.7 -2.8 1.7 -2.5 1.6 -2.1 1.7 -1.8 1.7 -1.3 1.6 -0.9 1.7 -0.5 1.7 0 1.6 0.3 1.7 0.7 1.7 1.1 1.6 1.4 1.7 1.5 1.6 1.7 1.7 1.7 1.7 1.3 1.6 0.7 1.7 0 1.7 -1.5 1.6 -2.5 1.7 -4 1.7 -4.9 1.6 -5.4 1.7 -4.8 1.7 -3.7 1.6 -2.4 1.7 -0.8 1.7 0 1.6 0.7 1.7 0.9 1.6 0.7 1.7 0.3 1.7 -0.1 1.6 -0.9 1.7 -1.5 1.7 -2.2 1.6 -2.8 1.7 -3.2 1.7 -3.1 1.6 -2.5 1.7 -1.1 1.7 0.8 1.6 3 1.7 5 1.6 6.6 1.7 7.4 1.7 7.2 1.6 5.9 1.7 4.9 1.7 3.5 1.6 2.2 1.7 1.8 1.7 1.2 1.6 0.9 1.7 -0.2 1.7 0.8 1.6 -0.2 1.7 0.8 1.7 -0.4 1.6 -0.1V380.8z"/><path d="M372.6 414.9V409.9l1.6 -0.9 1.7 -0.8 1.7 -1.1 1.6 -0.6 1.7 -1.2 1.7 -1.5 1.6 -1.1 1.7 -1.4 1.7 -1 1.6 -1.4 1.7 -1.8 1.6 -2 1.7 -2 1.7 -2.4 1.6 -2.2 1.7 -2.7 1.7 -2.6 1.6 -2.9 1.7 -2.8 1.7 -2.4 1.6 -2.4 1.7 -1.9 1.7 -1.7 1.6 -1.2 1.7 -0.9 1.6 -0.5 1.7 -0.1 1.7 0.2 1.6 0.7 1.7 1 1.7 1 1.6 1.2 1.7 1.3 1.7 1.2 1.6 0.8 1.7 0.5 1.7 -0.4 1.6 -1 1.7 -2.1 1.7 -3.4 1.6 -4.3 1.7 -4.9 1.6 -5 1.7 -4.5 1.7 -3.8 1.6 -2.6 1.7 -1.5 1.7 -0.7 1.6 -0.1 1.7 -0.2 1.7 0 1.6 -0.3 1.7 -0.8 1.7 -1.2 1.6 -1.8 1.7 -2.1 1.7 -1.9 1.6 -1.7 1.7 -0.8 1.6 0.6 1.7 2.3 1.7 4 1.6 5.6 1.7 6.4 1.7 6.4 1.6 5.9 1.7 4.7 1.7 3.9 1.6 2.4 1.7 1.5 1.7 1.4 1.6 0.6 1.7 0.7 1.6 0.3 1.7 0.4 1.7 -0.7 1.6 0.5 1.7 0 1.7 0V381.9z"/><path d="M373.4 416.1V411.3l1.7 -0.9 1.7 -0.9 1.6 -0.4 1.7 -1.1 1.6 -1.3 1.7 -0.3 1.7 -1.3 1.6 -1.3 1.7 -1.2 1.7 -1.4 1.6 -1.2 1.7 -1.9 1.7 -1.1 1.6 -2.4 1.7 -1.6 1.7 -2.2 1.6 -2.3 1.7 -2.4 1.6 -1.9 1.7 -2 1.7 -2.1 1.6 -1.6 1.7 -1.5 1.7 -1.1 1.6 -0.9 1.7 -0.4 1.7 -0.1 1.6 0 1.7 0.4 1.7 0.6 1.6 0.7 1.7 0.6 1.7 0.8 1.6 0.7 1.7 0.3 1.6 0.2 1.7 -0.1 1.7 -1 1.6 -1.5 1.7 -2.6 1.7 -3.4 1.6 -4.1 1.7 -4.6 1.7 -4.7 1.6 -4.2 1.7 -3.7 1.7 -2.8 1.6 -2.1 1.7 -1.4 1.7 -0.9 1.6 -0.7 1.7 -0.7 1.6 -0.8 1.7 -0.9 1.7 -0.9 1.6 -1.1 1.7 -0.6 1.7 -0.1 1.6 0.7 1.7 2 1.7 3.4 1.6 4.5 1.7 5.1 1.7 5.4 1.6 5.1 1.7 4.7 1.6 3.2 1.7 2.6 1.7 1.8 1.6 1.2 1.7 0.5 1.7 0.9 1.6 0.1 1.7 0.9 1.7 -0.1 1.6 -0.1 1.7 0.2 1.7 -0.2 1.6 0V383.1z"/><path d="M374.3 417.3V412.3l1.6 -0.6 1.7 -1 1.7 -0.2 1.6 -1.1 1.7 -1.3 1.7 -0.4 1.6 -1.4 1.7 -0.7 1.7 -1 1.6 -1.2 1.7 -1.5 1.6 -0.9 1.7 -1.2 1.7 -1.9 1.6 -1.6 1.7 -1.6 1.7 -1.3 1.6 -2.1 1.7 -1.6 1.7 -1.6 1.6 -1.5 1.7 -1.6 1.7 -1.1 1.6 -1 1.7 -1 1.7 -0.3 1.6 -0.2 1.7 -0.1 1.6 0.1 1.7 0.4 1.7 0 1.6 0.2 1.7 0.6 1.7 0.1 1.6 0.3 1.7 -0.1 1.7 -0.2 1.6 -1 1.7 -1.3 1.7 -1.8 1.6 -2.3 1.7 -3 1.7 -3.8 1.6 -4 1.7 -4 1.6 -3.9 1.7 -3.4 1.7 -2.8 1.6 -2.2 1.7 -1.8 1.7 -1.3 1.6 -1 1.7 -0.7 1.7 -0.6 1.6 -0.2 1.7 0 1.7 0.4 1.6 1 1.7 1.9 1.6 2.7 1.7 3.3 1.7 4 1.6 4.2 1.7 4 1.7 3.9 1.6 3 1.7 2 1.7 1.7 1.6 1.2 1.7 0.9 1.7 0.6 1.6 -0.1 1.7 0.8 1.7 0 1.6 -0.2 1.7 0.6 1.6 -0.3 1.7 0.1 1.7 -0.3V384.3z"/><path d="M375.1 418.5V414.3l1.7 -1.2 1.7 -0.6 1.6 -1.2 1.7 -0.5 1.6 -0.6 1.7 -1.2 1.7 -0.8 1.6 -1 1.7 -0.9 1.7 -1 1.6 -0.7 1.7 -1.3 1.7 -1.2 1.6 -1.2 1.7 -1.3 1.7 -1.3 1.6 -1.2 1.7 -1.5 1.7 -1.2 1.6 -1.3 1.7 -1.5 1.6 -1 1.7 -1.1 1.7 -0.7 1.6 -0.6 1.7 -0.7 1.7 -0.7 1.6 0 1.7 0 1.7 -0.2 1.6 0.1 1.7 0.1 1.7 0.2 1.6 -0.1 1.7 -0.4 1.7 -0.2 1.6 -0.4 1.7 -0.7 1.6 -0.7 1.7 -1.4 1.7 -1.5 1.6 -2.2 1.7 -2.7 1.7 -3.2 1.6 -3.2 1.7 -3.3 1.7 -3.2 1.6 -2.9 1.7 -2.5 1.7 -2.1 1.6 -1.5 1.7 -1.1 1.6 -0.7 1.7 -0.3 1.7 0.1 1.6 0.5 1.7 0.9 1.7 1.6 1.6 2.1 1.7 2.5 1.7 2.9 1.6 3 1.7 2.9 1.7 2.9 1.6 2.2 1.7 1.9 1.7 1 1.6 1.4 1.7 0.8 1.6 0.2 1.7 0.6 1.7 -0.1 1.6 0.7 1.7 -0.6 1.7 0.5 1.6 0 1.7 0.1 1.7 -0.1 1.6 -0.1V385.5z"/><path d="M376.0 419.7V415.0l1.6 -1 1.7 0.2 1.7 -0.9 1.6 -1 1.7 -0.7 1.7 -1.2 1.6 -0.5 1.7 -0.7 1.7 -0.6 1.6 -1.6 1.7 -0.7 1.7 -1.3 1.6 -0.1 1.7 -1.8 1.6 -0.6 1.7 -1 1.7 -1.3 1.6 -1.1 1.7 -1 1.7 -0.9 1.6 -1.2 1.7 -0.8 1.7 -1.1 1.6 -0.5 1.7 -1 1.7 -0.4 1.6 -0.7 1.7 -0.1 1.7 -0.1 1.6 -0.3 1.7 -0.4 1.6 -0.9 1.7 0.8 1.7 -0.4 1.6 -0.6 1.7 -0.2 1.7 -0.6 1.6 -0.4 1.7 -0.7 1.7 -0.8 1.6 -1 1.7 -1.7 1.7 -1.6 1.6 -2.3 1.7 -2 1.6 -2.6 1.7 -2.7 1.7 -2.4 1.6 -2.3 1.7 -1.7 1.7 -1.6 1.6 -0.9 1.7 -0.9 1.7 0 1.6 0.1 1.7 0.7 1.7 1.1 1.6 1.3 1.7 1.6 1.7 1.9 1.6 2.1 1.7 1.8 1.6 1.9 1.7 1.4 1.7 1.4 1.6 1.3 1.7 0.8 1.7 0.5 1.6 0.5 1.7 0.2 1.7 0.5 1.6 -0.1 1.7 0.3 1.7 -0.3 1.6 0.1 1.7 0.1 1.6 0.3 1.7 -0.8 1.7 0.4V386.7z"/><path d="M376.8 420.9V416.3l1.7 -0.7 1.7 -0.8 1.6 -0.4 1.7 -0.6 1.7 -0.4 1.6 -1.4 1.7 -0.3 1.6 -0.7 1.7 -0.3 1.7 -1.2 1.6 -1.2 1.7 -0.9 1.7 -0.4 1.6 -1.1 1.7 -1.1 1.7 -0.5 1.6 -1.2 1.7 -1.1 1.7 -1 1.6 -0.4 1.7 -1 1.7 -1.2 1.6 -0.5 1.7 -0.8 1.6 -0.4 1.7 -1 1.7 -0.3 1.6 -0.6 1.7 0 1.7 -0.4 1.6 -0.2 1.7 -0.3 1.7 -0.3 1.6 -0.6 1.7 -0.2 1.7 -0.6 1.6 -0.3 1.7 -0.7 1.6 -0.7 1.7 -0.8 1.7 -0.8 1.6 -0.9 1.7 -1.3 1.7 -1.2 1.6 -1.5 1.7 -1.7 1.7 -1.9 1.6 -1.8 1.7 -1.8 1.7 -1.2 1.6 -1.4 1.7 -0.6 1.7 -0.7 1.6 -0.4 1.7 0.4 1.6 0.5 1.7 0.7 1.7 0.5 1.6 1.2 1.7 1.4 1.7 1.1 1.6 1.5 1.7 0.5 1.7 0.5 1.6 1.5 1.7 -0.1 1.7 0.5 1.6 0.1 1.7 0.8 1.6 -0.1 1.7 -0.1 1.7 0.3 1.6 -0.1 1.7 0.3 1.7 -0.1 1.6 0.1 1.7 -0.3 1.7 -0.1 1.6 -0.1V387.9z"/><path d="M377.7 422.0V417.1l1.6 -0.8 1.7 -1 1.7 -0.8 1.6 -0.1 1.7 -0.6 1.7 -0.7 1.6 -0.9 1.7 -0.8 1.7 -0.2 1.6 -0.7 1.7 -0.4 1.7 -1.1 1.6 -0.6 1.7 -0.8 1.7 -0.6 1.6 -1.2 1.7 -0.5 1.6 -0.5 1.7 -1.1 1.7 -0.6 1.6 -1.1 1.7 -0.8 1.7 -0.5 1.6 -0.5 1.7 -0.4 1.7 -0.6 1.6 -1.1 1.7 -0.2 1.7 0 1.6 -0.4 1.7 -0.7 1.6 -0.4 1.7 -0.4 1.7 -0.5 1.6 0 1.7 -0.5 1.7 -0.9 1.6 -0.4 1.7 -0.4 1.7 -0.7 1.6 -0.8 1.7 -0.7 1.7 -0.7 1.6 -0.9 1.7 -1.4 1.7 -0.8 1.6 -1.7 1.7 -0.6 1.6 -1.2 1.7 -1.3 1.7 -0.9 1.6 -0.5 1.7 -0.1 1.7 -0.6 1.6 0.3 1.7 -0.1 1.7 0.1 1.6 0.4 1.7 0.7 1.7 0.5 1.6 0.5 1.7 0.7 1.7 0.4 1.6 0.1 1.7 0.5 1.6 0 1.7 0.4 1.7 0.2 1.6 0 1.7 0.1 1.7 -0.2 1.6 0.2 1.7 0.3 1.7 -0.1 1.6 0.1 1.7 -0.4 1.7 0.1 1.6 0.1 1.7 -0.7V389.0z"/><path d="M378.5 423.2V415.5l1.7 0.3 1.7 -1.1 1.6 -0.3 1.7 -0.1 1.7 -0.5 1.6 -0.6 1.7 -1.1 1.7 0.1 1.6 -0.9 1.7 0.1 1.6 -1 1.7 -0.6 1.7 -0.2 1.6 -0.7 1.7 -0.9 1.7 -0.1 1.6 -1 1.7 -0.4 1.7 -0.9 1.6 -0.7 1.7 -0.7 1.7 -0.5 1.6 -0.4 1.7 -0.5 1.6 -0.4 1.7 -0.5 1.7 -0.5 1.6 -0.5 1.7 -0.6 1.7 -0.3 1.6 -0.2 1.7 -1 1.7 -0.1 1.6 -0.2 1.7 -0.7 1.7 -0.6 1.6 -0.5 1.7 -0.6 1.7 -0.9 1.6 0.2 1.7 -1.3 1.6 -0.3 1.7 -0.6 1.7 -0.3 1.6 -1.2 1.7 -1 1.7 -0.5 1.6 -0.7 1.7 -0.8 1.7 -1 1.6 -0.6 1.7 -0.9 1.7 0 1.6 -0.5 1.7 0.2 1.7 -0.2 1.6 -0.3 1.7 0.4 1.6 0 1.7 0.6 1.7 0.1 1.6 0.1 1.7 0.3 1.7 0 1.6 -0.4 1.7 0.5 1.7 0 1.6 -0.3 1.7 0.4 1.7 0 1.6 0.1 1.7 -0.5 1.6 0 1.7 -0.4 1.7 -0.1 1.6 0.8 1.7 -0.7 1.7 -0.6 1.6 0.3V390.2z"/><path d="M379.4 424.4V415.2l1.7 -0.1 1.6 -1 1.7 0.3 1.6 -0.6 1.7 -0.2 1.7 -0.5 1.6 -0.1 1.7 -0.3 1.7 -0.8 1.6 -0.1 1.7 -0.7 1.7 0 1.6 -1.1 1.7 -0.3 1.7 -0.7 1.6 -0.4 1.7 0.1 1.6 -0.3 1.7 -1.4 1.7 -0.1 1.6 -0.5 1.7 -0.4 1.7 -0.5 1.6 -0.7 1.7 -0.5 1.7 -0.1 1.6 0 1.7 -1.1 1.7 -0.4 1.6 -0.3 1.7 -0.3 1.7 -0.5 1.6 -1 1.7 -0.1 1.6 -0.9 1.7 -0.1 1.7 -0.8 1.6 -0.1 1.7 -0.4 1.7 -0.8 1.6 -0.2 1.7 -0.7 1.7 -1 1.6 -0.8 1.7 -0.3 1.7 -0.3 1.6 -0.7 1.7 -0.9 1.7 -0.5 1.6 -1.1 1.7 -0.4 1.6 0 1.7 -0.9 1.7 0.3 1.6 -0.3 1.7 -0.6 1.7 0.4 1.6 -0.2 1.7 -0.5 1.7 0.4 1.6 -0.4 1.7 0.1 1.7 0.3 1.6 -0.3 1.7 -0.1 1.6 0.1 1.7 0.3 1.7 -0.4 1.6 0.7 1.7 -0.5 1.7 -0.2 1.6 -0.3 1.7 -0.3 1.7 0.6 1.6 -0.3 1.7 -0.3 1.7 -0.1 1.6 -0.4 1.7 -0.3V391.4z"/><path d="M380.2 425.6V414.4l1.7 -0.1 1.7 -1.2 1.6 0.9 1.7 -0.4 1.7 -0.7 1.6 0.1 1.7 -0.2 1.7 -0.3 1.6 0.2 1.7 -0.4 1.6 -0.6 1.7 -0.5 1.7 0.4 1.6 -0.6 1.7 -0.5 1.7 -0.7 1.6 0.2 1.7 -1 1.7 0 1.6 -0.8 1.7 -0.2 1.7 -0.7 1.6 0.2 1.7 -0.7 1.7 -0.2 1.6 -0.2 1.7 -0.7 1.6 -0.1 1.7 -0.9 1.7 0 1.6 -0.5 1.7 -0.9 1.7 -0.8 1.6 -0.1 1.7 -0.1 1.7 -0.8 1.6 -0.4 1.7 -0.4 1.7 -0.7 1.6 -0.6 1.7 -0.6 1.7 -0.1 1.6 -1.1 1.7 -0.1 1.6 -0.3 1.7 -0.7 1.7 -0.8 1.6 -0.3 1.7 -0.7 1.7 -0.3 1.6 -0.9 1.7 -0.2 1.7 -0.3 1.6 -0.6 1.7 0.1 1.7 -0.4 1.6 -0.4 1.7 -0.1 1.6 -0.1 1.7 -0.3 1.7 0.2 1.6 -0.2 1.7 0.1 1.7 -0.3 1.6 0.2 1.7 -0.1 1.7 -0.3 1.6 0.1 1.7 -0.6 1.7 -0.1 1.6 0 1.7 -0.2 1.7 -0.1 1.6 0.4 1.7 -0.3 1.6 -0.6 1.7 0.2 1.7 -0.3 1.6 -0.4V392.6z"/><path d="M381.1 426.8V413.8l1.7 0.2 1.6 -0.7 1.7 -0.3 1.6 0.1 1.7 -0.3 1.7 0.5 1.6 -0.5 1.7 -0.3 1.7 0.3 1.6 -0.2 1.7 -0.2 1.7 0.6 1.6 -0.7 1.7 -0.8 1.7 0.3 1.6 -0.7 1.7 -0.4 1.7 -0.5 1.6 0.1 1.7 -0.6 1.6 -0.1 1.7 -0.7 1.7 0.3 1.6 -0.3 1.7 -0.5 1.7 -0.6 1.6 0.1 1.7 -0.4 1.7 -0.4 1.6 -0.9 1.7 0 1.7 -0.6 1.6 -0.5 1.7 -0.8 1.7 0 1.6 -0.5 1.7 -0.7 1.6 -0.5 1.7 -0.1 1.7 -0.7 1.6 -0.5 1.7 -0.7 1.7 -0.3 1.6 -1.2 1.7 -0.1 1.7 -0.7 1.6 -0.3 1.7 -0.5 1.7 -0.6 1.6 -0.2 1.7 -0.1 1.6 -0.9 1.7 -0.1 1.7 -0.8 1.6 0.2 1.7 -0.6 1.7 -0.2 1.6 -0.1 1.7 -0.3 1.7 -0.2 1.6 -0.3 1.7 -0.2 1.7 -0.1 1.6 -0.1 1.7 0.4 1.7 -1 1.6 0 1.7 0.4 1.6 -0.3 1.7 0.2 1.7 0.1 1.6 -0.9 1.7 -0.7 1.7 0.2 1.6 -0.2 1.7 -0.2 1.7 -0.3 1.6 -0.1 1.7 0V393.8z"/><path d="M381.9 428.0V413.3l1.7 -0.5 1.7 0.1 1.6 0.4 1.7 -0.5 1.7 0.2 1.6 -0.2 1.7 0.4 1.7 0.1 1.6 0.1 1.7 0.1 1.7 -0.4 1.6 0.1 1.7 0 1.6 -0.5 1.7 -0.3 1.7 -0.3 1.6 -0.3 1.7 -0.6 1.7 0.4 1.6 -0.6 1.7 0.1 1.7 -0.2 1.6 -0.4 1.7 0.2 1.7 -0.4 1.6 -0.4 1.7 0.4 1.7 -0.7 1.6 -0.6 1.7 -0.6 1.6 -0.7 1.7 0.1 1.7 -1.2 1.6 -0.3 1.7 -0.4 1.7 0.1 1.6 -1 1.7 -0.3 1.7 -0.8 1.6 -0.3 1.7 -0.4 1.7 -0.4 1.6 -0.7 1.7 -0.7 1.6 0.1 1.7 -0.7 1.7 -0.6 1.6 -0.5 1.7 -0.4 1.7 -0.6 1.6 -0.4 1.7 0.2 1.7 -1.2 1.6 0.3 1.7 -1 1.7 -0.2 1.6 0.3 1.7 -0.7 1.7 -0.6 1.6 -0.2 1.7 0.1 1.6 0 1.7 -0.7 1.7 0.5 1.6 -0.2 1.7 -0.8 1.7 0.4 1.6 -0.7 1.7 0.3 1.7 -0.3 1.6 -0.7 1.7 0.1 1.7 -0.4 1.6 0.1 1.7 -0.2 1.6 -0.2 1.7 -0.1 1.7 -0.7 1.6 -0.3V395.0z"/><path d="M382.8 429.1V412.2l1.7 0.2 1.6 0.1 1.7 -0.1 1.7 -0.1 1.6 1 1.7 -0.6 1.6 0.9 1.7 0.2 1.7 -0.8 1.6 0.5 1.7 0.4 1.7 -0.4 1.6 -0.3 1.7 0.1 1.7 -0.2 1.6 0 1.7 -0.2 1.7 0.3 1.6 -0.1 1.7 -0.5 1.7 0.3 1.6 -0.7 1.7 0.1 1.6 -0.5 1.7 0 1.7 0.2 1.6 0.4 1.7 -0.8 1.7 -0.9 1.6 -1 1.7 0.1 1.7 -0.6 1.6 -0.4 1.7 0.2 1.7 -1.3 1.6 -0.2 1.7 -0.2 1.6 -1.1 1.7 -0.2 1.7 -1.3 1.6 0.8 1.7 -0.8 1.7 -0.7 1.6 -0.4 1.7 -0.7 1.7 -0.5 1.6 -0.4 1.7 -0.4 1.7 -0.2 1.6 -0.7 1.7 -0.6 1.7 -0.2 1.6 0.2 1.7 -1.3 1.6 0.2 1.7 -0.7 1.7 0.1 1.6 -0.7 1.7 0 1.7 -0.7 1.6 -0.2 1.7 0.3 1.7 0.3 1.6 -1.1 1.7 0.2 1.7 -0.8 1.6 0 1.7 0 1.7 -0.1 1.6 -0.2 1.7 -0.9 1.6 -0.1 1.7 0.1 1.7 -0.4 1.6 -0.4 1.7 0.1 1.7 0.2 1.6 -1.3 1.7 0.3V396.1z"/><path d="M383.6 430.3V413.1l1.7 -0.3 1.7 0.3 1.6 0.1 1.7 -0.1 1.7 0.6 1.6 0 1.7 0.3 1.7 -0.2 1.6 0.8 1.7 0 1.7 0.2 1.6 -0.5 1.7 0.2 1.7 0 1.6 -0.5 1.7 0.3 1.6 0 1.7 0.3 1.7 0 1.6 -0.4 1.7 -0.3 1.7 0.3 1.6 -0.1 1.7 -0.6 1.7 0.3 1.6 -0.1 1.7 -0.2 1.7 -0.2 1.6 -1 1.7 -0.7 1.6 -0.3 1.7 -0.6 1.7 0.4 1.6 -1.2 1.7 -0.2 1.7 -0.9 1.6 0.1 1.7 -0.9 1.7 -0.7 1.6 -0.2 1.7 -0.4 1.7 -0.4 1.6 -0.6 1.7 -0.3 1.7 -0.2 1.6 -0.9 1.7 -0.8 1.6 -0.1 1.7 -0.6 1.7 -0.5 1.6 -0.1 1.7 -0.3 1.7 -0.2 1.6 -0.7 1.7 -0.4 1.7 0 1.6 -0.5 1.7 -0.6 1.7 0.1 1.6 -0.6 1.7 -0.2 1.7 -0.1 1.6 -0.6 1.7 -0.2 1.6 0 1.7 -0.3 1.7 -0.3 1.6 -0.3 1.7 -0.2 1.7 -0.4 1.6 0.1 1.7 -0.8 1.7 0.2 1.6 -0.2 1.7 -0.7 1.7 -0.2 1.6 0.5 1.7 -0.8 1.6 -0.5V397.3z"/><path d="M384.5 429.5V414.1l1.7 0.5 1.6 -0.2 1.7 0.2 1.7 -0.2 1.6 0.2 1.7 0.5 1.7 0.4 1.6 0.4 1.7 -0.3 1.6 1 1.7 -0.7 1.7 0 1.6 0.1 1.7 0.1 1.7 -0.1 1.6 -0.3 1.7 0.3 1.7 -0.4 1.6 0.1 1.7 -0.1 1.7 0.7 1.6 -0.4 1.7 -0.4 1.6 0 1.7 -0.5 1.7 0.6 1.6 -0.8 1.7 -0.4 1.7 -0.3 1.6 -0.3 1.7 -0.3 1.7 -0.4 1.6 -0.6 1.7 -0.7 1.7 -0.6 1.6 -0.5 1.7 -0.6 1.7 -0.4 1.6 0 1.7 -0.6 1.6 -0.9 1.7 0.1 1.7 -1 1.6 -0.2 1.7 -0.1 1.7 -0.9 1.6 -0.4 1.7 -0.2 1.7 0 1.6 -1.1 1.7 -0.5 1.7 -0.5 1.6 -0.3 1.7 0 1.7 -0.2 1.6 -0.7 1.7 -0.6 1.6 -0.1 1.7 0 1.7 -0.2 1.6 0 1.7 -1.1 1.7 -0.3 1.6 0.4 1.7 -0.7 1.7 -0.8 1.6 0.7 1.7 -1.3 1.7 -0.1 1.6 -0.2 1.7 -0.2 1.6 -0.3 1.7 -0.3 1.7 -0.5 1.6 0.5 1.7 -0.1 1.7 -0.3 1.6 -0.9 1.7 -0.6V396.5z"/></g>
<line x1="323.5" y1="345.5" x2="385.0" y2="430.3" stroke="#fff" stroke-width="2.4"/><line x1="321.8" y1="346.5" x2="383.3" y2="431.3" stroke="#777" stroke-width="0.9"/>
<path d="M551.1,249.8 H548.6 V345.1 H551.1" fill="none" stroke="#808080" stroke-width="0.9"/><text x="547.1" y="251.6" text-anchor="end" font-size="5" fill="#666" font-family='"Liberation Sans", sans-serif'>255.0</text><text x="545.1" y="346.9" text-anchor="end" font-size="5" fill="#666" font-family='"Liberation Sans", sans-serif'>0.0</text><line x1="548.8" y1="346.5" x2="610.3" y2="431.3" stroke="#777" stroke-width="0.9"/><path d="M612.3,429.5 L612.3,432.7 L743.7,400 L743.7,397" fill="none" stroke="#777" stroke-width="0.9"/><text transform="translate(574.6,391.5) rotate(54.2)" text-anchor="middle" font-size="5.4" fill="#555" font-family='"Liberation Sans", sans-serif'>2.2 microns</text><text transform="translate(679,425) rotate(-14.1)" text-anchor="middle" font-size="5.4" fill="#555" font-family='"Liberation Sans", sans-serif'>2.0 microns</text><text transform="translate(530.6,296.3) rotate(-90)" text-anchor="middle" font-size="11.6" textLength="85" lengthAdjust="spacingAndGlyphs" font-family='"Liberation Sans", sans-serif'>Signal intensity</text>
<g fill="#fff" stroke="#000" stroke-width="0.6" stroke-linejoin="round"><path d="M551.0 347.5V344.6l1.7 -0.3 1.6 -0.5 1.7 0.1 1.7 -1.8 1.6 -0.3 1.7 -0.1 1.7 -0.8 1.6 -0.4 1.7 -0.3 1.6 -1 1.7 -0.2 1.7 -0.6 1.6 -0.4 1.7 -0.9 1.7 -0.4 1.6 -0.8 1.7 -0.3 1.7 -0.8 1.6 -0.3 1.7 -1.1 1.7 -0.4 1.6 -0.7 1.7 -0.6 1.6 -0.2 1.7 -1.1 1.7 -0.9 1.6 0.3 1.7 -0.5 1.7 -0.7 1.6 -1.1 1.7 -0.4 1.7 -0.8 1.6 -0.4 1.7 -0.4 1.7 -0.5 1.6 -0.3 1.7 -0.7 1.7 0 1.6 -0.5 1.7 -0.6 1.6 -0.7 1.7 0.2 1.7 -0.2 1.6 -0.4 1.7 -0.7 1.7 0 1.6 -0.7 1.7 0.6 1.7 -1 1.6 -0.3 1.7 0.4 1.7 -0.6 1.6 -0.5 1.7 0.1 1.7 -0.5 1.6 -0.6 1.7 0.3 1.6 -0.1 1.7 -0.1 1.7 -0.6 1.6 0 1.7 -0.3 1.7 -0.3 1.6 -0.4 1.7 0.2 1.7 -0.2 1.6 0 1.7 -1.3 1.7 0 1.6 -0.8 1.7 0.2 1.6 -0.2 1.7 -0.6 1.7 -0.2 1.6 0 1.7 -0.5 1.7 -1.1 1.6 0 1.7 -0.4V314.5z"/><path d="M551.9 348.7V345.8l1.6 -0.4 1.7 -0.9 1.6 -0.2 1.7 -0.3 1.7 -0.7 1.6 -0.3 1.7 -0.9 1.7 -0.8 1.6 0 1.7 -1.2 1.7 0 1.6 -0.8 1.7 -0.3 1.7 -0.8 1.6 -0.7 1.7 -0.4 1.6 -0.6 1.7 -0.6 1.7 -0.6 1.6 -0.4 1.7 -1 1.7 -0.8 1.6 -0.8 1.7 -0.5 1.7 -1.1 1.6 -0.1 1.7 -0.4 1.7 -1.2 1.6 0.1 1.7 -1.1 1.7 -0.1 1.6 -0.8 1.7 0 1.6 -1.2 1.7 -0.2 1.7 -0.3 1.6 -1.1 1.7 -0.2 1.7 -0.2 1.6 -0.2 1.7 -0.5 1.7 -0.4 1.6 -0.5 1.7 -0.3 1.7 0.1 1.6 -0.3 1.7 -0.3 1.7 0 1.6 -0.4 1.7 -0.4 1.6 -0.4 1.7 -0.4 1.7 0.4 1.6 -0.6 1.7 0.1 1.7 -0.9 1.6 0.4 1.7 -0.4 1.7 0.2 1.6 -0.3 1.7 -0.5 1.7 -0.1 1.6 -0.4 1.7 0.3 1.6 -0.9 1.7 0.2 1.7 -1.1 1.6 0.3 1.7 -0.7 1.7 0.4 1.6 -0.8 1.7 0.1 1.7 -0.5 1.6 -0.4 1.7 -0.3 1.7 -0.5 1.6 -0.5 1.7 -0.3 1.7 -0.2V315.7z"/><path d="M552.7 349.9V347.3l1.7 -0.7 1.6 -0.7 1.7 0.1 1.7 -1.4 1.6 -0.2 1.7 -0.6 1.7 -0.9 1.6 -0.4 1.7 -0.5 1.6 -0.2 1.7 -1 1.7 -0.6 1.6 -0.2 1.7 -1.2 1.7 -0.5 1.6 0.1 1.7 -1.2 1.7 -0.3 1.6 -1.3 1.7 -0.6 1.7 -0.1 1.6 -0.7 1.7 -1 1.7 -0.5 1.6 -1.1 1.7 -0.5 1.6 -0.4 1.7 -0.8 1.7 0 1.6 -1.2 1.7 -0.7 1.7 -0.3 1.6 -0.4 1.7 -0.8 1.7 -0.9 1.6 0 1.7 -0.2 1.7 -1 1.6 0.4 1.7 -1 1.7 -0.1 1.6 -0.6 1.7 0.1 1.6 -0.8 1.7 -0.1 1.7 0.3 1.6 -0.2 1.7 -0.6 1.7 -0.6 1.6 0.1 1.7 -0.2 1.7 -0.1 1.6 -0.4 1.7 -0.1 1.7 -0.1 1.6 0.1 1.7 -0.7 1.6 -0.3 1.7 0.5 1.7 -1.1 1.6 0.2 1.7 0.1 1.7 0.2 1.6 -1 1.7 -0.2 1.7 0.1 1.6 0 1.7 -1 1.7 0.2 1.6 -0.4 1.7 -1.2 1.7 -0.1 1.6 0 1.7 0.1 1.6 -0.7 1.7 0.5 1.7 -1 1.6 -0.1 1.7 -0.2V316.9z"/><path d="M553.6 351.0V348.4l1.6 -1.1 1.7 -0.4 1.7 -0.5 1.6 -0.7 1.7 -0.1 1.6 -0.4 1.7 -0.5 1.7 -0.9 1.6 -0.9 1.7 -0.4 1.7 -0.8 1.6 -0.1 1.7 -0.8 1.7 -0.6 1.6 -0.5 1.7 -1.5 1.7 -0.4 1.6 -0.2 1.7 -0.7 1.6 -0.9 1.7 -0.3 1.7 -1.2 1.6 -0.2 1.7 -1 1.7 -0.5 1.6 -0.8 1.7 -0.5 1.7 -0.6 1.6 -0.8 1.7 -0.6 1.7 -0.7 1.6 -0.7 1.7 -0.9 1.7 -0.4 1.6 -0.3 1.7 -0.7 1.6 -0.1 1.7 -0.9 1.7 -0.2 1.6 0 1.7 -0.8 1.7 -0.3 1.6 0.5 1.7 -0.7 1.7 -0.3 1.6 0.1 1.7 -0.4 1.7 -0.2 1.6 -0.6 1.7 -0.1 1.6 -0.7 1.7 0.6 1.7 -0.5 1.6 0.1 1.7 -0.2 1.7 0.2 1.6 0 1.7 -0.4 1.7 -0.6 1.6 -0.4 1.7 0.1 1.7 -0.2 1.6 0.2 1.7 -0.9 1.7 -0.1 1.6 0.2 1.7 -0.3 1.6 0 1.7 -1 1.7 0 1.6 -0.1 1.7 -0.5 1.7 -0.3 1.6 0 1.7 -0.1 1.7 -0.3 1.6 -0.2 1.7 -1 1.7 -0.9V318.0z"/><path d="M554.4 352.2V349.6l1.7 -1.1 1.6 -0.6 1.7 -0.1 1.7 -0.9 1.6 -0.2 1.7 -1.2 1.7 -0.1 1.6 -0.7 1.7 -0.8 1.7 -0.3 1.6 -0.3 1.7 -0.9 1.6 -1 1.7 -0.5 1.7 -0.7 1.6 -0.4 1.7 -1 1.7 -0.8 1.6 -0.6 1.7 -1.2 1.7 -0.2 1.6 -0.5 1.7 -0.6 1.7 -1.3 1.6 -0.5 1.7 -0.9 1.7 -0.6 1.6 -0.9 1.7 -0.6 1.6 -0.3 1.7 -0.8 1.7 -0.8 1.6 0 1.7 -1.2 1.7 -0.5 1.6 -0.4 1.7 -0.2 1.7 -0.6 1.6 -0.1 1.7 -0.6 1.7 -0.2 1.6 -0.5 1.7 -0.1 1.6 -0.5 1.7 -0.4 1.7 0.4 1.6 -0.7 1.7 0.5 1.7 -0.1 1.6 -0.6 1.7 -0.1 1.7 -0.2 1.6 0.4 1.7 -0.5 1.7 -0.2 1.6 -0.4 1.7 0.2 1.7 -0.3 1.6 0.3 1.7 -0.4 1.6 -0.1 1.7 -0.4 1.7 0.2 1.6 -0.2 1.7 -0.6 1.7 -0.5 1.6 0.1 1.7 -0.2 1.7 -0.1 1.6 -0.6 1.7 -0.2 1.7 -0.6 1.6 0.1 1.7 0.1 1.7 -0.4 1.6 -0.2 1.7 -0.3 1.6 -1.1 1.7 -0.2V319.2z"/><path d="M555.3 353.4V350.5l1.6 -1.4 1.7 0 1.7 -0.2 1.6 -1 1.7 -0.4 1.6 -0.4 1.7 -0.3 1.7 -1.1 1.6 -0.7 1.7 0.1 1.7 -1.5 1.6 -0.6 1.7 -0.4 1.7 -0.9 1.6 -0.6 1.7 -0.5 1.7 -0.9 1.6 -1.2 1.7 0 1.7 -1.2 1.6 -0.7 1.7 -0.5 1.6 -0.9 1.7 -0.5 1.7 -0.9 1.6 -0.9 1.7 -0.8 1.7 -0.5 1.6 -1.5 1.7 0.1 1.7 -0.8 1.6 -0.6 1.7 -0.6 1.7 -0.9 1.6 -0.2 1.7 -0.9 1.6 -0.4 1.7 0 1.7 -0.9 1.6 0 1.7 -1.1 1.7 0.4 1.6 -0.2 1.7 0 1.7 -0.3 1.6 -0.3 1.7 -0.1 1.7 0 1.6 -0.2 1.7 -0.2 1.7 -0.5 1.6 0.7 1.7 -0.4 1.6 0.1 1.7 0 1.7 -0.1 1.6 -0.2 1.7 -0.5 1.7 0.2 1.6 -0.1 1.7 -0.4 1.7 -0.1 1.6 0 1.7 -0.3 1.7 0.1 1.6 -0.6 1.7 -0.1 1.7 0 1.6 0 1.7 -1 1.6 0.1 1.7 -1.1 1.7 0.8 1.6 -0.8 1.7 0.1 1.7 -0.5 1.6 -0.5 1.7 0.2 1.7 -0.6V320.4z"/><path d="M556.1 354.6V351.2l1.7 -0.5 1.6 -0.7 1.7 -0.6 1.7 -0.6 1.6 -0.4 1.7 -0.4 1.7 -0.4 1.6 -0.7 1.7 -0.7 1.7 -1 1.6 -0.4 1.7 -0.4 1.7 -1.2 1.6 -0.4 1.7 -0.7 1.6 -0.9 1.7 -0.9 1.7 -0.1 1.6 -1.1 1.7 -1.1 1.7 -0.7 1.6 -0.6 1.7 -0.9 1.7 -1.3 1.6 -0.3 1.7 -1.1 1.7 -0.7 1.6 -0.5 1.7 -1 1.6 -0.5 1.7 -0.6 1.7 -0.6 1.6 -1.1 1.7 -0.3 1.7 -0.6 1.6 -0.4 1.7 -1.1 1.7 -0.3 1.6 -0.3 1.7 -0.3 1.7 -0.1 1.6 -0.7 1.7 -0.2 1.7 0.1 1.6 -0.7 1.7 0 1.6 0.3 1.7 -0.2 1.7 0 1.6 -0.2 1.7 0.1 1.7 0.3 1.6 -0.7 1.7 0.2 1.7 -0.2 1.6 -0.1 1.7 0.3 1.7 -0.2 1.6 -0.1 1.7 -0.1 1.7 0.1 1.6 0 1.7 -0.3 1.6 0.1 1.7 -0.2 1.7 0.2 1.6 -0.8 1.7 0.1 1.7 -0.3 1.6 -0.4 1.7 -0.3 1.7 -0.7 1.6 0.2 1.7 0.1 1.7 -0.7 1.6 -0.1 1.7 -0.6 1.6 0 1.7 -0.3V321.6z"/><path d="M557.0 355.8V352.5l1.6 -0.5 1.7 -0.2 1.7 -0.9 1.6 -0.8 1.7 -0.9 1.7 -0.2 1.6 -0.6 1.7 -0.9 1.6 -0.7 1.7 -0.9 1.7 -0.4 1.6 -0.6 1.7 -1.1 1.7 -0.8 1.6 -0.2 1.7 -0.9 1.7 -0.4 1.6 -1.1 1.7 -0.7 1.7 -1 1.6 -0.8 1.7 -0.9 1.6 -0.8 1.7 -1 1.7 -0.8 1.6 -0.6 1.7 -0.7 1.7 -1.3 1.6 -0.8 1.7 -0.4 1.7 -0.9 1.6 -0.3 1.7 -0.7 1.7 -1 1.6 -1 1.7 -0.1 1.7 -0.6 1.6 -1 1.7 0.2 1.6 -0.9 1.7 -0.3 1.7 -0.1 1.6 -0.3 1.7 -0.6 1.7 0.6 1.6 -0.2 1.7 0 1.7 0.1 1.6 0.2 1.7 -0.6 1.7 0.4 1.6 0.4 1.7 -0.2 1.7 -0.2 1.6 0 1.7 0.5 1.6 -0.4 1.7 -0.1 1.7 0 1.6 -0.1 1.7 0.5 1.7 -1 1.6 0.3 1.7 -0.5 1.7 -0.5 1.6 0.7 1.7 0.1 1.7 -0.7 1.6 0.1 1.7 -0.2 1.6 -0.1 1.7 -1 1.7 0.4 1.6 0 1.7 -0.6 1.7 0 1.6 -0.7 1.7 -0.2 1.7 -0.1V322.8z"/><path d="M557.8 357.0V353.3l1.7 -0.2 1.6 -1 1.7 -0.7 1.7 -0.1 1.6 -0.6 1.7 -0.8 1.7 -0.9 1.6 -0.4 1.7 -0.7 1.7 -0.7 1.6 -0.8 1.7 -0.8 1.7 -0.4 1.6 -0.8 1.7 -1 1.6 -0.6 1.7 -1 1.7 -1 1.6 -0.7 1.7 -0.7 1.7 -0.9 1.6 -1.4 1.7 -0.7 1.7 -0.4 1.6 -1 1.7 -1.4 1.7 -0.8 1.6 -0.6 1.7 -1 1.7 -0.3 1.6 -1.1 1.7 -1 1.6 -0.3 1.7 -0.9 1.7 -1 1.6 -0.8 1.7 -0.3 1.7 -0.8 1.6 -0.7 1.7 -0.1 1.7 -0.2 1.6 -0.4 1.7 -0.1 1.7 -0.4 1.6 0.3 1.7 0.2 1.7 -0.5 1.6 0.7 1.7 -0.1 1.6 0.1 1.7 0.1 1.7 0.3 1.6 0 1.7 0.2 1.7 0.4 1.6 -0.2 1.7 0 1.7 0 1.6 -0.1 1.7 0.2 1.7 -0.5 1.6 -0.2 1.7 0.9 1.6 -0.6 1.7 0.1 1.7 0.3 1.6 -0.9 1.7 0.1 1.7 -0.2 1.6 -0.2 1.7 -0.6 1.7 -0.3 1.6 0 1.7 -0.4 1.7 0 1.6 -0.4 1.7 0 1.7 -0.5 1.6 -0.1V324.0z"/><path d="M558.7 358.1V354.4l1.6 -0.7 1.7 -0.4 1.7 -0.8 1.6 -1.1 1.7 0.7 1.7 -1.2 1.6 -0.5 1.7 -0.7 1.7 -0.5 1.6 -1.1 1.7 -0.6 1.6 -0.7 1.7 -0.9 1.7 -0.7 1.6 -0.4 1.7 -1.7 1.7 -0.5 1.6 -0.8 1.7 -1.2 1.7 -0.7 1.6 -0.5 1.7 -1.6 1.7 -0.4 1.6 -1.3 1.7 -1 1.6 -1.1 1.7 -0.9 1.7 -0.7 1.6 -0.8 1.7 -1 1.7 -1.2 1.6 -1 1.7 -0.8 1.7 -0.7 1.6 -1.2 1.7 -0.6 1.7 -0.8 1.6 -0.6 1.7 -0.7 1.7 -0.4 1.6 -0.4 1.7 -0.1 1.6 0.1 1.7 0.5 1.7 0.1 1.6 -0.1 1.7 0.3 1.7 -0.1 1.6 0.6 1.7 0.3 1.7 0 1.6 0.2 1.7 0.4 1.7 0 1.6 0.5 1.7 0.1 1.6 -0.5 1.7 0.7 1.7 -0.5 1.6 0.1 1.7 -0.1 1.7 0 1.6 0 1.7 0.7 1.7 -0.4 1.6 -0.2 1.7 -0.5 1.7 0.4 1.6 -0.3 1.7 -0.3 1.7 -0.6 1.6 0.5 1.7 -0.2 1.6 -0.8 1.7 0.5 1.7 -1 1.6 0 1.7 0 1.7 -0.6V325.1z"/><path d="M559.5 359.3V355.9l1.7 -0.9 1.7 -0.7 1.6 -0.9 1.7 -0.2 1.6 -0.7 1.7 -0.4 1.7 -0.9 1.6 -1 1.7 0.1 1.7 -1.4 1.6 -0.5 1.7 -1 1.7 -0.8 1.6 -1 1.7 -0.7 1.7 -0.8 1.6 -1 1.7 -0.9 1.6 -0.9 1.7 -1 1.7 -1.1 1.6 -0.9 1.7 -0.9 1.7 -0.7 1.6 -1.3 1.7 -0.6 1.7 -1.5 1.6 -0.8 1.7 -1.4 1.7 -1.4 1.6 -0.6 1.7 -1.4 1.7 -1.1 1.6 -1.1 1.7 -1.2 1.6 -1.3 1.7 -1.1 1.7 -0.7 1.6 -0.3 1.7 -0.4 1.7 -0.2 1.6 -0.1 1.7 0.5 1.7 0.4 1.6 0.3 1.7 0.7 1.7 0.5 1.6 0.5 1.7 0.7 1.6 0 1.7 0.3 1.7 0.2 1.6 0.7 1.7 0.1 1.7 -0.2 1.6 0.3 1.7 -0.1 1.7 0.6 1.6 -0.2 1.7 0.3 1.7 -0.3 1.6 0.3 1.7 -0.3 1.7 -0.2 1.6 0.1 1.7 0.5 1.6 -0.8 1.7 0 1.7 0.3 1.6 -0.2 1.7 -0.4 1.7 -0.3 1.6 0 1.7 0.1 1.7 -0.7 1.6 -0.3 1.7 -0.9 1.7 0.8 1.6 -1.4V326.3z"/><path d="M560.4 360.5V356.2l1.6 -0.2 1.7 -1 1.7 -0.1 1.6 -0.9 1.7 -0.2 1.7 -0.9 1.6 -0.4 1.7 -0.6 1.7 -1.1 1.6 -0.7 1.7 -1.1 1.6 -1 1.7 -0.5 1.7 -1 1.6 -0.9 1.7 -0.5 1.7 -1.4 1.6 -0.9 1.7 -1 1.7 -0.7 1.6 -0.9 1.7 -1.4 1.7 -1.1 1.6 -1.3 1.7 -1 1.7 -1.2 1.6 -1 1.7 -1.3 1.6 -1.1 1.7 -1.5 1.7 -1.6 1.6 -1.9 1.7 -1.5 1.7 -1.7 1.6 -2 1.7 -1.4 1.7 -1.4 1.6 -1 1.7 -0.6 1.7 -0.3 1.6 0.3 1.7 0.7 1.6 0.9 1.7 1 1.7 1 1.6 1.2 1.7 1 1.7 0.8 1.6 0.6 1.7 0.5 1.7 0.6 1.6 0.3 1.7 0.2 1.7 -0.2 1.6 0.6 1.7 1 1.7 -0.4 1.6 0.1 1.7 0 1.6 -0.2 1.7 0.2 1.7 0.8 1.6 -0.6 1.7 0.1 1.7 -0.1 1.6 -0.3 1.7 0.5 1.7 -0.6 1.6 0.6 1.7 -0.6 1.7 -0.2 1.6 -0.7 1.7 0.6 1.7 0.1 1.6 -0.9 1.7 0.1 1.6 -0.9 1.7 0.4 1.7 -0.3V327.5z"/><path d="M561.2 361.7V357.4l1.7 -0.3 1.7 -0.8 1.6 0 1.7 -1.5 1.6 -0.1 1.7 -1.1 1.7 -0.2 1.6 -0.6 1.7 -1.1 1.7 -0.9 1.6 -1.2 1.7 -0.6 1.7 -1 1.6 -0.9 1.7 -1.5 1.7 0 1.6 -1.5 1.7 -0.7 1.7 -1.1 1.6 -0.9 1.7 -1.4 1.6 -0.6 1.7 -1.2 1.7 -1.3 1.6 -1.1 1.7 -1.6 1.7 -1.4 1.6 -1.3 1.7 -2 1.7 -1.9 1.6 -2.4 1.7 -2.6 1.7 -2.9 1.6 -2.7 1.7 -2.5 1.6 -2.2 1.7 -1.9 1.7 -1 1.6 -0.6 1.7 0.2 1.7 0.8 1.6 1.2 1.7 1.7 1.7 2 1.6 2.1 1.7 1.8 1.7 1.8 1.6 1.2 1.7 1.5 1.7 0.8 1.6 0.6 1.7 0.5 1.6 0.4 1.7 0.3 1.7 0.4 1.6 0.4 1.7 0 1.7 0.4 1.6 0.1 1.7 0 1.7 -0.1 1.6 -0.1 1.7 0.6 1.7 -0.3 1.6 -0.1 1.7 0.1 1.7 0.4 1.6 0.1 1.7 -0.9 1.6 -0.1 1.7 0 1.7 0.2 1.6 -0.8 1.7 -0.2 1.7 0.2 1.6 -0.2 1.7 0.2 1.7 -1 1.6 0.4V328.7z"/><path d="M562.1 362.9V358.6l1.6 -0.6 1.7 -0.4 1.7 -1.1 1.6 -0.1 1.7 -1 1.7 -0.8 1.6 -0.6 1.7 -0.6 1.7 -1.2 1.6 -0.6 1.7 -0.7 1.7 -0.9 1.6 -1 1.7 -1.5 1.6 -0.5 1.7 -0.9 1.7 -0.8 1.6 -1.1 1.7 -0.9 1.7 -1.6 1.6 -1.1 1.7 -1 1.7 -1.1 1.6 -1.6 1.7 -1.3 1.7 -1.5 1.6 -2.1 1.7 -2.1 1.6 -2.7 1.7 -3.2 1.7 -3.6 1.6 -4 1.7 -3.8 1.7 -3.8 1.6 -3.3 1.7 -2.7 1.7 -1.9 1.6 -1.1 1.7 -0.3 1.7 0.5 1.6 1.2 1.7 1.9 1.7 2.5 1.6 2.9 1.7 3.1 1.6 3.2 1.7 2.8 1.7 2.5 1.6 2 1.7 1.1 1.7 1.6 1.6 0.4 1.7 0.3 1.7 0.5 1.6 0.1 1.7 0.4 1.7 0.7 1.6 0 1.7 0.4 1.7 -0.3 1.6 0 1.7 0.5 1.6 -0.1 1.7 0.3 1.7 0.3 1.6 -0.2 1.7 0.2 1.7 -0.3 1.6 -0.2 1.7 -0.2 1.7 -0.3 1.6 0.3 1.7 -0.3 1.7 -0.2 1.6 -0.3 1.7 0.8 1.6 -0.9 1.7 -0.6 1.7 0.2V329.9z"/><path d="M562.9 364.1V359.8l1.7 -0.8 1.7 0.2 1.6 -1.2 1.7 -0.8 1.7 -0.6 1.6 -0.4 1.7 -1.2 1.6 -0.6 1.7 -1.2 1.7 -0.8 1.6 -0.6 1.7 -1.1 1.7 -0.8 1.6 -1 1.7 -0.8 1.7 -1.3 1.6 -1.3 1.7 -1 1.7 -1.1 1.6 -1.1 1.7 -1.2 1.6 -1.6 1.7 -1 1.7 -2.1 1.6 -1.4 1.7 -2.3 1.7 -2.5 1.6 -3.1 1.7 -4.2 1.7 -4.6 1.6 -5.1 1.7 -5.2 1.7 -4.7 1.6 -4.2 1.7 -3.5 1.7 -2.5 1.6 -1.8 1.7 -0.8 1.6 0.1 1.7 0.8 1.7 1.7 1.6 2.2 1.7 3 1.7 3.3 1.6 3.7 1.7 4 1.7 3.9 1.6 3.7 1.7 3.1 1.7 2.3 1.6 1.9 1.7 1 1.7 1.1 1.6 -0.2 1.7 0.4 1.6 0.7 1.7 0.4 1.7 0.5 1.6 0.1 1.7 -0.1 1.7 0.2 1.6 0.5 1.7 -0.1 1.7 0.1 1.6 -0.2 1.7 0 1.7 0.2 1.6 -0.1 1.7 0 1.6 0.5 1.7 -0.7 1.7 0 1.6 -0.4 1.7 0.6 1.7 -0.9 1.6 0.2 1.7 -0.5 1.7 -0.5 1.6 0.5V331.1z"/><path d="M563.8 365.2V361.4l1.6 -1.3 1.7 -0.1 1.7 -0.7 1.6 -1.2 1.7 -0.5 1.7 -1 1.6 -0.7 1.7 -0.7 1.7 -1.1 1.6 -1.2 1.7 -0.4 1.7 -1.3 1.6 -0.9 1.7 -0.8 1.7 -1.1 1.6 -0.8 1.7 -1.2 1.6 -1.4 1.7 -1.1 1.7 -1.6 1.6 -0.8 1.7 -1.7 1.7 -1.5 1.6 -1.9 1.7 -2.5 1.7 -2.6 1.6 -4.1 1.7 -4.7 1.7 -5.7 1.6 -6.2 1.7 -6 1.6 -5.7 1.7 -4.9 1.7 -4 1.6 -3 1.7 -2 1.7 -1.1 1.6 -0.2 1.7 0.5 1.7 1.4 1.6 1.7 1.7 2.4 1.7 2.9 1.6 3.2 1.7 3.6 1.7 4.3 1.6 4.4 1.7 4.4 1.6 4.2 1.7 3.6 1.7 2.6 1.6 2 1.7 1.1 1.7 0.3 1.6 1.1 1.7 0.2 1.7 0.2 1.6 0.5 1.7 -0.2 1.7 0.5 1.6 0.1 1.7 0.9 1.6 -0.7 1.7 0.2 1.7 0.5 1.6 -0.4 1.7 0.3 1.7 -0.2 1.6 -0.2 1.7 0.4 1.7 0.2 1.6 -0.3 1.7 0.2 1.7 -0.3 1.6 -0.1 1.7 -0.2 1.7 -0.8 1.6 -0.1 1.7 0.3V332.2z"/><path d="M564.6 366.4V361.7l1.7 0.2 1.7 -1 1.6 -0.8 1.7 -1.1 1.7 -0.7 1.6 -0.7 1.7 -1 1.7 -0.7 1.6 -1 1.7 -0.4 1.6 -0.8 1.7 -1.3 1.7 -1.3 1.6 -0.9 1.7 -1.3 1.7 -1.1 1.6 -1.1 1.7 -1.3 1.7 -1 1.6 -1.7 1.7 -1.1 1.7 -1.8 1.6 -1.7 1.7 -2.7 1.6 -2.8 1.7 -4.4 1.7 -5.3 1.6 -6.5 1.7 -7 1.7 -6.9 1.6 -6.5 1.7 -5.3 1.7 -4.5 1.6 -3.2 1.7 -2.2 1.7 -1.2 1.6 -0.5 1.7 0.4 1.7 1.2 1.6 1.7 1.7 2.2 1.6 2.2 1.7 2.7 1.7 3 1.6 3 1.7 3.7 1.7 3.9 1.6 4.5 1.7 4.9 1.7 4.6 1.6 3.9 1.7 3 1.7 1.5 1.6 1.4 1.7 0.6 1.6 0.5 1.7 0.3 1.7 0.1 1.6 0.1 1.7 0.6 1.7 0.3 1.6 0.5 1.7 0.2 1.7 0.2 1.6 -0.4 1.7 0.3 1.7 -0.1 1.6 0.2 1.7 0.2 1.7 0.2 1.6 -0.3 1.7 0.2 1.6 -1 1.7 0.4 1.7 0 1.6 -0.8 1.7 0.4 1.7 -0.4 1.6 0V333.4z"/><path d="M565.5 367.6V363.0l1.7 -0.5 1.6 -0.9 1.7 -1 1.6 0 1.7 -0.5 1.7 -1.8 1.6 -0.5 1.7 -1 1.7 -0.6 1.6 -1.4 1.7 -1.1 1.7 -0.3 1.6 -1.5 1.7 -0.8 1.7 -0.9 1.6 -1.5 1.7 -1.4 1.6 -1 1.7 -1.4 1.7 -1.9 1.6 -1.5 1.7 -2 1.7 -2.1 1.6 -3.2 1.7 -4.3 1.7 -5.6 1.6 -6.9 1.7 -7.8 1.7 -7.6 1.6 -6.9 1.7 -5.9 1.7 -4.8 1.6 -3.6 1.7 -2.4 1.6 -1.5 1.7 -0.6 1.7 0.3 1.6 1.1 1.7 1.6 1.7 2.1 1.6 2.4 1.7 2.5 1.7 2.5 1.6 2.5 1.7 2.4 1.7 2.8 1.6 3.2 1.7 4 1.6 4.5 1.7 5.2 1.7 4.8 1.6 4 1.7 2.6 1.7 2 1.6 0.8 1.7 0.7 1.7 0.4 1.6 0.2 1.7 0.2 1.7 0.5 1.6 0.5 1.7 0.7 1.7 -0.6 1.6 0.6 1.7 0.5 1.6 -0.3 1.7 -0.3 1.7 0.5 1.6 0.3 1.7 -0.9 1.7 0.4 1.6 0.1 1.7 -0.3 1.7 0.8 1.6 -0.7 1.7 -0.1 1.7 -0.9 1.6 0.6 1.7 -0.2V334.6z"/><path d="M566.3 368.8V364.5l1.7 -0.8 1.7 -0.9 1.6 -0.8 1.7 -0.7 1.7 -1.3 1.6 -0.5 1.7 -0.9 1.7 -1 1.6 -0.8 1.7 -0.7 1.6 -0.7 1.7 -1.5 1.7 -0.9 1.6 -1.6 1.7 -0.7 1.7 -1 1.6 -1.8 1.7 -1.5 1.7 -1.3 1.6 -1.7 1.7 -1.9 1.7 -2.5 1.6 -2.7 1.7 -4 1.7 -5.5 1.6 -7.1 1.7 -8.3 1.6 -8.2 1.7 -7.5 1.7 -6.4 1.6 -5.1 1.7 -3.8 1.7 -2.9 1.6 -1.8 1.7 -0.8 1.7 0.1 1.6 0.8 1.7 1.6 1.7 2.2 1.6 2.4 1.7 2.5 1.6 2.6 1.7 2.3 1.7 2.2 1.6 1.9 1.7 2.2 1.7 2.3 1.6 2.9 1.7 3.9 1.7 4.8 1.6 5.3 1.7 4.8 1.7 4.1 1.6 2.4 1.7 1.5 1.7 1.1 1.6 0.2 1.7 0.6 1.6 0.2 1.7 0.2 1.7 0.5 1.6 0.6 1.7 -0.1 1.7 0.7 1.6 0 1.7 -0.4 1.7 0.5 1.6 -0.3 1.7 0.5 1.7 0 1.6 0.3 1.7 -0.5 1.7 0.2 1.6 -0.3 1.7 0 1.6 -0.2 1.7 -0.1 1.7 -0.1 1.6 -0.2V335.8z"/><path d="M567.2 370.0V365.4l1.7 -0.3 1.6 -1.4 1.7 -1.2 1.6 -0.5 1.7 -1.2 1.7 -0.3 1.6 -0.5 1.7 -0.9 1.7 -1.4 1.6 -0.9 1.7 -0.9 1.7 -1.3 1.6 -0.8 1.7 -1.5 1.7 -1.1 1.6 -1.4 1.7 -1.5 1.7 -1.3 1.6 -1.9 1.7 -1.8 1.6 -1.8 1.7 -3.1 1.7 -3.2 1.6 -5.2 1.7 -6.9 1.7 -8.1 1.6 -8.9 1.7 -8.1 1.7 -6.9 1.6 -5.5 1.7 -4.2 1.7 -3.2 1.6 -2.2 1.7 -1.1 1.6 -0.2 1.7 0.6 1.7 1.3 1.6 2 1.7 2.5 1.7 2.5 1.6 2.5 1.7 2.4 1.7 2.2 1.6 1.8 1.7 1.7 1.7 1.5 1.6 1.6 1.7 2.2 1.7 2.9 1.6 4 1.7 5.2 1.6 5.6 1.7 4.7 1.7 3.3 1.6 2 1.7 1.4 1.7 0.6 1.6 0.9 1.7 0.3 1.7 0.1 1.6 0.7 1.7 0.2 1.7 0.7 1.6 -0.5 1.7 0.6 1.7 0 1.6 0.7 1.7 0.1 1.6 -0.7 1.7 0.6 1.7 0.1 1.6 -0.3 1.7 0 1.7 0.6 1.6 -0.4 1.7 -0.4 1.7 -0.1 1.6 -0.2 1.7 0V337.0z"/><path d="M568.0 371.2V366.3l1.7 -0.8 1.7 -0.5 1.6 -0.7 1.7 -0.9 1.7 -1 1.6 -0.8 1.7 -0.8 1.7 -1 1.6 -1 1.7 -1.2 1.7 -1 1.6 -0.8 1.7 -1.6 1.6 -0.7 1.7 -1.8 1.7 -1.1 1.6 -1.7 1.7 -1.6 1.7 -1.3 1.6 -2.4 1.7 -2.4 1.7 -3 1.6 -4.5 1.7 -6.1 1.7 -7.9 1.6 -8.8 1.7 -8.9 1.6 -7.5 1.7 -6.1 1.7 -4.5 1.6 -3.6 1.7 -2.4 1.7 -1.5 1.6 -0.6 1.7 0.3 1.7 1.1 1.6 1.6 1.7 2.2 1.7 2.4 1.6 2.4 1.7 2.3 1.7 2.1 1.6 1.9 1.7 1.7 1.6 1.3 1.7 1.2 1.7 1.2 1.6 1.3 1.7 2.2 1.7 3.4 1.6 4.6 1.7 5.6 1.7 5.5 1.6 4.5 1.7 2.8 1.7 1.4 1.6 0.8 1.7 0.8 1.7 0.3 1.6 0.6 1.7 0.4 1.6 0.1 1.7 0.5 1.7 0.2 1.6 0.1 1.7 0.2 1.7 0.6 1.6 0 1.7 0.4 1.7 0.1 1.6 -0.3 1.7 0.2 1.7 0.4 1.6 -0.7 1.7 0.3 1.6 -0.2 1.7 -0.3 1.7 -0.2 1.6 0V338.2z"/><path d="M568.9 372.3V367.8l1.7 -1.4 1.6 -0.4 1.7 -0.5 1.7 -0.7 1.6 -1.7 1.7 -0.6 1.6 -0.9 1.7 -1.1 1.7 -0.8 1.6 -0.8 1.7 -1.5 1.7 -1.3 1.6 -1.1 1.7 -1.4 1.7 -1.4 1.6 -0.9 1.7 -1.6 1.7 -1.9 1.6 -1.8 1.7 -2.2 1.7 -2.7 1.6 -3.6 1.7 -5 1.6 -7 1.7 -8.5 1.7 -9.1 1.6 -8.3 1.7 -6.7 1.7 -5.2 1.6 -3.8 1.7 -2.8 1.7 -1.8 1.6 -0.9 1.7 -0.1 1.7 0.7 1.6 1.3 1.7 1.7 1.6 2.1 1.7 2.1 1.7 2.1 1.6 2 1.7 1.8 1.7 1.6 1.6 1.2 1.7 1.1 1.7 0.9 1.6 0.9 1.7 1.1 1.7 1.5 1.6 2.6 1.7 4.1 1.7 5.4 1.6 5.8 1.7 5 1.6 3.4 1.7 2.1 1.7 1.2 1.6 0.9 1.7 0.8 1.7 0.1 1.6 0 1.7 0.6 1.7 0.9 1.6 -0.1 1.7 0.1 1.7 0.8 1.6 -0.3 1.7 0.5 1.6 -0.3 1.7 0.3 1.7 -0.6 1.6 1.1 1.7 -0.4 1.7 0.5 1.6 -0.7 1.7 0.2 1.7 -0.4 1.6 0.1 1.7 0.2V339.3z"/><path d="M569.7 373.5V368.5l1.7 -0.5 1.7 -0.9 1.6 -1.1 1.7 -1 1.7 -0.8 1.6 -0.8 1.7 -0.7 1.7 -1.3 1.6 -0.7 1.7 -1.3 1.7 -1.2 1.6 -1 1.7 -1.2 1.7 -1.3 1.6 -1.6 1.7 -1.3 1.6 -1.4 1.7 -2 1.7 -1.9 1.6 -2.6 1.7 -2.7 1.7 -3.9 1.6 -5.7 1.7 -7.6 1.7 -8.8 1.6 -8.9 1.7 -7.7 1.7 -5.8 1.6 -4.3 1.7 -3 1.6 -2.2 1.7 -1.2 1.7 -0.5 1.6 0.3 1.7 0.9 1.7 1.3 1.6 1.6 1.7 1.8 1.7 1.7 1.6 1.8 1.7 1.4 1.7 1.4 1.6 1.2 1.7 1 1.7 0.7 1.6 0.8 1.7 0.7 1.6 0.8 1.7 1.1 1.7 2.1 1.6 3.6 1.7 5.2 1.7 6 1.6 5.4 1.7 4.3 1.7 2.1 1.6 1.5 1.7 0.8 1.7 0.6 1.6 0.4 1.7 0.5 1.6 0.1 1.7 0.5 1.7 0.3 1.6 0.6 1.7 0.4 1.7 -0.2 1.6 0.7 1.7 0.1 1.7 -0.2 1.6 0 1.7 0.7 1.7 -0.2 1.6 -0.1 1.7 0.1 1.7 0.1 1.6 -0.5 1.7 0.2 1.6 -0.2V340.5z"/><path d="M570.6 374.7V370.0l1.7 -1.3 1.6 -0.3 1.7 -1.5 1.7 -0.8 1.6 -0.6 1.7 -1.1 1.7 -0.9 1.6 -1 1.7 -1.1 1.6 -1 1.7 -1.1 1.7 -1.1 1.6 -1.8 1.7 -1 1.7 -1.4 1.6 -1.7 1.7 -1.5 1.7 -1.8 1.6 -2.2 1.7 -2.5 1.7 -3 1.6 -4 1.7 -6 1.6 -7.8 1.7 -8.9 1.7 -8.5 1.6 -6.9 1.7 -5 1.7 -3.5 1.6 -2.3 1.7 -1.6 1.7 -0.9 1.6 -0.2 1.7 0.3 1.7 0.9 1.6 1.1 1.7 1.3 1.7 1.5 1.6 1.2 1.7 1.3 1.6 1 1.7 0.9 1.7 0.7 1.6 0.8 1.7 0.6 1.7 0.6 1.6 0.5 1.7 0.8 1.7 0.9 1.6 1.9 1.7 3.2 1.7 4.7 1.6 6.1 1.7 5.8 1.6 4.4 1.7 2.8 1.7 1.6 1.6 0.9 1.7 0.4 1.7 0.7 1.6 0.4 1.7 0.3 1.7 0.6 1.6 0.6 1.7 0 1.7 0.2 1.6 0.4 1.7 0.7 1.7 -0.3 1.6 -0.1 1.7 0.9 1.6 0.4 1.7 -0.5 1.7 -0.1 1.6 -0.1 1.7 -0.1 1.7 0.2 1.6 -0.2 1.7 -0.1V341.7z"/><path d="M571.5 375.9V370.4l1.6 -0.7 1.7 -0.7 1.6 -1.1 1.7 -0.7 1.7 -0.7 1.6 -1.3 1.7 -0.6 1.7 -1.1 1.6 -1.2 1.7 -0.6 1.7 -1.6 1.6 -1.4 1.7 -1.3 1.7 -1 1.6 -1.5 1.7 -1.6 1.6 -1.8 1.7 -1.9 1.7 -1.9 1.6 -2.7 1.7 -3.1 1.7 -4.2 1.6 -6 1.7 -7.8 1.7 -8.6 1.6 -8.1 1.7 -6.2 1.7 -4.4 1.6 -2.8 1.7 -2 1.7 -1.1 1.6 -0.5 1.7 -0.2 1.6 0.4 1.7 0.7 1.7 0.7 1.6 0.9 1.7 0.8 1.7 0.9 1.6 0.7 1.7 0.5 1.7 0.5 1.6 0.4 1.7 0.5 1.7 0.5 1.6 0.5 1.7 0.7 1.6 0.5 1.7 1 1.7 1.8 1.6 2.9 1.7 4.8 1.7 5.9 1.6 5.9 1.7 4.9 1.7 3 1.6 1.5 1.7 1.2 1.7 0.2 1.6 0.6 1.7 0.4 1.7 0.9 1.6 0.1 1.7 0.4 1.6 0.8 1.7 -0.2 1.7 0.8 1.6 -0.1 1.7 0.6 1.7 -0.3 1.6 0 1.7 0.5 1.7 0.1 1.6 -0.3 1.7 0.5 1.7 -0.1 1.6 -0.2 1.7 0 1.7 -0.4V342.9z"/><path d="M572.3 377.1V371.2l1.7 -1 1.6 -0.2 1.7 -1.2 1.7 -0.4 1.6 -1.3 1.7 -1.1 1.7 -1.2 1.6 -0.2 1.7 -1.3 1.6 -1.3 1.7 -0.9 1.7 -1.5 1.6 -1.3 1.7 -1.3 1.7 -1.4 1.6 -1.6 1.7 -1.9 1.7 -2 1.6 -1.9 1.7 -2.7 1.7 -2.6 1.6 -4.2 1.7 -5.9 1.7 -7.5 1.6 -8.4 1.7 -7.6 1.6 -5.7 1.7 -3.9 1.7 -2.5 1.6 -1.5 1.7 -0.9 1.7 -0.5 1.6 -0.1 1.7 0.2 1.7 0.3 1.6 0.4 1.7 0.4 1.7 0.3 1.6 0.3 1.7 0.2 1.6 0.1 1.7 0.2 1.7 0.1 1.6 0.3 1.7 0.5 1.7 0.5 1.6 0.4 1.7 1 1.7 0.9 1.6 1.7 1.7 3 1.7 4.7 1.6 6 1.7 5.9 1.7 4.9 1.6 3.1 1.7 1.5 1.6 1 1.7 0.8 1.7 0.5 1.6 0.7 1.7 0.1 1.7 0.8 1.6 0.7 1.7 -0.2 1.7 0.4 1.6 0.4 1.7 0.5 1.7 -0.1 1.6 0.7 1.7 0.5 1.7 -0.4 1.6 0 1.7 0.1 1.6 -0.3 1.7 0.3 1.7 0.3 1.6 -0.1 1.7 -0.3V344.1z"/><path d="M573.2 378.3V372.6l1.6 -0.8 1.7 -0.4 1.6 -1.2 1.7 -0.6 1.7 -1.3 1.6 -1 1.7 -1.1 1.7 -1.3 1.6 -0.7 1.7 -1.5 1.7 -0.6 1.6 -1.6 1.7 -1.5 1.7 -1.6 1.6 -0.9 1.7 -1.8 1.7 -1.7 1.6 -1.9 1.7 -1.9 1.6 -2.2 1.7 -2.9 1.7 -4 1.6 -5.4 1.7 -7.3 1.7 -7.9 1.6 -7.2 1.7 -5.5 1.7 -3.8 1.6 -2.2 1.7 -1.3 1.7 -0.8 1.6 -0.5 1.7 -0.4 1.6 0 1.7 0 1.7 0 1.6 -0.1 1.7 -0.1 1.7 -0.2 1.6 -0.3 1.7 -0.2 1.7 -0.2 1.6 -0.1 1.7 0.2 1.7 0.3 1.6 0.6 1.7 0.6 1.7 1 1.6 1.1 1.7 1.9 1.6 3.2 1.7 4.9 1.7 6 1.6 6 1.7 4.7 1.7 2.8 1.6 1.7 1.7 0.8 1.7 1 1.6 0.7 1.7 0.5 1.7 0.1 1.6 0.5 1.7 0.9 1.7 -0.1 1.6 0.7 1.7 0.5 1.6 0.1 1.7 0.2 1.7 0.4 1.6 0.2 1.7 0.3 1.7 0.3 1.6 -0.1 1.7 0.4 1.7 -0.5 1.6 0.4 1.7 -0.6 1.7 0.7V345.3z"/><path d="M574.0 379.4V373.3l1.7 -0.2 1.6 -0.8 1.7 -1.2 1.7 -1 1.6 -0.8 1.7 -0.9 1.7 -1.5 1.6 -0.8 1.7 -0.7 1.7 -1.4 1.6 -1.6 1.7 -1 1.6 -1.5 1.7 -1.6 1.7 -1 1.6 -1.8 1.7 -1.5 1.7 -1.9 1.6 -2 1.7 -2 1.7 -2.7 1.6 -3.6 1.7 -4.9 1.7 -6.6 1.6 -7.5 1.7 -7.2 1.7 -5.4 1.6 -3.7 1.7 -2.3 1.6 -1.2 1.7 -1 1.7 -0.6 1.6 -0.3 1.7 -0.5 1.7 -0.3 1.6 -0.4 1.7 -0.4 1.7 -0.6 1.6 -0.7 1.7 -0.7 1.7 -0.6 1.6 -0.4 1.7 -0.3 1.6 0 1.7 0.5 1.7 0.6 1.6 0.8 1.7 1.1 1.7 1.5 1.6 2.1 1.7 3.6 1.7 5.1 1.6 6.1 1.7 5.8 1.7 4.4 1.6 2.8 1.7 1.3 1.7 1.1 1.6 0.4 1.7 0.8 1.6 0.4 1.7 0.5 1.7 0.7 1.6 0.3 1.7 0.6 1.7 0.5 1.6 0.4 1.7 0.2 1.7 0 1.6 0.8 1.7 0 1.7 0.5 1.6 0 1.7 0.5 1.6 0 1.7 -0.1 1.7 0.2 1.6 -0.1 1.7 -0.4V346.4z"/><path d="M574.9 380.6V374.7l1.6 -0.6 1.7 -0.7 1.7 -1.1 1.6 -1.3 1.7 -0.6 1.6 -1 1.7 -1.3 1.7 -1.1 1.6 -1.1 1.7 -0.9 1.7 -1.2 1.6 -1.1 1.7 -1.6 1.7 -1.5 1.6 -1.7 1.7 -1.5 1.7 -1.5 1.6 -1.9 1.7 -1.6 1.7 -2.1 1.6 -2.3 1.7 -3.1 1.6 -4.4 1.7 -5.9 1.7 -7.1 1.6 -7.1 1.7 -5.6 1.7 -3.9 1.6 -2.5 1.7 -1.6 1.7 -1 1.6 -0.7 1.7 -0.7 1.7 -0.6 1.6 -0.7 1.7 -0.6 1.6 -0.7 1.7 -1 1.7 -0.9 1.6 -1.1 1.7 -0.9 1.7 -0.7 1.6 -0.4 1.7 0.1 1.7 0.3 1.6 0.8 1.7 0.9 1.7 1.4 1.6 1.7 1.7 2.7 1.7 4.1 1.6 5.5 1.7 6.1 1.6 5.4 1.7 3.9 1.7 2.4 1.6 1.3 1.7 0.8 1.7 0.9 1.6 0.3 1.7 0.5 1.7 0.6 1.6 0.6 1.7 0.5 1.7 0.8 1.6 0.3 1.7 0.1 1.6 0.3 1.7 0.6 1.7 0.5 1.6 0.2 1.7 0 1.7 0 1.6 0.4 1.7 0.5 1.7 -0.2 1.6 0.1 1.7 -0.5 1.7 0.5V347.6z"/><path d="M575.7 381.8V375.7l1.7 -0.7 1.6 -0.6 1.7 -0.9 1.7 -1.1 1.6 -0.9 1.7 -1.2 1.7 -1.1 1.6 -1.2 1.7 -1.3 1.7 -0.9 1.6 -1.2 1.7 -1 1.7 -1.8 1.6 -1.5 1.7 -1.2 1.6 -1.6 1.7 -1.6 1.7 -1.9 1.6 -1.7 1.7 -2 1.7 -1.8 1.6 -3 1.7 -3.5 1.7 -5.1 1.6 -6.6 1.7 -6.8 1.7 -6 1.6 -4.4 1.7 -2.9 1.6 -1.9 1.7 -1.2 1.7 -0.9 1.6 -0.9 1.7 -0.8 1.7 -0.9 1.6 -1 1.7 -1 1.7 -1.1 1.6 -1.2 1.7 -1.2 1.7 -1.1 1.6 -0.8 1.7 -0.5 1.7 -0.1 1.6 0.6 1.7 0.7 1.6 1.2 1.7 1.6 1.7 2.2 1.6 3.2 1.7 4.7 1.7 5.8 1.6 5.8 1.7 4.9 1.7 3.3 1.6 2.2 1.7 1.1 1.7 0.8 1.6 0.5 1.7 0.7 1.6 0.6 1.7 0.7 1.7 0.5 1.6 0.5 1.7 0.2 1.7 0.9 1.6 0.7 1.7 -0.1 1.7 0.5 1.6 0.2 1.7 0.3 1.7 0.4 1.6 0.3 1.7 0.3 1.7 0 1.6 0.3 1.7 -0.1 1.6 -0.3 1.7 0.6V348.8z"/><path d="M576.6 383.0V377.0l1.6 -0.8 1.7 -1.2 1.7 -0.9 1.6 -1.1 1.7 -0.8 1.7 -0.9 1.6 -1.1 1.7 -0.8 1.6 -1.5 1.7 -1.2 1.7 -1.6 1.6 -1.2 1.7 -0.9 1.7 -1.5 1.6 -1.7 1.7 -1.1 1.7 -1.8 1.6 -1.8 1.7 -1.8 1.7 -1.7 1.6 -2.1 1.7 -2.3 1.6 -3.2 1.7 -4.4 1.7 -5.7 1.6 -6.5 1.7 -6.1 1.7 -4.9 1.6 -3.4 1.7 -2.4 1.7 -1.5 1.6 -1.2 1.7 -1 1.7 -1 1.6 -1.1 1.7 -1.1 1.7 -1.2 1.6 -1.3 1.7 -1.3 1.6 -1.3 1.7 -1.2 1.7 -0.9 1.6 -0.6 1.7 0 1.7 0.5 1.6 0.8 1.7 1.3 1.7 2 1.6 2.7 1.7 4.1 1.7 5.1 1.6 5.8 1.7 5.4 1.6 4.1 1.7 2.6 1.7 1.8 1.6 0.8 1.7 0.7 1.7 0.8 1.6 0.5 1.7 1 1.7 0.4 1.6 0.6 1.7 0.6 1.7 0.3 1.6 0.7 1.7 0.6 1.7 0.2 1.6 0.4 1.7 0.6 1.6 0.2 1.7 0.3 1.7 0.3 1.6 0.6 1.7 -0.4 1.7 0.3 1.6 0.3 1.7 0 1.7 0.1V350.0z"/><path d="M577.4 384.2V378.0l1.7 -0.8 1.6 -1 1.7 -0.8 1.7 -0.9 1.6 -0.9 1.7 -1.2 1.7 -1.4 1.6 -0.9 1.7 -1.2 1.7 -1.1 1.6 -1.3 1.7 -1.1 1.7 -1.9 1.6 -1 1.7 -1.4 1.6 -1.8 1.7 -1.6 1.7 -1.6 1.6 -1.8 1.7 -2 1.7 -2.4 1.6 -2.3 1.7 -3 1.7 -3.9 1.6 -4.8 1.7 -5.7 1.7 -5.8 1.6 -5.1 1.7 -3.9 1.7 -2.6 1.6 -2 1.7 -1.3 1.6 -1.3 1.7 -1.1 1.7 -1.2 1.6 -1.2 1.7 -1.3 1.7 -1.5 1.6 -1.3 1.7 -1.4 1.7 -1.2 1.6 -0.9 1.7 -0.5 1.7 -0.2 1.6 0.7 1.7 1 1.6 1.6 1.7 2.5 1.7 3.4 1.6 4.5 1.7 5.3 1.7 5.2 1.6 4.5 1.7 3 1.7 2 1.6 1.4 1.7 0.8 1.7 0.8 1.6 1 1.7 0.8 1.7 0.7 1.6 0.8 1.7 0.9 1.6 0.3 1.7 0.9 1.7 0.2 1.6 1 1.7 0.7 1.7 0 1.6 0.2 1.7 0.5 1.7 0.4 1.6 0.6 1.7 -0.2 1.7 0.9 1.6 -0.4 1.7 0.6 1.7 0 1.6 0.2V351.2z"/><path d="M578.3 385.4V379.2l1.6 -1.4 1.7 -0.2 1.7 -1.3 1.6 -0.7 1.7 -1.4 1.7 -0.5 1.6 -1.4 1.7 -1.4 1.6 -1.4 1.7 -0.5 1.7 -1.4 1.6 -1.5 1.7 -1.6 1.7 -1 1.6 -1.8 1.7 -1.4 1.7 -1.8 1.6 -1.9 1.7 -2.5 1.7 -2.5 1.6 -2.6 1.7 -2.8 1.7 -3.1 1.6 -3.6 1.7 -4 1.6 -4.6 1.7 -5 1.7 -4.4 1.6 -3.8 1.7 -3.1 1.7 -2 1.6 -1.7 1.7 -1.4 1.7 -1.2 1.6 -1.4 1.7 -1.2 1.7 -1.5 1.6 -1.5 1.7 -1.5 1.6 -1.3 1.7 -1.1 1.7 -0.8 1.6 -0.4 1.7 0.2 1.7 0.5 1.6 1.4 1.7 1.9 1.7 2.9 1.6 3.6 1.7 4.6 1.7 4.6 1.6 4.3 1.7 3 1.7 2.2 1.6 1.3 1.7 1 1.6 1.1 1.7 1.1 1.7 1 1.6 1.2 1.7 1.2 1.7 1.2 1.6 1.2 1.7 0.6 1.7 1.1 1.6 0.3 1.7 0.9 1.7 0.5 1.6 0.5 1.7 0.3 1.7 0.6 1.6 0.2 1.7 0.5 1.6 0.1 1.7 0.3 1.7 0.2 1.6 0.5 1.7 -0.1 1.7 0.1V352.4z"/><path d="M579.1 386.5V379.9l1.7 -0.7 1.6 -0.6 1.7 -1.4 1.7 -0.6 1.6 -1.2 1.7 -0.5 1.7 -1.7 1.6 -1.2 1.7 -0.9 1.7 -1.5 1.6 -1.1 1.7 -1.7 1.7 -1.2 1.6 -1.2 1.7 -1.8 1.7 -1.7 1.6 -2.4 1.7 -2.8 1.6 -3 1.7 -3.2 1.7 -3.4 1.6 -3.4 1.7 -3.2 1.7 -3.3 1.6 -3.3 1.7 -3.4 1.7 -3.7 1.6 -3.4 1.7 -3.1 1.7 -2.7 1.6 -2.3 1.7 -1.8 1.7 -1.7 1.6 -1.4 1.7 -1.5 1.6 -1.4 1.7 -1.6 1.7 -1.4 1.6 -1.6 1.7 -1.3 1.7 -1 1.6 -0.5 1.7 -0.1 1.7 0.4 1.6 0.8 1.7 1.5 1.7 2.2 1.6 2.9 1.7 3.5 1.6 3.6 1.7 3.2 1.7 2.5 1.6 1.7 1.7 1.1 1.7 1 1.6 0.9 1.7 1.3 1.7 1.4 1.6 1.7 1.7 1.8 1.7 1.9 1.6 1.7 1.7 1.7 1.7 1.4 1.6 1 1.7 1.1 1.6 1 1.7 0.5 1.7 0.8 1.6 0.1 1.7 0.9 1.7 0 1.6 0.6 1.7 0.3 1.7 0.5 1.6 0.1 1.7 0.3 1.7 0.2 1.6 -0.2V353.5z"/><path d="M580.0 387.7V380.5l1.6 -0.1 1.7 -1.3 1.7 -0.6 1.6 -0.8 1.7 -1.6 1.7 -0.8 1.6 -1.3 1.7 -0.9 1.7 -1.2 1.6 -1 1.7 -1.5 1.6 -1.7 1.7 -0.7 1.7 -2.2 1.6 -2.1 1.7 -2.4 1.7 -3 1.6 -3.5 1.7 -4 1.7 -4 1.6 -3.8 1.7 -3.6 1.7 -3 1.6 -2.7 1.7 -2.7 1.7 -2.5 1.6 -2.4 1.7 -2.4 1.6 -2.4 1.7 -2.1 1.7 -2.1 1.6 -1.8 1.7 -1.9 1.7 -1.6 1.6 -1.7 1.7 -1.6 1.7 -1.7 1.6 -1.5 1.7 -1.5 1.7 -1.1 1.6 -0.7 1.7 -0.2 1.6 0.2 1.7 0.6 1.7 1 1.6 1.5 1.7 2 1.7 2.1 1.6 2.1 1.7 2 1.7 1.3 1.6 0.9 1.7 0.6 1.7 0.5 1.6 0.6 1.7 1.1 1.7 1.5 1.6 1.9 1.7 2.1 1.6 2.4 1.7 2.5 1.7 2.7 1.6 2.4 1.7 2.2 1.7 2.2 1.6 1.5 1.7 1.4 1.7 0.9 1.6 1 1.7 0.7 1.7 0.2 1.6 0.7 1.7 0.2 1.6 0.4 1.7 0.1 1.7 0.4 1.6 0.3 1.7 0.5 1.7 0.2V354.7z"/><path d="M580.8 388.9V382.4l1.7 -1.2 1.7 -0.9 1.6 -0.9 1.7 -0.8 1.6 -0.8 1.7 -1.6 1.7 -0.9 1.6 -1.2 1.7 -0.9 1.7 -1.4 1.6 -1.5 1.7 -1.5 1.7 -1.3 1.6 -2.3 1.7 -2.4 1.7 -3.7 1.6 -4 1.7 -4.5 1.7 -4.4 1.6 -4.1 1.7 -3.7 1.6 -3.1 1.7 -2.7 1.7 -2.3 1.6 -2 1.7 -1.8 1.7 -1.7 1.6 -1.8 1.7 -1.7 1.7 -1.8 1.6 -1.7 1.7 -1.7 1.7 -1.8 1.6 -1.7 1.7 -1.9 1.6 -1.8 1.7 -1.6 1.7 -1.5 1.6 -1.1 1.7 -0.8 1.7 -0.4 1.6 0.1 1.7 0.4 1.7 0.6 1.6 0.8 1.7 0.9 1.7 0.7 1.6 0.7 1.7 0.4 1.7 0.2 1.6 -0.1 1.7 -0.3 1.6 0 1.7 0.2 1.7 0.8 1.6 1.2 1.7 1.8 1.7 2 1.6 2.3 1.7 2.7 1.7 2.9 1.6 3.1 1.7 3.2 1.7 3.3 1.6 2.9 1.7 2.8 1.6 2 1.7 1.8 1.7 1.3 1.6 0.7 1.7 0.6 1.7 0.5 1.6 0.5 1.7 0.5 1.7 0.2 1.6 0.2 1.7 0.5 1.7 0 1.6 0.6V355.9z"/><path d="M581.7 390.1V383.1l1.6 -0.7 1.7 -0.7 1.7 -1 1.6 -0.7 1.7 -1.4 1.7 -1 1.6 -0.9 1.7 -1.4 1.7 -1.4 1.6 -1.2 1.7 -1.4 1.7 -1.4 1.6 -2.3 1.7 -2.5 1.6 -3.7 1.7 -4.4 1.7 -4.6 1.6 -5 1.7 -4.4 1.7 -3.7 1.6 -3.2 1.7 -2.4 1.7 -2.2 1.6 -1.7 1.7 -1.6 1.7 -1.6 1.6 -1.5 1.7 -1.4 1.6 -1.5 1.7 -1.4 1.7 -1.5 1.6 -1.5 1.7 -1.7 1.7 -1.7 1.6 -1.9 1.7 -1.8 1.7 -1.4 1.6 -1.1 1.7 -0.6 1.7 -0.2 1.6 0.2 1.7 0.1 1.7 0 1.6 0 1.7 -0.3 1.6 -0.4 1.7 -0.6 1.7 -0.9 1.6 -1 1.7 -1 1.7 -1 1.6 -0.7 1.7 -0.1 1.7 0.3 1.6 1 1.7 1.5 1.7 1.9 1.6 2.2 1.7 2.4 1.6 2.6 1.7 2.8 1.7 3.1 1.6 3.3 1.7 3.6 1.7 3.7 1.6 3.6 1.7 3.3 1.7 2.7 1.6 2 1.7 1.2 1.7 1 1.6 0.5 1.7 0.5 1.7 0.7 1.6 0.6 1.7 0.1 1.6 0 1.7 0.3 1.7 0.2V357.1z"/><path d="M582.5 391.3V384.2l1.7 -0.5 1.7 -1.1 1.6 -1.1 1.7 -0.8 1.7 -1.2 1.6 -0.7 1.7 -1.1 1.6 -1.8 1.7 -1 1.7 -1.3 1.6 -1.6 1.7 -2 1.7 -2.6 1.6 -2.8 1.7 -4.8 1.7 -5.2 1.6 -5.1 1.7 -4.7 1.7 -3.8 1.6 -3.1 1.7 -2.4 1.6 -1.9 1.7 -1.7 1.7 -1.6 1.6 -1.4 1.7 -1.4 1.7 -1.4 1.6 -1.3 1.7 -1.2 1.7 -1.5 1.6 -1.3 1.7 -1.5 1.7 -1.7 1.6 -1.7 1.7 -1.6 1.7 -1.8 1.6 -1.2 1.7 -0.5 1.6 0.2 1.7 0.6 1.7 0.5 1.6 -0.2 1.7 -0.8 1.7 -1.3 1.6 -1.7 1.7 -1.7 1.7 -1.8 1.6 -1.8 1.7 -1.8 1.7 -1.7 1.6 -1.3 1.7 -0.8 1.6 -0.2 1.7 0.6 1.7 1.2 1.6 1.9 1.7 2.1 1.7 2.4 1.6 2.5 1.7 2.5 1.7 2.6 1.6 2.6 1.7 2.9 1.7 3.4 1.6 3.7 1.7 4.1 1.7 4.2 1.6 3.6 1.7 3.1 1.6 2.4 1.7 1.1 1.7 1.2 1.6 0.4 1.7 1 1.7 0.1 1.6 0.1 1.7 0.4 1.7 0.6 1.6 0.3V358.3z"/><path d="M583.4 392.5V385.7l1.6 -0.9 1.7 -0.8 1.7 -1 1.6 -0.9 1.7 -1.1 1.7 -1.4 1.6 -0.6 1.7 -1.7 1.7 -1.3 1.6 -1.1 1.7 -1.7 1.7 -2.4 1.6 -3.3 1.7 -4.5 1.6 -5.1 1.7 -5.6 1.7 -5.1 1.6 -3.9 1.7 -3.1 1.7 -2.4 1.6 -1.7 1.7 -1.8 1.7 -1.4 1.6 -1.4 1.7 -1.4 1.7 -1.4 1.6 -1.3 1.7 -1.4 1.7 -1.3 1.6 -1.3 1.7 -1.3 1.6 -1.5 1.7 -1.5 1.7 -1.5 1.6 -1.9 1.7 -1.5 1.7 -1.1 1.6 -0.2 1.7 0.6 1.7 1.2 1.6 0.4 1.7 -0.7 1.7 -1.8 1.6 -2.5 1.7 -2.6 1.6 -2.4 1.7 -2.4 1.7 -2.2 1.6 -2.1 1.7 -2 1.7 -1.5 1.6 -1 1.7 -0.2 1.7 0.7 1.6 1.5 1.7 2 1.7 2.7 1.6 2.7 1.7 2.6 1.7 2.6 1.6 2.4 1.7 2.4 1.6 2.4 1.7 2.6 1.7 3.3 1.6 3.8 1.7 4.4 1.7 4.5 1.6 4.1 1.7 3.2 1.7 2.3 1.6 1.4 1.7 1.3 1.7 0.4 1.6 0.4 1.7 0.3 1.7 0.5 1.6 0.4 1.7 0.2V359.5z"/><path d="M584.2 393.6V386.8l1.7 -0.6 1.7 -1.3 1.6 -1.1 1.7 -1 1.7 -0.5 1.6 -1.5 1.7 -0.8 1.6 -1.7 1.7 -1.2 1.7 -1.5 1.6 -1.7 1.7 -2.6 1.7 -4.3 1.6 -5.2 1.7 -5.8 1.7 -5.4 1.6 -4.5 1.7 -3.1 1.7 -2.5 1.6 -1.8 1.7 -1.7 1.7 -1.5 1.6 -1.4 1.7 -1.5 1.6 -1.4 1.7 -1.2 1.7 -1.4 1.6 -1.3 1.7 -1.3 1.7 -1.3 1.6 -1.2 1.7 -1.5 1.7 -1.5 1.6 -1.5 1.7 -1.8 1.7 -1.5 1.6 -1.2 1.7 -0.2 1.7 0.6 1.6 0.9 1.7 0 1.6 -1.1 1.7 -2.6 1.7 -2.8 1.6 -2.8 1.7 -2.4 1.7 -2.4 1.6 -2.4 1.7 -2.4 1.7 -2.2 1.6 -1.9 1.7 -1.1 1.7 -0.2 1.6 0.7 1.7 1.7 1.6 2.4 1.7 2.8 1.7 2.9 1.6 3.1 1.7 2.7 1.7 2.6 1.6 2.1 1.7 2 1.7 2.1 1.6 2.5 1.7 3.2 1.7 3.8 1.6 4.6 1.7 4.9 1.7 4.5 1.6 3 1.7 2.5 1.6 1.3 1.7 0.5 1.7 0.6 1.6 0.6 1.7 0.6 1.7 -0.2 1.6 0.4V360.6z"/><path d="M585.1 394.8V387.9l1.6 -0.7 1.7 -1.2 1.7 -0.6 1.6 -1.7 1.7 -0.8 1.7 -0.9 1.6 -1.3 1.7 -0.7 1.7 -1.7 1.6 -1.5 1.7 -2.2 1.7 -3.5 1.6 -4.9 1.7 -5.6 1.7 -5.9 1.6 -4.9 1.7 -3.8 1.6 -2.6 1.7 -2.1 1.7 -1.6 1.6 -1.5 1.7 -1.5 1.7 -1.3 1.6 -1.4 1.7 -1.4 1.7 -1.3 1.6 -1.2 1.7 -1.3 1.7 -1.3 1.6 -1.3 1.7 -1.2 1.7 -1.4 1.6 -1.4 1.7 -1.6 1.6 -1.7 1.7 -1.5 1.7 -1.2 1.6 -0.7 1.7 0.1 1.7 0.3 1.6 -0.4 1.7 -1.5 1.7 -2.4 1.6 -2.6 1.7 -2.5 1.7 -2.4 1.6 -2.3 1.7 -2.6 1.6 -2.6 1.7 -2.6 1.7 -2.1 1.6 -1.2 1.7 -0.3 1.7 0.8 1.6 1.6 1.7 2.6 1.7 3 1.6 3.4 1.7 3.1 1.7 3 1.6 2.6 1.7 2.1 1.7 1.9 1.6 1.8 1.7 1.8 1.6 2.4 1.7 3 1.7 4.2 1.6 5 1.7 4.8 1.7 4.3 1.6 3.1 1.7 2 1.7 1.3 1.6 0.8 1.7 0.7 1.7 0.1 1.6 0.3 1.7 0.5V361.8z"/><path d="M585.9 396.0V388.9l1.7 -0.5 1.7 -1.4 1.6 -0.8 1.7 -1 1.7 -0.8 1.6 -1.5 1.7 -1 1.7 -1 1.6 -1.6 1.7 -1.7 1.6 -2.8 1.7 -3.5 1.7 -5.4 1.6 -6.2 1.7 -5.6 1.7 -4.5 1.6 -3.2 1.7 -2.3 1.7 -1.8 1.6 -1.3 1.7 -1.5 1.7 -1.4 1.6 -1.4 1.7 -1.3 1.7 -1.3 1.6 -1.5 1.7 -1.2 1.6 -1.2 1.7 -1.3 1.7 -1.1 1.6 -1.5 1.7 -1.1 1.7 -1.2 1.6 -1.6 1.7 -1.5 1.7 -1.5 1.6 -1.3 1.7 -0.8 1.7 -0.5 1.6 -0.3 1.7 -1 1.6 -1.7 1.7 -2.1 1.7 -2.2 1.6 -2 1.7 -2.2 1.7 -2.4 1.6 -2.7 1.7 -2.9 1.7 -2.7 1.6 -2.1 1.7 -1.5 1.7 -0.3 1.6 0.9 1.7 1.7 1.7 2.4 1.6 3.2 1.7 3.3 1.6 3.4 1.7 2.8 1.7 2.7 1.6 2.1 1.7 1.8 1.7 1.6 1.6 1.5 1.7 1.6 1.7 2.5 1.6 3.4 1.7 4.4 1.7 5.3 1.6 5.1 1.7 3.8 1.6 3.2 1.7 1.3 1.7 0.9 1.6 0.8 1.7 0.6 1.7 0 1.6 0.7V363.0z"/><path d="M586.8 397.2V389.7l1.7 -0.9 1.6 -0.1 1.7 -1.4 1.6 -0.7 1.7 -1.3 1.7 -0.9 1.6 -1 1.7 -1.6 1.7 -0.9 1.6 -2.4 1.7 -2.8 1.7 -4.3 1.6 -5.9 1.7 -6 1.7 -5.4 1.6 -4.1 1.7 -2.7 1.7 -2.1 1.6 -1.5 1.7 -1.3 1.6 -1.4 1.7 -1.5 1.7 -1.3 1.6 -1.4 1.7 -1.3 1.7 -1.3 1.6 -1.4 1.7 -1.1 1.7 -1.3 1.6 -1.1 1.7 -1.3 1.7 -1.2 1.6 -1.2 1.7 -1.3 1.6 -1.3 1.7 -1.3 1.7 -1.3 1.6 -1.1 1.7 -0.8 1.7 -0.9 1.6 -1.2 1.7 -1.6 1.7 -1.8 1.6 -1.8 1.7 -1.9 1.7 -2.2 1.6 -2.3 1.7 -2.7 1.7 -2.8 1.6 -2.6 1.7 -2.2 1.6 -1.4 1.7 -0.5 1.7 0.7 1.6 1.7 1.7 2.5 1.7 2.9 1.6 3.2 1.7 3.1 1.7 2.9 1.6 2.5 1.7 2.1 1.7 1.8 1.6 1.3 1.7 1.3 1.6 1.3 1.7 1.7 1.7 2.7 1.6 3.9 1.7 4.9 1.7 5.5 1.6 4.8 1.7 3.5 1.7 2.4 1.6 1 1.7 1.1 1.7 0.6 1.6 0.1 1.7 0.3V364.2z"/><path d="M587.6 398.4V391.7l1.7 -1.6 1.7 -0.1 1.6 -0.8 1.7 -1.4 1.7 -1.5 1.6 -0.9 1.7 -1.1 1.7 -1.2 1.6 -1.5 1.7 -2 1.7 -3.2 1.6 -4.6 1.7 -5.8 1.6 -6.2 1.7 -5.2 1.7 -3.7 1.6 -2.5 1.7 -1.9 1.7 -1.4 1.6 -1.5 1.7 -1.4 1.7 -1.3 1.6 -1.3 1.7 -1.3 1.7 -1.3 1.6 -1.3 1.7 -1.2 1.6 -1.3 1.7 -1.1 1.7 -1.2 1.6 -1.2 1.7 -1.1 1.7 -1.1 1.6 -1.2 1.7 -1.3 1.7 -1.2 1.6 -1 1.7 -1.2 1.7 -1 1.6 -1.2 1.7 -1.3 1.7 -1.5 1.6 -1.6 1.7 -1.7 1.6 -1.7 1.7 -2 1.7 -2.2 1.6 -2.5 1.7 -2.7 1.7 -2.5 1.6 -1.9 1.7 -1.4 1.7 -0.4 1.6 0.5 1.7 1.6 1.7 2.2 1.6 2.6 1.7 2.9 1.6 2.7 1.7 2.6 1.7 2.3 1.6 1.8 1.7 1.7 1.7 1.3 1.6 1.1 1.7 1.1 1.7 1.4 1.6 2.1 1.7 3.1 1.7 4.7 1.6 5.5 1.7 5.5 1.7 4.1 1.6 2.9 1.7 1.4 1.6 1.1 1.7 0.6 1.7 0.3 1.6 0.6V365.4z"/><path d="M588.5 399.6V392.9l1.7 -1.3 1.6 -0.6 1.7 -1.4 1.7 -1.3 1.6 -0.3 1.7 -1.4 1.6 -0.9 1.7 -0.9 1.7 -1.8 1.6 -2.5 1.7 -2.8 1.7 -4.9 1.6 -6 1.7 -6.1 1.7 -5.1 1.6 -3.5 1.7 -2.4 1.7 -1.7 1.6 -1.4 1.7 -1.5 1.6 -1.4 1.7 -1.2 1.7 -1.4 1.6 -1.3 1.7 -1.2 1.7 -1.3 1.6 -1.1 1.7 -1.2 1.7 -1.3 1.6 -1.1 1.7 -1.1 1.7 -1.2 1.6 -1 1.7 -1.2 1.7 -1.1 1.6 -1.1 1.7 -0.9 1.6 -1.1 1.7 -1.1 1.7 -1.4 1.6 -1.2 1.7 -1.4 1.7 -1.5 1.6 -1.4 1.7 -1.6 1.7 -1.8 1.6 -2.1 1.7 -2.3 1.7 -2.3 1.6 -2.1 1.7 -1.7 1.6 -1.2 1.7 -0.4 1.7 0.4 1.6 1.2 1.7 1.9 1.7 2.1 1.6 2.4 1.7 2.4 1.7 2.2 1.6 1.9 1.7 1.6 1.7 1.4 1.6 1.2 1.7 1.1 1.7 1 1.6 1.1 1.7 1.7 1.6 2.7 1.7 4.1 1.7 5.3 1.6 5.7 1.7 5 1.7 3.3 1.6 2 1.7 1.1 1.7 0.8 1.6 0 1.7 0.1V366.6z"/><path d="M589.3 400.7V393.7l1.7 -0.3 1.7 -1.4 1.6 -0.5 1.7 -1.3 1.7 -1.3 1.6 -1.1 1.7 -0.8 1.7 -1.3 1.6 -1.4 1.7 -2.1 1.7 -3.6 1.6 -4.4 1.7 -6 1.6 -6.2 1.7 -5.1 1.7 -3.3 1.6 -2.5 1.7 -1.7 1.7 -1.4 1.6 -1.3 1.7 -1.4 1.7 -1.3 1.6 -1.3 1.7 -1.2 1.7 -1.4 1.6 -1.1 1.7 -1.3 1.7 -1.1 1.6 -1.2 1.7 -1 1.6 -1.1 1.7 -1.1 1.7 -1.1 1.6 -1 1.7 -1 1.7 -1 1.6 -1 1.7 -1 1.7 -1.2 1.6 -1.2 1.7 -1.3 1.7 -1.4 1.6 -1.3 1.7 -1.3 1.7 -1.4 1.6 -1.5 1.7 -1.8 1.6 -2 1.7 -1.9 1.7 -1.8 1.6 -1.4 1.7 -1 1.7 -0.4 1.6 0.4 1.7 0.8 1.7 1.4 1.6 1.7 1.7 1.9 1.7 1.8 1.6 1.6 1.7 1.5 1.6 1.4 1.7 1.1 1.7 1.1 1.6 1 1.7 0.9 1.7 1.2 1.6 1.4 1.7 2.4 1.7 3.7 1.6 5.1 1.7 5.9 1.7 5.3 1.6 3.8 1.7 2.3 1.7 1.2 1.6 0.7 1.7 0.7 1.6 -0.1V367.7z"/><path d="M590.2 401.9V395.3l1.7 -0.9 1.6 -0.8 1.7 -1.1 1.7 -1.2 1.6 -1.1 1.7 -0.9 1.6 -1 1.7 -1.1 1.7 -1.5 1.6 -2.1 1.7 -3.1 1.7 -4.5 1.6 -6 1.7 -6 1.7 -5.3 1.6 -3.5 1.7 -2.4 1.7 -1.8 1.6 -1.4 1.7 -1.3 1.7 -1.4 1.6 -1.3 1.7 -1.2 1.6 -1.2 1.7 -1.3 1.7 -1.3 1.6 -1.1 1.7 -1.1 1.7 -1.1 1.6 -1.2 1.7 -1 1.7 -1 1.6 -1 1.7 -1 1.7 -1 1.6 -0.9 1.7 -1 1.7 -1 1.6 -1.2 1.7 -1.3 1.6 -1.2 1.7 -1.3 1.7 -1.1 1.6 -1.3 1.7 -1.2 1.7 -1.3 1.6 -1.5 1.7 -1.5 1.7 -1.4 1.6 -1.6 1.7 -1.2 1.7 -0.6 1.6 -0.4 1.7 0.1 1.6 0.6 1.7 1 1.7 1.1 1.6 1.3 1.7 1.1 1.7 1.2 1.6 1 1.7 1 1.7 1 1.6 0.9 1.7 1 1.7 1.1 1.6 1.1 1.7 1.3 1.7 2.4 1.6 3.3 1.7 5 1.6 5.9 1.7 5.6 1.7 3.8 1.6 3 1.7 1.2 1.7 0.9 1.6 0.1 1.7 1.1V368.9z"/><path d="M591.0 403.1V396.7l1.7 -1 1.7 -1.1 1.6 -0.9 1.7 -1.1 1.7 -0.8 1.6 -0.9 1.7 -1.2 1.7 -1 1.6 -1.5 1.7 -1.9 1.7 -3 1.6 -4.4 1.7 -5.5 1.7 -6.1 1.6 -5.3 1.7 -3.9 1.6 -2.6 1.7 -1.8 1.7 -1.4 1.6 -1.3 1.7 -1.4 1.7 -1.2 1.6 -1.4 1.7 -1.1 1.7 -1.2 1.6 -1.1 1.7 -1.3 1.7 -1.1 1.6 -1 1.7 -1.2 1.7 -1 1.6 -1.1 1.7 -0.9 1.6 -0.9 1.7 -1.1 1.7 -0.9 1.6 -0.9 1.7 -0.9 1.7 -1.2 1.6 -1.2 1.7 -1.2 1.7 -1.3 1.6 -1.1 1.7 -1.1 1.7 -0.9 1.6 -1.2 1.7 -1.1 1.6 -1.2 1.7 -1.3 1.7 -1 1.6 -1 1.7 -0.6 1.7 -0.4 1.6 0.1 1.7 0.3 1.7 0.5 1.6 0.5 1.7 0.6 1.7 0.6 1.6 0.6 1.7 0.6 1.7 0.6 1.6 0.8 1.7 0.8 1.6 1.1 1.7 1.2 1.7 1.2 1.6 1.6 1.7 2.2 1.7 3.4 1.6 4.9 1.7 6 1.7 5.5 1.6 4.5 1.7 3 1.7 0.9 1.6 0.7 1.7 0.7 1.6 0.7V370.1z"/><path d="M591.9 404.3V397.2l1.7 -0.6 1.6 -0.9 1.7 -0.5 1.7 -1.1 1.6 -0.9 1.7 -1 1.7 -0.9 1.6 -1.2 1.7 -1.4 1.6 -1.8 1.7 -2.7 1.7 -3.8 1.6 -5 1.7 -6.2 1.7 -5.4 1.6 -4.3 1.7 -2.9 1.7 -2.1 1.6 -1.5 1.7 -1.3 1.7 -1.4 1.6 -1.1 1.7 -1.2 1.7 -1.3 1.6 -1.2 1.7 -1.1 1.6 -1.1 1.7 -1.1 1.7 -1.2 1.6 -1 1.7 -1 1.7 -1.1 1.6 -0.8 1.7 -1 1.7 -0.9 1.6 -1 1.7 -0.8 1.7 -0.9 1.6 -1.1 1.7 -1.3 1.6 -1.3 1.7 -1.3 1.7 -0.9 1.6 -1 1.7 -0.8 1.7 -1 1.6 -1 1.7 -1 1.7 -0.8 1.6 -0.9 1.7 -0.7 1.7 -0.5 1.6 -0.5 1.7 0 1.7 0 1.6 0 1.7 0.1 1.6 -0.1 1.7 0.1 1.7 -0.1 1.6 0.1 1.7 0.3 1.7 0.6 1.6 0.9 1.7 1.1 1.7 1.4 1.6 1.6 1.7 1.6 1.7 2.5 1.6 3.5 1.7 5 1.6 5.9 1.7 5.9 1.7 4.3 1.6 2.6 1.7 1.9 1.7 0.5 1.6 0.7 1.7 0V371.3z"/><path d="M592.8 405.5V398.6l1.6 -0.5 1.7 -0.8 1.6 -0.6 1.7 -1.8 1.7 -0.7 1.6 -0.8 1.7 -1.2 1.7 -0.8 1.6 -1 1.7 -1.9 1.7 -1.9 1.6 -3.4 1.7 -4.9 1.7 -5.4 1.6 -5.8 1.7 -4.7 1.7 -3.4 1.6 -2.4 1.7 -1.7 1.6 -1.4 1.7 -1.3 1.7 -1.2 1.6 -1.2 1.7 -1.1 1.7 -1.2 1.6 -1.2 1.7 -1.1 1.7 -1.1 1.6 -1 1.7 -1.1 1.7 -1 1.6 -1 1.7 -1 1.6 -0.8 1.7 -0.9 1.7 -0.8 1.6 -0.8 1.7 -0.7 1.7 -1.1 1.6 -1.3 1.7 -1.4 1.7 -1.3 1.6 -1 1.7 -1 1.7 -0.7 1.6 -0.8 1.7 -0.9 1.7 -0.8 1.6 -0.7 1.7 -0.7 1.6 -0.6 1.7 -0.5 1.7 -0.3 1.6 -0.3 1.7 -0.3 1.7 -0.3 1.6 -0.6 1.7 -0.4 1.7 -0.6 1.6 -0.7 1.7 -0.4 1.7 -0.1 1.6 0.4 1.7 1 1.6 1.4 1.7 1.6 1.7 1.9 1.6 2.1 1.7 2.8 1.7 3.8 1.6 5.1 1.7 6.2 1.7 5.6 1.6 4.6 1.7 2.6 1.7 1.5 1.6 0.3 1.7 0.7 1.7 0.5V372.5z"/><path d="M593.6 406.7V400.4l1.7 -0.4 1.6 -1.2 1.7 -0.9 1.7 -1 1.6 -0.5 1.7 -1.7 1.7 -1 1.6 -1.2 1.7 -0.6 1.7 -1.5 1.6 -1.6 1.7 -3.2 1.6 -3.7 1.7 -5.3 1.7 -5.5 1.6 -5.1 1.7 -4 1.7 -2.9 1.6 -2.1 1.7 -1.5 1.7 -1.4 1.6 -1.3 1.7 -1.1 1.7 -1.1 1.6 -1.2 1.7 -1.1 1.6 -1.1 1.7 -1 1.7 -1 1.6 -1.1 1.7 -1.1 1.7 -0.8 1.6 -1 1.7 -0.8 1.7 -0.7 1.6 -0.7 1.7 -0.5 1.7 -0.6 1.6 -0.9 1.7 -1.4 1.7 -1.7 1.6 -1.5 1.7 -1.3 1.6 -0.9 1.7 -0.8 1.7 -0.6 1.6 -0.7 1.7 -0.7 1.7 -0.6 1.6 -0.6 1.7 -0.6 1.7 -0.4 1.6 -0.5 1.7 -0.3 1.7 -0.5 1.6 -0.7 1.7 -0.9 1.6 -1.1 1.7 -1.2 1.7 -1.1 1.6 -0.9 1.7 -0.4 1.7 0.3 1.6 0.9 1.7 1.6 1.7 2.1 1.6 2.3 1.7 2.5 1.7 3.2 1.6 4.2 1.7 5.6 1.7 6.2 1.6 5.5 1.7 4.1 1.6 2.6 1.7 1.6 1.7 0.6 1.6 -0.1 1.7 1V373.7z"/><path d="M594.5 407.8V401.8l1.6 -1.2 1.7 -0.3 1.7 -1 1.6 -1.3 1.7 -0.9 1.6 -0.3 1.7 -1.5 1.7 -0.8 1.6 -0.9 1.7 -1.8 1.7 -1.2 1.6 -2.2 1.7 -3 1.7 -4.6 1.6 -5.1 1.7 -5.3 1.7 -4.6 1.6 -3.6 1.7 -2.6 1.6 -1.9 1.7 -1.5 1.7 -1.4 1.6 -1 1.7 -1.3 1.7 -1.2 1.6 -1 1.7 -1 1.7 -1.1 1.6 -1 1.7 -1 1.7 -1 1.6 -0.8 1.7 -0.8 1.7 -0.8 1.6 -0.5 1.7 -0.1 1.6 0.1 1.7 -0.3 1.7 -0.9 1.6 -1.8 1.7 -2.2 1.7 -2 1.6 -1.4 1.7 -1.1 1.7 -0.8 1.6 -0.6 1.7 -0.7 1.7 -0.6 1.6 -0.6 1.7 -0.5 1.7 -0.5 1.6 -0.4 1.7 -0.5 1.6 -0.5 1.7 -0.7 1.7 -0.9 1.6 -1.3 1.7 -1.4 1.7 -1.7 1.6 -1.7 1.7 -1.2 1.7 -0.6 1.6 0.2 1.7 1 1.7 1.8 1.6 2.3 1.7 2.6 1.6 3.1 1.7 3.6 1.7 4.8 1.6 5.9 1.7 6.3 1.7 5.3 1.6 3.8 1.7 2.2 1.7 1 1.6 1 1.7 0.6 1.7 0.3V374.8z"/><path d="M595.3 409.0V403.2l1.7 -0.8 1.6 -1 1.7 -1.3 1.7 -0.2 1.6 -0.9 1.7 -1.1 1.7 -0.8 1.6 -1.1 1.7 -1.3 1.7 -1.3 1.6 -0.8 1.7 -1.9 1.6 -2.5 1.7 -3.3 1.7 -4.3 1.6 -5 1.7 -4.9 1.7 -4.2 1.6 -3.4 1.7 -2.5 1.7 -1.9 1.6 -1.5 1.7 -1.3 1.7 -1.3 1.6 -1 1.7 -1.1 1.7 -1.1 1.6 -1 1.7 -1 1.6 -0.9 1.7 -0.8 1.7 -0.9 1.6 -0.6 1.7 -0.4 1.7 0 1.6 0.5 1.7 0.8 1.7 0.2 1.6 -1 1.7 -2.4 1.7 -2.9 1.6 -2.8 1.7 -1.8 1.7 -1.3 1.6 -1 1.7 -0.6 1.6 -0.7 1.7 -0.5 1.7 -0.5 1.6 -0.6 1.7 -0.4 1.7 -0.5 1.6 -0.5 1.7 -0.6 1.7 -0.8 1.6 -1.1 1.7 -1.4 1.7 -1.7 1.6 -1.9 1.7 -1.9 1.6 -1.3 1.7 -0.9 1.7 0.1 1.6 1 1.7 1.9 1.7 2.5 1.6 2.8 1.7 3.6 1.7 4.2 1.6 5.3 1.7 6.1 1.7 6.2 1.6 5 1.7 3.5 1.7 1.7 1.6 0.8 1.7 0.9 1.6 0.2 1.7 0.3V376.0z"/><path d="M596.2 410.2V404.2l1.6 -0.9 1.7 -1 1.7 -0.3 1.6 -0.9 1.7 -0.7 1.6 -1.3 1.7 -0.7 1.7 -1.1 1.6 -1 1.7 -0.9 1.7 -1.1 1.6 -1.4 1.7 -1.8 1.7 -2.5 1.6 -3.3 1.7 -4.3 1.7 -4.7 1.6 -4.4 1.7 -4 1.7 -3.2 1.6 -2.6 1.7 -1.9 1.6 -1.6 1.7 -1.4 1.7 -1.2 1.6 -1.1 1.7 -1.1 1.7 -0.9 1.6 -1 1.7 -0.8 1.7 -0.6 1.6 -0.6 1.7 -0.2 1.7 0.1 1.6 0.9 1.7 1.2 1.7 1.4 1.6 0.4 1.7 -1.2 1.6 -3.1 1.7 -3.9 1.7 -3.5 1.6 -2.7 1.7 -1.5 1.7 -1.1 1.6 -0.8 1.7 -0.7 1.7 -0.6 1.6 -0.4 1.7 -0.4 1.7 -0.6 1.6 -0.6 1.7 -0.4 1.6 -0.7 1.7 -0.8 1.7 -1.1 1.6 -1.4 1.7 -1.8 1.7 -2 1.6 -1.9 1.7 -1.4 1.7 -0.9 1.6 0.1 1.7 1 1.7 1.9 1.6 2.4 1.7 3.1 1.7 3.9 1.6 4.7 1.7 5.9 1.6 6.3 1.7 5.7 1.7 4.5 1.6 3 1.7 0.9 1.7 1.2 1.6 0.5 1.7 -0.2 1.7 0.8V377.2z"/><path d="M597.0 411.4V405.9l1.7 -1.2 1.6 -1 1.7 0.2 1.7 -1.1 1.6 -0.9 1.7 -1.3 1.7 -0.7 1.6 -1.2 1.7 -0.3 1.7 -1.3 1.6 -1.4 1.7 -0.5 1.7 -2 1.6 -1.4 1.7 -2.6 1.6 -2.9 1.7 -4.1 1.7 -4.1 1.6 -4.1 1.7 -3.8 1.7 -3 1.6 -2.7 1.7 -2 1.7 -1.8 1.6 -1.4 1.7 -1.2 1.7 -1.2 1.6 -0.9 1.7 -0.7 1.7 -0.7 1.6 -0.4 1.7 0 1.6 0.3 1.7 0.8 1.7 1.5 1.6 1.8 1.7 1.5 1.7 0.3 1.6 -1.5 1.7 -3.5 1.7 -4.6 1.6 -4.5 1.7 -3.3 1.7 -2.4 1.6 -1.3 1.7 -1 1.6 -0.6 1.7 -0.6 1.7 -0.6 1.6 -0.4 1.7 -0.6 1.7 -0.4 1.6 -0.5 1.7 -0.6 1.7 -0.8 1.6 -1.1 1.7 -1.4 1.7 -1.5 1.6 -1.9 1.7 -1.7 1.7 -1.3 1.6 -0.8 1.7 0.1 1.6 1 1.7 1.6 1.7 2.6 1.6 3.4 1.7 4.2 1.7 5.1 1.6 6.1 1.7 6 1.7 5.3 1.6 3.3 1.7 2.2 1.7 1 1.6 1.1 1.7 0 1.6 0.2 1.7 0.7V378.4z"/><path d="M597.9 412.6V407.3l1.6 -0.9 1.7 -0.5 1.7 -1 1.6 -0.8 1.7 -1.3 1.7 -0.2 1.6 -1.1 1.7 -1.3 1.6 -0.2 1.7 -1.6 1.7 -0.6 1.6 -1.3 1.7 -1 1.7 -1.5 1.6 -0.9 1.7 -2.7 1.7 -2.5 1.6 -3.6 1.7 -3.6 1.7 -3.6 1.6 -3.5 1.7 -2.9 1.7 -2.6 1.6 -2.1 1.7 -1.7 1.6 -1.5 1.7 -1.1 1.7 -0.9 1.6 -0.7 1.7 -0.2 1.7 0 1.6 0.4 1.7 0.9 1.7 1.3 1.6 1.5 1.7 1.7 1.7 1.1 1.6 -0.1 1.7 -1.8 1.6 -3.6 1.7 -4.8 1.7 -5 1.6 -4.3 1.7 -2.9 1.7 -2 1.6 -1.3 1.7 -0.8 1.7 -0.7 1.6 -0.6 1.7 -0.5 1.7 -0.4 1.6 -0.5 1.7 -0.6 1.7 -0.4 1.6 -0.7 1.7 -1 1.6 -1.1 1.7 -1.4 1.7 -1.5 1.6 -1.3 1.7 -1.2 1.7 -0.5 1.6 0 1.7 0.8 1.7 1.9 1.6 2.5 1.7 3.6 1.7 4.6 1.6 5.6 1.7 6 1.6 5.5 1.7 3.9 1.7 2.8 1.6 1.4 1.7 1.1 1.7 0.4 1.6 0.7 1.7 -0.2 1.7 0.1V379.6z"/><path d="M598.7 413.8V408.6l1.7 -1 1.6 -0.4 1.7 -1.1 1.7 -0.5 1.6 -0.7 1.7 -1.2 1.7 -0.3 1.6 -1.7 1.7 -0.1 1.7 -0.8 1.6 -1.5 1.7 -0.7 1.7 -1.4 1.6 -0.6 1.7 -1.9 1.7 -1.4 1.6 -1.4 1.7 -2.8 1.6 -2.3 1.7 -3 1.7 -2.9 1.6 -2.9 1.7 -2.6 1.7 -2.3 1.6 -1.9 1.7 -1.6 1.7 -1.2 1.6 -0.7 1.7 -0.5 1.7 -0.1 1.6 0.2 1.7 0.6 1.6 0.9 1.7 1.1 1.7 1 1.6 1.1 1.7 0.3 1.7 -0.5 1.6 -1.9 1.7 -3.1 1.7 -4.5 1.6 -5 1.7 -4.7 1.7 -3.8 1.6 -2.8 1.7 -1.8 1.7 -1.1 1.6 -1 1.7 -0.6 1.6 -0.5 1.7 -0.6 1.7 -0.4 1.6 -0.5 1.7 -0.5 1.7 -0.6 1.6 -0.8 1.7 -0.9 1.7 -1 1.6 -1.2 1.7 -1 1.7 -0.8 1.6 -0.3 1.7 0.2 1.6 1 1.7 1.8 1.7 3 1.6 3.8 1.7 5 1.7 5.6 1.6 5.4 1.7 4.5 1.7 3.1 1.6 1.5 1.7 1 1.7 0.8 1.6 0.2 1.7 0.6 1.7 0.3 1.6 -0.3V380.8z"/><path d="M599.6 414.9V409.5l1.6 -0.6 1.7 -0.8 1.7 -0.4 1.6 -0.2 1.7 -1.3 1.7 -1.2 1.6 -0.4 1.7 -1.1 1.7 -0.9 1.6 -0.5 1.7 -1.2 1.6 -0.8 1.7 -0.6 1.7 -1.5 1.6 -0.6 1.7 -1.5 1.7 -1.3 1.6 -1.2 1.7 -1.8 1.7 -2.2 1.6 -2.2 1.7 -2.3 1.7 -2.1 1.6 -2 1.7 -1.8 1.6 -1.5 1.7 -1 1.7 -0.8 1.6 -0.6 1.7 -0.1 1.7 0.1 1.6 0.1 1.7 0.8 1.7 0.3 1.6 0.2 1.7 0.3 1.7 -0.2 1.6 -0.9 1.7 -1.4 1.7 -2.4 1.6 -3.7 1.7 -4.6 1.6 -4.8 1.7 -4.3 1.7 -3.6 1.6 -2.7 1.7 -1.8 1.7 -1.3 1.6 -0.9 1.7 -0.7 1.7 -0.5 1.6 -0.5 1.7 -0.4 1.7 -0.5 1.6 -0.6 1.7 -0.6 1.7 -0.6 1.6 -0.7 1.7 -0.7 1.6 -0.7 1.7 -0.4 1.7 -0.2 1.6 0.7 1.7 1.3 1.7 2.3 1.6 3.2 1.7 4.5 1.7 4.8 1.6 5 1.7 4.7 1.7 2.8 1.6 2 1.7 1.2 1.6 0.7 1.7 0.5 1.7 0.3 1.6 0.2 1.7 0.4 1.7 -0.4V381.9z"/><path d="M600.4 416.1V411.5l1.7 -1.1 1.7 -0.5 1.6 -0.4 1.7 -1.5 1.6 -0.5 1.7 -0.5 1.7 -0.8 1.6 -0.9 1.7 -1.3 1.7 -0.5 1.6 -0.6 1.7 -1.1 1.7 -0.7 1.6 -1.2 1.7 -0.9 1.7 -1.1 1.6 -0.9 1.7 -1.1 1.6 -0.9 1.7 -1.6 1.7 -1.7 1.6 -1.1 1.7 -1.9 1.7 -1.3 1.6 -1.4 1.7 -1.3 1.7 -1.2 1.6 -0.7 1.7 -0.6 1.7 -0.3 1.6 -0.5 1.7 0.1 1.7 -0.4 1.6 -0.2 1.7 -0.3 1.6 -0.1 1.7 -0.8 1.7 -0.7 1.6 -1.5 1.7 -1.6 1.7 -2.6 1.6 -3.5 1.7 -4.2 1.7 -4.5 1.6 -4.1 1.7 -3.4 1.7 -2.7 1.6 -1.9 1.7 -1.4 1.7 -0.9 1.6 -0.8 1.7 -0.6 1.6 -0.6 1.7 -0.3 1.7 -0.5 1.6 -0.5 1.7 -0.5 1.7 -0.4 1.6 -0.4 1.7 -0.3 1.7 0 1.6 0.5 1.7 1.1 1.7 1.9 1.6 3 1.7 3.8 1.6 4.2 1.7 4.4 1.7 3.9 1.6 3.4 1.7 1.6 1.7 1 1.6 1 1.7 0.6 1.7 0.4 1.6 0.3 1.7 -0.3 1.7 0.6 1.6 0.1V383.1z"/><path d="M601.3 417.3V412.5l1.6 -0.7 1.7 -0.8 1.7 -0.4 1.6 -0.9 1.7 -0.5 1.7 -0.7 1.6 -0.6 1.7 -1.2 1.7 -1.1 1.6 -0.6 1.7 -1 1.6 -0.5 1.7 -0.8 1.7 -0.8 1.6 -0.8 1.7 -1.3 1.7 -1 1.6 -0.5 1.7 -1.2 1.7 -0.7 1.6 -1.4 1.7 -1.2 1.7 -0.8 1.6 -1.5 1.7 -0.8 1.7 -1.1 1.6 -1.1 1.7 -0.3 1.6 -1 1.7 -0.5 1.7 -0.9 1.6 -0.3 1.7 -0.5 1.7 -0.7 1.6 -0.8 1.7 -0.3 1.7 -0.7 1.6 -0.8 1.7 -1.2 1.7 -0.9 1.6 -1.8 1.7 -2.5 1.7 -3.2 1.6 -3.8 1.7 -3.9 1.6 -3.8 1.7 -3.5 1.7 -2.6 1.6 -2.1 1.7 -1.5 1.7 -1.2 1.6 -0.9 1.7 -0.7 1.7 -0.6 1.6 -0.4 1.7 -0.4 1.7 -0.2 1.6 -0.1 1.7 -0.1 1.6 0.3 1.7 0.7 1.7 1.2 1.6 1.7 1.7 2.7 1.7 3.2 1.6 3.8 1.7 3.6 1.7 3.1 1.6 3.2 1.7 1.8 1.7 0.8 1.6 0.8 1.7 0.5 1.7 0.5 1.6 0.4 1.7 -0.1 1.6 -0.1 1.7 0.1 1.7 -0.2V384.3z"/><path d="M602.1 418.5V414.3l1.7 -1.1 1.7 -0.7 1.6 -1.1 1.7 0 1.6 -1.3 1.7 0.1 1.7 -1.4 1.6 -0.3 1.7 -0.7 1.7 -1.2 1.6 -0.5 1.7 -1 1.7 -0.8 1.6 -0.6 1.7 -1.2 1.7 -0.6 1.6 -0.8 1.7 -0.8 1.7 -0.6 1.6 -1.1 1.7 -1.2 1.6 -0.9 1.7 -0.8 1.7 -1.2 1.6 -0.6 1.7 -0.9 1.7 -0.9 1.6 -0.8 1.7 -0.9 1.7 -0.4 1.6 -0.8 1.7 -0.7 1.7 -0.7 1.6 -0.7 1.7 -0.9 1.7 -0.9 1.6 -0.5 1.7 -0.7 1.6 -0.9 1.7 -1 1.7 -1.1 1.6 -1.7 1.7 -2.1 1.7 -2.6 1.6 -3 1.7 -3.5 1.7 -3.4 1.6 -3 1.7 -2.8 1.7 -2.1 1.6 -1.7 1.7 -1.3 1.6 -0.9 1.7 -0.9 1.7 -0.3 1.6 -0.4 1.7 0 1.7 0.1 1.6 0.5 1.7 0.8 1.7 1.3 1.6 1.8 1.7 2.3 1.7 2.7 1.6 3.1 1.7 2.8 1.7 2.7 1.6 2.2 1.7 1.5 1.6 1.1 1.7 0.3 1.7 0.7 1.6 0.3 1.7 0.3 1.7 -0.1 1.6 -0.4 1.7 0.9 1.7 0.4 1.6 -0.1V385.5z"/><path d="M603.0 419.7V414.9l1.6 -0.2 1.7 -0.6 1.7 -1 1.6 -0.4 1.7 -0.5 1.7 -1 1.6 -0.4 1.7 -0.9 1.7 -1.3 1.6 0.3 1.7 -1.7 1.7 0.1 1.6 -1.3 1.7 -0.3 1.6 -1.2 1.7 -0.7 1.7 -0.9 1.6 -0.7 1.7 -1.4 1.7 -0.7 1.6 -0.2 1.7 -0.8 1.7 -1.2 1.6 -0.5 1.7 -1.5 1.7 -0.7 1.6 -0.6 1.7 -0.4 1.7 -0.9 1.6 -1.1 1.7 -0.4 1.6 -1 1.7 -0.7 1.7 -0.8 1.6 -0.6 1.7 -0.7 1.7 -0.6 1.6 -0.9 1.7 -0.6 1.7 -1 1.6 -0.6 1.7 -1.4 1.7 -1.3 1.6 -1.7 1.7 -1.8 1.6 -2.6 1.7 -2.9 1.7 -2.8 1.6 -2.6 1.7 -2.4 1.7 -2 1.6 -1.6 1.7 -1.3 1.7 -0.9 1.6 -0.5 1.7 -0.3 1.7 0.1 1.6 0.4 1.7 0.8 1.7 1.3 1.6 1.4 1.7 2.2 1.6 2 1.7 2.3 1.7 2.3 1.6 2 1.7 1.4 1.7 0.9 1.6 0.7 1.7 0.6 1.7 0.3 1.6 0.3 1.7 0 1.7 0.3 1.6 0.1 1.7 -0.1 1.6 0.5 1.7 -0.1 1.7 0.1V386.7z"/><path d="M603.8 420.9V416.8l1.7 -1.2 1.7 0 1.6 -0.8 1.7 -0.5 1.7 -1 1.6 -0.7 1.7 -1 1.6 -0.7 1.7 -0.7 1.7 -0.4 1.6 -0.9 1.7 -0.4 1.7 -0.6 1.6 -1.3 1.7 -0.2 1.7 -1.2 1.6 -0.9 1.7 -0.5 1.7 -1.1 1.6 -0.5 1.7 -0.7 1.7 -0.9 1.6 -1.1 1.7 -0.1 1.6 -1.1 1.7 -0.5 1.7 -1 1.6 -0.8 1.7 -0.4 1.7 -0.8 1.6 -1.1 1.7 -0.6 1.7 -0.6 1.6 -0.8 1.7 -0.9 1.7 -0.7 1.6 -0.2 1.7 -1 1.6 -1.1 1.7 -0.3 1.7 -0.8 1.6 -0.8 1.7 -1 1.7 -1 1.6 -1.3 1.7 -1.5 1.7 -2 1.6 -2 1.7 -2 1.7 -2 1.6 -1.8 1.7 -1.6 1.7 -1.2 1.6 -1 1.7 -0.6 1.6 -0.1 1.7 0 1.7 0.6 1.6 0.7 1.7 1.2 1.7 1.3 1.6 1.4 1.7 1.4 1.7 1.7 1.6 1.1 1.7 0.8 1.7 0.9 1.6 0.5 1.7 0.1 1.6 0.2 1.7 0.1 1.7 0.6 1.6 -0.2 1.7 0.1 1.7 -0.2 1.6 0.4 1.7 0.1 1.7 -0.3 1.6 0.5V387.9z"/><path d="M604.7 422.0V416.8l1.6 -0.6 1.7 -0.2 1.7 -0.7 1.6 -0.6 1.7 -1.1 1.7 -0.1 1.6 -0.4 1.7 -1 1.7 -0.5 1.6 -0.4 1.7 -0.9 1.7 -0.8 1.6 -0.9 1.7 -0.5 1.7 -0.7 1.6 -0.5 1.7 -1.1 1.6 -0.3 1.7 -0.7 1.7 -0.8 1.6 -0.6 1.7 -0.9 1.7 -0.9 1.6 -0.5 1.7 -0.7 1.7 -0.8 1.6 -0.5 1.7 -1.1 1.7 -0.8 1.6 -0.4 1.7 -0.7 1.6 -0.9 1.7 -1 1.7 -0.2 1.6 -1 1.7 -0.6 1.7 -0.4 1.6 -0.9 1.7 -0.7 1.7 -0.6 1.6 -1.1 1.7 0.1 1.7 -1 1.6 -0.8 1.7 -0.8 1.7 -1 1.6 -1.2 1.7 -1.3 1.6 -1.3 1.7 -1.4 1.7 -1.2 1.6 -1.2 1.7 -1 1.7 -1 1.6 -0.3 1.7 -0.3 1.7 -0.1 1.6 0.3 1.7 0.6 1.7 0.5 1.6 0.7 1.7 0.7 1.7 0.9 1.6 0.9 1.7 0.4 1.6 0.4 1.7 0 1.7 0 1.6 0.2 1.7 0.1 1.7 -0.4 1.6 1 1.7 -0.5 1.7 0.4 1.6 0.2 1.7 0 1.7 0 1.6 -0.6 1.7 0.4V389.0z"/><path d="M605.5 423.2V416.5l1.7 0.2 1.7 -1.2 1.6 -0.2 1.7 -0.7 1.7 0 1.6 -1 1.7 -0.4 1.7 -0.5 1.6 -0.6 1.7 -0.6 1.6 -0.6 1.7 -0.3 1.7 -1.1 1.6 -0.1 1.7 -0.6 1.7 -0.5 1.6 -0.4 1.7 -1.7 1.7 -0.6 1.6 -0.1 1.7 -0.7 1.7 -0.5 1.6 -0.8 1.7 -0.6 1.6 -0.4 1.7 -0.9 1.7 -0.3 1.6 -1 1.7 -1 1.7 -0.6 1.6 -0.6 1.7 -0.5 1.7 -1.2 1.6 -0.2 1.7 -0.3 1.7 -1.1 1.6 -0.3 1.7 -1.1 1.7 -0.6 1.6 -1 1.7 -0.6 1.6 -0.4 1.7 -0.7 1.7 -0.8 1.6 -0.3 1.7 -0.8 1.7 -1.1 1.6 -0.4 1.7 -1 1.7 -1.2 1.6 -0.4 1.7 -1.1 1.7 -0.3 1.6 -0.6 1.7 -0.8 1.7 -0.2 1.6 0 1.7 0 1.6 0 1.7 0 1.7 0.8 1.6 0.1 1.7 -0.1 1.7 0.4 1.6 -0.1 1.7 0.4 1.7 -0.4 1.6 0.2 1.7 0.2 1.7 0 1.6 -0.2 1.7 0.6 1.6 -0.3 1.7 0.3 1.7 0 1.6 -0.5 1.7 0.2 1.7 0 1.6 -0.1V390.2z"/><path d="M606.4 424.4V416.7l1.7 -0.9 1.6 0.1 1.7 -0.7 1.6 -0.3 1.7 -0.7 1.7 0 1.6 -0.9 1.7 -0.5 1.7 -0.3 1.6 -0.3 1.7 -0.4 1.7 -0.7 1.6 -0.7 1.7 -0.3 1.7 -0.2 1.6 -1.1 1.7 -0.5 1.6 -0.4 1.7 -0.3 1.7 -0.7 1.6 -0.6 1.7 -0.5 1.7 -0.7 1.6 0 1.7 -1 1.7 -0.5 1.6 -0.8 1.7 -0.3 1.7 -0.9 1.6 -0.6 1.7 -0.3 1.7 -1.6 1.6 -0.1 1.7 -0.8 1.6 -0.6 1.7 -0.6 1.7 -0.7 1.6 -0.3 1.7 -1.1 1.7 -0.5 1.6 -0.7 1.7 -0.9 1.7 -0.4 1.6 -1 1.7 -0.5 1.7 -0.5 1.6 -0.5 1.7 -0.4 1.7 -1.2 1.6 -0.5 1.7 -0.2 1.6 -0.6 1.7 -0.2 1.7 -1 1.6 -0.2 1.7 -0.3 1.7 -0.1 1.6 -0.2 1.7 -0.1 1.7 0 1.6 -0.1 1.7 0 1.7 -0.5 1.6 -0.1 1.7 0.8 1.6 -0.4 1.7 0.1 1.7 0 1.6 -0.3 1.7 0.9 1.7 -0.9 1.6 0.6 1.7 -0.5 1.7 0.2 1.6 0 1.7 -0.2 1.7 0.2 1.6 -0.7 1.7 0.8V391.4z"/><path d="M607.2 425.6V416.8l1.7 -0.7 1.7 -0.4 1.6 -0.7 1.7 0 1.7 -0.1 1.6 -0.5 1.7 -0.4 1.7 -0.5 1.6 -0.6 1.7 -0.2 1.6 -0.3 1.7 -0.8 1.7 0 1.6 -0.7 1.7 -0.6 1.7 -0.2 1.6 -0.9 1.7 -0.1 1.7 -1 1.6 0.1 1.7 -0.4 1.7 -0.3 1.6 -0.8 1.7 -0.6 1.7 0.1 1.6 -0.4 1.7 -0.6 1.6 -0.9 1.7 -0.7 1.7 -0.4 1.6 -0.8 1.7 -0.8 1.7 -0.7 1.6 -0.3 1.7 -0.5 1.7 -1 1.6 -1.1 1.7 -0.1 1.7 -0.7 1.6 -0.7 1.7 -0.3 1.7 -1.1 1.6 -0.3 1.7 -0.4 1.6 -0.9 1.7 -0.6 1.7 -0.8 1.6 -0.4 1.7 -0.4 1.7 -0.8 1.6 -0.4 1.7 -0.7 1.7 0.1 1.6 -0.6 1.7 -0.2 1.7 -0.5 1.6 -0.5 1.7 -0.2 1.6 0 1.7 0.3 1.7 -0.5 1.6 -0.2 1.7 -0.3 1.7 -0.3 1.6 0 1.7 0.1 1.7 -0.2 1.6 0.3 1.7 0 1.7 -0.6 1.6 0.2 1.7 -0.1 1.7 -0.1 1.6 0 1.7 0.2 1.6 -0.3 1.7 0.1 1.7 -0.3 1.6 -0.2V392.6z"/><path d="M608.1 426.8V416.1l1.7 -0.8 1.6 0.2 1.7 -0.6 1.6 0.4 1.7 -0.9 1.7 0.3 1.6 -0.4 1.7 -0.1 1.7 -0.7 1.6 -0.4 1.7 -0.2 1.7 -1.1 1.6 0 1.7 0.1 1.7 -0.6 1.6 -0.3 1.7 -0.5 1.7 -0.3 1.6 0 1.7 -1.2 1.6 -0.2 1.7 -0.3 1.7 -0.5 1.6 -0.2 1.7 -0.1 1.7 -0.3 1.6 -0.8 1.7 -0.3 1.7 -0.7 1.6 -0.5 1.7 -1 1.7 -0.4 1.6 -0.8 1.7 -0.5 1.7 -0.5 1.6 -1 1.7 -0.4 1.6 -0.5 1.7 -1 1.7 -0.7 1.6 -0.7 1.7 -0.4 1.7 -0.5 1.6 -0.7 1.7 -0.2 1.7 -0.7 1.6 -0.6 1.7 -0.2 1.7 -0.9 1.6 -0.6 1.7 -0.2 1.6 -0.8 1.7 0 1.7 -0.7 1.6 -0.4 1.7 0 1.7 -0.5 1.6 -0.1 1.7 -0.1 1.7 -0.2 1.6 -0.3 1.7 -0.4 1.7 0.2 1.6 -0.4 1.7 -0.7 1.7 0.3 1.6 0 1.7 0 1.6 0.4 1.7 -0.8 1.7 -0.1 1.6 0.2 1.7 0.1 1.7 -0.3 1.6 0.1 1.7 -0.5 1.7 0.1 1.6 -0.3 1.7 0.2V393.8z"/><path d="M608.9 428.0V416.2l1.7 0.1 1.7 -1 1.6 0.3 1.7 -0.9 1.7 0.1 1.6 -0.3 1.7 0.3 1.7 -0.9 1.6 -0.3 1.7 -0.4 1.7 0.2 1.6 -0.5 1.7 -0.3 1.6 -0.3 1.7 -0.4 1.7 -0.1 1.6 -0.3 1.7 -0.4 1.7 -0.5 1.6 -0.1 1.7 -0.2 1.7 -0.2 1.6 -0.2 1.7 -0.6 1.7 0.1 1.6 -0.2 1.7 -0.6 1.7 -0.5 1.6 -0.7 1.7 -0.8 1.6 -0.5 1.7 -0.7 1.7 -0.6 1.6 -0.5 1.7 -0.5 1.7 -0.9 1.6 -0.5 1.7 -0.5 1.7 -0.5 1.6 -0.8 1.7 -1 1.7 -0.2 1.6 -0.7 1.7 -0.3 1.6 -0.5 1.7 -1 1.7 -0.3 1.6 -0.2 1.7 -1 1.7 -0.2 1.6 -0.7 1.7 -0.5 1.7 -0.2 1.6 -0.2 1.7 -0.8 1.7 -0.5 1.6 0 1.7 0.1 1.7 -0.5 1.6 -0.4 1.7 0.2 1.6 -0.4 1.7 -0.1 1.7 -0.3 1.6 -0.7 1.7 0.3 1.7 -0.5 1.6 0.2 1.7 0 1.7 -0.1 1.6 -0.2 1.7 -0.4 1.7 0 1.6 -0.1 1.7 -0.1 1.6 0.4 1.7 -0.3 1.7 0 1.6 -0.3V395.0z"/><path d="M609.8 429.1V415.2l1.7 0.4 1.6 -0.1 1.7 -0.2 1.7 0 1.6 -0.5 1.7 -0.3 1.6 -0.4 1.7 0.2 1.7 -0.3 1.6 -0.3 1.7 0.2 1.7 -0.2 1.6 -0.4 1.7 -0.1 1.7 -0.2 1.6 -0.2 1.7 -0.1 1.7 -0.1 1.6 -0.5 1.7 0 1.7 -0.2 1.6 -0.6 1.7 -0.1 1.6 -0.4 1.7 0.2 1.7 -0.7 1.6 -0.4 1.7 0 1.7 -0.6 1.6 -0.6 1.7 -0.6 1.7 -0.7 1.6 -0.7 1.7 -0.4 1.7 -0.9 1.6 -0.2 1.7 -0.8 1.6 -0.8 1.7 -0.7 1.7 -0.7 1.6 -0.5 1.7 -0.5 1.7 0 1.6 -0.7 1.7 -0.6 1.7 -0.6 1.6 -0.7 1.7 -0.7 1.7 -0.1 1.6 0 1.7 -0.7 1.7 -0.8 1.6 -0.5 1.7 0 1.6 -0.8 1.7 -0.2 1.7 -0.6 1.6 0.5 1.7 -0.8 1.7 -0.2 1.6 -0.3 1.7 -0.2 1.7 -0.1 1.6 -0.3 1.7 0.1 1.7 0 1.6 -0.8 1.7 0.1 1.7 0 1.6 -0.7 1.7 0.3 1.6 -0.2 1.7 -0.3 1.7 0.1 1.6 -0.3 1.7 0.1 1.7 -0.7 1.6 0.1 1.7 -0.6V396.1z"/><path d="M610.6 430.3V415.7l1.7 -0.3 1.7 0.4 1.6 0 1.7 -0.5 1.7 -0.1 1.6 0.2 1.7 -0.4 1.7 0.1 1.6 -0.3 1.7 0.2 1.7 -0.5 1.6 0.1 1.7 -0.4 1.7 0.1 1.6 -0.2 1.7 -0.2 1.6 -0.2 1.7 -0.4 1.7 -0.3 1.6 0.2 1.7 0.2 1.7 -0.4 1.6 0 1.7 -0.7 1.7 0.1 1.6 -0.1 1.7 -0.3 1.7 -0.4 1.6 -0.9 1.7 -0.5 1.6 -0.2 1.7 -1 1.7 -0.3 1.6 -0.9 1.7 0.1 1.7 -1.5 1.6 -0.1 1.7 -0.6 1.7 -0.9 1.6 -0.1 1.7 -1 1.7 0.1 1.6 -1.3 1.7 -0.5 1.7 -0.4 1.6 0 1.7 -1 1.6 -0.4 1.7 -0.4 1.7 -0.4 1.6 -0.5 1.7 -0.4 1.7 -0.6 1.6 -0.6 1.7 -0.1 1.7 -0.5 1.6 -0.2 1.7 -0.2 1.7 -0.5 1.6 -0.2 1.7 -0.4 1.7 -0.5 1.6 0.5 1.7 -0.6 1.6 0.2 1.7 -0.5 1.7 0.1 1.6 -0.6 1.7 -0.5 1.7 0.4 1.6 -0.4 1.7 0.1 1.7 -0.4 1.6 -0.5 1.7 0.4 1.7 -0.2 1.6 0 1.7 -0.7 1.6 -0.2V397.3z"/><path d="M611.5 429.5V417.3l1.7 -0.4 1.6 0.6 1.7 -0.7 1.7 0.1 1.6 0.3 1.7 -0.1 1.7 -0.3 1.6 -0.5 1.7 -0.2 1.6 0 1.7 -0.3 1.7 0.2 1.6 0.1 1.7 -0.7 1.7 0.1 1.6 0.2 1.7 -0.3 1.7 -0.5 1.6 -0.1 1.7 0 1.7 0.2 1.6 -0.5 1.7 -0.5 1.6 0.1 1.7 -0.3 1.7 0.4 1.6 -0.4 1.7 -0.7 1.7 -0.6 1.6 -0.4 1.7 -0.2 1.7 -1.1 1.6 -0.5 1.7 -0.4 1.7 -0.9 1.6 -1 1.7 0 1.7 -0.5 1.6 -0.8 1.7 -0.8 1.6 -0.1 1.7 -0.5 1.7 -0.5 1.6 -1.1 1.7 -0.2 1.7 -0.6 1.6 -0.3 1.7 -0.4 1.7 -0.4 1.6 -0.9 1.7 -0.6 1.7 0.2 1.6 -0.9 1.7 0.3 1.7 -0.3 1.6 -0.8 1.7 -0.5 1.6 -0.4 1.7 0 1.7 -0.3 1.6 -0.7 1.7 0.7 1.7 -1.1 1.6 -0.1 1.7 0.1 1.7 -0.4 1.6 -0.7 1.7 0.9 1.7 -0.8 1.6 0.1 1.7 -0.6 1.6 -0.2 1.7 -0.2 1.7 -0.3 1.6 -0.3 1.7 -0.1 1.7 0.3 1.6 -0.4 1.7 -0.7V396.5z"/></g>
<line x1="550.5" y1="345.5" x2="612.0" y2="430.3" stroke="#fff" stroke-width="2.4"/><line x1="548.8" y1="346.5" x2="610.3" y2="431.3" stroke="#777" stroke-width="0.9"/>
</svg></body></html>
